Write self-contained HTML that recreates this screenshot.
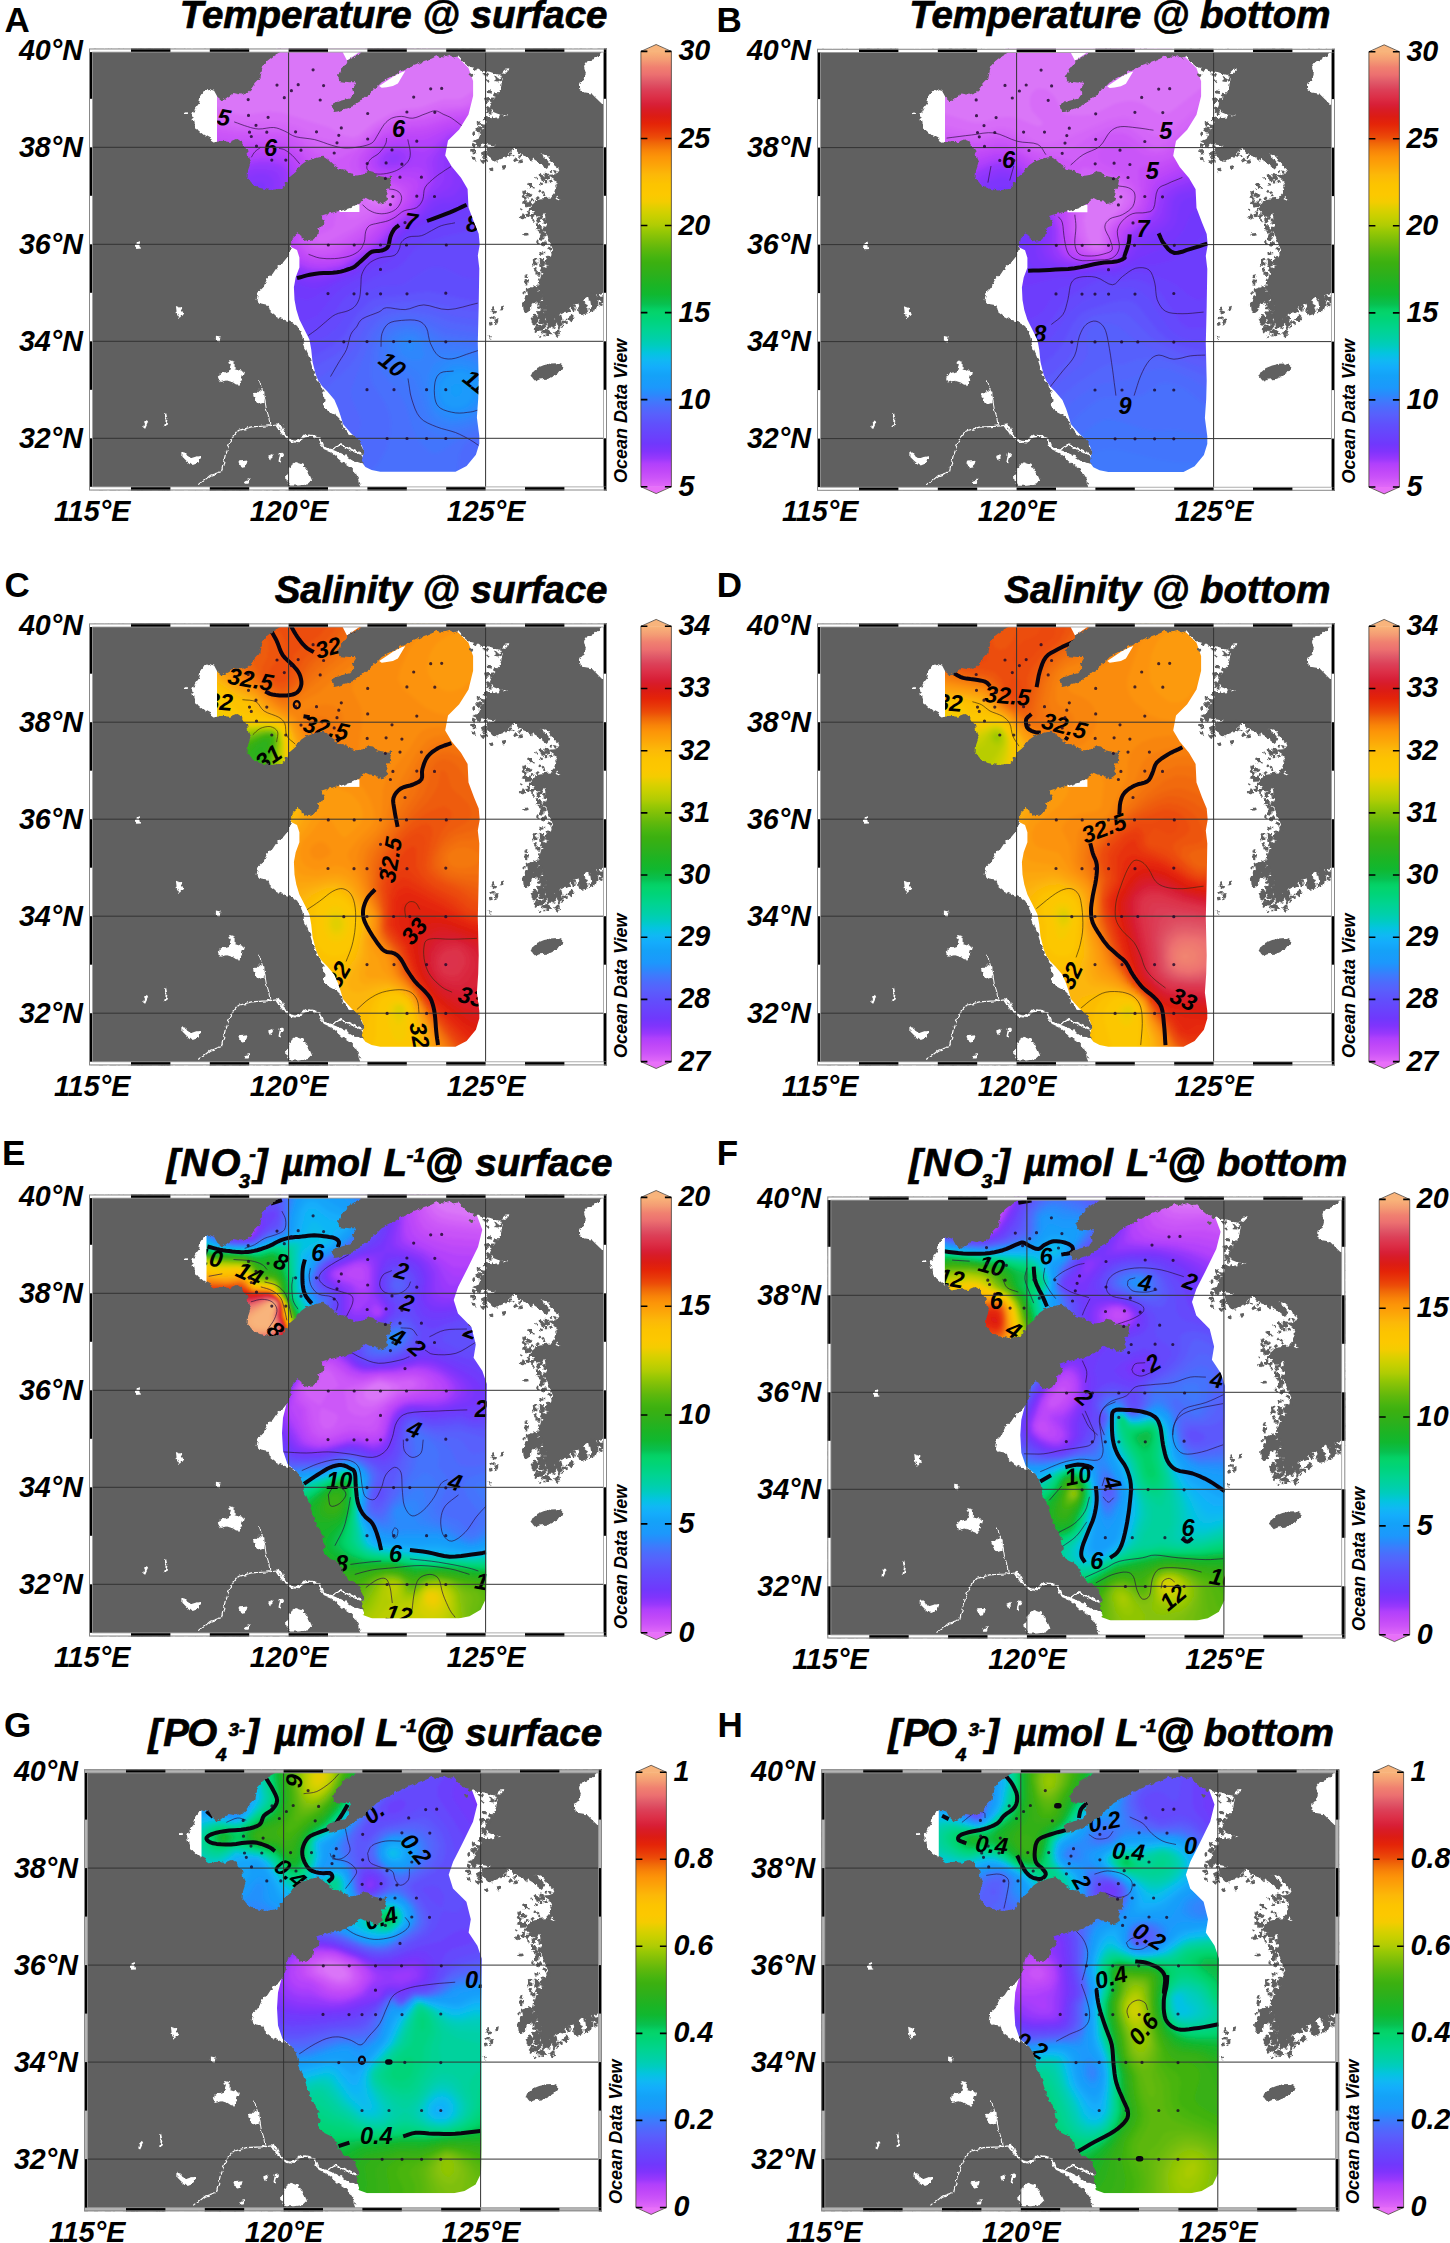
<!DOCTYPE html><html><head><meta charset="utf-8"><title>Figure</title><style>
html,body{margin:0;padding:0;background:#fff}svg{display:block}text{font-family:"Liberation Sans",sans-serif;font-weight:bold;fill:#000}.i{font-style:italic}.ax{font-size:28.7px;font-style:italic}.tt{font-size:38.5px;font-style:italic;stroke:#000;stroke-width:0.7px}.at{stroke-width:1.5px}.pl{font-size:35px}.odv{font-size:18px;font-style:italic}.cl{font-style:italic;font-size:22px}
</style></head><body>
<svg width="1450" height="2243" viewBox="0 0 1450 2243">
<defs>
<linearGradient id="cbg" x1="0" y1="1" x2="0" y2="0"><stop offset="0" stop-color="#e068f8"/><stop offset="0.0085" stop-color="#d860f8"/><stop offset="0.0198" stop-color="#cc54f8"/><stop offset="0.0365" stop-color="#c048f8"/><stop offset="0.0535" stop-color="#b040fc"/><stop offset="0.0648" stop-color="#9838fc"/><stop offset="0.0816" stop-color="#8034fc"/><stop offset="0.0986" stop-color="#7038fc"/><stop offset="0.1211" stop-color="#6844fc"/><stop offset="0.1436" stop-color="#6050fc"/><stop offset="0.1661" stop-color="#5860fc"/><stop offset="0.1829" stop-color="#4c6cfc"/><stop offset="0.1999" stop-color="#3c7cfc"/><stop offset="0.2111" stop-color="#2c88fc"/><stop offset="0.2279" stop-color="#1c98fc"/><stop offset="0.256" stop-color="#14a2f8"/><stop offset="0.273" stop-color="#14acfc"/><stop offset="0.29" stop-color="#10b8f4"/><stop offset="0.307" stop-color="#04c4e0"/><stop offset="0.3237" stop-color="#00ccc0"/><stop offset="0.3407" stop-color="#00d0a8"/><stop offset="0.363" stop-color="#00d490"/><stop offset="0.3857" stop-color="#00d478"/><stop offset="0.3997" stop-color="#04d46c"/><stop offset="0.408" stop-color="#04d064"/><stop offset="0.4195" stop-color="#08c050"/><stop offset="0.442" stop-color="#10b830"/><stop offset="0.4645" stop-color="#1cb424"/><stop offset="0.487" stop-color="#2cb01c"/><stop offset="0.515" stop-color="#3cb010"/><stop offset="0.5256" stop-color="#44b410"/><stop offset="0.548" stop-color="#60b80c"/><stop offset="0.5706" stop-color="#80c008"/><stop offset="0.5874" stop-color="#98c804"/><stop offset="0.601" stop-color="#b0cc04"/><stop offset="0.621" stop-color="#c8d000"/><stop offset="0.638" stop-color="#dcd000"/><stop offset="0.655" stop-color="#f4cc00"/><stop offset="0.672" stop-color="#fcc800"/><stop offset="0.6944" stop-color="#fcc400"/><stop offset="0.717" stop-color="#fcb808"/><stop offset="0.7395" stop-color="#fca408"/><stop offset="0.7585" stop-color="#fc9408"/><stop offset="0.772" stop-color="#f88408"/><stop offset="0.789" stop-color="#f06808"/><stop offset="0.8026" stop-color="#ec4c08"/><stop offset="0.817" stop-color="#e83808"/><stop offset="0.834" stop-color="#e42408"/><stop offset="0.851" stop-color="#dc1c14"/><stop offset="0.868" stop-color="#d81c28"/><stop offset="0.879" stop-color="#d82038"/><stop offset="0.896" stop-color="#dc3048"/><stop offset="0.913" stop-color="#dc4058"/><stop offset="0.93" stop-color="#e05868"/><stop offset="0.947" stop-color="#ec7070"/><stop offset="0.9637" stop-color="#f08070"/><stop offset="0.9807" stop-color="#f49c74"/><stop offset="0.9966" stop-color="#f8b078"/><stop offset="1" stop-color="#f8b47c"/></linearGradient>
<clipPath id="fr"><rect x="0" y="0" width="518.0" height="442.0"/></clipPath>
<filter id="jag" x="-6" y="-6" width="530" height="454" filterUnits="userSpaceOnUse"><feTurbulence type="fractalNoise" baseFrequency="0.22" numOctaves="2" seed="7" result="n"/><feDisplacementMap in="SourceGraphic" in2="n" scale="4.5" xChannelSelector="R" yChannelSelector="G"/></filter>
<filter id="bl" x="-5%" y="-5%" width="110%" height="110%"><feGaussianBlur stdDeviation="1.6"/></filter>
<g id="land" fill="#606060" filter="url(#jag)"><path d="M0,0 191.2,0 191.2,3.6 184.7,7.3 178.1,12.4 174.4,16.6 172.6,23.2 171.3,29.7 167,34 162.3,39.9 157.7,44.2 151.1,45.9 144.6,44.6 139,48.3 133.5,52.6 128.4,48.3 125.1,42.2 120.4,40.8 114.8,43.6 111.7,48.3 110.2,54.8 106.1,60 103.1,66.9 104.6,74.9 109.2,81.8 114.8,86.5 121.4,90.2 125.5,93 130.3,92.1 140,93.4 147,90.6 151.5,91.7 154.5,97.3 158.2,101.4 159.5,110.7 161.4,114.8 159,121.9 158.6,129.3 163.8,135.8 170.7,139.5 180.9,141.6 190.6,140.5 195.8,136.8 199.9,129.3 207.1,123.2 212,116.4 218.2,112.1 228.2,108.9 234.4,108.3 239.3,111.4 244.3,116.4 250.5,120.1 256.7,121.4 261.7,125.7 267.9,126.9 275.3,125.7 280.3,122.6 284,123.2 287.8,126.9 295.2,128.2 303.3,128.2 302,132.5 300.8,138.7 298.3,141.2 297.1,146.2 298.9,151.2 294.6,154.3 289,155.5 285.3,151.8 280.3,151.2 276.6,149.3 272.9,152.4 267.9,156.1 261.7,159.2 254.2,161.7 248,162.9 240.6,164.8 233.1,167.3 235.6,172.3 233.1,177.2 229.4,180.9 227.5,188.4 222,192.1 214.5,193.4 213.3,187.2 208.3,184.7 204,188.4 203.3,193.4 202.1,199.6 199.6,207 194.7,213.2 188.4,218.2 183.5,225.6 178.2,230.1 174.4,238.7 169.5,243.7 167.6,251.2 172,256.1 179.4,257.4 180.7,262.3 186.9,267.3 193.1,270.4 200.5,272.9 208,277.2 211.7,283.4 214.2,292.1 216.7,300.8 220.4,309.5 223.5,319.4 227.2,330.6 230.5,333.9 234.2,342.6 235.5,351.3 234.2,358.8 240.4,363.7 247.9,367.5 252.9,372.4 254.1,378.6 259.1,384.8 266.5,388.6 271.5,394.8 274.6,401 273.5,407.5 273.3,414.9 266.5,424.6 270.2,430.8 272.7,442 0,442Z"/><path d="M272.9,0 272.9,3.3 259.2,11.4 250.5,23.8 248.7,26.9 250.5,32.5 260.4,33.7 266.7,33.7 262.9,39.9 264.2,44.9 260.4,49.9 250.5,52.4 244.3,54.8 243.1,58.6 244.9,63.5 248.7,62.9 255.5,60.4 265.4,57.3 267.9,54.8 271.6,52.4 275.3,48.6 280.3,46.2 284,41.2 289,37.5 292.7,33.7 300.2,30 306.4,26.3 315.1,21.3 321.3,18.8 327.5,16.4 334.9,12.6 342.4,10.2 347.3,7.7 354.8,8.9 361,7.1 365,9 369,7.7 374.6,13.9 382,20.1 387,18.8 393.2,22.5 400.6,23.2 405.6,25 410.5,26.3 415.5,21.3 420.5,20.7 415.5,26.3 413,32.5 411.8,38.7 408,46.2 404.3,52.4 401.9,58.6 404.3,63.5 410.5,66 419.2,66 413,68.5 403.1,69.7 396.9,71 395.7,77.2 391.9,83.4 389.4,89.6 383.2,92.7 388.2,94.6 398.1,95.8 405.6,97 400.6,100.8 396.9,104.5 404.3,108.2 408.1,113.2 415.5,108.2 420.5,104.5 419.2,99.5 425.4,99.5 430.4,105.7 437.9,108.2 442.8,111.9 447.8,107 454,105.7 460.2,108.2 463.9,115.7 470.1,120.6 467,125.5 457.7,126.5 465.2,131.5 467.6,136.5 465.2,143.8 471.4,152.5 462.7,148.8 451.5,150 442.8,156.3 440.3,162.5 447.8,162.5 451.5,171.2 455.2,163.7 457.7,176.1 456.5,183.5 460.2,192.3 463.9,200.9 465.2,205.9 457.7,210.9 455.2,215.8 460.2,217.1 452.8,224.5 450.3,233.2 449,238.2 446,240.5 451.5,241.5 454,248.9 457.7,256.4 455.2,266.3 457.7,273.8 460.2,277.5 465.2,270.1 470.1,266.3 477.6,262.6 482.5,257.6 491.2,253.9 498.7,248.9 507.4,246.5 514.8,244 518.5,241.5 518,241.5 518,57.3 514.8,57.3 512.3,54.8 507.4,49.9 502.4,44.9 495,43.7 490,39.9 490,35 495,32.5 496.8,25 495,17.6 498.7,12.6 506.1,10.2 512.3,3.9 514,0Z"/><path d="M442.2,327.2 444.1,323.4 449,319.1 455.2,316.6 462.7,315 468.9,314.7 473.2,316.6 473.2,320.3 470.1,324 463.9,327.8 457.7,330.3 450.3,330.9 446.5,332.7 444.1,330.3Z"/><path d="M432.9,255.2 436.6,247.7 441.6,246.5 445.3,250.2 442.8,256.4 440.3,262.6 436.6,265.1 433.5,261.4ZM441.6,270.1 445.3,266.3 450.3,267.6 449,272.5 444.1,275ZM445.3,244 450.3,242.7 452.8,248.9 451.5,255.2 447.8,252.7ZM454,282.5 457.7,280 462.7,283.7 460.2,286.8 455.9,286.2ZM467.6,275 471.4,272.5 473.9,276.3 470.1,278.7ZM477.6,270.1 482.5,266.3 486.3,270.1 481.3,273.8ZM488.8,261.4 493.7,257.6 498.7,260.1 496.2,266.3 491.2,267.6ZM501.2,252.7 506.1,250.2 508.6,256.4 506.1,262.6 502.4,260.1ZM509.9,247.7 513.6,246.5 514.8,253.9 511.7,255.2ZM468.3,283.1 471.4,282.5 472,285.6 468.9,286.2ZM403.1,258.3 405.6,257.6 405.3,260.7 403.3,261.1ZM411.2,258.3 414.9,257 414.3,261.4 411.8,262ZM406.8,270.7 409.3,271.3 408.7,275 407.1,274ZM399.4,286.8 401.9,289.3 400.6,290.5ZM432.9,142.6 436.6,141.4 437.9,145.1 434.1,146.3ZM437.9,135.2 441.6,133.9 444.1,137.6 440.3,140.1ZM434.1,184.8 439.1,184.2 439.7,186.7 435.4,187.3ZM450.3,203.4 454,202.8 454.6,205.9 450.9,206.5ZM445.3,214.6 448.4,214 448.4,217.7 445.9,217.7ZM435.4,227 438.5,226.4 437.9,229.5 435.6,229.2ZM436.6,240.7 444.1,238.2 449,240.7 447.8,246.9 441.6,250.6 437.9,246.9ZM451.5,128.9 455.2,127.7 456.5,131.4 452.8,132.7ZM387.6,73.5 391.3,72.8 392.5,75.9 388.8,76.6ZM382,100.8 385.7,100.1 386.3,103.3 383.2,103.9ZM383.2,107 385.7,107.6 387,111.9 384.5,110.7ZM396.9,99.5 404.3,98.3 410.5,102 415.5,105.7 413,110.7 405.6,113.2 400.6,108.2ZM444.1,107 451.5,105.7 457.7,110.7 461.4,115.7 457.7,120.6 451.5,115.7 445.3,111.9ZM452.6,258.4 453.2,255.7 456,256.3 455.4,259.1ZM451.6,272.8 454.7,269.6 458.7,273.6 455.6,276.8ZM444.6,280.7 447.4,277.5 450.9,280.4 448.1,283.7ZM446.9,264.3 448.8,262.2 451.5,264.6 449.7,266.8ZM443.8,244.5 446.9,242.5 448.8,245.4 445.7,247.4ZM450.2,248.7 449.9,245.6 452.7,245.4 453,248.4ZM447.4,250.6 448.9,249.2 450.7,251.1 449.1,252.5ZM444.7,248.7 447.1,247.5 448.6,250.4 446.2,251.6ZM449.1,268.5 452.2,267.4 453.3,270.4 450.2,271.5ZM443.8,255.7 443.8,253.1 445.8,253 445.8,255.7ZM451.6,282.4 447.6,281 449.3,276.1 453.3,277.5ZM442.1,276.1 443,272.8 446.6,273.7 445.8,277ZM451.1,267.8 452.5,263.9 457.4,265.7 455.9,269.6ZM450,278 447.2,277.8 447.4,274.4 450.1,274.6ZM450.4,252.9 448.7,248.9 451.4,247.7 453.2,251.6ZM453.3,276.5 451.8,275.4 453.1,273.6 454.6,274.7ZM446,281.4 448.2,279.8 450.2,282.4 448,284.1ZM447.4,258.3 451.4,257.7 451.7,260.1 447.7,260.7ZM435.6,245.1 434.1,243.5 435.6,242.1 437.1,243.7ZM439,244.7 440.9,242.5 442.8,244.1 440.9,246.3ZM450.1,267.1 449.6,262.6 454.2,262.1 454.8,266.5ZM438.7,251.5 441.3,249.7 442.8,252 440.1,253.7ZM447.7,247.1 452.1,244 454.7,247.7 450.3,250.8ZM439.8,245.8 442.7,243.6 444.6,246.2 441.7,248.4ZM450.1,266 449.7,263.9 452.1,263.4 452.6,265.5ZM449,287.5 450.6,286.3 451.9,288 450.3,289.2ZM444.9,250.5 444.8,247.5 447,247.4 447.1,250.4ZM447.1,254.3 449.4,253.5 450.4,256.4 448.1,257.2ZM452.2,248.3 455.8,248 456,250.3 452.4,250.6ZM448.8,255.9 446.7,253.7 448.5,252.1 450.5,254.3ZM453.1,257.1 452,255.2 454.4,253.8 455.4,255.7ZM454.1,257.4 453.3,253.5 457.5,252.7 458.3,256.6ZM446.5,275.3 444.5,271.8 447.6,270.1 449.6,273.6ZM454.7,264.2 452.5,263 453.8,260.6 456,261.8ZM447.2,251.2 448.2,247.3 453.2,248.6 452.2,252.5ZM445.2,248 448.5,247.1 449,249.3 445.8,250.1ZM445.5,283.1 447.6,279.9 450,281.4 447.9,284.7ZM452.4,271.2 448.5,267.9 452.5,263.4 456.3,266.7ZM448.4,277.1 446.6,276.2 447.4,274.8 449.2,275.6ZM449.7,265.1 452.5,262 454.4,263.8 451.6,266.9ZM445.2,247.1 443.6,243.8 447.7,241.7 449.4,245ZM452.3,260.6 453.5,259.3 454.6,260.4 453.3,261.6ZM451.6,261.5 451.4,256.4 457.9,256.1 458.1,261.2ZM453.3,286.5 455.3,286.3 455.4,287.8 453.5,288ZM451,271.7 449.8,268.2 452.8,267.2 454,270.6ZM452.2,282 451.3,280 453.1,279.2 454,281.1ZM453.8,269.9 454.2,267.6 456.5,268 456.1,270.3ZM454.3,261.4 452.4,260.8 453.2,258.3 455.1,259ZM453.2,273.2 449.2,269.8 453.2,265.2 457.2,268.6ZM452.7,246.8 448.6,245.7 449.8,241 453.9,242ZM449.8,245 452.3,243.2 453.6,245.2 451.2,246.9ZM441.9,251.8 444.3,248.8 448.2,251.8 445.8,254.8ZM441.9,270.9 442.7,268.4 445.3,269.2 444.5,271.7ZM443.8,247.8 445.5,246.4 447.1,248.4 445.3,249.7ZM450.6,272.8 451.2,271 452.7,271.5 452.1,273.4ZM470.3,275.6 467.1,273.8 469.4,269.9 472.5,271.7ZM499.4,260 503.4,259.3 504.3,263.7 500.2,264.5ZM454.6,278.7 453.4,274.3 456.1,273.6 457.3,277.9ZM505.6,252.3 508.8,252.1 508.9,255.6 505.8,255.7ZM497.1,259.3 494.2,257 496,254.6 499,256.9ZM467.7,283.2 468.8,281 470.7,282 469.7,284.1ZM456.1,280.2 454.4,278.3 455.9,276.9 457.6,278.7ZM449.7,272.4 452,270.5 453.6,272.6 451.4,274.4ZM467.6,288.4 465,286 468,282.7 470.7,285.1ZM469.4,274.4 470.7,272 472.9,273.1 471.6,275.6ZM475.8,275.4 472.9,274.9 473.3,272.1 476.3,272.6ZM493.3,258.7 493.5,254.4 497.5,254.6 497.3,258.9ZM508.5,248.5 508.8,246.3 510.4,246.6 510.1,248.7ZM469,281 468.9,278 470.8,277.9 470.9,280.9ZM474.1,280.5 472,279.1 473.7,276.7 475.7,278ZM475.2,274.1 476.2,271.8 478.3,272.8 477.2,275ZM482.3,267.6 484.4,267.6 484.4,269.4 482.3,269.4ZM499.7,251.5 499.3,247.5 503.8,247 504.3,251ZM508.1,251.6 507.5,249.5 509.4,249 510,251.1ZM483.8,261.8 482.1,258.5 485.3,256.9 487,260.2ZM466.3,278.4 463,276.8 464.2,274.6 467.4,276.3ZM455.7,270.9 452,269.3 453.5,266 457.2,267.7ZM465,269.2 469.6,266.7 471.5,270.1 467,272.6ZM508.7,252.2 508.1,250.2 510.5,249.5 511.1,251.5ZM515.8,249.9 514.5,246.4 517.3,245.4 518.6,248.9ZM466.4,272.6 465.4,267.2 472.3,265.9 473.3,271.4ZM451.8,284.4 453,281.5 456.5,282.8 455.3,285.8ZM507.1,251.2 508.4,247.4 512.4,248.8 511.1,252.6ZM459.3,275.9 463.4,273.1 465.5,276.2 461.4,279ZM507.1,250.5 502.1,249.8 502.8,244.7 507.8,245.4ZM462.7,280.2 460.8,276 463.6,274.8 465.5,278.9ZM490.5,255.5 492.6,253.1 494.8,255.1 492.7,257.5ZM451.5,259.7 453.2,255.7 458.4,257.8 456.8,261.8ZM454.8,280.6 451.7,278.9 453.1,276.5 456.2,278.2ZM500.6,253.6 499.2,251.1 501.3,249.9 502.7,252.5ZM460.1,273.1 463.2,268.8 468.6,272.7 465.5,277ZM472.4,274.3 474.2,273.1 475.2,274.4 473.3,275.7ZM455.4,260.6 451.5,257.1 454.2,254.1 458.1,257.7ZM449.5,270.9 453.2,269.6 454.7,273.8 451.1,275.1ZM495,262.3 498.6,261.6 499.2,264.8 495.6,265.5ZM451.2,262.1 453.9,261.2 454.7,263.6 452,264.5ZM458.8,279.6 458.4,275.4 462.6,274.9 463.1,279.1ZM451.8,254.7 453.1,251.2 457,252.7 455.6,256.1ZM494.1,262 493.3,257.8 496.6,257.1 497.4,261.4ZM449.9,263.7 451.1,262 452.8,263.1 451.6,264.8ZM451.3,269.9 448.9,266.5 452.2,264.1 454.7,267.4ZM451.8,257.5 449.9,255.4 452.1,253.5 454,255.6ZM490.2,255.9 489.8,253.7 491.2,253.5 491.7,255.6ZM491.2,254.2 493.6,251.7 496.7,254.5 494.4,257.1ZM454,277.1 453.7,274 457.7,273.5 458,276.7ZM509.3,254.2 507.1,253.6 507.5,251.9 509.8,252.6ZM490.5,262.7 488,261.6 489.3,258.7 491.8,259.8ZM509,257.4 509.9,254.3 513.8,255.4 512.9,258.5ZM501.5,248 506.8,245.9 508.8,251.1 503.5,253.2ZM454.8,278.3 453,277.7 453.4,276.5 455.2,277.2ZM457.4,263.3 453.6,262.5 454.2,259.6 458.1,260.5ZM475.9,262.2 480.8,259.9 482.3,263.3 477.5,265.6ZM454.6,270.5 452.2,269 453.8,266.6 456.1,268.2ZM489.4,260.2 490.4,256.3 493.7,257.1 492.7,261ZM488.8,253.7 493.9,251.6 495.8,256.1 490.6,258.2ZM484.2,259.9 481,257.9 482.6,255.5 485.7,257.5ZM451,260.6 451.9,259.1 453.4,260.1 452.6,261.5ZM484.5,262.5 484.7,260.2 486.5,260.4 486.2,262.7ZM473.9,273.9 477.3,273 477.9,275.2 474.6,276.1ZM465.6,285 465.2,283.4 466.7,283 467.1,284.7ZM454.3,252.5 456.8,251.5 457.7,253.5 455.3,254.6ZM453.3,269.6 451.6,264.9 455.4,263.5 457.1,268.2ZM451.7,273.6 450.3,272.8 451.3,271.2 452.7,272ZM463.6,285.9 461,285.2 461.5,283.5 464.1,284.2ZM453.5,255.2 451.4,253.6 452.9,251.7 455,253.3ZM437.9,154 439.9,152.9 441.1,155.1 439.1,156.2ZM447.2,180.8 447.1,176.5 452.7,176.4 452.8,180.7ZM455.8,134.8 455.6,131.6 459.1,131.5 459.2,134.7ZM453.8,146.9 455.4,144.6 457.8,146.2 456.3,148.5ZM448.4,182.8 451.3,179.6 454,182.1 451.1,185.2ZM452.7,187.3 452.5,183.6 455.8,183.5 455.9,187.2ZM449.2,142.9 450.7,140.9 452.5,142.2 451.1,144.2ZM445.8,140.1 443.5,139.7 443.8,137.8 446.1,138.1ZM437.4,165.7 438,162.4 441.2,163 440.5,166.3ZM453.7,145.4 451.9,143.2 454.2,141.2 456.1,143.5ZM445.2,214.4 443.1,211.7 446.5,209 448.6,211.7ZM459,210.9 456.5,208.4 459.1,205.7 461.6,208.2ZM453.8,217.5 449.3,214.6 452.3,210 456.7,212.8ZM453.1,169.7 456.6,169.6 456.8,172.2 453.2,172.4ZM439.4,149.2 437.6,146.7 440.7,144.5 442.5,147.1ZM448.3,232.4 449.6,229.7 452.3,230.9 451.1,233.6ZM449.1,168.6 452.2,168.4 452.4,171.7 449.3,171.8ZM435.6,154.5 439.6,153.5 440.7,157.9 436.8,158.9ZM458.2,200.3 460.1,197.9 462.9,200.1 461,202.5ZM446.7,242 442.6,240.4 444.1,236.8 448.1,238.5ZM442,171.3 444.5,170.2 445.9,173.3 443.5,174.5ZM451.6,213.6 451,211.8 453,211.2 453.6,213ZM449.7,211.2 455,210.5 455.8,217.2 450.5,217.9ZM447.3,172.6 448.7,169.9 451.6,171.3 450.3,174ZM461.9,208.2 462.9,204.8 465.5,205.6 464.5,209ZM441.6,165.5 445.2,165.4 445.3,167.9 441.7,168ZM460,132.2 462.2,130.8 464,133.5 461.8,134.9ZM459.3,130.4 455.7,130.4 455.8,126 459.3,126ZM445,222.5 446.4,219.5 448.5,220.4 447.1,223.5ZM454.6,183.4 453.1,179.4 457,177.9 458.6,181.9ZM458.4,131.5 457.2,129.7 459.4,128.3 460.6,130.1ZM442.8,170.9 441.4,168.5 443.7,167.1 445.1,169.5ZM445.2,152.5 446.9,152.1 447.3,153.9 445.7,154.3ZM462.6,207.4 462.1,202.4 466.4,201.9 466.9,206.9ZM450.8,222.5 453.1,217.6 458.2,220 456,224.9ZM458.8,127.1 455.3,126.9 455.4,124.3 459,124.5ZM444.2,217.2 442.4,214.1 446,212 447.8,215.1ZM452.9,189 452.7,184.6 456.9,184.4 457.1,188.8ZM446.4,149.7 449,147.5 450.8,149.6 448.2,151.8ZM452.1,197.1 453.5,193.3 456.8,194.5 455.4,198.3ZM453.3,137.2 450.8,136.2 451.7,134.1 454.2,135.1ZM454.2,191.4 450.1,190.3 451.2,186.3 455.2,187.4ZM457.4,217 460.3,216.8 460.5,219.6 457.6,219.8ZM446.3,175.2 448.9,174.6 449.4,176.8 446.8,177.4ZM446.7,131.3 446.1,128.7 448,128.2 448.6,130.8ZM449.9,212.4 450.6,209.3 452.5,209.7 451.8,212.8ZM466.5,125.5 464.1,124.5 465.4,121.5 467.7,122.5ZM438.1,167.1 438.9,164.9 440.9,165.7 440.1,167.9ZM439.2,235.9 435.1,235.4 435.8,230.4 439.9,231ZM436.2,166.1 437.3,164.7 439,166 437.9,167.4ZM433.5,170.8 430.8,168 433.6,165.3 436.3,168ZM443.6,153.9 441.3,152.8 442.2,150.7 444.6,151.7ZM444.2,164.7 447.7,160.2 452.6,164.1 449,168.5ZM455.5,196 454.7,193.2 457.3,192.4 458.1,195.2ZM436.1,158.4 435.8,152.7 442.8,152.4 443.1,158.1ZM432.4,147.6 435.3,145.7 437.8,149.3 435,151.3ZM433.1,154.6 434.6,150.8 437.3,151.9 435.9,155.7ZM447.5,195.6 447.2,192.2 450.3,191.9 450.6,195.4ZM437.2,147.7 437.9,144.5 440.4,145.1 439.6,148.3ZM455.4,204.6 457,204.3 457.3,205.4 455.6,205.7ZM454.2,173.2 457.4,171.6 459,174.6 455.8,176.3ZM450.3,167 447.6,166.9 447.7,164.1 450.4,164.2ZM451.3,227.3 446.3,226.9 446.6,223.6 451.6,224.1ZM432,166.3 432.9,164.7 433.9,165.3 433,166.9ZM431.9,160.6 433.4,159.1 434.9,160.6 433.4,162.1ZM449.5,126 452.7,124.6 454.6,128.6 451.4,130.1ZM440.2,167.6 441.3,165.6 443.3,166.6 442.1,168.7ZM460.5,122.7 461.5,120.9 463.4,121.9 462.4,123.7ZM462,148.2 465.5,144 469.2,147.1 465.7,151.3ZM436.2,232.2 438.9,232 439.2,235.4 436.5,235.7ZM390.4,84.9 386.2,81.7 389.6,77.3 393.8,80.6ZM414.9,106.5 418.9,103.7 420.8,106.4 416.8,109.3ZM397.7,114.8 395,112.8 396.5,110.9 399.1,112.9ZM385.5,99.4 381.9,97.3 383.7,94.2 387.3,96.2ZM396.6,62.9 398.5,57.8 404.1,59.8 402.2,65ZM395.9,111 395,107.7 397.7,107 398.5,110.3ZM399.7,66.1 399.9,63.8 401.9,64 401.6,66.3ZM420,105.8 421.9,103.6 423.5,105 421.7,107.2ZM395.1,49.4 397.3,49 397.8,51.6 395.7,52ZM405.4,70.9 402.8,69.2 403.8,67.6 406.4,69.2ZM400.2,34.7 397.7,32.6 398.9,31.1 401.5,33.1ZM402.3,123.4 399.9,120.2 402.7,118 405.1,121.2ZM396.4,99.7 395.4,97 397.1,96.4 398.1,99ZM397,53.7 395.7,49.7 399.7,48.3 401.1,52.3ZM403.7,56.3 400,53.1 404,48.6 407.6,51.7ZM416.3,30.6 412.3,30.1 413,25 417,25.5ZM396.2,80.2 391.5,78.9 392.6,75.2 397.2,76.4ZM425.4,113.8 423.6,110.7 427.1,108.7 428.9,111.8ZM394.6,26.8 394.7,24.6 396.6,24.6 396.6,26.9ZM394.2,109.2 391.7,104.2 396.6,101.7 399.2,106.6ZM393.8,109.3 396.2,109 396.4,110.4 394,110.8ZM386.4,96.4 388.8,91.9 393.4,94.4 391,98.9ZM413.6,121.2 412.7,117.3 416,116.5 416.9,120.4ZM406.9,30.5 404.9,28.7 406.4,27.1 408.3,28.9ZM423,106.9 424,105.2 425.7,106.1 424.7,107.9ZM410.7,32 409.8,29.8 412.5,28.7 413.4,30.9ZM410.9,68.7 412.3,65.5 414.9,66.6 413.5,69.8ZM383.2,28.4 380.3,26.7 381.7,24.4 384.6,26ZM396.1,60.6 398.3,58.7 399.6,60.2 397.4,62.1ZM430.8,115.1 429.4,112.2 432,110.9 433.4,113.8ZM406.1,49.2 403.8,47.9 405,45.9 407.2,47.2ZM396.7,24.8 398.8,23.8 400,26.3 397.9,27.3ZM407.6,49 404,47.9 405.3,43.6 408.9,44.7ZM396.2,111.9 395.3,110.1 396.5,109.4 397.4,111.2ZM382.4,87.4 382.3,83.9 385.9,83.9 386,87.4ZM398.8,61.6 395.9,60.4 397.1,57.6 399.9,58.7ZM398.6,44.6 399.2,41.4 403.1,42.1 402.5,45.3ZM420.9,104.1 417,101 419.9,97.2 423.9,100.3ZM394.5,72.1 396.3,67.6 400.4,69.3 398.6,73.8ZM394.7,115.5 391.4,113.8 392.8,111.3 396,113ZM411.5,27.6 410.8,24.7 413.1,24.1 413.8,27.1ZM387.1,23.1 383,20.9 385.4,16.4 389.5,18.5ZM429.3,108 431.5,106.2 432.8,107.8 430.7,109.6ZM405.4,33.7 405.8,29.6 410.2,30 409.8,34.1ZM384.9,105.9 384,101.8 386.6,101.2 387.5,105.3ZM403.6,270.9 403.9,267.7 406.7,268 406.4,271.2ZM404.3,265.8 402.4,263 405.4,260.9 407.3,263.6ZM402.4,271.6 401.3,269.9 403,268.8 404.1,270.5ZM404.6,274.1 407.6,272.1 408.9,274 405.9,276ZM405.4,262 407.1,261.5 407.5,262.8 405.8,263.3ZM400.6,277.2 399.7,273.9 401.9,273.3 402.8,276.7Z"/><path fill="#fff" d="M140,311.4 145.6,313.2 145.6,320.7 154.9,323.5 153,330 149.3,337.4 143.7,333.7 138.1,331.9 130.7,333.7 128.8,328.1 134.4,324.4 140,322.5 141.8,317ZM164.2,346.8 169.8,341.2 175.4,343 175.4,354.2 169.8,356.1 166,352.3ZM86.9,257.4 91.6,259.2 94.4,264.8 90.6,269.5 87.8,264.8ZM126.9,287.2 131.6,288.1 130.7,292.7 126.9,291.8ZM54.9,375.6 58.4,371.9 59.2,373.8 56.2,380.3 54.3,379.3ZM75.2,364.4 77,363.9 78.5,371 77,378.4 75.2,377.5 76.7,371ZM93.4,403.5 97.1,404.5 100.9,410.1 106.5,408.2 112,407.3 110.2,413.8 102.7,416.6 97.1,411.9 93.4,408.2ZM149.3,412.9 158.6,411.9 156.7,418.4 152.1,419.4ZM179.1,408.2 183.7,406.3 180.9,411.9ZM191.2,403.5 194,405.4 191.2,414.7 189.3,413.8ZM154.9,432.4 160.5,430.6 159.5,435.2 155.8,435.2ZM197,425.8 202,417.1 206.9,413.4 214.4,415.9 219.3,423.3 223.1,432 219.3,435.7 210.7,437 200.7,437 197.6,432ZM94.9,64.5 97.5,63.4 98.1,65.2 95.7,66.4ZM47.8,193.5 50.6,192.6 52.1,200.1 46.9,200.4ZM227.4,387.9 231.1,389.2 234.2,397.3 238.6,399.7 243.5,401 247.9,402.5 253.5,405.3 260.3,409 267.8,413.6 273.3,414.9 274.6,420.8 266.5,424.6 261.5,419.6 254.1,414.6 247.9,409 241.7,404.1 235.5,401.4 231.8,396.6 228.7,389.8Z"/><path fill="none" stroke="#fff" stroke-width="2.0" d="M243.5,401.3 246.7,399 250.4,396.3 255.3,397.5 262.8,401.3 267.8,404 273,406.3"/><path fill="none" stroke="#fff" stroke-width="1.2" d="M110.2,436.1 121.4,426.8 132.5,423.1 136.3,406.3 141.8,391.4 149.3,382.1 162.3,378.4 177.2,377.5 188.4,376.5"/><path fill="none" stroke="#fff" stroke-width="2.2" d="M188.3,377.4 193.3,384.8 202,392.3 208.2,393.5 215.6,387.9 221,387 228,388.6"/><path fill="none" stroke="#fff" stroke-width="2.5" d="M188.4,376.5 193,378.4 194.9,384.9"/><path fill="none" stroke="#fff" stroke-width="1.0" d="M169.8,331.9 172.6,339.3 175.4,348.6 177.2,359.8 180,369.1 180.9,376.5"/><path d="M246.7,399.7 251.6,397.3 259.1,401 266.5,407.2 272.7,410.9 272.7,414.6 267.8,413.4 260.3,408.4 252.9,404.7 247.9,402.2Z"/></g>
<g id="grid"><line x1="199.6" y1="2" x2="199.6" y2="440.0" stroke="#333" stroke-width="1"/><line x1="396.6" y1="2" x2="396.6" y2="440.0" stroke="#333" stroke-width="1"/><line x1="2" y1="98.8" x2="516.0" y2="98.8" stroke="#333" stroke-width="1"/><line x1="2" y1="195.8" x2="516.0" y2="195.8" stroke="#333" stroke-width="1"/><line x1="2" y1="292.8" x2="516.0" y2="292.8" stroke="#333" stroke-width="1"/><line x1="2" y1="389.8" x2="516.0" y2="389.8" stroke="#333" stroke-width="1"/></g>
<g id="frameW"><rect x="0" y="0" width="518.0" height="3.6" fill="#fff"/><rect x="0" y="438.4" width="518.0" height="3.6" fill="#fff"/><rect x="0" y="0" width="3.6" height="442.0" fill="#fff"/><rect x="514.4" y="0" width="3.6" height="442.0" fill="#fff"/><rect x="42.0" y="0" width="39.4" height="3.6" fill="#000"/><rect x="42.0" y="438.4" width="39.4" height="3.6" fill="#000"/><rect x="120.8" y="0" width="39.4" height="3.6" fill="#000"/><rect x="120.8" y="438.4" width="39.4" height="3.6" fill="#000"/><rect x="199.6" y="0" width="39.4" height="3.6" fill="#000"/><rect x="199.6" y="438.4" width="39.4" height="3.6" fill="#000"/><rect x="278.4" y="0" width="39.4" height="3.6" fill="#000"/><rect x="278.4" y="438.4" width="39.4" height="3.6" fill="#000"/><rect x="357.2" y="0" width="39.4" height="3.6" fill="#000"/><rect x="357.2" y="438.4" width="39.4" height="3.6" fill="#000"/><rect x="436.0" y="0" width="39.4" height="3.6" fill="#000"/><rect x="436.0" y="438.4" width="39.4" height="3.6" fill="#000"/><rect x="514.8" y="0" width="3.2" height="3.6" fill="#000"/><rect x="514.8" y="438.4" width="3.2" height="3.6" fill="#000"/><rect x="0" y="3.6" width="3.6" height="46.7" fill="#000"/><rect x="514.4" y="3.6" width="3.6" height="46.7" fill="#000"/><rect x="0" y="98.8" width="3.6" height="48.5" fill="#000"/><rect x="514.4" y="98.8" width="3.6" height="48.5" fill="#000"/><rect x="0" y="195.8" width="3.6" height="48.5" fill="#000"/><rect x="514.4" y="195.8" width="3.6" height="48.5" fill="#000"/><rect x="0" y="292.8" width="3.6" height="48.5" fill="#000"/><rect x="514.4" y="292.8" width="3.6" height="48.5" fill="#000"/><rect x="0" y="389.8" width="3.6" height="48.5" fill="#000"/><rect x="514.4" y="389.8" width="3.6" height="48.5" fill="#000"/><rect x="0.5" y="0.5" width="517.0" height="441.0" fill="none" stroke="#888" stroke-width="1"/><rect x="3.6" y="3.6" width="510.8" height="434.8" fill="none" stroke="#999" stroke-width="0.8"/></g>
<g id="frameG"><rect x="0" y="0" width="518.0" height="3.6" fill="#b4b4b4"/><rect x="0" y="438.4" width="518.0" height="3.6" fill="#b4b4b4"/><rect x="0" y="0" width="3.6" height="442.0" fill="#b4b4b4"/><rect x="514.4" y="0" width="3.6" height="442.0" fill="#b4b4b4"/><rect x="42.0" y="0" width="39.4" height="3.6" fill="#000"/><rect x="42.0" y="438.4" width="39.4" height="3.6" fill="#000"/><rect x="120.8" y="0" width="39.4" height="3.6" fill="#000"/><rect x="120.8" y="438.4" width="39.4" height="3.6" fill="#000"/><rect x="199.6" y="0" width="39.4" height="3.6" fill="#000"/><rect x="199.6" y="438.4" width="39.4" height="3.6" fill="#000"/><rect x="278.4" y="0" width="39.4" height="3.6" fill="#000"/><rect x="278.4" y="438.4" width="39.4" height="3.6" fill="#000"/><rect x="357.2" y="0" width="39.4" height="3.6" fill="#000"/><rect x="357.2" y="438.4" width="39.4" height="3.6" fill="#000"/><rect x="436.0" y="0" width="39.4" height="3.6" fill="#000"/><rect x="436.0" y="438.4" width="39.4" height="3.6" fill="#000"/><rect x="514.8" y="0" width="3.2" height="3.6" fill="#000"/><rect x="514.8" y="438.4" width="3.2" height="3.6" fill="#000"/><rect x="0" y="3.6" width="3.6" height="46.7" fill="#000"/><rect x="514.4" y="3.6" width="3.6" height="46.7" fill="#000"/><rect x="0" y="98.8" width="3.6" height="48.5" fill="#000"/><rect x="514.4" y="98.8" width="3.6" height="48.5" fill="#000"/><rect x="0" y="195.8" width="3.6" height="48.5" fill="#000"/><rect x="514.4" y="195.8" width="3.6" height="48.5" fill="#000"/><rect x="0" y="292.8" width="3.6" height="48.5" fill="#000"/><rect x="514.4" y="292.8" width="3.6" height="48.5" fill="#000"/><rect x="0" y="389.8" width="3.6" height="48.5" fill="#000"/><rect x="514.4" y="389.8" width="3.6" height="48.5" fill="#000"/><rect x="0.5" y="0.5" width="517.0" height="441.0" fill="none" stroke="#888" stroke-width="1"/><rect x="3.6" y="3.6" width="510.8" height="434.8" fill="none" stroke="#999" stroke-width="0.8"/></g>
</defs>
<rect width="1450" height="2243" fill="#fff"/>
<g transform="translate(89,48.5)">
<g clip-path="url(#fr)">
<clipPath id="rgA"><path d="M128,36.5 128,97.5 151,103.5 154,137.5 173,144.5 197,142.5 204,127.5 211,151.5 201,187.5 202,198.5 208,201.5 210.4,208.9 210.4,218.9 206.7,228.8 204.9,238.7 205.5,251.2 207.3,261.1 210.4,271 215.4,280.9 220.4,290.9 222.2,300.8 223.5,313.2 226.6,325.6 229.1,331.8 233,337.5 238,342.5 245.4,351.3 249.1,360 251.6,367.5 254,375.5 257.2,379.3 261.5,384.2 267,389.5 273,397.5 275,403.5 273,409.5 272.7,413.4 276.4,418.4 282.6,421.5 291.3,423.3 366.5,423.3 377.6,417.5 386.9,406.3 390.3,395.2 390.3,387.5 387.9,369.1 389.2,350.5 389.7,331.9 388.8,294.5 389.7,257.4 390.3,220.1 388.8,207.1 390.7,196.3 389.7,185.2 385.1,174 379.5,159.1 378.6,140.5 372,129.3 362.7,118.1 356.2,107 359,92.1 370.2,80.9 379.5,66 384.1,47.4 384.1,32.5 379.5,19.4 370.2,10.1 363,3.5 351,-2.5 191,-2.5 173,11.5 166,31.5 141,41.5Z"/></clipPath><g clip-path="url(#rgA)"><g filter="url(#bl)"><rect x="-10" y="-10" width="538.0" height="462.0" fill="#da76f8"/><path fill="#d76cf8" fill-rule="evenodd" d="M518,442l-518,0 0,-439 62,24 78,37 14,3 26,-4 12,1 48,15 14,8 10,2 6,-2 14,-12 20,-11 10,-3 18,-2 22,-8 14,0 5,-1 41,-27 16,-7 18,-8 30,-8 40,0zM296,156l4,-3 1,-3 -1,-2 -4,-2 -6,0 -6,1 -5,3 -1,2 1,2 5,2 8,1z"/><path fill="#d466f8" fill-rule="evenodd" d="M518,442l-518,0 0,-426 50,19 67,29 21,8 16,2 32,0 10,1 12,3 22,12 20,4 10,1 10,-3 16,-14 18,-10 10,-2 18,-2 22,-7 18,0 10,-5 36,-21 26,-11 36,-10 38,-7zM266,170l16,-8 12,-2 6,-3 4,-5 0,-4 -1,-2 -5,-3 -8,-1 -18,1 -8,3 -4,4 -2,4 -1,10 1,4 2,2z"/><path fill="#d060f8" fill-rule="evenodd" d="M518,442l-518,0 0,-416 42,15 86,33 20,5 40,1 10,1 12,5 18,12 8,3 8,0 16,-2 8,-2 6,-4 14,-13 8,-5 10,-4 28,-4 20,-6 20,-2 8,-3 38,-19 28,-11 34,-9 36,-5zM235,194l6,-2 23,-12 20,-14 16,-7 4,-3 2,-4 0,-6 -5,-4 -7,-2 -26,-3 -6,1 -5,2 -4,4 -3,8 -5,26 -3,3 -11,5 -3,4 0,2 2,2z"/><path fill="#cd59f8" fill-rule="evenodd" d="M518,442l-518,0 0,-406 104,36 27,8 17,3 40,1 10,1 12,6 16,13 12,5 8,2 6,-2 16,-9 20,-17 16,-9 10,-2 20,-2 20,-6 22,-3 50,-21 26,-8 32,-8 34,-4zM234,200l8,-2 8,-4 20,-13 16,-12 16,-9 4,-4 2,-4 1,-4 -2,-4 -7,-4 -18,-4 -20,-5 -6,-1 -4,2 -6,10 -10,28 -11,12 -4,6 0,6 1,4 5,2z"/><path fill="#c954f8" fill-rule="evenodd" d="M518,442l-518,0 0,-396 89,28 31,9 26,4 46,1 8,2 8,5 25,21 4,4 3,6 -1,12 -4,18 -5,10 -12,16 -2,8 1,6 3,5 4,2 8,1 12,-2 14,-8 18,-12 13,-12 13,-8 7,-8 2,-4 0,-4 -2,-4 -2,-2 -7,-3 -16,-3 -10,-4 -9,-6 -4,-6 0,-4 3,-6 20,-19 8,-6 16,-7 26,-3 22,-6 24,-4 50,-18 28,-8 30,-6 30,-3z"/><path fill="#c54ef8" fill-rule="evenodd" d="M518,442l-518,0 0,-383 77,21 36,8 29,4 48,1 8,2 6,3 8,6 13,14 5,8 1,8 -1,10 -3,10 -15,28 -1,6 0,6 3,6 4,4 6,3 10,0 8,-1 7,-2 25,-16 18,-16 14,-10 7,-8 2,-8 -3,-6 -7,-4 -23,-6 -9,-6 -4,-6 0,-6 3,-6 12,-13 10,-7 14,-6 28,-3 22,-7 30,-5 68,-18 30,-5 32,-3z"/><path fill="#c048f8" fill-rule="evenodd" d="M518,442l-518,0 0,-370 64,14 40,7 32,3 50,1 8,1 8,3 9,7 8,10 4,8 2,8 -1,8 -2,10 -14,28 -2,8 1,6 3,6 6,6 8,4 10,0 10,-1 6,-2 30,-19 14,-14 17,-14 6,-8 2,-8 -1,-4 -2,-2 -7,-4 -24,-6 -6,-4 -4,-6 -1,-6 4,-8 8,-9 10,-7 12,-4 28,-3 24,-8 32,-5 60,-12 34,-5 32,-1z"/><path fill="#bb45f9" fill-rule="evenodd" d="M518,442l-518,0 0,-358 55,10 41,6 34,2 52,-2 10,1 8,3 7,6 6,8 4,8 2,10 -3,14 -13,30 -1,8 1,6 4,8 7,6 9,4 11,1 10,-1 7,-2 31,-20 14,-14 18,-16 6,-8 3,-12 -1,-4 -2,-2 -6,-2 -26,-6 -6,-4 -3,-4 -1,-6 3,-6 6,-8 9,-7 14,-4 26,-1 20,-8 12,-3 98,-12 26,-2 26,0z"/><path fill="#b442fb" fill-rule="evenodd" d="M518,442l-518,0 0,-346 52,8 38,3 34,1 52,-4 12,1 10,3 6,5 5,7 3,8 1,8 -3,14 -12,28 -1,8 1,8 4,8 9,8 11,5 12,1 10,-1 8,-2 33,-21 15,-16 18,-16 7,-10 5,-14 -2,-4 -2,-2 -7,-2 -25,-3 -6,-2 -5,-5 -1,-6 2,-6 6,-6 8,-6 12,-3 20,1 8,-1 20,-10 14,-3 96,-6 50,0z"/><path fill="#af40fc" fill-rule="evenodd" d="M518,442l-518,0 0,-334 50,6 38,1 34,-1 50,-6 12,0 10,2 6,4 4,6 3,6 1,8 -3,14 -9,22 -3,8 -1,10 2,8 6,9 9,7 13,5 12,2 12,-2 8,-3 32,-20 17,-18 18,-16 12,-18 2,-6 0,-4 -1,-4 -4,-4 -6,-1 -26,0 -6,-1 -5,-4 -1,-4 1,-6 5,-6 6,-4 6,-2 6,-1 20,3 6,0 6,-2 18,-12 12,-3 100,-1 46,3z"/><path fill="#a83dfc" fill-rule="evenodd" d="M518,442l-518,0 0,-327 46,4 38,1 36,-2 52,-8 12,0 10,3 4,3 4,6 2,6 1,8 -3,12 -12,28 -1,10 2,10 6,10 9,7 14,6 14,1 12,-2 8,-2 34,-22 16,-17 20,-17 12,-20 2,-6 0,-6 -2,-5 -4,-4 -6,-1 -14,3 -10,1 -8,-2 -4,-2 -2,-4 2,-6 4,-5 6,-4 6,-1 6,0 16,5 6,1 8,-4 18,-14 12,-3 40,2 62,1 44,4z"/><path fill="#a13bfc" fill-rule="evenodd" d="M518,442l-518,0 0,-321 46,3 38,0 36,-3 50,-9 12,0 10,3 4,2 3,5 3,6 0,8 -3,12 -11,28 -1,10 2,10 6,10 10,8 15,6 14,1 12,-2 8,-2 32,-20 6,-5 14,-16 20,-16 12,-20 3,-6 0,-6 -4,-14 1,-4 15,-16 9,-7 6,-1 8,-1 36,3 66,3 40,4zM312,118l-10,2 -8,-2 -3,-2 0,-2 0,-4 5,-6 6,-3 8,-1 6,1 7,5 1,4 -3,4z"/><path fill="#9a39fc" fill-rule="evenodd" d="M518,442l-518,0 0,-315 46,2 38,0 36,-4 50,-11 10,0 10,2 4,3 4,5 1,6 0,6 -2,10 -10,22 -2,8 -1,10 2,10 6,10 10,8 16,7 14,2 12,-2 10,-3 32,-20 6,-5 16,-17 18,-14 15,-22 3,-6 1,-6 -2,-14 2,-6 11,-14 8,-5 12,-2 36,4 68,4 38,5zM310,116l-8,1 -6,-1 -2,-2 0,-4 3,-4 5,-3 6,-1 4,1 4,3 1,4 -2,4z"/><path fill="#9337fc" fill-rule="evenodd" d="M518,442l-518,0 0,-309 48,2 40,-2 32,-4 48,-12 10,0 8,1 4,2 4,4 2,10 -2,12 -9,20 -3,10 -1,12 3,10 7,10 11,8 16,6 14,2 10,-1 12,-4 32,-19 7,-6 15,-17 20,-15 19,-28 2,-6 -1,-14 3,-8 7,-10 8,-6 10,0 36,5 62,5 44,6zM306,114l-4,0 -3,-2 1,-4 6,-2 4,1 1,3 -1,2z"/><path fill="#8d36fc" fill-rule="evenodd" d="M518,442l-518,0 0,-300 48,0 40,-2 34,-6 44,-13 10,0 7,1 4,2 3,4 1,8 -2,10 -9,20 -3,10 -1,12 3,10 7,10 12,9 20,8 14,1 12,-2 12,-4 32,-20 7,-6 15,-16 19,-14 11,-16 11,-10 3,-4 2,-6 -1,-12 2,-8 5,-10 5,-4 9,0 32,6 66,7 44,8z"/><path fill="#8635fc" fill-rule="evenodd" d="M518,442l-518,0 0,-291 52,-1 42,-4 34,-7 38,-13 6,-1 6,1 6,4 1,6 -1,8 -9,20 -4,12 0,12 4,12 7,10 12,9 22,7 14,2 10,-1 16,-5 34,-21 6,-5 14,-16 22,-16 10,-14 18,-10 3,-4 1,-4 0,-18 1,-6 2,-4 3,-3 8,-1 26,5 62,8 52,11z"/><path fill="#7e34fc" fill-rule="evenodd" d="M518,442l-518,0 0,-282 52,-2 44,-4 34,-7 36,-13 8,0 2,2 0,6 -9,22 -3,12 1,14 5,12 10,12 12,8 26,8 12,1 20,-6 14,-6 30,-19 18,-20 21,-14 11,-13 6,-3 12,-2 4,-2 6,-8 5,-20 3,-4 2,-1 6,-1 12,0 50,5 34,7 34,9z"/><path fill="#7836fc" fill-rule="evenodd" d="M518,442l-518,0 0,-269 52,-3 76,-9 14,1 4,2 3,4 6,20 5,12 5,8 8,8 9,7 10,4 28,7 8,0 10,-2 22,-8 32,-20 8,-6 14,-16 19,-12 13,-12 6,-3 12,-1 6,-2 7,-6 13,-15 4,-3 6,-3 18,-1 30,3 34,7 36,11z"/><path fill="#7138fc" fill-rule="evenodd" d="M518,442l-518,0 0,-255 98,-7 14,0 10,1 6,3 6,3 23,27 9,8 8,5 16,6 20,3 10,3 6,1 10,-3 28,-12 16,-11 16,-9 6,-5 13,-16 19,-11 12,-8 6,-3 14,-3 6,-2 24,-16 10,-4 18,-2 26,3 32,9 36,13z"/><path fill="#6d3dfc" fill-rule="evenodd" d="M518,442l-518,0 0,-237 78,-5 16,0 14,2 10,3 8,4 28,19 16,9 14,6 34,9 6,-2 26,-16 16,-6 16,-12 16,-8 7,-6 11,-14 6,-4 28,-15 20,-5 34,-13 18,-2 24,3 32,10 35,14 5,3z"/><path fill="#6943fc" fill-rule="evenodd" d="M518,442l-518,0 0,-212 64,-4 18,1 16,2 24,7 78,34 8,2 8,1 6,-2 6,-3 16,-20 9,-8 17,-9 14,-10 14,-6 6,-4 18,-20 30,-14 34,-9 24,-2 24,3 31,11 27,12 26,14z"/><path fill="#6549fc" fill-rule="evenodd" d="M518,442l-518,0 0,-185 52,-3 36,2 30,7 66,21 16,3 14,-1 10,-3 9,-5 8,-8 13,-18 9,-8 23,-15 22,-9 6,-5 12,-14 8,-5 22,-8 28,-6 16,1 20,6 56,23 22,12 20,12z"/><path fill="#614efc" fill-rule="evenodd" d="M518,442l-518,0 0,-157 44,-1 32,1 28,4 64,12 18,1 16,-1 20,-5 16,-8 10,-9 18,-25 6,-6 8,-5 12,-5 16,-1 6,-1 22,-14 6,-3 6,-1 6,1 18,9 10,2 6,1 18,-4 12,-1 16,1 16,4 18,7 18,9 17,11 15,13z"/><path fill="#5e54fc" fill-rule="evenodd" d="M518,442l-518,0 0,-127 66,-1 88,7 30,-1 14,-3 16,-5 16,-7 12,-7 12,-10 12,-20 8,-9 8,-7 8,-3 22,-2 18,-3 10,-1 42,9 40,-1 20,3 22,8 20,13 18,17 16,22z"/><path fill="#5b5bfc" fill-rule="evenodd" d="M518,442l-518,0 0,-101 52,0 88,1 24,-1 22,-5 26,-10 34,-20 8,-6 6,-7 11,-19 7,-9 9,-7 11,-3 28,-3 10,0 40,9 48,4 21,7 19,11 15,15 14,20 8,18 6,22 7,46 4,18z"/><path fill="#5761fc" fill-rule="evenodd" d="M464,442l-464,0 0,-73 128,-1 28,-3 24,-5 14,-6 12,-7 48,-35 11,-12 14,-26 9,-8 8,-4 10,-2 16,-2 12,1 32,9 40,6 20,5 12,6 10,6 8,8 8,9 6,10 5,12 3,12 1,14 -3,24 -11,40 -1,12 2,10z"/><path fill="#5266fc" fill-rule="evenodd" d="M418,442l-418,0 0,-47 98,-1 34,-1 34,-4 28,-8 14,-7 10,-8 7,-8 14,-20 21,-19 9,-13 12,-24 7,-9 7,-5 9,-3 12,-2 12,1 11,2 23,8 36,6 20,6 11,6 10,8 8,8 6,10 4,10 2,12 0,12 -2,12 -5,12 -6,10 -22,24 -5,8 -3,10z"/><path fill="#4d6bfc" fill-rule="evenodd" d="M388,442l-388,0 0,-23 108,1 48,-2 28,-3 30,-5 24,-5 14,-5 12,-8 5,-6 2,-6 1,-6 -1,-6 -8,-18 -1,-8 22,-56 6,-8 8,-6 12,-4 12,0 14,2 22,10 34,6 19,6 11,6 9,8 6,8 5,10 3,10 0,10 -1,10 -4,10 -6,10 -10,10 -10,7 -20,9 -4,4 -2,4 -1,6 2,28z"/><path fill="#4870fc" fill-rule="evenodd" d="M364,442l-122,0 20,-6 15,-8 12,-12 9,-16 3,-14 1,-12 -1,-8 -4,-10 -13,-21 -2,-7 0,-10 2,-16 5,-14 5,-8 10,-6 12,-2 12,1 10,3 18,10 30,4 14,4 10,5 9,7 7,8 5,10 3,10 0,10 -2,10 -4,8 -8,10 -8,7 -12,6 -18,6 -7,5 -5,10 -2,22 -3,14z"/><path fill="#4375fc" fill-rule="evenodd" d="M348,405l-4,0 -4,-2 -10,-10 -7,-13 -6,-22 -4,-8 -5,-8 -14,-16 -4,-8 -1,-14 4,-14 5,-8 10,-5 10,-2 10,1 8,3 18,11 28,4 14,4 10,5 8,7 6,8 4,8 2,10 -1,12 -4,10 -8,10 -11,9 -27,11 -21,14z"/><path fill="#3e7afc" fill-rule="evenodd" d="M364,386l-8,2 -6,-1 -6,-2 -6,-5 -7,-10 -5,-18 -6,-13 -6,-8 -12,-10 -4,-5 -3,-10 0,-10 4,-8 7,-6 10,-4 10,1 8,4 12,8 6,3 28,4 10,3 14,8 6,5 4,6 4,10 1,10 -2,10 -6,10 -7,8 -8,6z"/><path fill="#397efc" fill-rule="evenodd" d="M366,380l-8,1 -6,-1 -6,-3 -4,-4 -5,-9 -5,-16 -6,-16 -5,-6 -14,-10 -5,-6 -2,-6 1,-8 2,-6 5,-5 8,-3 10,1 6,3 12,10 6,4 28,2 12,4 10,6 7,8 4,8 1,10 -2,10 -5,10 -7,8 -8,6 -12,5z"/><path fill="#3482fc" fill-rule="evenodd" d="M370,376l-8,1 -8,-1 -7,-4 -5,-6 -3,-8 -8,-32 -4,-4 -15,-9 -6,-7 -1,-6 0,-4 2,-4 3,-4 8,-3 8,1 6,4 10,11 4,3 6,1 20,0 10,2 12,5 8,8 4,8 1,8 -1,10 -3,8 -6,8 -7,6 -10,5z"/><path fill="#2e87fc" fill-rule="evenodd" d="M330,312l-10,-1 -8,-6 -2,-7 1,-4 3,-4 4,-1 4,-1 4,2 5,4 3,6 1,6 -1,4zM374,372l-12,2 -10,-4 -7,-6 -4,-10 -3,-16 1,-12 5,-10 4,-3 7,-3 15,-2 14,3 11,7 4,6 3,6 1,6 -1,8 -5,12 -10,10z"/><path fill="#298bfc" fill-rule="evenodd" d="M322,302l-4,-1 -1,-3 1,-3 2,-2 3,1 2,4 -1,4zM368,370l-6,0 -6,-2 -8,-6 -5,-10 -2,-14 3,-10 10,-12 8,-4 10,-1 11,3 9,6 5,10 1,10 -2,10 -7,10 -9,7z"/><path fill="#2490fc" fill-rule="evenodd" d="M370,366l-10,0 -8,-6 -5,-8 -2,-10 2,-10 7,-9 8,-6 8,-1 10,2 7,4 5,8 1,8 -2,10 -4,8 -7,6z"/><path fill="#1f95fc" fill-rule="evenodd" d="M370,362l-8,0 -7,-4 -5,-8 -1,-8 1,-8 6,-8 6,-4 8,-2 8,1 6,5 4,6 1,6 -2,10 -3,6 -6,5z"/><path fill="#1a9afb" fill-rule="evenodd" d="M372,358l-8,1 -6,-3 -4,-5 -2,-7 0,-6 4,-7 6,-5 6,-2 6,0 4,2 4,4 2,6 0,8 -2,6 -4,5z"/><path fill="#189dfa" fill-rule="evenodd" d="M370,347l-4,1 -4,-4 0,-5 4,-3 4,0 3,4 -1,4z"/></g><path fill="none" stroke="#2a1040" stroke-opacity="0.75" stroke-width="0.9" stroke-linejoin="round" d="M145.2,73.4 148.6,74.6 152,75.9 155.4,77.1 158.6,78.1 161.5,79 164.1,79.7 166.8,80.2 169.8,80.5 173.4,80.3 177.3,79.7 181.2,79.1 184.7,79 187.7,79.5 190.5,80.4 193.1,81.5 195.8,82.7 198.4,84 200.9,85.6 203.7,87.1 207,88.3 211.2,89.1 216,89.7 220.9,90.3 225.6,91.1 230,92.4 234.3,93.9 238.5,95.4 242.4,96.7 245.9,97.7 249.1,98.5 252.2,99.1 255.5,99.5 259.2,99.5 263,99.3 266.8,98.9 270.4,98.3 273.8,97.7 277.1,96.9 280.2,95.9 282.8,94.6 284.8,92.8 286.3,90.6 287.6,88.3 289,85.9 290.5,83.4 292,80.7 293.6,78.2 295.2,75.9 296.9,74 298.7,72.3 300.6,70.9 302.7,69.7 305,68.9 307.4,68.3 310,68 312.6,67.9 315.3,68.2 318,69 320.9,69.6 323.8,69.7 326.9,69 330.1,67.9 333.2,66.5 336.2,65.4 338.9,64.4 341.4,63.4 343.8,62.6 346.1,62.3 348.4,62.7 350.6,63.7 352.7,64.9 354.8,66 356.8,66.8 358.6,67.6 360.5,68.4 362.7,69.7 365.3,71.5 368.1,73.6 371,75.9 373.9,78.1M318.8,90.8 319.5,94.3 320.4,98 321,101.4 321.3,104.5 321.2,107.1 320.8,109.2 320,111.2 318.8,113.2 317.1,115.2 314.9,117.2 312.5,119 310.1,120.6 307.7,121.9 305.3,122.9 302.8,123.7 300.2,124.4 297.4,125 294.5,125.4 291.7,125.6 289,125.6 286.5,125.3 284.1,124.7 282,124 280.3,123.1 279.1,122.1 278.3,120.9 277.8,119.6 277.8,118.1 278.2,116.4 279,114.5 280.1,112.5 281.5,110.7 283.4,109.1 285.7,107.7 288.1,106.2 290.2,104.5 292,102.4 293.8,100.2 295.3,97.9 296.4,95.8 297.1,94.1 297.4,92.5 297.5,91 297.7,89.5M162.3,108.8 163.2,107.4 164,105.9 164.9,104.5 166,103.2 167.2,102.1 168.6,101 170.1,100 171.5,99M190,99.8 191.4,100.1 192.8,100.4 194.2,100.7 195.8,101.4 197.6,102.5 199.4,103.8 201.4,105.3 203.3,107 205.2,108.9 207,111 208.9,113.2 210.7,115.3M273.5,156.1 274.8,157.4 276.1,158.7 277.5,159.9 279.1,161.1 281,162.2 283.2,163.3 285.5,164.2 287.8,164.8 290.2,165.1 292.8,165.3 295.3,165.1 297.7,164.8 300,164.2 302.4,163.3 304.5,162.3 306.4,161.1 308,159.7 309.3,158.2 310.4,156.5 311.3,154.9 312,153.3 312.4,151.7 312.6,150.2 312.6,148.7 312.3,147.3 311.7,146 311,144.7 310.1,143.7 309,142.9 307.8,142.2 306.4,141.6 305.1,141.2 303.9,140.9 302.6,140.8 301.4,140.7 300.2,140.6M219.5,205.8 222.2,206.8 224.9,207.8 227.6,208.8 230.7,209.5 234.1,209.9 237.9,210.2 241.7,210.2 245.5,210.1 249.3,209.8 253.2,209.2 257,208.5 260.4,207.6 263.4,206.5 266,205.2 268.4,203.7 270.4,202 272.1,200.1 273.4,198 274.4,195.7 275.3,193.4 275.8,190.9 276,188.2 276.2,185.7 276.6,183.4 277.2,181.5 278,179.8 279,178.4 280.3,177.2 282.1,176.3 284.3,175.7 286.6,175.2 289,174.7 291.4,174.1 294,173.6 296.6,173 298.9,172.3 300.9,171.5 302.7,170.6 304.5,169.7 306.4,168.5 308.4,167 310.4,165.4 312.6,163.7 315.1,162.3 318.1,161.4 321.5,160.9 324.7,160.2 327.5,159.2 329.6,157.6 331.2,155.8 332.6,153.6 333.7,151.2 334.4,148.3 334.7,145.1 335.1,141.7 336.2,138.7 338.2,136 340.8,133.4 343.5,131 346.1,128.8 348.4,127 350.6,125.4 352.8,124 354.8,122.6 356.7,121.3 358.5,120.2 360.2,119.1 362,118M219.1,287.1 221.3,285.6 223.4,284.1 225.6,282.5 227.8,280.9 229.9,279.1 232.1,277.3 234.2,275.4 236.5,273.5 238.8,271.5 241.2,269.5 243.7,267.6 246.4,266 249.5,264.8 252.8,264 256.1,263.2 258.9,262.3 261.2,261.2 263.1,260.2 264.8,258.9 266.3,257.4 267.7,255.6 268.9,253.5 269.9,251.2 270.7,248.7 271.2,245.8 271.5,242.6 271.7,239.4 271.9,236.3 272,233.5 272.1,230.8 272.3,228.2 272.9,225.6 274,223 275.4,220.4 277.1,217.9 279.1,215.7 281.4,213.8 284.1,212.1 287,210.7 290.2,209.5 293.9,208.7 298,208.2 302,207.8 305.1,207 307.1,205.7 308.4,204.2 309.3,202.5 310.1,200.8 310.8,199 311.2,197 311.7,195.1 312.6,193.4 314,191.9 315.7,190.5 317.7,189.3 320,188.4 322.8,187.9 326,187.8 329.4,187.7 332.4,187.2 335.1,186.2 337.6,184.9 340,183.5 342.4,182.2 344.8,180.9 347.1,179.6 349.6,178.3 352.3,177.2 355.5,176.3 358.9,175.6 362.5,175 366,174.3M241.5,328.1 243.7,324.3 245.9,320.5 248.1,316.7 250.2,313.2 252.2,310 254.2,307 256,304 257.6,300.8 258.8,297.1 259.8,293.1 260.7,289.2 261.8,286 263.1,283.6 264.6,281.8 266,280.2 267.5,278.5 268.7,276.5 269.7,274.4 271.1,272.4 273.3,270.4 276.9,268.5 281.5,266.7 286.1,265 289.9,263.5 292.2,262.1 293.6,260.8 295.1,259.8 297.6,259.2 301.5,259.4 306.2,260.2 311.3,260.9 316.2,261.1 320.7,260.2 325.2,258.6 329.8,257.1 334.8,256.4 340.3,257.2 346.2,258.9 352.4,260.5 359,261.1 366.1,260.3 373.5,258.6 381.2,256.5 388.8,254.6M292,298.3 292.1,295 292.1,291.6 292.3,288.4 292.9,285.3 294,282.4 295.4,279.6 297.2,277.1 299.4,275.1 302.1,273.7 305.3,272.8 308.8,272.3 312.5,271.9 316.6,271.6 321.1,271.4 325.5,271.6 329.2,272.3 332,273.5 334.2,275.1 336,277.2 337.6,279.7 338.7,282.9 339.4,286.8 340.2,290.8 341.3,294.6 343,298.2 344.9,301.9 347.2,305.1 349.7,307.6 352.6,309.2 355.8,310.1 359.2,310.5 362.7,310.4 366.4,309.7 370.3,308.5 374.1,307.1 377.6,305.8 380.7,304.8 383.4,303.9 386.1,303 388.8,302.1M319,330 319.8,335.2 320.6,340.4 321.4,345.5 322.7,350.5 324.3,355.5 326.1,360.5 328.3,365.1 331.1,369.1 334.6,372.2 338.8,374.6 343.3,376.6 347.8,378.4 352.4,380 357.3,381.3 362,382.6 366.5,384 370.6,385.8 374.6,387.8 378.2,389.7 381.4,391.5 383.9,393 386,394.4 387.8,395.7 389.7,397M364.6,322.5 361.2,322.8 357.6,323 354.3,323.4 351.6,324.4 349.5,326 348,328.1 346.8,330.7 346,333.7 345.5,337.5 345.3,342.1 345.5,346.7 346,350.5 346.8,353.5 347.9,355.9 349.4,358 351.6,359.8 354.7,361.4 358.5,362.7 362.6,363.7 366.5,364.4 370.4,364.6 374.4,364.4 378.2,363.9 381.4,363.5 383.8,363.1 385.6,362.6 387.1,362.1 388.8,361.6"/><path fill="none" stroke="#0a0410" stroke-width="4" stroke-linecap="butt" stroke-linejoin="round" d="M208,229.7 210.4,229 212.8,228.3 215.2,227.6 217.9,226.9 220.7,226.3 223.7,225.7 226.9,225.2 230.5,224.8 234.6,224.5 239.2,224.4 243.8,224.2 248,223.8 251.8,223.1 255.4,222.1 258.6,221 261.3,220.1 263.2,219.4 264.5,218.8 265.6,218.1 267,217 268.9,215.4 271,213.4 273.2,211.4 275.3,209.5 277.2,207.7 279,206 280.8,204.5 282.8,203.3 285.2,202.7 287.8,202.5 290.4,202.4 292.7,202 294.6,201.4 296.3,200.7 297.7,199.7 298.9,198.3 299.8,196.2 300.3,193.6 300.8,190.9 301.4,188.4 302.2,186.3 303.1,184.3 304.1,182.5 305.1,180.9 306.3,179.6 307.5,178.5 308.8,177.6 310.1,176.6M338,172.5 343.9,170.3 349.9,168.1 355.7,165.9 361,163.8 365.6,161.8 369.7,160 373.6,158.1 377.6,156.3"/><text class="cl" style="font-size:23.5px" text-anchor="middle" transform="translate(135.0,68.5) rotate(10)" y="8.5">5</text><text class="cl" style="font-size:23.5px" text-anchor="middle" transform="translate(181.5,99.0) rotate(0)" y="8.5">6</text><text class="cl" style="font-size:23.5px" text-anchor="middle" transform="translate(309.5,79.5) rotate(0)" y="8.5">6</text><text class="cl" style="font-size:23.5px" text-anchor="middle" transform="translate(322.0,172.5) rotate(8)" y="8.5">7</text><text class="cl" style="font-size:23.5px" text-anchor="middle" transform="translate(383.5,174.5) rotate(0)" y="8.5">8</text><text class="cl" style="font-size:23.5px" text-anchor="middle" transform="translate(303.5,315.5) rotate(38)" y="8.5">10</text><text class="cl" style="font-size:23.5px" text-anchor="middle" transform="translate(387.0,333.0) rotate(38)" y="8.5">11</text></g><path fill="#fff" d="M253.6,3.5 270.4,3.5 258,12Z"/><path fill="#fff" d="M290.2,37.5 297.7,32.5 305.1,27.5 312.6,23.8 316.3,22.6 312.6,28.8 308.9,35 303.9,37.5 297.7,38.7 292.7,39.3Z"/><path fill="#fff" d="M250.5,156.1 270.4,156.1 270.4,163.5 250.5,163.5Z"/>
<use href="#land"/>
<use href="#grid"/>
<path stroke="#1a0828" stroke-opacity="0.8" stroke-width="3.2" stroke-linecap="round" d="M224.1,21.3h0M188,36.6h0M209.2,36.2h0M234.6,37.1h0M202.4,42.2h0M195.3,49.2h0M231.2,51.5h0M159.2,51.1h0M159.5,66.9h0M179.1,68.8h0M167,76.8h0M160.5,83.7h0M177.8,83.7h0M162.3,88h0M206.6,83.3h0M227.5,83.3h0M252.3,79.4h0M249.8,86.8h0M248,94.3h0M167.5,97.6h0M212,101.7h0M245.2,104.5h0M182.8,111.6h0M196.8,111.6h0M278.7,65h0M278.7,90.5h0M341.7,40.3h0M352.7,39.9h0M324.7,48.6h0M317.9,63.5h0M345.8,63.8h0M327.8,92.7h0M303,101.4h0M297.1,114.4h0M312.9,115.7h0M278.2,115h0M311,128.7h0M332.4,128.7h0M296.4,129.9h0M303.9,148h0M301.4,156.1h0M327.8,147.7h0M345.5,148h0M316,174.1h0M239.3,196.5h0M265.2,196.5h0M291.5,196.5h0M317.5,196.5h0M357.3,196.5h0M291.5,220.9h0M239,245.1h0M265,245.3h0M278,245.3h0M291.6,245.3h0M318,245.3h0M356.8,244.7h0M254.8,293.3h0M278,293.1h0M304.6,293.1h0M320.8,293.1h0M356.8,293.3h0M278,341.2h0M305,341.2h0M337.6,341.2h0M356.8,341.2h0M298.1,390h0M318,390h0M337.6,390h0M356.8,390h0"/>
</g>
<use href="#frameW"/>
<text class="ax" text-anchor="end" x="-6" y="11.5">40°N</text>
<text class="ax" text-anchor="end" x="-6" y="108.5">38°N</text>
<text class="ax" text-anchor="end" x="-6" y="205.5">36°N</text>
<text class="ax" text-anchor="end" x="-6" y="302.5">34°N</text>
<text class="ax" text-anchor="end" x="-6" y="399.5">32°N</text>
<text class="ax" text-anchor="middle" x="3.1" y="472.3">115°E</text>
<text class="ax" text-anchor="middle" x="200.1" y="472.3">120°E</text>
<text class="ax" text-anchor="middle" x="397.1" y="472.3">125°E</text>
<text class="odv" transform="translate(537.6,434.6) rotate(-90)">Ocean Data View</text>
<path d="M551.9,3.4 L567.15,-4.0 L582.4,3.4 Z" fill="#f8b47c"/>
<path d="M551.9,437.7 L567.15,445.09999999999997 L582.4,437.7 Z" fill="#e870f8"/>
<rect x="551.9" y="2.9" width="30.5" height="435.3" fill="url(#cbg)"/>
<path d="M551.9,2.9 L567.15,-4.0 L582.4,2.9 V438.2 L567.15,445.09999999999997 L551.9,438.2 Z" fill="none" stroke="#4a4038" stroke-width="0.8"/>
<path d="M551.9,438.2h6.5M582.4,438.2h-6.5" stroke="#000" stroke-width="1.6"/>
<text class="ax" x="589.4" y="447.2">5</text>
<path d="M551.9,351.1h6.5M582.4,351.1h-6.5" stroke="#000" stroke-width="1.6"/>
<text class="ax" x="589.4" y="360.1">10</text>
<path d="M551.9,264.1h6.5M582.4,264.1h-6.5" stroke="#000" stroke-width="1.6"/>
<text class="ax" x="589.4" y="273.1">15</text>
<path d="M551.9,177.0h6.5M582.4,177.0h-6.5" stroke="#000" stroke-width="1.6"/>
<text class="ax" x="589.4" y="186.0">20</text>
<path d="M551.9,90.0h6.5M582.4,90.0h-6.5" stroke="#000" stroke-width="1.6"/>
<text class="ax" x="589.4" y="99.0">25</text>
<path d="M551.9,2.9h6.5M582.4,2.9h-6.5" stroke="#000" stroke-width="1.6"/>
<text class="ax" x="589.4" y="11.9">30</text>
</g>
<text class="pl" x="4.6" y="31.9">A</text>
<text class="tt" x="607.5" y="27.6" text-anchor="end">Temperature @ surface</text>
<g transform="translate(817,48.8)">
<g clip-path="url(#fr)">
<clipPath id="rgB"><path d="M128,36.5 128,97.5 151,103.5 154,137.5 173,144.5 197,142.5 204,127.5 211,151.5 201,187.5 202,198.5 208,201.5 210.4,208.9 210.4,218.9 206.7,228.8 204.9,238.7 205.5,251.2 207.3,261.1 210.4,271 215.4,280.9 220.4,290.9 222.2,300.8 223.5,313.2 226.6,325.6 229.1,331.8 233,337.5 238,342.5 245.4,351.3 249.1,360 251.6,367.5 254,375.5 257.2,379.3 261.5,384.2 267,389.5 273,397.5 275,403.5 273,409.5 272.7,413.4 276.4,418.4 282.6,421.5 291.3,423.3 366.5,423.3 377.6,417.5 386.9,406.3 390.3,395.2 390.3,387.5 387.9,369.1 389.2,350.5 389.7,331.9 388.8,294.5 389.7,257.4 390.3,220.1 388.8,207.1 390.7,196.3 389.7,185.2 385.1,174 379.5,159.1 378.6,140.5 372,129.3 362.7,118.1 356.2,107 359,92.1 370.2,80.9 379.5,66 384.1,47.4 384.1,32.5 379.5,19.4 370.2,10.1 363,3.5 351,-2.5 191,-2.5 173,11.5 166,31.5 141,41.5Z"/></clipPath><g clip-path="url(#rgB)"><g filter="url(#bl)"><rect x="-10" y="-10" width="538.0" height="462.0" fill="#da76f8"/><path fill="#d76cf8" fill-rule="evenodd" d="M518,442l-518,0 0,-381 48,-3 42,1 34,5 32,10 8,0 18,-5 10,-1 10,2 14,6 6,2 3,-2 1,-2 -11,-12 -2,-6 0,-6 1,-4 3,-4 3,-2 4,0 6,1 6,5 4,6 4,10 2,3 4,1 12,1 14,-1 22,-11 8,-2 8,-1 10,2 16,10 6,2 6,-2 6,-4 48,-38 34,-22 78,0zM280,198l4,-4 0,-12 2,-6 5,-6 10,-8 5,-8 1,-4 -2,-4 -3,-3 -6,-3 -10,0 -7,2 -6,6 -3,8 -3,16 3,16 4,8 4,2z"/><path fill="#d466f8" fill-rule="evenodd" d="M518,442l-518,0 0,-370 46,-3 40,1 28,4 42,10 8,-1 16,-4 8,0 12,3 18,11 10,2 8,-1 8,-2 48,-21 14,-3 6,1 6,3 18,14 4,1 4,0 6,-2 8,-6 36,-32 22,-17 22,-15 26,-14 2,-1 52,0zM284,200l3,-4 1,-14 3,-6 16,-16 4,-6 1,-4 -2,-6 -4,-4 -8,-4 -10,-2 -10,1 -4,2 -4,4 -4,9 -3,18 1,14 4,11 4,5 4,2 4,1z"/><path fill="#d060f8" fill-rule="evenodd" d="M518,442l-518,0 0,-361 44,-3 36,0 28,2 48,9 8,0 16,-5 8,0 10,3 20,12 10,2 14,1 8,-1 6,-2 20,-13 12,-6 8,-3 8,0 10,3 20,15 4,2 4,0 7,-3 9,-6 34,-29 24,-18 36,-23 36,-18 30,0zM284,202l3,-2 2,-4 1,-12 2,-6 4,-5 16,-15 3,-6 0,-4 -3,-8 -8,-6 -14,-5 -12,-1 -8,3 -5,9 -4,16 -1,22 2,10 5,8 9,6z"/><path fill="#cd59f8" fill-rule="evenodd" d="M518,442l-518,0 0,-352 42,-4 36,-1 26,2 40,5 14,1 6,0 14,-5 10,0 10,3 18,11 44,11 4,-2 9,-13 9,-8 10,-5 10,-1 6,1 6,3 18,14 6,1 4,0 6,-2 8,-5 50,-39 36,-24 22,-12 26,-12 22,-9 6,0zM283,204l5,-2 2,-4 2,-14 3,-6 16,-16 5,-6 2,-4 0,-6 -2,-5 -3,-5 -9,-6 -18,-7 -16,-4 -4,0 -2,2 -2,6 -2,13 -2,26 0,16 4,10 4,6 8,5z"/><path fill="#c954f8" fill-rule="evenodd" d="M518,442l-518,0 0,-343 36,-4 30,-2 32,0 54,4 12,-1 18,-5 12,2 8,4 12,8 26,10 10,7 3,6 2,8 1,44 2,10 4,6 7,6 7,3 8,0 4,-1 3,-4 4,-16 2,-6 19,-18 4,-6 1,-4 -2,-12 -5,-7 -6,-5 -20,-10 -5,-4 -1,-4 0,-4 6,-8 8,-4 8,0 6,2 13,10 5,3 8,1 10,-1 12,-7 50,-35 32,-20 36,-19 42,-17z"/><path fill="#c54ef8" fill-rule="evenodd" d="M518,442l-518,0 0,-330 66,-8 28,-2 58,0 11,-2 19,-5 12,2 18,11 21,10 10,8 4,6 3,10 2,14 1,26 4,12 5,6 6,4 8,2 10,1 4,-1 3,-4 4,-18 2,-4 19,-18 4,-6 2,-10 -3,-22 1,-4 3,-2 19,-5 10,-4 58,-37 40,-21 30,-14 36,-14z"/><path fill="#c048f8" fill-rule="evenodd" d="M518,442l-518,0 0,-317 70,-12 80,-7 30,-7 12,1 8,4 27,16 8,6 5,6 4,8 2,8 3,14 2,22 2,8 3,6 4,4 8,4 10,2 10,1 4,-2 3,-5 4,-16 3,-6 18,-16 4,-6 3,-8 1,-18 2,-5 4,-4 20,-9 52,-29 34,-18 38,-16 40,-15z"/><path fill="#bb45f9" fill-rule="evenodd" d="M518,442l-518,0 0,-305 68,-13 78,-13 32,-8 12,0 10,4 23,15 7,6 7,8 6,16 3,14 3,24 5,10 6,5 8,3 20,3 5,-3 4,-4 5,-18 2,-4 18,-16 5,-6 2,-6 3,-18 3,-6 5,-4 56,-29 36,-16 40,-16 46,-16z"/><path fill="#b442fb" fill-rule="evenodd" d="M518,442l-518,0 0,-291 70,-17 72,-17 36,-11 10,0 10,3 13,9 13,10 8,10 5,8 4,10 3,16 3,20 2,6 3,4 5,4 7,3 24,3 6,-2 4,-4 3,-6 3,-12 4,-6 16,-14 4,-5 3,-7 5,-18 4,-6 4,-3 36,-18 40,-16 46,-16 52,-16z"/><path fill="#af40fc" fill-rule="evenodd" d="M518,442l-518,0 0,-277 136,-41 40,-14 6,-1 6,0 10,4 10,7 14,12 8,10 5,10 4,12 4,14 2,18 4,8 6,4 9,3 26,2 6,-3 4,-4 7,-18 3,-5 16,-13 5,-6 3,-6 4,-16 4,-6 6,-5 28,-13 38,-13 46,-14 58,-15z"/><path fill="#a83dfc" fill-rule="evenodd" d="M518,442l-518,0 0,-269 128,-42 48,-19 10,-1 10,3 9,6 13,12 10,12 5,10 5,12 4,14 1,18 5,8 6,3 9,3 27,2 6,-2 5,-6 7,-16 4,-6 20,-18 4,-6 4,-18 6,-6 6,-4 24,-10 34,-11 44,-12 64,-15z"/><path fill="#a13bfc" fill-rule="evenodd" d="M518,442l-518,0 0,-262 44,-15 50,-18 48,-18 34,-15 10,-2 8,3 9,5 13,12 10,13 6,11 6,15 3,11 0,16 5,8 6,4 8,2 30,3 6,-2 4,-4 4,-5 4,-12 4,-6 22,-19 4,-7 4,-17 4,-5 8,-5 22,-9 32,-9 110,-25z"/><path fill="#9a39fc" fill-rule="evenodd" d="M518,442l-518,0 0,-255 76,-28 62,-26 38,-17 10,-2 10,3 7,5 14,14 9,12 6,12 6,16 1,6 1,16 1,4 3,5 6,4 10,2 32,2 6,-3 4,-4 4,-6 4,-11 3,-5 22,-18 4,-6 5,-18 4,-5 8,-5 20,-8 30,-8 112,-22z"/><path fill="#9337fc" fill-rule="evenodd" d="M518,442l-518,0 0,-247 62,-24 62,-28 50,-24 6,-2 6,-1 8,2 8,6 12,12 10,14 6,11 6,15 2,6 0,18 5,8 6,4 9,2 34,2 6,-3 6,-5 3,-6 4,-10 4,-6 17,-12 6,-6 3,-6 5,-17 5,-5 7,-4 18,-7 28,-7 114,-19z"/><path fill="#8d36fc" fill-rule="evenodd" d="M518,442l-518,0 0,-236 34,-13 30,-13 38,-19 70,-37 8,-3 6,-1 8,2 6,4 13,14 10,14 11,24 1,6 -1,16 3,6 3,4 6,3 11,3 35,1 6,-2 6,-5 4,-6 5,-12 3,-4 21,-14 5,-4 3,-6 4,-16 5,-6 7,-4 17,-6 24,-4 116,-15z"/><path fill="#8635fc" fill-rule="evenodd" d="M518,442l-518,0 0,-225 36,-14 34,-16 30,-16 65,-39 17,-8 8,0 8,5 12,13 10,14 8,15 4,9 0,6 -2,14 1,4 3,4 4,4 8,4 18,2 28,0 10,-4 7,-8 6,-12 3,-4 23,-14 5,-4 2,-4 4,-18 6,-6 7,-4 15,-4 22,-3 116,-11z"/><path fill="#7e34fc" fill-rule="evenodd" d="M518,442l-518,0 0,-213 38,-16 34,-16 30,-18 59,-39 13,-8 8,-3 8,0 8,6 12,13 10,16 6,11 2,7 -3,18 1,4 2,4 4,4 8,4 10,3 10,1 20,-2 14,1 10,-5 8,-8 8,-14 10,-6 14,-6 6,-5 3,-5 3,-18 4,-5 6,-3 14,-3 18,-2 78,-4 42,-3z"/><path fill="#7836fc" fill-rule="evenodd" d="M518,442l-518,0 0,-197 44,-18 34,-18 28,-18 56,-43 12,-7 8,-3 8,0 6,4 10,11 9,15 5,12 1,6 -2,16 1,6 3,4 5,4 6,2 20,4 26,-2 14,0 6,-1 5,-3 10,-8 10,-12 21,-9 8,-6 5,-7 3,-16 2,-4 2,-2 6,-3 10,-1 16,-1 74,0 46,-1z"/><path fill="#7138fc" fill-rule="evenodd" d="M518,442l-518,0 0,-179 52,-20 38,-20 28,-21 44,-41 10,-7 8,-3 6,0 7,3 7,7 6,9 4,12 -1,24 2,6 3,4 5,4 7,3 24,2 12,0 18,-4 12,1 8,-1 7,-3 15,-9 22,-9 10,-6 6,-5 6,-7 8,-17 4,-4 6,-2 20,-1 72,4 42,0z"/><path fill="#6d3dfc" fill-rule="evenodd" d="M518,442l-518,0 0,-156 68,-26 27,-12 21,-11 15,-9 11,-8 10,-10 16,-18 8,-6 4,1 2,3 2,22 2,8 3,6 4,6 5,3 10,3 30,-8 20,-1 24,-6 16,1 22,-7 19,-1 13,-3 8,-3 8,-5 21,-21 5,-3 6,-2 14,0 58,4 46,-1z"/><path fill="#6943fc" fill-rule="evenodd" d="M518,442l-518,0 0,-127 80,-26 38,-10 26,-4 46,1 18,-3 10,-4 7,-5 3,-4 8,-13 6,-6 38,-14 18,1 22,-4 13,2 19,7 9,5 13,11 4,2 6,0 12,-4 29,-19 17,-7 28,-6 48,-5z"/><path fill="#6549fc" fill-rule="evenodd" d="M518,442l-518,0 0,-99 58,-17 36,-10 32,-7 54,-9 24,-7 12,-5 10,-8 8,-8 12,-17 6,-6 21,-13 9,-4 16,1 18,-2 7,1 7,3 8,5 7,6 19,29 6,4 6,1 12,-1 16,-4 46,-18 22,-8 20,-5 26,-4z"/><path fill="#614efc" fill-rule="evenodd" d="M518,442l-518,0 0,-70 82,-25 86,-22 28,-10 18,-9 14,-10 9,-10 15,-22 12,-10 24,-12 12,-2 14,-1 8,3 10,8 17,26 7,8 8,5 10,3 18,0 24,-2 102,-21z"/><path fill="#5e54fc" fill-rule="evenodd" d="M518,442l-518,0 0,-43 144,-45 28,-10 22,-9 24,-14 18,-14 9,-11 11,-22 8,-9 8,-4 24,-8 12,-2 8,2 6,5 19,24 9,8 10,6 14,4 26,4 32,0 32,-2 54,-7z"/><path fill="#5b5bfc" fill-rule="evenodd" d="M518,442l-518,0 0,-20 126,-42 36,-14 28,-13 34,-20 14,-11 11,-10 7,-10 5,-20 4,-6 3,-4 6,-4 6,-2 22,-3 6,1 6,4 20,20 10,7 16,8 20,6 34,6 30,4 32,0 42,-3z"/><path fill="#5761fc" fill-rule="evenodd" d="M518,442l-508,0 68,-23 50,-19 38,-16 32,-17 30,-21 36,-30 5,-6 2,-6 -1,-16 2,-7 6,-5 8,-1 8,0 8,3 18,15 12,6 42,16 44,14 22,5 24,3 24,1 30,-1z"/><path fill="#5266fc" fill-rule="evenodd" d="M518,442l-450,0 66,-25 26,-12 22,-12 32,-20 46,-38 26,-17 8,-3 12,1 14,-5 12,-1 12,1 8,2 27,11 37,17 26,8 34,5 42,2z"/><path fill="#4d6bfc" fill-rule="evenodd" d="M518,442l-402,0 46,-21 36,-20 26,-19 38,-34 12,-8 12,-5 26,-4 21,-9 11,-2 8,1 21,9 37,22 26,11 16,4 20,4 46,2z"/><path fill="#4870fc" fill-rule="evenodd" d="M518,442l-363,0 33,-18 30,-19 20,-16 32,-30 10,-7 8,-3 22,1 8,-1 8,-3 15,-10 7,-2 10,2 10,4 32,26 12,7 14,5 18,5 22,4 24,2 28,1z"/><path fill="#4375fc" fill-rule="evenodd" d="M518,442l-335,0 23,-13 22,-15 50,-39 8,-4 6,-1 10,2 28,9 10,1 18,-1 8,1 50,12 28,5 36,4 38,1z"/><path fill="#3f79fc" fill-rule="evenodd" d="M518,442l-306,0 58,-35 12,-5 12,-2 12,2 36,9 20,3 44,0 68,4 44,0z"/></g><path fill="none" stroke="#2a1040" stroke-opacity="0.75" stroke-width="0.9" stroke-linejoin="round" d="M129.6,89.3 135.8,88.5 142.1,87.7 148.3,86.9 154.4,86.2 160.2,85.4 165.9,84.4 171.5,83.9 177.1,84.1 182.8,85.6 188.6,87.9 194.3,90.4 199.9,92.4 205.5,93.4 211.2,93.8 216.3,94.3 220.6,95.5 223.5,97.6 225.5,100.2 227.1,103.1 228.9,105.9M174,117.2 170.9,133.8M196.8,117.2 192.7,131.7M253.7,116.2 256.7,113.6 259.6,110.9 262.7,108.3 266.1,105.9 270.1,103.8 274.5,102 278.9,100.1 282.7,97.6 285.7,94.2 288.2,90.2 290.6,86.2 293,83.1 295.4,81 297.8,79.5 300.4,78.5 303.4,77.9 307.1,77.7 311.3,78 315.6,78.5 319.9,79 324,79.5 328.2,80.1 332.3,80.8 336.5,81.4M299.2,136.9 302.4,137.3 305.8,137.7 308.9,138.2 311.6,139 313.8,140.1 315.6,141.5 317,143.1 317.8,145.2 318.1,148 317.8,151.3 317.1,154.6 315.8,157.6 313.8,160.1 311.2,162.3 308.3,164.2 305.4,165.9 302.3,167.1 298.9,168 295.6,168.8 293,170 291,171.7 289.3,173.6 288.2,175.8 287.8,178.3 288.4,181.2 289.9,184.4 291.7,187.7 293,190.7 294,193.6 294.9,196.4 295.4,198.9 295.1,201 293.9,202.5 291.9,203.6 289.4,204.4 286.8,205.2 284,205.9 280.9,206.6 277.6,207 274.4,207.2 271.1,207.2 267.7,207 264.5,206.4 262,205.2 260.2,203.3 259.1,200.9 258.3,198 257.8,194.8 257.8,191 258.2,186.7 258.7,182.3 258.9,178.3 258.8,174.9 258.5,171.8 258.1,168.9 257.8,165.9M365.4,128.6 361.7,130.2 357.9,131.7 354.2,133.2 350.9,134.8 347.9,136.1 345.1,137.1 342.6,138.6 340.6,141 339.2,145.1 338.4,150.5 337.7,155.8 336.5,159.7 334.8,161.8 332.9,162.9 330.7,163.3 328.2,163.8 325.3,164.1 322.1,164.1 318.9,164.2 315.8,164.8 312.9,166.1 310.1,167.9 307.6,169.9 305.4,172.1 303.6,174.3 302.1,176.7 301,179.3 300.3,182.4 300.5,186.3 301.4,190.7 302.3,195.1 302.3,199 301.4,202.2 299.9,205.1 297.8,207.4 295.1,209.3 291.6,210.5 287.4,211 282.9,211.2 278.5,211.4 274.2,211.7 269.9,211.9 265.7,211.9 262,211.4 258.8,210.5 256,209.2 253.6,207.5 251.6,205.2 250.1,202.2 249,198.6 248.2,194.7 247.5,190.7 246.9,186.5 246.4,181.9 246,177.6 245.4,174.1 244.5,171.8 243.5,170.4 242.4,169.2 241.3,167.9M234.3,275.7 237.4,273.3 240.5,271 243.5,268.5 245.9,265.7 247.7,262.4 248.9,258.7 249.9,254.8 250.9,250.9 251.7,246.6 252.4,242 253.1,237.7 254.2,234.3 255.7,232 257.5,230.4 259.6,229.3 262.4,228.5 266,227.9 270.2,227.7 274.7,227.8 279,228.5 283.3,230.2 287.7,232.8 291.8,235.1 295.5,236 298.4,235 300.7,232.8 302.9,230.1 305.5,227.7 308.6,225.4 311.9,222.9 315.3,220.8 318.7,219.4 322.2,218.9 325.8,218.9 329.2,219.6 332,221.1 334.1,223.5 335.6,226.8 336.8,230.5 337.8,234.3 338.5,238.3 338.8,242.7 339.3,247 340.2,250.9 341.7,254.3 343.5,257.5 345.7,260.3 348.5,262.4 352,263.8 356,264.5 360.4,264.8 365.1,264.9 370.1,264.8 375.5,264.4 381.1,263.8 386.6,263.3M232.7,338.6 236,334.4 239.4,330.2 242.7,326 245.9,322 249.1,318.3 252.2,314.8 255.1,311.1 257.5,307.1 259.2,302.3 260.3,297 261.2,291.8 262.4,287.3 263.9,283.6 265.4,280.5 267.2,277.8 269.1,275.7 271.4,274.1 274,272.9 276.6,272.3 279,272.4 281.3,273.2 283.5,274.6 285.6,276.5 287.3,279 288.6,281.9 289.6,285.2 290.5,289.2 291.4,293.9 292.4,299.7 293.5,306.4 294.5,313.5 295.5,320.4 296.4,327 297.2,333.6 298.1,340.2 298.9,346.8M317.1,346.8 318.7,341.7 320.3,336.6 321.9,331.6 323.7,327 325.6,322.7 327.6,318.7 329.8,315.1 332,312.1 334.2,309.8 336.5,308 339,306.8 341.9,306.3 345.2,306.8 348.9,308.2 352.8,309.7 356.8,310.4 360.8,310 365.1,309.1 369.3,307.9 373.3,307.1 377.1,306.7 380.8,306.5 384.5,306.4 388.2,306.3"/><path fill="none" stroke="#0a0410" stroke-width="4" stroke-linecap="butt" stroke-linejoin="round" d="M211.1,221.9 216.4,221.7 221.7,221.6 227.1,221.4 232.7,221.1 238.7,220.8 244.9,220.5 251.2,220.1 257.5,219.4 263.9,218.3 270.4,216.9 276.7,215.5 282.3,214.4 287.2,213.8 291.6,213.5 295.5,213.2 298.9,212.8 301.7,212.1 304,211.2 305.8,210.3 307.1,209.5 307.7,209.1 307.6,208.9 307.3,208.5 307.5,207.2 308.3,204.7 309.5,201.4 310.7,197.9 311.6,194.8 312.1,192.3 312.3,190 312.5,187.8 312.7,185.5M341.6,184.5 342.8,187.1 343.9,189.7 345.1,192.3 346.8,194.8 348.9,197.5 351.3,200.4 354,202.7 357.2,204.1 360.9,204 365.1,203 369.4,201.4 373.7,200 377.8,198.8 382,197.5 386.1,196.1 390.3,194.8"/><text class="cl" style="font-size:23.5px" text-anchor="middle" transform="translate(191.6,111.0) rotate(0)" y="8.5">6</text><text class="cl" style="font-size:23.5px" text-anchor="middle" transform="translate(348.9,82.1) rotate(0)" y="8.5">5</text><text class="cl" style="font-size:23.5px" text-anchor="middle" transform="translate(335.4,121.4) rotate(0)" y="8.5">5</text><text class="cl" style="font-size:23.5px" text-anchor="middle" transform="translate(326.1,179.3) rotate(0)" y="8.5">7</text><text class="cl" style="font-size:23.5px" text-anchor="middle" transform="translate(222.7,284.8) rotate(0)" y="8.5">8</text><text class="cl" style="font-size:23.5px" text-anchor="middle" transform="translate(308.0,356.8) rotate(0)" y="8.5">9</text></g><path fill="#fff" d="M253.6,3.5 270.4,3.5 258,12Z"/><path fill="#fff" d="M290.2,37.5 297.7,32.5 305.1,27.5 312.6,23.8 316.3,22.6 312.6,28.8 308.9,35 303.9,37.5 297.7,38.7 292.7,39.3Z"/><path fill="#fff" d="M250.5,156.1 270.4,156.1 270.4,163.5 250.5,163.5Z"/>
<use href="#land"/>
<use href="#grid"/>
<path stroke="#1a0828" stroke-opacity="0.8" stroke-width="3.2" stroke-linecap="round" d="M224.1,21.3h0M188,36.6h0M209.2,36.2h0M234.6,37.1h0M202.4,42.2h0M195.3,49.2h0M231.2,51.5h0M159.2,51.1h0M159.5,66.9h0M179.1,68.8h0M167,76.8h0M160.5,83.7h0M177.8,83.7h0M162.3,88h0M206.6,83.3h0M227.5,83.3h0M252.3,79.4h0M249.8,86.8h0M248,94.3h0M167.5,97.6h0M212,101.7h0M245.2,104.5h0M182.8,111.6h0M196.8,111.6h0M278.7,65h0M278.7,90.5h0M341.7,40.3h0M352.7,39.9h0M324.7,48.6h0M317.9,63.5h0M345.8,63.8h0M327.8,92.7h0M303,101.4h0M297.1,114.4h0M312.9,115.7h0M278.2,115h0M311,128.7h0M332.4,128.7h0M296.4,129.9h0M303.9,148h0M301.4,156.1h0M327.8,147.7h0M345.5,148h0M316,174.1h0M239.3,196.5h0M265.2,196.5h0M291.5,196.5h0M317.5,196.5h0M357.3,196.5h0M291.5,220.9h0M239,245.1h0M265,245.3h0M278,245.3h0M291.6,245.3h0M318,245.3h0M356.8,244.7h0M254.8,293.3h0M278,293.1h0M304.6,293.1h0M320.8,293.1h0M356.8,293.3h0M278,341.2h0M305,341.2h0M337.6,341.2h0M356.8,341.2h0M298.1,390h0M318,390h0M337.6,390h0M356.8,390h0"/>
</g>
<use href="#frameW"/>
<text class="ax" text-anchor="end" x="-6" y="11.5">40°N</text>
<text class="ax" text-anchor="end" x="-6" y="108.5">38°N</text>
<text class="ax" text-anchor="end" x="-6" y="205.5">36°N</text>
<text class="ax" text-anchor="end" x="-6" y="302.5">34°N</text>
<text class="ax" text-anchor="end" x="-6" y="399.5">32°N</text>
<text class="ax" text-anchor="middle" x="3.1" y="472.3">115°E</text>
<text class="ax" text-anchor="middle" x="200.1" y="472.3">120°E</text>
<text class="ax" text-anchor="middle" x="397.1" y="472.3">125°E</text>
<text class="odv" transform="translate(537.6,434.6) rotate(-90)">Ocean Data View</text>
<path d="M551.9,3.4 L567.15,-4.0 L582.4,3.4 Z" fill="#f8b47c"/>
<path d="M551.9,437.7 L567.15,445.09999999999997 L582.4,437.7 Z" fill="#e870f8"/>
<rect x="551.9" y="2.9" width="30.5" height="435.3" fill="url(#cbg)"/>
<path d="M551.9,2.9 L567.15,-4.0 L582.4,2.9 V438.2 L567.15,445.09999999999997 L551.9,438.2 Z" fill="none" stroke="#4a4038" stroke-width="0.8"/>
<path d="M551.9,438.2h6.5M582.4,438.2h-6.5" stroke="#000" stroke-width="1.6"/>
<text class="ax" x="589.4" y="447.2">5</text>
<path d="M551.9,351.1h6.5M582.4,351.1h-6.5" stroke="#000" stroke-width="1.6"/>
<text class="ax" x="589.4" y="360.1">10</text>
<path d="M551.9,264.1h6.5M582.4,264.1h-6.5" stroke="#000" stroke-width="1.6"/>
<text class="ax" x="589.4" y="273.1">15</text>
<path d="M551.9,177.0h6.5M582.4,177.0h-6.5" stroke="#000" stroke-width="1.6"/>
<text class="ax" x="589.4" y="186.0">20</text>
<path d="M551.9,90.0h6.5M582.4,90.0h-6.5" stroke="#000" stroke-width="1.6"/>
<text class="ax" x="589.4" y="99.0">25</text>
<path d="M551.9,2.9h6.5M582.4,2.9h-6.5" stroke="#000" stroke-width="1.6"/>
<text class="ax" x="589.4" y="11.9">30</text>
</g>
<text class="pl" x="716.5" y="31.9">B</text>
<text class="tt" x="1330.5" y="27.6" text-anchor="end">Temperature @ bottom</text>
<g transform="translate(89,623.4)">
<g clip-path="url(#fr)">
<clipPath id="rgC"><path d="M128,36.5 128,97.5 151,103.5 154,137.5 173,144.5 197,142.5 204,127.5 211,151.5 201,187.5 202,198.5 208,201.5 210.4,208.9 210.4,218.9 206.7,228.8 204.9,238.7 205.5,251.2 207.3,261.1 210.4,271 215.4,280.9 220.4,290.9 222.2,300.8 223.5,313.2 226.6,325.6 229.1,331.8 233,337.5 238,342.5 245.4,351.3 249.1,360 251.6,367.5 254,375.5 257.2,379.3 261.5,384.2 267,389.5 273,397.5 275,403.5 273,409.5 272.7,413.4 276.4,418.4 282.6,421.5 291.3,423.3 366.5,423.3 377.6,417.5 386.9,406.3 390.3,395.2 390.3,387.5 387.9,369.1 389.2,350.5 389.7,331.9 388.8,294.5 389.7,257.4 390.3,220.1 388.8,207.1 390.7,196.3 389.7,185.2 385.1,174 379.5,159.1 378.6,140.5 372,129.3 362.7,118.1 356.2,107 359,92.1 370.2,80.9 379.5,66 384.1,47.4 384.1,32.5 379.5,19.4 370.2,10.1 363,3.5 351,-2.5 191,-2.5 173,11.5 166,31.5 141,41.5Z"/></clipPath><g clip-path="url(#rgC)"><g filter="url(#bl)"><rect x="-10" y="-10" width="538.0" height="462.0" fill="#29b11e"/><path fill="#2db01b" fill-rule="evenodd" d="M518,442l-518,0 0,-442 518,0zM168,132l4,-3 2,-5 -3,0 -4,4 -1,3z"/><path fill="#33b017" fill-rule="evenodd" d="M518,442l-518,0 0,-442 518,0zM165,140l5,-3 4,-5 5,-10 -1,-4 -4,0 -7,4 -9,10 -2,4 1,4 3,1z"/><path fill="#38b013" fill-rule="evenodd" d="M518,442l-518,0 0,-442 518,0zM159,148l9,-5 6,-6 7,-15 0,-4 -1,-2 -6,0 -8,4 -10,8 -7,8 -2,6 1,5 4,2z"/><path fill="#3eb110" fill-rule="evenodd" d="M518,442l-518,0 0,-442 518,0zM151,156l7,-2 6,-4 10,-10 8,-17 1,-5 -1,-4 -7,0 -12,6 -14,10 -10,10 -3,6 0,6 2,2 4,2z"/><path fill="#44b410" fill-rule="evenodd" d="M518,442l-518,0 0,-442 518,0zM148,162l14,-6 6,-5 6,-7 4,-8 5,-14 1,-6 -2,-3 -4,-1 -6,2 -16,8 -20,14 -10,10 -3,8 1,4 2,2 4,2 6,1z"/><path fill="#4bb50f" fill-rule="evenodd" d="M518,442l-518,0 0,-442 518,0zM140,168l10,-3 8,-4 8,-6 6,-6 6,-9 6,-17 1,-7 -2,-4 -5,-1 -8,3 -27,14 -22,14 -7,6 -4,6 -1,4 1,4 6,5 10,2z"/><path fill="#52b60e" fill-rule="evenodd" d="M518,442l-518,0 0,-442 518,0zM126,174l12,-2 12,-4 10,-6 10,-8 7,-10 5,-12 4,-14 -2,-6 -4,-1 -6,1 -19,8 -42,22 -11,8 -6,6 -1,4 0,4 2,4 3,2 12,4z"/><path fill="#59b70d" fill-rule="evenodd" d="M518,442l-518,0 0,-442 518,0zM113,180l15,-2 14,-4 14,-7 10,-7 8,-9 6,-11 6,-20 0,-4 -1,-4 -5,-2 -9,2 -69,30 -21,12 -6,6 -3,4 1,6 3,4 4,2 14,3z"/><path fill="#60b80c" fill-rule="evenodd" d="M518,442l-518,0 0,-249 10,-4 12,-2 54,1 26,-1 20,-4 18,-5 18,-9 8,-7 6,-6 8,-14 7,-24 -1,-4 -2,-3 -4,-1 -6,1 -42,16 -59,19 -51,21 -12,4 -10,1 0,-172 518,0z"/><path fill="#67ba0b" fill-rule="evenodd" d="M518,442l-518,0 0,-224 16,-7 16,-5 20,-5 60,-11 20,-6 16,-7 16,-11 11,-12 7,-15 5,-21 0,-4 -3,-4 -8,0 -38,13 -22,6 -78,16 -20,3 -18,1 0,-149 518,0z"/><path fill="#6dbb0a" fill-rule="evenodd" d="M518,442l-518,0 0,-210 18,-9 18,-8 20,-6 62,-17 18,-7 16,-8 14,-11 10,-12 6,-13 6,-23 -2,-6 -4,-3 -4,0 -8,2 -34,11 -22,5 -72,9 -42,2 0,-138 518,0z"/><path fill="#74bd09" fill-rule="evenodd" d="M518,442l-518,0 0,-198 18,-11 22,-10 24,-10 58,-19 18,-8 14,-8 14,-12 10,-13 5,-13 5,-22 0,-4 -2,-3 -4,-2 -4,-1 -8,2 -32,11 -24,4 -70,4 -44,-1 0,-128 518,0z"/><path fill="#7bbf09" fill-rule="evenodd" d="M518,442l-518,0 0,-187 20,-13 22,-12 24,-11 60,-24 16,-8 14,-8 12,-11 10,-13 5,-13 5,-24 0,-4 -2,-4 -6,-2 -8,1 -34,10 -22,3 -70,1 -46,-3 0,-120 518,0z"/><path fill="#82c108" fill-rule="evenodd" d="M518,442l-518,0 0,-176 21,-16 23,-14 24,-12 60,-27 16,-8 14,-10 12,-11 10,-14 4,-12 5,-24 -1,-4 -2,-4 -6,-2 -8,1 -32,9 -22,2 -72,-2 -46,-5 0,-113 518,0z"/><path fill="#88c307" fill-rule="evenodd" d="M518,442l-518,0 0,-166 21,-18 24,-16 26,-14 61,-30 16,-10 12,-8 12,-12 9,-14 4,-12 4,-24 0,-4 -2,-4 -3,-2 -4,-1 -8,1 -32,9 -20,1 -74,-5 -46,-6 0,-107 518,0z"/><path fill="#8fc506" fill-rule="evenodd" d="M518,442l-518,0 0,-156 22,-20 24,-18 27,-16 61,-33 16,-10 12,-9 12,-13 8,-13 4,-12 4,-24 -1,-4 -2,-4 -3,-2 -4,-1 -8,1 -30,7 -20,2 -76,-9 -46,-7 0,-101 518,0z"/><path fill="#95c704" fill-rule="evenodd" d="M518,442l-518,0 0,-146 22,-22 25,-20 28,-18 61,-35 16,-11 12,-10 12,-13 7,-13 3,-12 4,-24 -2,-8 -6,-3 -8,0 -34,7 -18,1 -78,-11 -44,-9 0,-95 518,0z"/><path fill="#9cc904" fill-rule="evenodd" d="M518,442l-518,0 0,-136 24,-26 26,-22 26,-18 64,-39 14,-10 12,-11 10,-12 8,-14 3,-12 3,-24 -2,-8 -2,-2 -4,-2 -8,0 -32,7 -18,0 -82,-14 -42,-9 0,-90 518,0z"/><path fill="#a3ca04" fill-rule="evenodd" d="M518,442l-518,0 0,-127 23,-27 26,-24 30,-22 63,-41 14,-10 12,-11 10,-13 7,-13 3,-12 3,-24 -2,-8 -3,-2 -4,-2 -8,0 -32,6 -18,0 -84,-17 -40,-10 0,-85 518,0z"/><path fill="#aacb04" fill-rule="evenodd" d="M518,442l-518,0 0,-117 23,-29 28,-28 29,-22 64,-44 14,-11 12,-12 10,-13 6,-12 2,-12 3,-24 -2,-8 -3,-3 -4,-1 -8,0 -30,5 -18,0 -86,-19 -40,-11 0,-81 518,0z"/><path fill="#b1cc04" fill-rule="evenodd" d="M518,442l-518,0 0,-106 10,-16 12,-16 14,-16 15,-14 29,-24 68,-49 14,-12 10,-10 9,-13 5,-12 3,-12 2,-24 -2,-8 -3,-3 -4,-2 -8,0 -30,6 -17,-1 -89,-22 -38,-12 0,-76 518,0z"/><path fill="#b8cd03" fill-rule="evenodd" d="M518,442l-518,0 0,-91 9,-17 21,-30 14,-16 14,-14 29,-24 61,-46 14,-13 10,-10 9,-13 6,-12 2,-12 3,-24 -1,-6 -1,-4 -6,-5 -10,0 -30,5 -16,-1 -90,-26 -38,-12 0,-71 518,0z"/><path fill="#bece02" fill-rule="evenodd" d="M518,442l-518,0 0,-70 9,-20 9,-18 21,-30 25,-28 27,-24 59,-47 14,-13 10,-11 9,-13 5,-12 2,-12 2,-24 -2,-10 -2,-3 -4,-2 -10,-1 -30,4 -14,-1 -36,-12 -58,-17 -36,-13 0,-65 518,0z"/><path fill="#c5d000" fill-rule="evenodd" d="M518,442l-518,0 1,-44 11,-34 16,-32 19,-28 23,-26 26,-24 58,-50 22,-23 8,-12 5,-13 2,-12 2,-24 -2,-10 -3,-3 -4,-2 -10,-1 -28,3 -15,-1 -33,-13 -62,-20 -36,-15 0,-58 518,0z"/><path fill="#ccd000" fill-rule="evenodd" d="M518,442l-515,0 4,-30 7,-28 10,-28 13,-26 18,-26 22,-26 23,-22 56,-51 22,-24 8,-13 4,-12 2,-12 1,-24 -2,-10 -5,-5 -10,-2 -30,3 -14,-1 -30,-14 -60,-21 -42,-18 0,-52 518,0z"/><path fill="#d3d000" fill-rule="evenodd" d="M518,442l-505,0 3,-30 7,-28 9,-26 13,-26 16,-26 22,-26 21,-22 54,-52 22,-25 8,-13 4,-12 1,-12 1,-24 -2,-10 -2,-3 -4,-3 -10,-1 -30,2 -12,-2 -28,-13 -62,-24 -44,-20 0,-46 518,0z"/><path fill="#dad000" fill-rule="evenodd" d="M518,442l-495,0 2,-28 5,-26 9,-26 12,-26 15,-26 20,-26 22,-24 54,-55 20,-24 7,-13 4,-12 1,-12 0,-24 -1,-10 -3,-4 -4,-2 -10,-2 -30,2 -11,-2 -27,-15 -62,-25 -46,-22 0,-40 518,0z"/><path fill="#e1cf00" fill-rule="evenodd" d="M518,442l-485,0 1,-28 5,-26 8,-26 11,-26 15,-26 19,-26 21,-24 53,-56 18,-23 7,-13 3,-12 1,-12 0,-24 -2,-10 -3,-4 -4,-3 -10,-1 -28,1 -12,-2 -6,-3 -18,-12 -65,-28 -47,-25 0,-33 518,0zM312,386l0,-1 -2,0 -1,1 1,2 2,-1z"/><path fill="#e8ce00" fill-rule="evenodd" d="M518,442l-477,0 1,-28 4,-26 7,-26 10,-24 15,-26 18,-26 20,-24 52,-58 18,-24 6,-12 3,-12 1,-12 -1,-26 -2,-10 -3,-3 -4,-2 -12,-2 -12,1 -14,0 -12,-3 -22,-15 -63,-28 -51,-28 0,-28 518,0zM248,306l3,-2 1,-5 -2,-4 -4,0 -3,3 0,4 3,4zM311,392l2,-2 1,-4 0,-2 -4,-2 -3,2 -1,2 2,5z"/><path fill="#efcd00" fill-rule="evenodd" d="M518,442l-469,0 0,-26 4,-26 6,-26 10,-24 13,-26 18,-26 19,-24 53,-62 16,-22 5,-12 4,-14 0,-12 -2,-26 -2,-8 -3,-4 -4,-2 -10,-1 -14,1 -14,-1 -12,-3 -14,-12 -6,-4 -53,-24 -44,-24 -19,-12 0,-22 518,0zM251,308l3,-4 0,-6 -4,-6 -4,-1 -2,1 -3,4 0,8 3,4 2,1zM311,396l3,-2 2,-8 -2,-4 -4,-1 -4,1 -2,4 2,6 2,3z"/><path fill="#f6cb00" fill-rule="evenodd" d="M518,442l-460,0 -1,-26 3,-24 5,-26 9,-24 13,-26 18,-28 20,-26 51,-62 13,-20 6,-12 3,-14 -2,-38 -2,-8 -6,-5 -6,-2 -22,0 -14,-1 -7,-2 -6,-4 -7,-8 -6,-4 -48,-23 -38,-21 -34,-21 0,-17 518,0zM249,312l3,-1 2,-3 2,-4 0,-6 -4,-8 -6,-2 -4,2 -2,3 -1,9 3,7 4,3zM312,400l4,-7 1,-7 -3,-5 -6,-1 -4,2 -1,2 -1,6 3,6 3,5 2,0z"/><path fill="#fcc700" fill-rule="evenodd" d="M518,442l-441,0 -2,-24 1,-26 4,-24 7,-24 12,-26 16,-28 21,-30 46,-62 12,-20 4,-12 2,-12 0,-12 -3,-28 -3,-8 -4,-3 -4,-2 -12,-2 -12,0 -16,-2 -6,-2 -4,-3 -4,-8 -3,-4 -41,-20 -35,-20 -52,-36 -1,-4 518,0zM250,318l4,-2 4,-6 2,-6 0,-6 -2,-6 -4,-6 -4,-3 -4,-1 -6,3 -4,5 -1,6 0,8 2,6 3,5 4,3zM311,418l3,-1 3,-5 2,-24 -2,-6 -3,-3 -4,-2 -4,0 -4,2 -3,3 -1,4 0,6 2,10 4,11 4,5z"/><path fill="#fcc201" fill-rule="evenodd" d="M518,442l-197,0 4,-12 2,-12 -4,-30 -3,-7 -4,-5 -6,-4 -6,-1 -9,3 -4,4 -2,4 -2,12 0,18 -8,30 -152,0 -8,-22 -4,-22 0,-24 3,-24 8,-28 14,-32 27,-52 28,-46 8,-16 3,-12 0,-12 -7,-40 -4,-8 -5,-5 -6,-2 -18,-3 -18,-7 -10,-13 -29,-16 -21,-14 -26,-20 -29,-24 485,0zM251,332l7,-4 4,-6 5,-16 0,-10 -4,-10 -7,-8 -6,-4 -8,-1 -6,2 -4,3 -5,8 -1,8 1,20 3,9 6,7 8,3z"/><path fill="#fcbc05" fill-rule="evenodd" d="M518,442l-188,0 1,-24 -4,-22 -4,-12 -3,-7 -4,-4 -6,-3 -8,-2 -9,2 -7,6 -3,6 -6,24 -4,8 -9,14 -13,14 -85,0 -2,-2 -7,-8 -7,-10 -8,-20 -5,-24 1,-26 2,-18 6,-20 23,-60 11,-26 22,-38 6,-16 2,-10 0,-12 -9,-40 -3,-7 -4,-5 -6,-3 -20,-7 -8,-9 -10,-4 -36,-23 -31,-24 -32,-30 467,0zM248,342l8,-4 8,-9 6,-20 1,-11 -3,-10 -10,-14 -8,-5 -8,-1 -6,2 -6,3 -6,5 -2,4 -3,10 0,20 3,14 6,10 10,6z"/><path fill="#fcb608" fill-rule="evenodd" d="M518,442l-182,0 -3,-26 -5,-22 -5,-14 -4,-6 -5,-4 -6,-3 -8,-2 -10,2 -9,5 -6,8 -9,18 -6,9 -10,9 -14,8 -16,4 -14,0 -14,-5 -13,-9 -11,-15 -8,-19 -3,-20 1,-24 4,-24 19,-72 7,-18 18,-32 6,-14 2,-16 -3,-18 -10,-34 -5,-8 -6,-4 -16,-6 -5,-4 -6,-8 -15,-6 -24,-16 -28,-24 -33,-32 455,0zM242,354l6,-1 6,-4 6,-6 6,-8 3,-9 5,-26 -2,-10 -12,-18 -8,-6 -8,-2 -6,1 -8,3 -7,4 -7,6 -3,6 -2,6 -1,16 1,20 2,8 3,6 5,6 7,5 8,3z"/><path fill="#fcaf08" fill-rule="evenodd" d="M518,442l-178,0 -3,-18 -7,-30 -7,-16 -5,-7 -10,-6 -10,-3 -8,1 -20,6 -6,-1 -4,-3 -1,-5 2,-6 9,-18 2,-6 4,-28 0,-6 -2,-8 -12,-18 -6,-5 -8,-4 -10,1 -13,4 -11,6 -9,8 -6,8 -4,8 -4,14 -3,16 1,6 2,8 4,8 5,8 8,8 8,6 22,10 2,2 0,4 -2,4 -6,4 -12,2 -12,-3 -10,-7 -8,-12 -4,-16 0,-12 1,-18 -4,-64 2,-18 4,-16 6,-14 16,-28 4,-10 2,-8 0,-10 -1,-10 -13,-40 -4,-8 -5,-5 -19,-9 -11,-12 -18,-8 -22,-16 -23,-22 -28,-30 445,0z"/><path fill="#fca808" fill-rule="evenodd" d="M518,442l-174,0 -4,-18 -9,-30 -7,-16 -4,-6 -8,-6 -12,-6 -8,-1 -16,2 -4,-2 -2,-3 0,-8 5,-16 0,-14 4,-22 -3,-8 -14,-22 -8,-6 -10,-2 -10,2 -26,7 -6,1 -6,-3 -3,-5 -2,-6 0,-8 3,-16 5,-14 17,-30 4,-10 1,-8 0,-8 -2,-10 -18,-48 -7,-7 -18,-9 -12,-13 -16,-7 -15,-10 -23,-22 -29,-34 437,0z"/><path fill="#fca108" fill-rule="evenodd" d="M518,442l-170,0 -15,-46 -11,-24 -8,-7 -16,-9 -6,-1 -12,0 -4,-3 0,-4 4,-12 -2,-18 3,-18 0,-6 -3,-6 -14,-24 -8,-7 -8,-3 -8,1 -22,4 -10,0 -6,-4 -3,-5 -2,-12 3,-14 4,-9 17,-29 4,-10 1,-8 -3,-16 -21,-50 -6,-7 -18,-10 -12,-12 -18,-9 -13,-10 -19,-20 -27,-34 429,0z"/><path fill="#fc9a08" fill-rule="evenodd" d="M518,442l-166,0 -17,-46 -11,-22 -6,-7 -17,-13 -8,-8 -3,-10 -6,-9 -3,-7 0,-6 2,-18 0,-4 -19,-34 -6,-5 -8,-3 -8,0 -14,3 -12,-1 -6,-2 -4,-6 -2,-10 2,-12 3,-6 10,-14 12,-22 2,-10 -4,-16 -15,-29 -11,-25 -6,-6 -17,-10 -14,-14 -16,-8 -11,-8 -15,-18 -27,-36 421,0z"/><path fill="#fc9308" fill-rule="evenodd" d="M518,442l-162,0 -19,-46 -11,-22 -6,-7 -17,-15 -3,-6 -3,-12 -11,-12 -2,-8 1,-22 -2,-6 -8,-12 -5,-13 -4,-7 -6,-7 -6,-4 -8,-1 -16,4 -6,0 -8,-4 -4,-6 -1,-10 3,-8 8,-8 12,-16 2,-1 4,1 10,16 4,4 4,-1 8,-7 6,-6 2,-6 0,-6 -3,-8 -5,-6 -4,-4 -16,-7 -8,-7 -20,-29 -11,-25 -5,-7 -18,-11 -18,-16 -18,-10 -8,-8 -12,-16 -22,-34 412,0zM364,68l8,-3 17,-13 6,-6 4,-8 2,-8 -2,-8 -5,-7 -8,-5 -6,-2 -8,0 -14,4 -11,8 -4,6 -3,6 -2,12 1,6 3,6 4,5 6,5 6,2z"/><path fill="#fa8c08" fill-rule="evenodd" d="M518,442l-159,0 -22,-48 -12,-22 -4,-6 -10,-8 -5,-6 -3,-6 -4,-14 -11,-12 -2,-8 1,-18 -1,-4 -9,-18 -7,-18 -11,-20 0,-4 2,-4 8,-10 12,-12 3,-4 1,-6 0,-6 -4,-12 -7,-12 -4,-4 -6,-4 -18,-5 -6,-4 -8,-7 -14,-19 -11,-23 -3,-4 -18,-11 -18,-16 -16,-9 -7,-6 -11,-16 -21,-36 227,0 -11,12 -9,14 -9,20 -2,10 2,4 4,6 21,18 10,5 12,3 8,-1 10,-3 25,-10 17,-10 13,-12 7,-14 3,-14 -2,-14 -8,-14 87,0zM232,236l-4,0 -4,-1 -2,-3 -1,-4 1,-4 2,-2 4,-3 4,-1 6,3 4,7 -2,4z"/><path fill="#f88508" fill-rule="evenodd" d="M256,140l-6,1 -6,-1 -12,-7 -12,-14 -11,-23 -3,-4 -18,-10 -20,-17 -18,-12 -11,-15 -20,-38 201,0 -24,30 -25,22 -7,8 -1,6 9,18 1,6 0,8 -4,32 -4,6zM518,442l-156,0 -36,-70 -4,-6 -14,-14 -3,-6 -4,-14 -11,-14 -3,-8 1,-16 0,-4 -10,-20 -10,-34 1,-6 3,-8 14,-14 5,-8 2,-12 1,-22 3,-10 5,-8 18,-22 8,-13 4,-5 4,-2 6,-2 41,-4 21,-4 16,-4 20,-9 8,-5 8,-8 10,-16 5,-18 0,-18 -6,-18 53,0z"/><path fill="#f67e08" fill-rule="evenodd" d="M208,86l-10,-2 -8,-3 -22,-18 -16,-11 -11,-16 -17,-36 181,0 -15,18 -12,12 -34,26 -14,13 -16,8 -2,3 -2,6zM518,442l-153,0 -38,-70 -4,-6 -13,-14 -3,-6 -4,-14 -12,-16 -2,-8 0,-18 -9,-22 -6,-28 1,-8 2,-6 13,-16 5,-8 8,-28 6,-12 18,-32 11,-13 8,-4 12,-2 56,0 22,-2 12,-4 10,-5 9,-6 8,-8 7,-8 6,-10 4,-10 3,-12 2,-12 0,-12 -2,-12 -3,-10 26,0zM246,129l-4,0 -6,-1 -6,-3 -6,-6 -4,-6 -4,-9 -3,-12 0,-4 17,-6 6,-1 8,1 6,4 3,4 1,6 -2,22 -1,6z"/><path fill="#f47808" fill-rule="evenodd" d="M204,81l-6,1 -8,-4 -37,-28 -8,-14 -16,-36 165,0 -13,16 -11,11 -32,24 -24,20zM518,442l-150,0 -41,-72 -16,-18 -8,-22 -12,-16 -1,-8 0,-16 -9,-22 -4,-26 1,-8 2,-6 18,-24 12,-29 17,-35 7,-10 8,-8 10,-4 14,-1 16,2 40,7 22,0 12,-3 10,-4 10,-6 10,-9 9,-10 7,-12 6,-12 4,-14 3,-14 1,-14 -2,-14 -3,-14 7,0zM238,120l-4,0 -4,-2 -8,-8 -3,-10 1,-4 2,-2 6,-2 6,1 4,1 4,4 2,6 0,8 -2,5z"/><path fill="#f37108" fill-rule="evenodd" d="M200,78l-6,0 -8,-5 -12,-9 -19,-16 -7,-13 -13,-35 149,0 -21,24 -30,24 -29,28zM518,442l-148,0 -37,-62 -7,-12 -14,-18 -7,-20 -11,-14 -3,-6 0,-20 -9,-26 -1,-16 0,-10 4,-10 18,-26 19,-38 12,-26 6,-8 6,-4 10,-3 14,1 14,4 46,17 14,3 12,-1 16,-6 18,-13 15,-16 13,-20zM378,244l7,-2 5,-4 1,-4 -1,-4 -6,-4 -8,-2 -8,1 -6,3 -3,4 0,4 3,6 6,2z"/><path fill="#f16a08" fill-rule="evenodd" d="M198,74l-6,0 -10,-6 -8,-6 -16,-16 -6,-12 -11,-34 133,0 -18,22 -28,23 -22,24 -4,4zM518,442l-145,0 -39,-61 -7,-13 -14,-18 -7,-20 -11,-14 -3,-6 -1,-6 1,-16 -6,-18 -2,-8 0,-20 2,-8 3,-6 14,-20 24,-38 12,-30 3,-4 5,-4 5,-2 8,-1 14,5 32,22 26,22 4,2 6,1 8,-1 8,-3 22,-14 20,-17 18,-20zM399,250l12,-6 8,-10 2,-6 0,-6 -1,-4 -4,-3 -10,-1 -36,3 -10,6 -5,7 -1,6 0,4 3,4 5,4 6,2 8,1 14,0z"/><path fill="#ef6308" fill-rule="evenodd" d="M198,70l-4,1 -4,-1 -10,-6 -7,-6 -11,-12 -4,-10 -11,-36 118,0 -16,20 -24,20 -19,24zM518,442l-143,0 -41,-62 -7,-14 -12,-14 -8,-22 -11,-15 -3,-7 0,-20 -6,-18 -1,-8 1,-18 3,-10 4,-8 41,-56 3,-8 5,-18 5,-6 4,-2 6,0 5,2 5,4 12,16 15,16 3,6 1,6 -1,8 -6,8 -8,5 -18,5 -10,8 -4,6 -2,6 0,10 4,6 8,5 32,7 8,0 8,-2 10,-5 9,-7 11,-10 26,-30 36,-35 16,-18z"/><path fill="#ee5c08" fill-rule="evenodd" d="M198,67l-6,1 -8,-4 -8,-6 -6,-8 -5,-10 -4,-22 -6,-18 103,0 -16,20 -22,19 -14,21zM518,442l-140,0 -42,-61 -9,-15 -11,-14 -8,-23 -11,-15 -3,-6 -1,-6 0,-14 -5,-24 1,-18 5,-14 14,-21 10,-12 21,-21 6,-8 4,-8 3,-15 2,0 2,1 2,2 4,14 17,16 2,4 1,6 -1,4 -2,4 -19,11 -8,10 -6,13 -1,6 1,6 5,6 7,5 36,12 10,0 10,-3 13,-6 13,-8 25,-22 53,-54z"/><path fill="#ed5508" fill-rule="evenodd" d="M194,64l-6,-1 -6,-3 -4,-4 -4,-6 -1,-6 5,-10 2,-14 -2,-4 -13,-16 85,0 -12,16 -22,18 -13,24 -5,5zM518,442l-138,0 -24,-33 -20,-29 -8,-14 -10,-14 -9,-24 -11,-14 -4,-8 0,-18 -4,-24 0,-10 2,-10 5,-12 9,-13 10,-13 10,-9 12,-8 12,-5 6,-1 5,3 2,4 0,4 -11,15 -8,19 -2,10 1,8 5,6 8,5 18,7 14,8 10,1 10,-1 13,-4 14,-6 13,-8 31,-24 39,-37z"/><path fill="#ec4e08" fill-rule="evenodd" d="M192,60l-4,-1 -5,-3 -2,-4 -1,-4 2,-4 13,-14 2,-4 0,-4 -2,-6 -3,-6 -10,-10 58,0 -10,13 -22,15 -3,4 -2,14 -2,8 -5,5zM518,442l-135,0 -27,-35 -19,-27 -8,-14 -10,-14 -9,-24 -12,-16 -3,-6 0,-4 0,-14 -3,-22 1,-16 4,-10 5,-10 10,-14 8,-8 12,-7 6,-1 4,2 1,2 1,6 -6,28 0,6 3,6 7,6 22,10 14,10 6,2 6,0 12,-1 16,-4 13,-5 16,-8 30,-20 35,-30z"/><path fill="#eb4808" fill-rule="evenodd" d="M218,4l-6,0 -8,-4 22,0zM518,442l-132,0 -24,-29 -26,-35 -6,-12 -11,-16 -9,-24 -11,-14 -3,-7 0,-17 -3,-22 2,-12 3,-9 4,-8 8,-13 8,-9 8,-5 4,-1 4,2 2,3 1,4 -3,24 2,6 2,4 8,6 23,12 13,10 10,3 14,-1 16,-3 16,-5 15,-6 16,-8 16,-10 33,-25z"/><path fill="#ea4108" fill-rule="evenodd" d="M518,442l-128,0 -24,-27 -28,-36 -18,-29 -9,-26 -11,-14 -3,-6 1,-16 -2,-20 1,-10 7,-14 14,-19 6,-3 3,2 1,20 3,6 5,6 8,6 22,11 14,12 8,3 12,0 18,-2 18,-4 16,-4 32,-14 18,-10 16,-11z"/><path fill="#e83a08" fill-rule="evenodd" d="M518,442l-123,0 -27,-28 -29,-36 -17,-28 -10,-26 -12,-18 -2,-6 1,-12 0,-20 3,-10 4,-7 6,-5 6,-1 16,15 29,16 15,13 6,2 8,1 34,-2 32,-6 29,-10 31,-15z"/><path fill="#e73308" fill-rule="evenodd" d="M518,442l-118,0 -30,-30 -26,-29 -21,-33 -8,-26 -13,-18 -2,-4 1,-30 2,-6 3,-6 6,-5 4,0 4,1 18,11 22,12 18,14 6,2 12,1 34,0 30,-4 30,-8 28,-11z"/><path fill="#e62c08" fill-rule="evenodd" d="M518,442l-110,0 -34,-30 -24,-25 -10,-12 -14,-23 -10,-30 -13,-20 1,-26 4,-9 6,-4 8,1 34,18 22,14 8,2 16,2 32,2 28,-1 28,-5 28,-8z"/><path fill="#e42508" fill-rule="evenodd" d="M518,442l-101,0 -33,-25 -14,-13 -24,-24 -6,-8 -12,-20 -3,-8 -7,-23 -11,-17 -1,-4 1,-20 3,-7 6,-3 6,0 32,15 24,14 12,3 32,5 26,3 24,-1 24,-2 22,-5z"/><path fill="#e1210c" fill-rule="evenodd" d="M518,442l-89,0 -49,-34 -34,-31 -16,-25 -4,-10 -6,-24 -10,-18 0,-8 4,-11 4,-2 6,0 28,11 28,12 58,14 20,3 20,1 20,0 20,-3z"/><path fill="#de1e11" fill-rule="evenodd" d="M518,442l-68,0 -48,-26 -26,-16 -28,-24 -6,-8 -10,-16 -4,-10 -8,-40 0,-4 1,-4 3,-2 6,0 22,3 78,28 30,8 30,5 28,0z"/><path fill="#db1c17" fill-rule="evenodd" d="M518,442l-28,0 -88,-34 -20,-10 -20,-14 -16,-14 -8,-12 -5,-10 -3,-12 -1,-16 0,-8 2,-6 5,-4 7,-2 9,0 10,2 32,12 42,21 28,11 28,9 26,4z"/><path fill="#da1c1e" fill-rule="evenodd" d="M518,414l-12,-1 -46,-1 -26,-3 -30,-8 -26,-11 -16,-10 -10,-7 -8,-9 -6,-10 -4,-10 -2,-10 0,-14 3,-8 3,-4 4,-2 6,-2 8,0 20,6 18,8 108,71 16,9z"/><path fill="#d91c25" fill-rule="evenodd" d="M432,392l-8,2 -10,0 -20,-4 -22,-8 -18,-11 -12,-13 -6,-14 -1,-8 0,-10 1,-6 3,-6 5,-4 6,-2 8,0 8,1 18,7 18,12 29,28 6,8 5,8 2,6 -1,6 -3,4z"/><path fill="#d81d2c" fill-rule="evenodd" d="M408,380l-14,2 -16,-3 -16,-6 -12,-9 -9,-12 -4,-12 1,-14 2,-6 4,-4 4,-3 6,-2 14,1 14,6 13,10 14,18 8,16 1,6 -2,6 -4,4z"/><path fill="#d81f32" fill-rule="evenodd" d="M394,372l-12,2 -12,-2 -12,-5 -10,-8 -7,-11 -2,-10 2,-12 5,-8 4,-2 6,-2 12,1 12,4 11,9 8,14 4,14 0,6 -2,4 -3,4z"/><path fill="#d82139" fill-rule="evenodd" d="M374,368l-10,-2 -8,-3 -8,-7 -4,-8 -3,-8 1,-10 4,-7 6,-5 6,-2 6,0 12,4 9,6 6,10 2,12 -2,10 -3,4 -4,3z"/><path fill="#d9263e" fill-rule="evenodd" d="M372,362l-8,0 -8,-3 -6,-5 -5,-8 -1,-8 2,-8 4,-6 6,-4 10,-1 8,2 6,5 5,8 2,8 -2,6 -6,10z"/><path fill="#db2b43" fill-rule="evenodd" d="M370,357l-6,1 -6,-2 -6,-4 -4,-6 -1,-8 1,-6 4,-5 6,-4 8,-1 6,1 4,3 4,6 1,6 -1,6 -6,9z"/><path fill="#dc3048" fill-rule="evenodd" d="M366,352l-6,0 -5,-2 -3,-4 -2,-6 1,-6 3,-4 4,-3 6,-1 5,0 3,2 3,4 1,4 0,4 -3,6 -3,4z"/><path fill="#dc334b" fill-rule="evenodd" d="M364,346l-6,0 -3,-2 -1,-4 3,-6 3,-2 4,-1 4,1 2,4 -1,6z"/></g><path fill="none" stroke="#3a2a10" stroke-opacity="0.75" stroke-width="0.9" stroke-linejoin="round" d="M153.4,76.3 156.9,76.6 160.5,76.8 163.9,77.3 166.9,78.3 169.2,80.2 170.9,82.7 172.7,85.3 175.1,87.6 178.5,89.4 182.5,90.9 186.4,92.3 189.6,93.8 191.8,95.2 193.5,96.6 194.7,98.1 195.8,100.1 196.5,102.9 196.7,106.2 197,109.6 197.9,112.5 199.5,114.8 201.7,116.9 204,118.7 206.2,120.7M163.8,111.4 165.5,109.8 167.2,108 169,106.5 171,105.2 173.4,104.2 176.1,103.5 178.9,103.1 181.3,103.2 183.5,103.9 185.7,105 187.4,106.5 188.6,108.3 188.9,110.5 188.6,113.2 188,116 187.6,118.7M217.4,286.8 220.7,284.5 224.1,282.3 227.4,280 230.7,277.7 234.1,275.1 237.5,272.3 240.8,269.8 243.9,267.8 246.6,266.5 249.2,265.6 251.5,265.2 253.8,265.3 256.1,266 258.3,267.2 260.4,268.9 262.1,271.1 263.5,273.7 264.7,276.9 265.6,280.4 266.2,284.4 266.6,288.9 266.7,294 266.5,299.2 266.2,304.2 265.7,308.9 264.9,313.6 264,318.1 262.9,322.4 261.6,326.5 260.2,330.4 258.6,334.2 257.1,338.1M267.9,386.1 271,383.3 274,380.5 277.1,377.8 280.3,375.4 283.5,373.4 286.6,371.6 289.9,370.1 293.5,368.8 297.5,367.8 301.9,367 306.2,366.5 310.1,366.3 313.5,366.4 316.5,366.9 319.3,367.7 321.7,368.8 323.8,370.3 325.6,372.3 327.1,374.5 328.3,377 329.1,379.8 329.5,383 329.7,386.3 330,389.5M316.7,294.3 316.4,291.7 316,289.1 315.8,286.6 315.9,284.4 316.5,282.5 317.5,280.8 318.7,279.5 320,278.6 321.5,278.2 323.3,278.2 325.1,278.6 326.6,279.4 327.8,280.6 328.8,282.3 329.8,284.2 330.8,286M387.9,315 381.7,315.2 375.4,315.4 369.2,315.7 363.1,315.8 356.8,315.7 350.3,315.3 344.4,315.2 339.9,315.8 337.2,317.1 335.9,319 335.3,321.4 334.9,324.1 334.6,327.4 334.7,331.2 335.1,335.2 335.8,339 336.7,342.5 338,345.8 339.5,349.1 341.5,352.2 344,355.4 347,358.5 350.2,361.4 353.1,363.8 355.7,365.5 358.2,366.7 360.6,367.7 363.1,368.8"/><path fill="none" stroke="#0a0410" stroke-width="4" stroke-linecap="butt" stroke-linejoin="round" d="M182.4,8 183.7,10.2 184.9,12.3 186.2,14.6 187.6,17.3 189,20.7 190.4,24.5 191.9,28.3 193.8,31.8 196.2,34.7 199,37.3 201.7,39.8 204.1,42.1 206,44.3 207.7,46.2 209.1,48.2 210.3,50.4 211.3,52.9 212,55.6 212.4,58.2 212.4,60.7 211.9,63 211.1,65.3 209.8,67.3 208.2,69 206.2,70.2 203.7,71.1 200.9,71.7 197.9,72.1 194.4,72.2 190.5,72 186.6,71.6 183.4,71.1 181.1,70.5 179.3,69.7 177.8,68.8 176.2,68M202,2.8 203.5,5.4 205,8 206.5,10.6 208.2,13.2 210.1,15.9 212.2,18.7 214.4,21.3 216.5,23.5 218.6,25.2 220.6,26.4 222.7,27.5 224.8,28.7M214.5,92.8 220.7,93.8M247.6,117.6 251.7,114.5M362.4,119.7 358.9,120.9 355.4,122.1 352,123.4 348.9,124.9 346,126.7 343.2,128.6 340.7,130.8 338.6,133.2 336.8,136.1 335.4,139.3 334.3,142.6 333.4,145.6 333,148.4 333.1,151.2 333.1,153.7 332.4,155.9 330.9,157.6 329,158.9 326.6,160 324.1,161.1 321.2,162.1 317.8,162.9 314.5,163.8 311.7,165.2 309.3,167.1 307.3,169.3 305.6,171.8 304.5,174.5 304.1,177.3 304.4,180.3 304.9,183.5 305.5,187 306.1,190.8 306.9,195 307.8,199.3 308.6,203.5M286.1,266.1 284.1,268.1 282.1,270.1 280.2,272.2 278.6,274.4 277.2,276.8 276.1,279.3 275.2,281.9 274.5,284.4 274.1,286.9 274,289.4 274.1,291.8 274.5,294.3 275.1,296.7 276,299 277.2,301.5 278.6,304.2 280.4,307.4 282.5,310.8 284.7,314.3 286.9,317.5 288.9,320.4 291,323.1 293,325.5 295.2,327.4 297.6,328.5 300.2,328.9 302.8,329.2 305.1,329.9 307,331 308.7,332.2 310.2,333.8 311.8,335.7 313.4,338.2 315,341.1 316.6,344.2 318.4,347.2 320.3,350.1 322.3,353.1 324.4,356 326.6,358.8 329.1,361.5 331.8,364 334.4,366.5 336.6,368.8 338.4,370.9 339.9,372.7 341.2,374.6 342.4,377 343.4,379.9 344.3,383 345.1,386.5 345.7,390.3 346.2,394.6 346.6,399.4 346.9,404.2 347.3,408.5 347.7,412.2 348.1,415.4 348.6,418.5 349,421.7"/><ellipse cx="207.8" cy="81.4" rx="3" ry="3.6" fill="none" stroke="#0a0410" stroke-width="2.2"/><text class="cl" style="font-size:23.5px" text-anchor="middle" transform="translate(161.7,55.6) rotate(10)" y="8.5">32.5</text><text class="cl" style="font-size:23.5px" text-anchor="middle" transform="translate(248.6,21.4) rotate(-15)" y="8.5">32.5</text><text class="cl" style="font-size:23.5px" text-anchor="middle" transform="translate(237.2,104.2) rotate(12)" y="8.5">32.5</text><text class="cl" style="font-size:23.5px" text-anchor="middle" transform="translate(130.8,77.9) rotate(5)" y="8.5">32</text><text class="cl" style="font-size:23.5px" text-anchor="middle" transform="translate(179.2,133.8) rotate(-35)" y="8.5">31</text><text class="cl" style="font-size:23.5px" text-anchor="middle" transform="translate(301.0,236.4) rotate(-80)" y="8.5">32.5</text><text class="cl" style="font-size:23.5px" text-anchor="middle" transform="translate(248.9,351.4) rotate(-60)" y="8.5">32</text><text class="cl" style="font-size:23.5px" text-anchor="middle" transform="translate(330.8,411.8) rotate(80)" y="8.5">32</text><text class="cl" style="font-size:23.5px" text-anchor="middle" transform="translate(325.0,307.5) rotate(-50)" y="8.5">33</text><text class="cl" style="font-size:23.5px" text-anchor="middle" transform="translate(382.5,372.9) rotate(15)" y="8.5">33</text></g><path fill="#fff" d="M253.6,3.5 270.4,3.5 258,12Z"/><path fill="#fff" d="M290.2,37.5 297.7,32.5 305.1,27.5 312.6,23.8 316.3,22.6 312.6,28.8 308.9,35 303.9,37.5 297.7,38.7 292.7,39.3Z"/><path fill="#fff" d="M250.5,156.1 270.4,156.1 270.4,163.5 250.5,163.5Z"/>
<use href="#land"/>
<use href="#grid"/>
<path stroke="#1a0828" stroke-opacity="0.8" stroke-width="3.2" stroke-linecap="round" d="M224.1,21.3h0M188,36.6h0M209.2,36.2h0M234.6,37.1h0M202.4,42.2h0M195.3,49.2h0M231.2,51.5h0M159.2,51.1h0M159.5,66.9h0M179.1,68.8h0M167,76.8h0M160.5,83.7h0M177.8,83.7h0M162.3,88h0M206.6,83.3h0M227.5,83.3h0M252.3,79.4h0M249.8,86.8h0M248,94.3h0M167.5,97.6h0M212,101.7h0M245.2,104.5h0M182.8,111.6h0M196.8,111.6h0M278.7,65h0M278.7,90.5h0M341.7,40.3h0M352.7,39.9h0M324.7,48.6h0M317.9,63.5h0M345.8,63.8h0M327.8,92.7h0M303,101.4h0M297.1,114.4h0M312.9,115.7h0M278.2,115h0M311,128.7h0M332.4,128.7h0M296.4,129.9h0M303.9,148h0M301.4,156.1h0M327.8,147.7h0M345.5,148h0M316,174.1h0M239.3,196.5h0M265.2,196.5h0M291.5,196.5h0M317.5,196.5h0M357.3,196.5h0M291.5,220.9h0M239,245.1h0M265,245.3h0M278,245.3h0M291.6,245.3h0M318,245.3h0M356.8,244.7h0M254.8,293.3h0M278,293.1h0M304.6,293.1h0M320.8,293.1h0M356.8,293.3h0M278,341.2h0M305,341.2h0M337.6,341.2h0M356.8,341.2h0M298.1,390h0M318,390h0M337.6,390h0M356.8,390h0"/>
</g>
<use href="#frameW"/>
<text class="ax" text-anchor="end" x="-6" y="11.5">40°N</text>
<text class="ax" text-anchor="end" x="-6" y="108.5">38°N</text>
<text class="ax" text-anchor="end" x="-6" y="205.5">36°N</text>
<text class="ax" text-anchor="end" x="-6" y="302.5">34°N</text>
<text class="ax" text-anchor="end" x="-6" y="399.5">32°N</text>
<text class="ax" text-anchor="middle" x="3.1" y="472.3">115°E</text>
<text class="ax" text-anchor="middle" x="200.1" y="472.3">120°E</text>
<text class="ax" text-anchor="middle" x="397.1" y="472.3">125°E</text>
<text class="odv" transform="translate(537.6,434.6) rotate(-90)">Ocean Data View</text>
<path d="M551.9,3.4 L567.15,-4.0 L582.4,3.4 Z" fill="#f8b47c"/>
<path d="M551.9,437.7 L567.15,445.09999999999997 L582.4,437.7 Z" fill="#e870f8"/>
<rect x="551.9" y="2.9" width="30.5" height="435.3" fill="url(#cbg)"/>
<path d="M551.9,2.9 L567.15,-4.0 L582.4,2.9 V438.2 L567.15,445.09999999999997 L551.9,438.2 Z" fill="none" stroke="#4a4038" stroke-width="0.8"/>
<path d="M551.9,438.2h6.5M582.4,438.2h-6.5" stroke="#000" stroke-width="1.6"/>
<text class="ax" x="589.4" y="447.2">27</text>
<path d="M551.9,376.0h6.5M582.4,376.0h-6.5" stroke="#000" stroke-width="1.6"/>
<text class="ax" x="589.4" y="385.0">28</text>
<path d="M551.9,313.8h6.5M582.4,313.8h-6.5" stroke="#000" stroke-width="1.6"/>
<text class="ax" x="589.4" y="322.8">29</text>
<path d="M551.9,251.6h6.5M582.4,251.6h-6.5" stroke="#000" stroke-width="1.6"/>
<text class="ax" x="589.4" y="260.6">30</text>
<path d="M551.9,189.5h6.5M582.4,189.5h-6.5" stroke="#000" stroke-width="1.6"/>
<text class="ax" x="589.4" y="198.5">31</text>
<path d="M551.9,127.3h6.5M582.4,127.3h-6.5" stroke="#000" stroke-width="1.6"/>
<text class="ax" x="589.4" y="136.3">32</text>
<path d="M551.9,65.1h6.5M582.4,65.1h-6.5" stroke="#000" stroke-width="1.6"/>
<text class="ax" x="589.4" y="74.1">33</text>
<path d="M551.9,2.9h6.5M582.4,2.9h-6.5" stroke="#000" stroke-width="1.6"/>
<text class="ax" x="589.4" y="11.9">34</text>
</g>
<text class="pl" x="4.4" y="597.4">C</text>
<text class="tt" x="607.5" y="602.8000000000001" text-anchor="end">Salinity @ surface</text>
<g transform="translate(817,623.4)">
<g clip-path="url(#fr)">
<clipPath id="rgD"><path d="M128,36.5 128,97.5 151,103.5 154,137.5 173,144.5 197,142.5 204,127.5 211,151.5 201,187.5 202,198.5 208,201.5 210.4,208.9 210.4,218.9 206.7,228.8 204.9,238.7 205.5,251.2 207.3,261.1 210.4,271 215.4,280.9 220.4,290.9 222.2,300.8 223.5,313.2 226.6,325.6 229.1,331.8 233,337.5 238,342.5 245.4,351.3 249.1,360 251.6,367.5 254,375.5 257.2,379.3 261.5,384.2 267,389.5 273,397.5 275,403.5 273,409.5 272.7,413.4 276.4,418.4 282.6,421.5 291.3,423.3 366.5,423.3 377.6,417.5 386.9,406.3 390.3,395.2 390.3,387.5 387.9,369.1 389.2,350.5 389.7,331.9 388.8,294.5 389.7,257.4 390.3,220.1 388.8,207.1 390.7,196.3 389.7,185.2 385.1,174 379.5,159.1 378.6,140.5 372,129.3 362.7,118.1 356.2,107 359,92.1 370.2,80.9 379.5,66 384.1,47.4 384.1,32.5 379.5,19.4 370.2,10.1 363,3.5 351,-2.5 191,-2.5 173,11.5 166,31.5 141,41.5Z"/></clipPath><g clip-path="url(#rgD)"><g filter="url(#bl)"><rect x="-10" y="-10" width="538.0" height="462.0" fill="#99c804"/><path fill="#a3ca04" fill-rule="evenodd" d="M518,442l-518,0 0,-442 518,0zM181,116l1,-2 0,-2 -2,-1 -2,3 1,2z"/><path fill="#aacb04" fill-rule="evenodd" d="M518,442l-518,0 0,-442 518,0zM181,118l3,-4 -2,-3 -2,-1 -3,2 -1,2 2,4z"/><path fill="#b1cc04" fill-rule="evenodd" d="M518,442l-518,0 0,-442 518,0zM181,120l2,-2 1,-4 -2,-4 -2,-1 -3,1 -2,4 1,4z"/><path fill="#b8cd03" fill-rule="evenodd" d="M518,442l-518,0 0,-442 518,0zM182,122l3,-4 0,-6 -3,-3 -4,0 -4,3 -1,6 5,5z"/><path fill="#bece02" fill-rule="evenodd" d="M518,442l-518,0 0,-442 518,0zM158,146l8,-3 6,-4 12,-16 2,-4 0,-5 -1,-4 -3,-2 -4,-1 -4,3 -3,4 -3,8 -23,14 -3,4 0,4 4,2z"/><path fill="#c5d000" fill-rule="evenodd" d="M518,442l-518,0 0,-442 518,0zM146,156l8,-2 10,-4 6,-4 6,-6 11,-20 0,-6 -3,-6 -4,-2 -4,1 -4,3 -6,8 -4,3 -10,4 -24,7 -6,3 -4,5 -1,4 0,4 3,4 3,2 9,3z"/><path fill="#ccd000" fill-rule="evenodd" d="M518,442l-518,0 0,-442 518,0zM140,164l12,-4 10,-4 10,-7 6,-6 6,-11 4,-12 0,-8 -4,-5 -4,-2 -5,1 -13,11 -8,3 -32,4 -10,6 -7,6 -4,8 -1,6 2,6 4,4 6,3 8,2 10,0z"/><path fill="#d3d000" fill-rule="evenodd" d="M518,442l-518,0 0,-442 518,0zM118,174l14,-2 16,-5 14,-6 12,-9 8,-11 6,-15 1,-10 -1,-4 -2,-4 -4,-3 -6,0 -14,9 -10,3 -24,-1 -8,1 -12,6 -12,9 -7,8 -3,8 -1,8 2,6 5,5 6,4 10,3z"/><path fill="#dad000" fill-rule="evenodd" d="M518,442l-518,0 0,-442 518,0zM115,182l17,-4 16,-6 16,-8 12,-10 8,-11 5,-15 1,-12 -2,-6 -2,-3 -4,-3 -6,0 -14,8 -10,2 -8,0 -16,-3 -10,1 -18,8 -9,6 -9,8 -7,10 -4,10 0,8 3,8 6,6 10,5 12,1z"/><path fill="#e1cf00" fill-rule="evenodd" d="M518,442l-518,0 0,-442 518,0zM108,190l20,-5 20,-8 18,-11 12,-10 8,-12 4,-16 1,-14 -5,-8 -4,-3 -6,0 -14,7 -10,2 -8,-1 -14,-5 -12,1 -12,4 -14,7 -12,8 -11,10 -8,10 -4,12 -1,10 5,10 7,7 12,4 14,2zM248,294l0,-3 -2,1 0,2z"/><path fill="#e8ce00" fill-rule="evenodd" d="M518,442l-518,0 0,-442 518,0zM96,198l22,-4 22,-9 22,-12 15,-13 9,-12 5,-16 1,-16 -2,-6 -4,-5 -4,-3 -6,0 -14,6 -10,1 -8,-1 -14,-6 -12,1 -15,5 -17,8 -15,10 -12,10 -9,12 -6,12 -1,12 3,10 8,8 12,6 14,2zM248,298l2,-2 1,-4 -1,-3 -4,-1 -3,2 0,4 2,4z"/><path fill="#efcd00" fill-rule="evenodd" d="M518,442l-518,0 0,-442 518,0zM87,206l25,-5 24,-10 24,-14 18,-14 6,-8 4,-7 4,-14 0,-18 -2,-6 -4,-6 -4,-2 -6,-1 -14,5 -10,1 -8,-2 -12,-7 -6,0 -8,2 -19,6 -22,10 -16,10 -14,12 -10,12 -7,14 -2,8 0,6 4,11 9,9 13,6 16,3zM250,300l2,-4 0,-6 -4,-5 -4,1 -3,4 1,8 2,3 2,1zM312,392l2,-2 1,-4 -1,-2 -5,0 -2,2 0,4 3,3z"/><path fill="#f6cb00" fill-rule="evenodd" d="M518,442l-518,0 0,-442 518,0zM82,214l26,-6 26,-11 24,-15 20,-16 10,-14 4,-8 1,-8 1,-10 -1,-10 -2,-6 -4,-6 -5,-3 -6,-1 -14,5 -10,0 -8,-3 -8,-6 -4,-1 -12,1 -28,9 -25,11 -19,12 -16,14 -11,14 -7,16 -1,14 1,6 3,6 5,5 6,5 14,5 18,3zM249,304l4,-6 1,-8 -4,-6 -6,-1 -2,1 -3,4 0,8 3,6 2,3 2,0zM314,394l2,-4 0,-6 -4,-2 -6,2 -2,4 2,6 4,2z"/><path fill="#fcc700" fill-rule="evenodd" d="M518,442l-518,0 0,-203 12,2 14,0 16,-1 16,-3 32,-9 32,-14 16,-9 16,-11 14,-11 12,-12 8,-9 4,-8 3,-10 1,-10 0,-12 -3,-10 -3,-6 -4,-5 -4,-2 -6,-1 -16,3 -8,0 -6,-3 -8,-10 -4,-1 -45,11 -34,12 -31,16 -24,18 0,-144 518,0zM248,314l6,-10 2,-8 0,-6 -1,-4 -3,-5 -4,-2 -4,0 -4,1 -4,4 -1,8 5,20 2,3 2,1zM312,402l5,-6 1,-10 -2,-4 -2,-2 -8,0 -5,4 -2,4 1,4 2,5 4,4 4,2z"/><path fill="#fcc201" fill-rule="evenodd" d="M518,442l-518,0 0,-107 29,-25 83,-58 34,-28 28,-29 20,-23 8,-14 2,-14 -1,-12 -5,-18 -4,-8 -5,-6 -5,-4 -6,-2 -26,-4 -6,-8 -6,-3 -50,4 -30,4 -30,5 -30,8 0,-100 518,0zM251,332l5,-4 2,-6 3,-28 0,-8 -3,-8 -4,-4 -6,-3 -8,-1 -9,4 -3,4 -2,4 0,8 3,12 0,16 3,7 6,6 6,2zM308,436l4,-2 4,-3 5,-9 1,-8 0,-26 -1,-6 -5,-5 -6,-2 -8,-1 -6,2 -4,4 -4,6 -1,8 9,34 6,7z"/><path fill="#fcbc05" fill-rule="evenodd" d="M518,442l-193,0 3,-12 1,-10 -6,-36 -3,-5 -4,-3 -8,-4 -8,-1 -7,1 -7,3 -5,5 -3,6 -2,10 1,22 -5,24 -250,0 -2,-22 3,-22 7,-24 12,-22 13,-18 17,-20 62,-59 24,-27 43,-56 6,-12 2,-14 -1,-10 -3,-10 -7,-16 -7,-10 -7,-6 -40,-17 -8,-1 -74,1 -32,2 -30,4 0,-83 518,0zM251,344l7,-6 5,-10 1,-44 -4,-9 -6,-6 -8,-3 -10,0 -10,4 -4,4 -3,6 0,8 2,14 0,18 4,10 11,11 8,4z"/><path fill="#fcb608" fill-rule="evenodd" d="M518,442l-185,0 0,-24 -5,-18 -4,-18 -4,-5 -6,-4 -10,-4 -10,-1 -8,1 -14,3 -6,2 -5,4 -3,8 -2,22 -2,9 -6,13 -8,12 -165,0 -7,-20 -2,-22 3,-24 9,-24 10,-18 14,-20 54,-65 29,-45 21,-30 7,-14 1,-8 -1,-8 -6,-18 -9,-18 -5,-8 -5,-5 -14,-7 -12,-9 -20,-5 -64,-4 -40,-1 -38,2 0,-71 518,0zM253,362l3,-3 4,-7 7,-20 0,-8 -2,-20 1,-16 -1,-8 -3,-8 -8,-7 -12,-4 -10,1 -6,2 -7,4 -5,6 -2,6 -1,8 3,36 5,14 13,17 6,5 6,3 6,0z"/><path fill="#fcaf08" fill-rule="evenodd" d="M518,442l-180,0 -2,-26 -7,-16 -3,-16 -4,-6 -6,-5 -12,-6 -10,-2 -16,-2 -4,-1 -4,-4 -2,-8 3,-22 -4,-24 1,-18 -2,-10 -4,-7 -6,-5 -10,-5 -10,-2 -13,3 -11,6 -7,8 -3,10 2,38 3,12 5,15 13,29 3,12 0,14 -7,14 -5,7 -8,7 -15,10 -62,0 -11,-7 -7,-7 -5,-8 -5,-10 -3,-10 -2,-10 0,-12 2,-12 3,-12 7,-16 8,-16 11,-16 33,-44 26,-54 26,-38 3,-8 1,-6 -1,-14 -6,-14 -10,-18 -7,-10 -6,-6 -13,-8 -11,-9 -20,-5 -16,0 -58,-7 -36,-3 -34,-1 0,-61 518,0z"/><path fill="#fca808" fill-rule="evenodd" d="M518,442l-176,0 -4,-26 -7,-16 -4,-16 -4,-6 -5,-5 -14,-7 -24,-8 -3,-2 -2,-4 -2,-6 0,-20 -5,-24 1,-14 0,-8 -2,-8 -4,-6 -5,-4 -10,-5 -6,-3 -8,-1 -22,5 -24,11 -2,0 -2,-2 -2,-9 1,-12 2,-12 4,-14 9,-20 20,-28 3,-6 2,-8 -1,-10 -4,-12 -5,-10 -18,-26 -5,-6 -13,-8 -9,-9 -8,-3 -16,-3 -16,-2 -72,-11 -56,-5 0,-53 518,0zM174,404l-8,1 -8,-1 -8,-3 -7,-5 -5,-7 -4,-8 -2,-9 0,-10 1,-10 3,-12 10,-22 10,-14 10,-12 8,-7 6,-3 2,2 2,5 4,15 7,56 1,14 -2,10 -4,9 -7,7z"/><path fill="#fca108" fill-rule="evenodd" d="M518,442l-172,0 -6,-26 -8,-18 -4,-14 -3,-6 -7,-6 -20,-11 -14,-6 -5,-5 -1,-6 -2,-18 -6,-24 1,-14 -1,-10 -1,-6 -3,-6 -8,-7 -16,-9 -8,-2 -20,1 -8,0 -6,-3 -4,-6 -1,-6 0,-8 5,-18 6,-12 19,-24 3,-6 1,-8 -2,-10 -5,-12 -27,-38 -5,-5 -11,-7 -11,-11 -6,-3 -16,-3 -16,-1 -80,-17 -50,-7 0,-44 518,0z"/><path fill="#fc9a08" fill-rule="evenodd" d="M518,442l-168,0 -8,-28 -10,-18 -3,-12 -3,-6 -6,-6 -34,-22 -3,-4 -4,-20 -7,-22 0,-26 -1,-8 -3,-6 -6,-6 -20,-14 -8,-3 -19,-3 -6,-4 -3,-5 -1,-11 3,-14 6,-9 18,-19 5,-10 0,-8 -2,-8 -4,-10 -7,-10 -30,-35 -12,-9 -12,-12 -6,-4 -16,-3 -18,-2 -74,-20 -56,-11 0,-34 518,0z"/><path fill="#fc9308" fill-rule="evenodd" d="M518,442l-163,0 -11,-28 -10,-18 -7,-18 -5,-5 -15,-11 -16,-14 -5,-6 -4,-18 -7,-20 -1,-28 -1,-8 -3,-6 -4,-4 -12,-10 -12,-19 -20,-5 -4,-3 -2,-3 -1,-8 3,-8 25,-20 7,-10 2,-6 -2,-8 -3,-8 -6,-8 -10,-12 -29,-28 -8,-9 -13,-9 -9,-11 -4,-3 -8,-3 -32,-5 -70,-23 -58,-14 0,-25 361,0 -11,7 -10,11 -6,13 -2,15 1,12 6,10 9,8 6,3 6,0 5,-1 6,-4 12,-16 18,-16 9,-12 3,-8 1,-8 -4,-8 -5,-6 113,0z"/><path fill="#fa8c08" fill-rule="evenodd" d="M518,442l-160,0 -13,-30 -11,-18 -6,-16 -6,-6 -18,-14 -11,-12 -4,-6 -13,-38 0,-24 -2,-12 -4,-8 -11,-10 -2,-4 -3,-8 -1,-14 -8,-16 2,-6 7,-6 8,-3 16,-3 4,-2 2,-2 1,-6 2,-18 -1,-4 -2,-4 -4,-3 -16,-5 -10,-5 -32,-22 -18,-15 -10,-11 -11,-7 -9,-12 -6,-4 -8,-3 -30,-5 -74,-27 -56,-16 0,-17 335,0 -8,12 -6,12 -10,30 -1,6 1,6 2,6 4,6 15,13 12,5 14,2 14,-2 14,-5 49,-25 21,-13 13,-13 8,-12 4,-14 0,-14 37,0z"/><path fill="#f88508" fill-rule="evenodd" d="M258,124l-8,0 -10,-2 -12,-5 -12,-7 -12,-9 -10,-11 -10,-7 -10,-13 -6,-5 -6,-2 -32,-5 -74,-31 -56,-18 0,-9 320,0 -16,27 -10,11 -14,7 -24,7 -5,4 -1,6 2,5 4,3 10,4 6,4 5,6 2,8 0,10 -6,12 -7,7zM518,442l-157,0 -7,-13 -9,-19 -10,-16 -7,-17 -4,-5 -18,-14 -15,-18 -13,-38 -1,-28 -1,-10 -4,-7 -11,-13 -2,-6 0,-6 1,-16 1,-8 5,-5 20,-8 6,-5 18,-36 1,-16 2,-8 5,-6 6,-5 13,-5 55,-6 39,-8 23,-6 19,-8 17,-9 15,-11 13,-12z"/><path fill="#f67e08" fill-rule="evenodd" d="M246,112l-8,1 -8,-1 -10,-3 -8,-5 -8,-5 -8,-9 -12,-8 -8,-12 -8,-6 -40,-9 -70,-32 -28,-11 -30,-10 0,-2 307,0 -11,17 -10,10 -12,8 -24,9 -6,6 -5,14 0,12 3,6 13,8 2,6 0,6 -2,4 -4,4zM518,442l-153,0 -9,-13 -10,-21 -10,-15 -8,-17 -20,-18 -14,-18 -14,-38 -2,-32 -1,-8 -13,-22 -1,-8 1,-10 3,-8 3,-4 5,-4 15,-8 5,-6 22,-32 8,-20 5,-6 6,-4 12,-4 16,-3 66,0 26,-3 30,-9 32,-15z"/><path fill="#f47808" fill-rule="evenodd" d="M232,106l-12,-1 -12,-5 -12,-11 -10,-7 -10,-14 -8,-6 -38,-9 -68,-32 -52,-21 288,0 -8,12 -10,10 -12,8 -20,11 -8,7 -5,12 -3,16 1,8 6,12 1,4 -3,4zM518,442l-150,0 -12,-16 -9,-18 -11,-16 -7,-16 -20,-18 -14,-18 -14,-38 -2,-38 -3,-8 -9,-16 0,-8 1,-8 2,-6 4,-6 22,-16 24,-30 12,-18 10,-9 14,-5 16,-2 16,2 40,6 24,0 14,-2 16,-4 36,-14z"/><path fill="#f37108" fill-rule="evenodd" d="M224,101l-8,0 -10,-5 -9,-8 -11,-7 -9,-15 -7,-5 -6,-2 -24,-5 -12,-4 -60,-31 -43,-19 264,0 -9,12 -8,8 -28,19 -8,9 -6,12 -4,18 0,6 2,12 0,2zM518,442l-147,0 -15,-19 -9,-17 -10,-14 -8,-16 -19,-18 -13,-18 -15,-40 -2,-38 -2,-7 -7,-15 -1,-6 1,-8 2,-6 4,-6 20,-16 39,-42 12,-9 12,-5 12,0 16,4 36,11 12,2 10,0 14,-2 16,-3 42,-14z"/><path fill="#f16a08" fill-rule="evenodd" d="M218,96l-4,1 -6,-2 -19,-13 -3,-4 -8,-13 -6,-5 -6,-3 -26,-5 -12,-4 -54,-30 -36,-18 242,0 -7,10 -7,8 -26,20 -8,8 -6,14 -5,22 0,10zM518,442l-144,0 -8,-8 -8,-10 -11,-20 -9,-12 -8,-16 -19,-18 -13,-18 -15,-40 -1,-14 0,-26 -9,-22 0,-6 1,-6 3,-6 5,-6 14,-12 34,-31 18,-14 12,-5 10,1 16,5 34,16 16,3 12,-1 16,-3 54,-16z"/><path fill="#ef6308" fill-rule="evenodd" d="M212,93l-6,-2 -17,-11 -9,-16 -8,-7 -6,-2 -20,-3 -16,-6 -52,-31 -28,-15 221,0 -6,10 -7,8 -22,18 -8,10 -5,12 -7,30 -2,4zM518,442l-139,0 -11,-9 -10,-12 -10,-17 -10,-14 -8,-14 -20,-20 -9,-14 -5,-10 -12,-34 -1,-16 0,-24 -7,-22 1,-10 7,-10 28,-25 18,-14 14,-8 12,-4 10,0 14,5 12,7 20,15 6,3 6,1 8,0 14,-4 72,-21z"/><path fill="#ee5c08" fill-rule="evenodd" d="M210,88l-6,-1 -14,-8 -9,-17 -7,-6 -8,-3 -19,-3 -15,-5 -73,-45 206,0 -6,10 -6,8 -21,18 -7,8 -5,12 -7,28zM518,442l-135,0 -17,-13 -8,-10 -9,-15 -10,-14 -9,-16 -14,-12 -6,-8 -9,-14 -5,-10 -11,-34 -1,-18 1,-20 -7,-22 2,-10 7,-10 25,-22 24,-15 14,-6 8,0 6,1 12,5 10,7 9,10 6,12 1,8 -3,4 -7,4 -16,3 -4,3 0,4 5,6 5,3 4,1 5,-2 5,-4 4,-6 6,-10 9,-6 45,-17 58,-16z"/><path fill="#ed5508" fill-rule="evenodd" d="M208,84l-6,0 -10,-6 -3,-4 -7,-14 -6,-7 -8,-2 -20,-3 -15,-6 -66,-42 191,0 -5,10 -6,8 -18,16 -8,10 -5,10 -4,24zM518,442l-130,0 -14,-9 -10,-8 -6,-7 -9,-16 -9,-11 -10,-17 -13,-12 -7,-8 -9,-16 -4,-10 -11,-34 -2,-16 3,-22 -6,-20 2,-10 7,-10 18,-16 14,-9 22,-10 8,-1 8,1 8,3 8,6 5,6 5,10 1,6 -2,6 -5,2 -12,2 -3,2 -1,4 1,6 9,8 6,4 6,1 9,-3 27,-19 20,-10 34,-12 42,-10z"/><path fill="#ec4e08" fill-rule="evenodd" d="M206,80l-6,0 -7,-4 -3,-4 -6,-16 -6,-7 -8,-2 -20,-2 -14,-5 -11,-6 -49,-34 106,0 -5,6 -2,8 1,4 2,5 2,2 4,1 6,-2 6,-8 4,-10 -2,-6 52,0 -3,10 -5,8 -17,14 -11,14 -3,8 -1,18 -2,6zM518,442l-124,0 -20,-11 -10,-8 -6,-7 -8,-14 -10,-13 -9,-15 -15,-14 -5,-6 -9,-16 -5,-12 -9,-26 -2,-10 -1,-14 4,-20 -6,-20 2,-10 8,-10 15,-13 10,-6 28,-11 6,0 6,1 6,3 4,4 4,6 1,6 -3,5 -13,9 -1,2 1,4 5,8 8,8 10,7 6,1 12,-4 30,-17 22,-10 32,-10 36,-7z"/><path fill="#eb4808" fill-rule="evenodd" d="M166,40l-8,2 -6,0 -14,-5 -12,-7 -41,-30 85,0 -2,6 -1,8 5,20 -2,4zM204,43l-2,0 -4,-2 -2,-5 1,-6 4,-8 7,-6 11,-4 3,-4 2,-8 15,0 -1,10 -2,5 -12,8 -12,14zM200,76l-4,-2 -2,-2 -2,-8 1,-8 5,-3 2,1 3,2 3,10 -2,8zM518,442l-117,0 -27,-14 -12,-9 -12,-19 -10,-12 -9,-14 -14,-14 -6,-8 -10,-20 -12,-34 -2,-10 -1,-10 5,-22 -5,-18 0,-6 4,-9 10,-11 10,-8 8,-4 6,-1 12,0 12,-6 8,1 5,6 0,4 -2,4 -5,3 -4,0 -10,-5 -4,0 -4,6 -1,4 1,4 4,2 10,2 4,2 22,20 6,4 6,2 8,-1 9,-3 31,-15 26,-10 28,-7 32,-5z"/><path fill="#ea4108" fill-rule="evenodd" d="M150,30l-7,0 -9,-4 -36,-26 60,0 -3,24 -1,4zM518,442l-104,0 -40,-17 -12,-9 -11,-16 -9,-11 -10,-15 -14,-14 -6,-8 -10,-20 -12,-37 -2,-11 0,-8 6,-20 0,-6 -4,-12 0,-6 4,-8 11,-12 5,-4 6,-3 4,-1 4,1 3,5 1,10 3,4 17,7 25,19 7,3 4,1 15,-2 39,-14 24,-7 28,-5 28,-3z"/><path fill="#e83a08" fill-rule="evenodd" d="M136,7l-8,-1 -12,-6 26,0 -3,4zM518,442l-89,0 -31,-13 -26,-9 -10,-7 -8,-13 -12,-13 -11,-15 -12,-12 -6,-8 -10,-22 -12,-38 -2,-16 9,-20 -4,-22 4,-8 10,-12 6,-4 6,-1 3,3 2,10 5,5 18,8 25,17 5,3 6,1 16,-1 40,-12 26,-6 26,-3 26,0z"/><path fill="#e73308" fill-rule="evenodd" d="M518,442l-70,0 -54,-21 -24,-5 -7,-4 -9,-14 -12,-13 -10,-13 -12,-12 -4,-6 -11,-24 -12,-38 -2,-8 0,-8 9,-18 0,-24 4,-7 6,-7 4,-3 4,-1 3,8 5,5 22,9 24,16 12,4 16,-1 40,-9 26,-3 26,-2 26,1z"/><path fill="#e62c08" fill-rule="evenodd" d="M512,442l-26,-1 -26,-5 -28,-8 -42,-16 -6,-1 -12,1 -4,-1 -4,-2 -8,-13 -12,-11 -12,-15 -14,-14 -6,-12 -7,-18 -10,-36 -2,-12 2,-6 7,-12 4,-20 4,-7 4,-2 4,0 26,8 8,4 20,13 12,4 15,0 43,-6 24,-2 26,1 26,3 0,186z"/><path fill="#e42508" fill-rule="evenodd" d="M502,430l-28,-1 -28,-4 -26,-8 -36,-16 -4,0 -8,5 -4,0 -9,-12 -17,-13 -10,-12 -11,-11 -5,-8 -8,-22 -12,-42 -1,-6 2,-6 8,-14 5,-15 4,-5 4,-2 4,-1 20,4 10,5 20,12 12,4 14,1 44,-4 24,0 26,3 26,6 0,160z"/><path fill="#e1210c" fill-rule="evenodd" d="M496,418l-14,1 -16,0 -16,-2 -16,-3 -20,-7 -28,-11 -18,-2 -18,-9 -8,-6 -20,-21 -4,-8 -8,-22 -11,-40 -1,-8 1,-6 13,-24 3,-4 5,-3 4,-1 12,1 12,3 22,13 12,5 16,1 46,-1 22,2 28,6 24,9 0,132z"/><path fill="#de1e11" fill-rule="evenodd" d="M466,408l-18,-1 -18,-2 -42,-14 -34,-7 -6,-3 -6,-4 -18,-19 -4,-8 -6,-16 -13,-50 0,-6 2,-6 10,-16 5,-6 8,-4 10,0 12,3 22,13 12,4 14,2 44,2 27,4 15,5 13,5 12,6 11,8 0,96 -12,6 -12,4 -14,3z"/><path fill="#db1c17" fill-rule="evenodd" d="M460,398l-18,0 -20,-2 -54,-13 -14,-2 -6,-2 -6,-4 -16,-17 -5,-8 -7,-22 -10,-40 0,-8 2,-6 6,-11 6,-8 8,-5 6,-1 6,0 10,3 20,12 12,4 54,6 22,5 15,5 13,6 12,8 10,8 6,8 6,9 0,43 -9,12 -14,10 -17,7z"/><path fill="#da1c1e" fill-rule="evenodd" d="M460,390l-20,2 -20,-2 -52,-10 -14,-1 -6,-2 -6,-4 -14,-15 -5,-8 -5,-16 -11,-44 -1,-8 1,-6 5,-9 6,-8 4,-4 6,-2 6,-1 8,1 8,3 18,10 8,3 54,8 24,7 18,8 17,12 10,12 7,14 2,14 -2,12 -7,12 -10,10 -13,7z"/><path fill="#d91c25" fill-rule="evenodd" d="M438,386l-24,-1 -44,-7 -18,-2 -8,-4 -14,-14 -4,-6 -4,-10 -13,-56 0,-6 2,-6 4,-8 5,-6 4,-3 6,-2 10,0 8,2 18,10 9,3 61,13 14,5 12,6 9,6 9,8 9,12 5,12 0,14 -4,12 -8,11 -12,9 -14,5z"/><path fill="#d81d2c" fill-rule="evenodd" d="M440,380l-14,2 -14,-1 -42,-5 -14,-1 -8,-2 -8,-6 -10,-11 -4,-8 -14,-58 -1,-8 1,-6 3,-6 5,-6 4,-3 6,-3 6,-1 8,2 28,12 47,11 19,6 16,8 13,10 9,10 6,12 1,12 -2,10 -5,10 -10,10 -12,6z"/><path fill="#d81f32" fill-rule="evenodd" d="M422,378l-22,0 -48,-6 -8,-4 -11,-10 -4,-6 -3,-8 -13,-56 0,-6 1,-6 3,-6 5,-5 4,-3 6,-2 6,0 8,1 24,11 44,11 20,7 16,8 13,12 7,10 4,12 0,12 -4,10 -8,10 -10,7 -14,5z"/><path fill="#d82139" fill-rule="evenodd" d="M426,374l-26,1 -46,-4 -8,-3 -9,-8 -5,-6 -4,-8 -12,-56 0,-12 2,-6 4,-4 4,-3 6,-3 6,0 8,1 22,10 38,10 20,7 16,8 12,10 8,10 4,10 1,10 -2,10 -7,10 -8,7 -10,5z"/><path fill="#d9263e" fill-rule="evenodd" d="M414,372l-22,1 -38,-4 -8,-3 -10,-9 -4,-6 -3,-7 -11,-56 0,-10 2,-4 4,-5 4,-3 6,-1 12,1 20,8 29,8 27,10 16,8 11,10 7,10 3,10 0,10 -3,10 -7,8 -9,7 -12,4z"/><path fill="#db2b43" fill-rule="evenodd" d="M404,370l-18,0 -32,-3 -8,-3 -10,-9 -4,-7 -1,-6 -11,-54 1,-10 2,-4 3,-3 8,-4 10,1 22,9 18,4 16,5 16,6 11,6 9,6 8,8 6,10 2,10 -1,10 -3,8 -8,8 -10,6 -12,4z"/><path fill="#dc3048" fill-rule="evenodd" d="M396,368l-16,0 -26,-2 -8,-4 -8,-8 -4,-6 -1,-6 -10,-54 1,-10 4,-5 8,-3 8,1 20,7 18,4 12,4 15,6 13,7 10,7 7,8 5,8 2,10 -2,10 -4,8 -8,8 -10,5 -12,3z"/><path fill="#dc344c" fill-rule="evenodd" d="M390,366l-14,0 -22,-2 -8,-4 -8,-8 -3,-10 -8,-54 0,-8 4,-4 5,-2 8,0 18,6 20,4 10,4 15,6 11,6 10,8 7,8 4,8 1,10 -2,8 -5,8 -7,6 -10,5 -12,4z"/><path fill="#dc3951" fill-rule="evenodd" d="M388,364l-16,0 -18,-2 -8,-5 -6,-6 -4,-11 -5,-48 1,-8 3,-4 5,-1 6,0 42,10 16,7 11,6 7,6 7,8 4,8 1,8 -1,8 -5,8 -7,6 -9,5 -12,4z"/><path fill="#dc3e56" fill-rule="evenodd" d="M386,362l-14,0 -16,-2 -8,-4 -6,-6 -3,-8 -3,-26 1,-24 1,-4 2,-2 4,-1 6,0 28,4 10,3 14,6 10,6 7,6 6,8 3,8 0,8 -2,8 -4,6 -8,6 -8,4 -10,3z"/><path fill="#dd445b" fill-rule="evenodd" d="M386,360l-16,0 -14,-2 -8,-4 -5,-6 -2,-8 -2,-26 3,-16 5,-6 5,-2 10,0 14,1 10,3 20,10 8,6 6,8 3,6 1,8 -2,8 -4,6 -7,6 -7,4z"/><path fill="#de4a5e" fill-rule="evenodd" d="M388,358l-14,1 -16,-2 -7,-3 -6,-6 -3,-10 -1,-22 3,-11 7,-9 5,-2 10,-1 11,1 9,2 10,5 9,5 7,6 4,6 3,6 1,8 -2,6 -3,6 -5,5 -6,4z"/><path fill="#df4f62" fill-rule="evenodd" d="M390,356l-14,2 -14,-1 -8,-3 -7,-6 -3,-10 -1,-20 3,-10 4,-5 4,-4 6,-2 6,-1 10,1 8,1 16,8 8,6 4,6 3,6 1,6 -2,10 -5,6 -5,4z"/><path fill="#e05566" fill-rule="evenodd" d="M380,356l-12,0 -10,-2 -7,-4 -4,-6 -2,-16 1,-12 4,-8 8,-7 6,-1 8,-1 16,4 14,8 5,5 4,6 1,6 0,6 -2,6 -3,4 -5,4 -6,4z"/><path fill="#e25b69" fill-rule="evenodd" d="M382,354l-12,1 -10,-2 -6,-3 -5,-6 -2,-10 0,-14 3,-8 8,-7 6,-2 6,0 16,2 13,7 4,4 4,6 2,10 -2,6 -2,4 -10,8z"/><path fill="#e5616b" fill-rule="evenodd" d="M382,352l-10,1 -10,-1 -6,-3 -5,-5 -3,-10 1,-12 3,-8 6,-5 10,-3 16,1 12,7 7,8 2,10 -3,8 -9,8z"/><path fill="#e8676d" fill-rule="evenodd" d="M382,350l-10,2 -10,-2 -6,-3 -4,-5 -2,-8 1,-10 3,-8 6,-5 8,-2 16,2 8,3 7,8 2,8 -2,8 -7,8z"/><path fill="#eb6d6f" fill-rule="evenodd" d="M382,348l-10,2 -8,-1 -6,-3 -4,-4 -2,-8 0,-8 2,-6 6,-6 8,-2 12,1 9,3 6,6 3,8 -2,8 -6,6z"/><path fill="#ed7370" fill-rule="evenodd" d="M372,348l-8,-1 -6,-3 -3,-4 -1,-6 0,-8 4,-6 4,-4 6,-1 10,0 8,3 6,6 2,6 -1,6 -5,6 -6,4z"/><path fill="#ef7a70" fill-rule="evenodd" d="M374,344l-10,-1 -4,-2 -3,-5 0,-6 1,-4 4,-4 4,-2 6,-1 6,1 6,4 3,4 0,6 -2,4 -4,4z"/><path fill="#f08070" fill-rule="evenodd" d="M372,340l-6,0 -5,-4 0,-6 5,-5 4,-1 4,1 4,3 2,2 -1,6 -3,3z"/><path fill="#f18571" fill-rule="evenodd" d="M372,334l-4,2 -3,-2 0,-2 3,-2 2,0 2,2z"/></g><path fill="none" stroke="#3a2a10" stroke-opacity="0.75" stroke-width="0.9" stroke-linejoin="round" d="M155.4,78.3 157.7,79 160.1,79.7 162.4,80.4 164.7,81.4 166.7,82.8 168.7,84.4 170.7,86 173,87.6 175.9,88.9 179.3,90.1 182.6,91.4 185.4,92.8 187.7,94.4 189.6,96 191.3,97.9 192.7,100.1 193.7,102.9 194.3,106.1 194.9,109.4 195.8,112.5 197.1,115.2 198.7,117.8 200.4,120.3 202,122.8M386.6,262.8 381.1,263.5 375.5,264.3 370.1,265 365.1,265.3 360.4,265.3 356.1,265 352.1,264.5 348.5,263.7 345.5,262.7 342.9,261.4 340.7,259.9 338.6,257.9 336.7,255.3 335.1,252.2 333.6,249 332,246.3 330.4,244 328.8,241.9 327.1,240.2 325.3,238.8 323.3,237.7 321.2,237 319.1,236.7 317.1,237.2 315.3,238.5 313.7,240.6 312,243.3 310.4,246.3 308.7,249.9 307,254.1 305.3,258.5 303.8,262.8 302.3,266.9 300.9,271.1 299.7,275.3 298.9,279.4 298.4,283.6 298.2,288 298.3,292.1 298.9,295.9 300,299.1 301.5,302 303.3,304.7 305.5,307.5 308.2,310.4 311.3,313.2 314.4,316.1 317.1,319.1 319.1,322.3 320.8,325.7 322.3,329 323.7,332.4 325,335.8 326,339.2 327.2,342.5 328.6,345.6 330.4,348.3 332.3,350.8 334.5,353.2 336.9,355.5 339.6,357.8 342.5,360.1 345.5,362.3 348.5,364.6M219.4,285.2 222.8,282.4 226.2,279.6 229.5,276.9 232.7,274.4 235.7,272.2 238.7,270.1 241.5,268.4 244.2,267 246.9,266 249.5,265.3 251.9,265.1 254.2,265.3 256.3,266 258.3,267.3 260.1,268.9 261.6,271.1 262.8,273.7 263.7,276.9 264.3,280.4 264.9,284.4 265.4,289 265.7,294.1 265.9,299.3 265.8,304.2 265.5,308.7 264.9,312.9 264.1,317 263.3,320.8 262.4,324.3 261.3,327.6 260.2,330.8 259.1,334M264.1,384.5 267,382.2 269.8,379.8 272.7,377.5 275.7,375.4 278.8,373.4 282,371.5 285.3,369.9 288.9,368.8 292.9,368.2 297.3,368.1 301.6,368.3 305.5,368.8 308.9,369.6 311.9,370.6 314.7,372 317.1,373.7 319.2,375.7 321,378 322.5,380.6 323.7,383.7 324.5,387.3 325,391.2 325.2,395.6 325.3,400.2 325.1,405.2 324.7,410.6 324.2,416.2 323.7,421.7"/><path fill="none" stroke="#0a0410" stroke-width="4" stroke-linecap="butt" stroke-linejoin="round" d="M135.8,49.4 138.3,50.7 140.7,52.1 143.2,53.4 146.1,54.5 149.6,55.2 153.5,55.7 157.3,56.1 160.6,56.6 163.2,57.1 165.4,57.5 167.3,58 168.9,58.7 170.2,59.6 171.2,60.6 172.1,61.7 173,62.8M258.9,17.3 254.4,19.4 249.8,21.5 245.3,23.5 241.3,25.6 237.7,27.5 234.4,29.3 231.4,31.3 228.9,33.8 226.8,37 225.2,40.6 223.9,44.5 222.7,48.3 221.7,52.1 221,56 220.3,59.9 219.6,63.8M214.4,90.7 213,91.9 211.4,93.1 210.1,94.4 209.2,95.9 208.9,97.9 209,100.1 209.4,102.3 210.2,104.2 211.4,105.6 213,106.7 214.7,107.6 216.5,108.3 218.2,108.8 220,109 221.9,109.2 223.7,109.4M248.5,116.6 250.6,113.5M365.4,123.9 361.7,125.7 357.9,127.4 354.3,129.2 350.9,131.1 347.7,133.1 344.6,135.1 341.9,137.2 339.6,139.4 338.1,141.9 337.1,144.6 336.3,147.2 335.4,149.7 334.4,152 333.4,154.2 332.1,156.3 330.3,158 327.6,159.2 324.4,160.1 320.9,160.9 317.8,162.1 314.9,163.7 312.1,165.4 309.6,167.4 307.5,169.4 306,171.5 304.9,173.7 304.1,176.1 303.4,178.7 302.9,181.6 302.7,184.7 302.5,187.9 302.3,191.1M273.2,219.8 273.8,222.2 274.4,224.6 275,227.1 275.7,229.7 276.7,232.4 278,235.2 279.1,238.1 279.8,241.3 280,244.8 279.9,248.4 279.5,252.3 279,256.2 278.3,260.3 277.4,264.5 276.5,268.7 275.7,272.8 275.1,276.7 274.5,280.6 274.1,284.3 274,287.7 274.1,290.8 274.3,293.7 274.9,296.4 275.7,299.2 277,302.1 278.6,305 280.4,307.9 282.3,310.8 284.2,313.8 286.2,316.8 288.4,319.7 290.6,322.4 293,324.9 295.6,327.2 298.1,329.4 300.5,331.5 302.7,333.4 304.9,335.1 306.9,336.9 308.8,339 310.5,341.6 312,344.4 313.6,347.5 315.4,350.6 317.6,353.9 320,357.3 322.6,360.7 325.3,363.8 328.2,366.5 331.2,369 334.2,371.3 336.9,373.7 339.2,376 341.2,378.3 343,380.7 344.4,383.7 345.4,387.3 346,391.2 346.5,395.6 346.9,400.2 347.4,405.2 347.8,410.6 348.1,416.2 348.5,421.7"/><text class="cl" style="font-size:23.5px" text-anchor="middle" transform="translate(190.6,72.1) rotate(5)" y="8.5">32.5</text><text class="cl" style="font-size:23.5px" text-anchor="middle" transform="translate(247.5,102.1) rotate(15)" y="8.5">32.5</text><text class="cl" style="font-size:23.5px" text-anchor="middle" transform="translate(286.8,204.5) rotate(-20)" y="8.5">32.5</text><text class="cl" style="font-size:23.5px" text-anchor="middle" transform="translate(132.4,79.0) rotate(5)" y="8.5">32</text><text class="cl" style="font-size:23.5px" text-anchor="middle" transform="translate(366.7,375.4) rotate(25)" y="8.5">33</text><text class="cl" style="font-size:23.5px" text-anchor="middle" transform="translate(253.3,352.2) rotate(-65)" y="8.5">32</text></g><path fill="#fff" d="M253.6,3.5 270.4,3.5 258,12Z"/><path fill="#fff" d="M290.2,37.5 297.7,32.5 305.1,27.5 312.6,23.8 316.3,22.6 312.6,28.8 308.9,35 303.9,37.5 297.7,38.7 292.7,39.3Z"/><path fill="#fff" d="M250.5,156.1 270.4,156.1 270.4,163.5 250.5,163.5Z"/>
<use href="#land"/>
<use href="#grid"/>
<path stroke="#1a0828" stroke-opacity="0.8" stroke-width="3.2" stroke-linecap="round" d="M224.1,21.3h0M188,36.6h0M209.2,36.2h0M234.6,37.1h0M202.4,42.2h0M195.3,49.2h0M231.2,51.5h0M159.2,51.1h0M159.5,66.9h0M179.1,68.8h0M167,76.8h0M160.5,83.7h0M177.8,83.7h0M162.3,88h0M206.6,83.3h0M227.5,83.3h0M252.3,79.4h0M249.8,86.8h0M248,94.3h0M167.5,97.6h0M212,101.7h0M245.2,104.5h0M182.8,111.6h0M196.8,111.6h0M278.7,65h0M278.7,90.5h0M341.7,40.3h0M352.7,39.9h0M324.7,48.6h0M317.9,63.5h0M345.8,63.8h0M327.8,92.7h0M303,101.4h0M297.1,114.4h0M312.9,115.7h0M278.2,115h0M311,128.7h0M332.4,128.7h0M296.4,129.9h0M303.9,148h0M301.4,156.1h0M327.8,147.7h0M345.5,148h0M316,174.1h0M239.3,196.5h0M265.2,196.5h0M291.5,196.5h0M317.5,196.5h0M357.3,196.5h0M291.5,220.9h0M239,245.1h0M265,245.3h0M278,245.3h0M291.6,245.3h0M318,245.3h0M356.8,244.7h0M254.8,293.3h0M278,293.1h0M304.6,293.1h0M320.8,293.1h0M356.8,293.3h0M278,341.2h0M305,341.2h0M337.6,341.2h0M356.8,341.2h0M298.1,390h0M318,390h0M337.6,390h0M356.8,390h0"/>
</g>
<use href="#frameW"/>
<text class="ax" text-anchor="end" x="-6" y="11.5">40°N</text>
<text class="ax" text-anchor="end" x="-6" y="108.5">38°N</text>
<text class="ax" text-anchor="end" x="-6" y="205.5">36°N</text>
<text class="ax" text-anchor="end" x="-6" y="302.5">34°N</text>
<text class="ax" text-anchor="end" x="-6" y="399.5">32°N</text>
<text class="ax" text-anchor="middle" x="3.1" y="472.3">115°E</text>
<text class="ax" text-anchor="middle" x="200.1" y="472.3">120°E</text>
<text class="ax" text-anchor="middle" x="397.1" y="472.3">125°E</text>
<text class="odv" transform="translate(537.6,434.6) rotate(-90)">Ocean Data View</text>
<path d="M551.9,3.4 L567.15,-4.0 L582.4,3.4 Z" fill="#f8b47c"/>
<path d="M551.9,437.7 L567.15,445.09999999999997 L582.4,437.7 Z" fill="#e870f8"/>
<rect x="551.9" y="2.9" width="30.5" height="435.3" fill="url(#cbg)"/>
<path d="M551.9,2.9 L567.15,-4.0 L582.4,2.9 V438.2 L567.15,445.09999999999997 L551.9,438.2 Z" fill="none" stroke="#4a4038" stroke-width="0.8"/>
<path d="M551.9,438.2h6.5M582.4,438.2h-6.5" stroke="#000" stroke-width="1.6"/>
<text class="ax" x="589.4" y="447.2">27</text>
<path d="M551.9,376.0h6.5M582.4,376.0h-6.5" stroke="#000" stroke-width="1.6"/>
<text class="ax" x="589.4" y="385.0">28</text>
<path d="M551.9,313.8h6.5M582.4,313.8h-6.5" stroke="#000" stroke-width="1.6"/>
<text class="ax" x="589.4" y="322.8">29</text>
<path d="M551.9,251.6h6.5M582.4,251.6h-6.5" stroke="#000" stroke-width="1.6"/>
<text class="ax" x="589.4" y="260.6">30</text>
<path d="M551.9,189.5h6.5M582.4,189.5h-6.5" stroke="#000" stroke-width="1.6"/>
<text class="ax" x="589.4" y="198.5">31</text>
<path d="M551.9,127.3h6.5M582.4,127.3h-6.5" stroke="#000" stroke-width="1.6"/>
<text class="ax" x="589.4" y="136.3">32</text>
<path d="M551.9,65.1h6.5M582.4,65.1h-6.5" stroke="#000" stroke-width="1.6"/>
<text class="ax" x="589.4" y="74.1">33</text>
<path d="M551.9,2.9h6.5M582.4,2.9h-6.5" stroke="#000" stroke-width="1.6"/>
<text class="ax" x="589.4" y="11.9">34</text>
</g>
<text class="pl" x="716.7" y="596.9">D</text>
<text class="tt" x="1330.5" y="602.8000000000001" text-anchor="end">Salinity @ bottom</text>
<g transform="translate(89,1194.5)">
<g clip-path="url(#fr)">
<clipPath id="rgE"><path d="M117.5,40 117.5,100 150,104 154,138 173,145 197,143 204,128 211,152 201,188 199,200 198.5,205.5 194,223.2 193,238.6 194,256.3 198.5,269.5 208.4,278.3 210,290 215,310 220,330 224,345 228,352 238,368 246,380 254,390 264,398 270,404 271,410 270.2,415.2 274.6,420.7 283.4,424 369.5,424 380.5,421.8 391.6,415.2 397,404.1 397.4,380 397.4,235.5 397.8,189.5 393.4,176.5 384.6,163.2 386.8,150 382.4,132.5 369,119.1 364.7,105.5 369.1,92.5 378,75 389,52.5 393.3,35.2 386.7,17.5 369,6.5 362,0 190,-3 173,12 166,32 141,42Z"/></clipPath><g clip-path="url(#rgE)"><g filter="url(#bl)"><rect x="-10" y="-10" width="538.0" height="462.0" fill="#da76f8"/><path fill="#d66af8" fill-rule="evenodd" d="M518,443l-518,0 -1,-1 0,-442 133,0 -1,8 3,12 7,10 7,3 4,-1 1,-2 -1,-6 -12,-18 -4,-4 -4,-2 212,0 2,8 2,4 4,3 6,3 92,17 32,9 36,12zM287,206l7,-3 6,-5 2,-4 0,-2 -6,-3 -6,-1 -6,2 -6,4 -3,4 0,2 1,3 4,3z"/><path fill="#d161f8" fill-rule="evenodd" d="M518,443l-518,0 -1,-1 0,-442 126,0 5,16 6,10 6,6 4,2 4,1 3,-1 2,-2 0,-6 -14,-26 198,0 2,10 2,6 4,4 5,3 8,2 54,8 34,6 34,9 36,13zM283,212l5,-2 10,-6 10,-8 4,-4 -10,-4 -12,-2 -11,4 -10,6 -3,6 2,6 6,4z"/><path fill="#cc59f8" fill-rule="evenodd" d="M518,443l-518,0 -1,-1 0,-442 122,0 8,18 7,10 7,6 7,2 6,-2 1,-6 -14,-28 193,0 0,12 2,6 5,6 7,4 8,2 48,6 38,6 36,10 38,13zM233,208l5,-9 11,-7 0,-2 -3,-6 -4,-6 -4,-2 -3,0 -3,2 -2,10 -4,2 -8,2 -2,4 1,4 5,5 8,5 2,0zM275,222l7,-3 26,-19 16,-7 3,-3 -1,-2 -4,-2 -14,1 -18,-3 -32,10 -2,2 0,2 3,18 6,4zM240,234l4,-2 3,-4 2,-6 -3,-3 -12,-5 -2,1 -1,3 0,10 3,5 2,1z"/><path fill="#c852f8" fill-rule="evenodd" d="M518,443l-518,0 -1,-1 1,-442 118,0 10,18 6,10 8,7 8,2 6,-1 2,-2 0,-4 -1,-6 -11,-24 186,0 0,14 2,8 5,6 7,5 10,2 44,5 44,7 34,9 40,14zM238,240l22,-10 4,0 14,2 4,-1 2,-1 6,-12 7,-8 13,-9 20,-7 1,-2 0,-4 -3,-3 -4,-1 -16,1 -18,-2 -18,4 -10,1 -6,-3 -16,-13 -4,0 -4,1 -4,3 -2,8 -2,2 -6,0 -2,2 -3,6 -1,4 2,6 7,8 4,18 3,6 4,3z"/><path fill="#c24bf8" fill-rule="evenodd" d="M518,443l-518,0 -1,-1 1,-442 115,0 12,20 7,10 8,6 8,3 5,-1 3,-2 2,-2 0,-4 -11,-30 179,0 0,17 2,9 5,8 9,5 14,4 44,4 44,7 34,9 38,14zM239,244l21,-8 6,0 14,2 6,-1 3,-3 4,-14 6,-8 13,-9 23,-7 3,-4 0,-4 -6,-5 -8,-2 -18,1 -16,-1 -16,4 -8,-1 -8,-3 -16,-12 -6,0 -5,1 -9,9 -6,4 -6,11 -1,8 1,4 7,8 2,14 4,10 7,5z"/><path fill="#bb46f9" fill-rule="evenodd" d="M518,443l-518,0 -1,-1 1,-442 112,0 14,22 8,10 9,6 9,2 4,-1 4,-3 2,-6 -11,-30 173,0 0,20 3,12 5,7 10,6 20,6 52,4 34,6 32,9 38,14zM242,246l12,-5 6,-1 6,0 16,2 6,-1 4,-5 4,-16 6,-8 12,-7 27,-7 4,-4 -1,-6 -8,-7 -10,-2 -18,1 -18,0 -14,2 -8,0 -8,-3 -16,-12 -6,-1 -8,2 -16,14 -7,14 -1,10 2,4 5,6 1,12 4,9 3,5 5,3 4,2 6,0z"/><path fill="#b442fb" fill-rule="evenodd" d="M518,443l-518,0 -1,-1 1,-442 109,0 15,22 9,10 9,7 10,2 5,-1 3,-2 2,-2 1,-4 0,-6 -6,-14 -3,-12 167,0 -1,26 3,12 3,4 4,3 20,10 16,5 50,3 30,4 32,9 40,15zM275,84l0,-6 -1,-3 -2,-2 -6,0 -9,5 0,2 3,2 8,3 4,1zM243,248l17,-5 8,0 14,3 6,-1 4,-3 2,-3 4,-17 4,-6 4,-4 6,-4 6,-2 24,-4 8,-2 3,-4 -1,-6 -8,-8 -6,-3 -6,-2 -8,-1 -18,3 -16,0 -18,1 -10,-3 -14,-11 -4,-2 -6,0 -8,3 -14,11 -4,5 -7,15 -2,16 12,26 5,6 6,3 6,1z"/><path fill="#ab3efc" fill-rule="evenodd" d="M518,443l-518,0 -1,-1 1,-442 106,0 16,22 9,10 11,8 10,2 8,-2 4,-4 1,-4 -1,-6 -5,-14 -3,-12 161,0 -1,34 1,6 2,4 5,4 20,10 20,14 8,1 18,-2 18,-1 30,3 34,9 46,17zM277,92l2,-4 1,-8 -1,-6 -3,-4 -4,-1 -6,1 -18,8 0,3 4,3 11,4 9,6 2,0zM289,118l-1,-2 -1,2zM243,250l17,-5 8,0 14,3 8,-1 6,-7 4,-16 3,-6 3,-4 6,-4 8,-3 26,-2 8,-2 5,-5 0,-4 -1,-4 -4,-5 -6,-5 -12,-5 -10,-1 -20,3 -32,2 -10,-3 -18,-14 -6,0 -8,2 -6,4 -14,13 -8,15 -5,18 0,4 14,26 4,4 5,2 8,2 6,0z"/><path fill="#a33cfc" fill-rule="evenodd" d="M518,443l-518,0 -1,-1 1,-442 105,0 16,22 12,12 9,6 10,2 9,-2 3,-4 2,-4 -1,-6 -5,-14 -3,-12 159,0 -2,36 2,9 3,3 17,8 9,6 19,19 6,1 16,-5 14,-3 16,0 16,1 18,4 18,5 50,19zM275,100l3,-4 3,-10 0,-12 -3,-5 -4,-1 -6,0 -20,8 -2,2 0,4 2,2 14,5 4,3 6,10 2,-1zM290,120l1,-2 -1,-4 -4,-1 -2,3 1,2 1,2zM239,252l13,-4 8,-2 8,0 14,3 8,-1 6,-6 5,-18 3,-6 4,-4 6,-4 8,-2 24,-1 10,-2 3,-3 3,-4 0,-4 -1,-4 -5,-6 -5,-4 -8,-4 -7,-2 -8,-1 -22,3 -32,2 -10,-4 -14,-11 -4,-2 -6,0 -8,2 -6,4 -14,13 -9,16 -5,16 -1,6 3,7 14,23 6,3 6,1z"/><path fill="#9a39fc" fill-rule="evenodd" d="M518,443l-518,0 -1,-1 1,-442 104,0 16,22 12,12 10,7 10,1 6,0 4,-2 3,-4 1,-4 0,-6 -6,-14 -2,-12 156,0 -2,38 1,8 4,4 17,8 9,6 7,8 7,14 3,4 4,1 4,-1 18,-8 12,-3 14,-2 16,1 18,3 18,5 54,21zM271,114l8,-8 3,-20 0,-14 -3,-4 -5,-2 -10,2 -16,7 -4,3 0,3 2,3 16,7 3,3 2,6 -3,12 2,3 2,0zM291,120l1,-2 0,-4 -4,-3 -4,-1 -2,6 2,4 4,1zM242,252l18,-5 8,0 16,4 6,-2 6,-5 6,-20 3,-6 4,-4 7,-4 6,-1 26,-1 9,-2 5,-4 3,-4 0,-4 -1,-4 -4,-5 -6,-5 -8,-4 -8,-3 -10,-1 -22,4 -30,1 -6,-1 -6,-3 -13,-11 -5,-2 -6,0 -8,3 -18,14 -4,5 -7,14 -6,16 -1,6 4,11 10,17 4,4 6,2 8,2z"/><path fill="#9137fc" fill-rule="evenodd" d="M518,443l-518,0 -1,-1 1,-442 103,0 16,22 12,12 11,7 10,2 6,-1 4,-1 4,-5 1,-4 0,-6 -6,-14 -2,-12 153,0 0,16 -2,24 1,8 3,3 20,9 8,7 6,9 4,16 4,5 4,1 6,0 20,-11 12,-4 14,-2 14,1 18,3 19,5 55,22zM290,122l3,-2 1,-4 -2,-4 -6,-6 -3,-4 0,-6 1,-22 -2,-6 -2,-2 -4,-1 -8,1 -24,10 -2,4 2,4 18,10 2,6 -2,12 2,5 2,1 4,0 8,-5 4,8 4,1zM237,254l23,-6 8,0 16,4 6,-1 4,-3 3,-4 6,-20 3,-5 4,-4 6,-4 6,-1 26,0 10,-3 6,-3 3,-4 1,-4 -1,-6 -5,-6 -8,-6 -8,-4 -8,-3 -10,0 -24,4 -28,1 -6,-1 -6,-3 -16,-13 -6,-1 -8,3 -8,5 -15,14 -9,16 -6,16 -1,6 3,11 10,17 3,4 11,4z"/><path fill="#8935fc" fill-rule="evenodd" d="M518,443l-518,0 -1,-1 1,-442 101,0 17,22 12,12 12,8 10,1 6,0 4,-1 4,-4 2,-6 0,-6 -6,-16 -1,-10 149,0 0,20 -4,24 1,6 5,4 18,7 10,8 5,9 1,18 2,4 2,2 6,2 9,0 23,-12 10,-3 14,-2 14,0 18,3 18,5 56,23zM292,122l3,-4 0,-4 -7,-10 -3,-6 1,-26 -2,-7 -6,-2 -8,1 -24,9 -4,3 -1,4 1,4 17,12 1,4 0,14 2,5 4,2 10,0 10,3zM242,254l18,-5 8,1 16,4 7,-2 7,-7 6,-21 6,-8 6,-3 6,-2 26,1 12,-3 8,-5 4,-4 1,-4 -2,-6 -5,-6 -8,-6 -10,-6 -8,-2 -10,-1 -26,5 -28,1 -10,-3 -14,-13 -4,-2 -6,-1 -6,3 -10,6 -16,15 -10,18 -6,16 -1,6 2,6 3,8 8,14 4,4 6,2 10,2 8,0z"/><path fill="#7f34fc" fill-rule="evenodd" d="M518,443l-518,0 -1,-1 1,-442 99,0 20,24 12,12 11,7 10,1 6,0 5,-2 4,-4 2,-6 0,-6 -6,-16 -1,-10 146,0 0,20 -5,24 0,6 3,4 20,8 6,3 5,5 3,6 2,6 0,19 4,5 8,3 10,-1 7,-2 19,-9 10,-4 12,-1 14,0 16,3 16,5 60,25zM291,124l4,-4 2,-4 -1,-4 -7,-10 -2,-6 2,-28 -1,-4 -2,-2 -6,-1 -8,1 -30,12 -2,4 0,6 4,4 9,6 4,4 0,18 3,6 6,3 20,0zM238,256l14,-4 8,-2 8,1 16,4 7,-1 7,-6 3,-6 4,-16 3,-6 4,-4 10,-4 26,1 15,-3 8,-4 5,-4 2,-4 -1,-6 -4,-6 -9,-7 -12,-7 -10,-4 -10,-1 -28,6 -26,1 -6,-1 -6,-3 -16,-15 -6,-1 -6,2 -12,8 -17,16 -11,20 -5,12 -1,8 1,8 3,7 6,11 5,6 5,3 8,2 10,0z"/><path fill="#7736fc" fill-rule="evenodd" d="M518,443l-518,0 -1,-1 1,-442 96,0 21,24 13,12 12,7 10,2 8,-1 4,-2 4,-4 3,-6 0,-6 -6,-14 -1,-12 141,0 0,14 -1,12 -9,30 -1,1 -16,2 -12,3 -22,10 -3,2 -3,4 0,4 2,4 12,10 2,4 1,18 2,6 3,3 6,1 22,-2 5,-2 4,-4 1,-4 0,-4 -8,-12 -2,-10 1,-10 3,-12 3,-8 1,-2 2,0 22,4 8,4 4,4 4,6 2,6 -1,22 3,5 6,3 8,1 12,-1 24,-10 12,-3 10,-1 12,0 14,3 16,5 64,27zM235,258l25,-6 10,1 14,4 8,-1 4,-3 4,-5 6,-22 4,-6 4,-3 10,-3 18,1 10,0 24,-7 4,-2 4,-4 1,-4 -2,-6 -4,-6 -10,-8 -13,-7 -12,-5 -12,-1 -28,7 -26,1 -6,-1 -6,-4 -14,-15 -4,-2 -6,2 -14,9 -18,16 -12,20 -6,14 -2,8 1,8 3,9 6,11 5,6 3,2 8,2z"/><path fill="#6f3afc" fill-rule="evenodd" d="M518,443l-518,0 -1,-1 1,-442 94,0 21,24 13,12 14,8 12,1 6,0 4,-2 5,-5 3,-6 1,-6 -6,-14 -1,-12 136,0 1,14 -2,14 -4,12 -5,9 -6,4 -42,17 -5,4 -2,4 -1,4 2,4 11,10 3,4 1,4 0,20 2,6 3,3 4,0 26,-5 5,-2 4,-4 3,-4 0,-4 -1,-4 -8,-14 -1,-6 1,-8 3,-10 4,-6 4,-2 6,-1 8,1 6,3 6,4 4,5 3,10 -2,14 0,6 3,6 6,5 8,1 10,-1 40,-11 10,-1 12,1 12,2 14,5 70,31zM231,260l29,-7 10,1 16,5 8,-1 4,-3 3,-5 6,-22 3,-5 4,-4 4,-2 6,-2 18,3 8,0 34,-6 6,-4 2,-4 1,-6 -1,-6 -6,-8 -9,-6 -15,-8 -16,-7 -12,-1 -30,8 -26,2 -6,-2 -6,-4 -12,-18 -4,-1 -4,1 -18,12 -19,18 -12,20 -6,12 -2,8 0,8 2,10 4,10 6,8 5,4 4,1z"/><path fill="#6a41fc" fill-rule="evenodd" d="M518,443l-518,0 -1,-1 1,-442 90,0 25,26 14,12 13,7 12,1 6,0 5,-2 6,-6 5,-8 0,-6 -4,-5 -2,-5 0,-14 128,0 1,12 -1,12 -4,12 -4,8 -4,4 -6,4 -38,18 -4,3 -3,5 -1,4 1,4 3,4 9,8 3,6 -1,28 -1,6 -6,8 -30,27 -6,7 -14,24 -4,8 -2,8 1,12 4,14 7,10 8,5 10,1 14,0 24,-6 8,-1 8,1 16,6 8,0 4,-3 4,-4 3,-7 5,-20 4,-6 4,-3 8,-1 12,3 8,0 26,-3 14,2 10,-5 8,-9 2,-6 0,-6 -3,-6 -6,-6 -13,-8 -38,-16 -6,-1 -6,0 -24,10 -22,3 -12,-1 -6,-3 -4,-4 -3,-6 -2,-6 0,-6 3,-4 8,-5 22,-8 6,-5 3,-4 0,-6 -8,-14 -2,-10 3,-12 4,-5 4,-2 6,-1 8,1 6,4 4,4 3,9 -3,18 1,6 5,10 6,4 10,1 44,-11 12,0 10,1 20,7 50,26 32,12z"/><path fill="#6549fc" fill-rule="evenodd" d="M518,442l-518,1 -1,-1 1,-442 86,0 29,28 15,12 12,6 14,1 6,0 5,-3 17,-18 3,-4 0,-2 -1,-3 -2,-1 -6,2 -4,-2 -1,-6 1,-10 120,0 1,12 -1,12 -3,10 -5,8 -10,9 -36,18 -6,7 -2,6 1,6 11,10 3,6 -2,26 -2,8 -8,12 -30,30 -12,18 -7,16 -3,14 3,16 7,12 5,4 6,3 10,2 16,-1 22,-6 10,-1 10,2 16,6 8,1 4,-3 4,-5 3,-8 5,-20 2,-4 4,-4 8,-1 12,3 8,1 26,-3 12,4 4,0 10,-3 10,-5 7,-6 6,-8 3,-8 1,-8 -2,-6 -5,-5 -11,-5 -41,-12 -22,-9 -8,0 -22,12 -14,4 -20,1 -6,-2 -4,-4 -3,-4 -2,-6 1,-6 3,-4 7,-5 20,-9 7,-6 4,-6 0,-6 -9,-12 -2,-8 2,-10 4,-5 4,-2 4,-1 6,1 5,3 3,4 2,4 1,6 -4,16 0,6 3,6 6,9 6,6 4,1 4,0 23,-8 13,-3 12,0 10,1 10,3 8,5 8,6 18,17 10,6 20,7 40,10z"/><path fill="#6050fc" fill-rule="evenodd" d="M518,442l-518,1 -1,-1 1,-442 82,0 30,28 15,12 15,7 16,1 4,-1 4,-1 20,-16 2,-3 2,-9 -2,-4 -8,-6 -1,-8 111,0 1,12 0,10 -3,10 -4,8 -11,10 -33,18 -5,4 -4,6 -1,4 1,6 2,4 9,8 3,6 -4,28 -2,6 -5,8 -29,30 -10,14 -9,16 -4,10 -1,12 1,12 4,10 4,6 5,4 11,4 25,0 21,-6 10,-1 10,2 18,9 6,1 6,-3 5,-6 3,-8 3,-22 3,-5 4,-3 6,-1 10,4 8,2 10,-1 16,-2 14,4 18,-1 10,-2 11,-5 29,-20 14,-6 10,-2 12,0 30,1zM314,106l-4,0 -6,-5 -4,-5 -1,-4 0,-6 1,-4 4,-4 4,-2 4,0 5,2 3,3 2,5 1,6 -2,6 -3,6zM292,166l-12,0 -7,-4 -4,-8 2,-8 6,-6 19,-10 14,-9 4,-2 4,0 6,6 5,7 3,6 0,6 -9,10 -8,6 -10,4zM396,156l-14,1 -14,-3 -12,-6 -2,-2 0,-4 8,-6 12,-5 10,-1 9,2 9,6 3,4 1,4 -2,6z"/><path fill="#5c58fc" fill-rule="evenodd" d="M518,442l-518,1 -1,-1 1,-442 79,0 33,30 17,12 14,6 15,1 4,-1 5,-2 13,-10 8,-3 2,-3 2,-8 -1,-6 -5,-12 -1,-4 101,0 2,12 -1,10 -2,10 -5,8 -11,10 -31,18 -4,4 -4,6 -2,6 2,6 2,4 8,6 3,6 -5,30 -3,8 -4,6 -28,30 -10,14 -9,14 -3,10 -2,12 0,12 4,10 4,6 5,5 6,3 8,2 24,0 24,-7 12,0 12,5 9,6 9,8 2,0 6,-5 5,-9 4,-10 2,-22 3,-5 4,-3 4,0 10,4 8,2 10,0 16,-2 14,4 26,2 19,-4 33,-13 14,-4 20,-4 22,0zM314,100l-4,1 -4,-2 -3,-3 -2,-4 1,-7 2,-3 4,-2 6,1 4,5 0,8 -2,4zM292,164l-10,0 -6,-2 -2,-4 -1,-4 0,-4 2,-4 7,-6 26,-15 6,-1 6,2 5,6 2,6 -1,6 -3,6 -6,6 -7,4 -8,3zM380,142l-2,1 -1,-1 1,-1zM292,306l3,-4 1,-6 0,-4 -2,-2 -6,5 -2,5 0,4 2,3z"/><path fill="#5860fc" fill-rule="evenodd" d="M518,442l-518,1 -1,-1 1,-442 75,0 35,30 17,12 15,7 16,0 7,-1 13,-9 12,-5 2,-4 1,-12 -4,-18 93,0 3,10 0,10 -2,10 -4,8 -5,6 -8,6 -30,18 -4,4 -3,6 -2,6 1,7 2,3 9,8 2,4 -3,12 -3,20 -2,6 -5,8 -21,22 -10,12 -15,24 -4,12 -2,12 1,10 4,10 4,6 5,4 7,4 7,2 28,-1 18,-6 8,-1 8,0 9,4 9,6 5,8 0,6 -5,10 -1,4 1,10 2,3 2,1 4,-2 6,-8 8,-20 6,-14 3,-10 2,-24 2,-4 3,-4 4,0 10,5 10,3 8,1 16,-1 28,8 14,1 22,-3 52,-15 32,-3zM312,96l-4,0 -4,-4 0,-4 4,-4 4,0 3,4 0,4zM294,162l-10,0 -6,-2 -2,-6 2,-7 8,-7 20,-11 6,-2 6,2 4,5 2,4 -1,6 -3,6 -4,4 -6,4z"/><path fill="#5266fc" fill-rule="evenodd" d="M518,442l-518,1 -1,-1 1,-442 72,0 37,30 16,12 17,7 16,1 8,-2 14,-9 12,-4 1,-5 2,-12 -3,-18 87,0 3,10 0,10 -2,10 -4,8 -5,6 -7,6 -28,17 -5,5 -3,6 -2,8 1,6 3,5 7,5 2,4 -3,12 -2,20 -2,6 -6,8 -27,30 -11,16 -7,12 -5,12 -1,12 1,12 3,10 5,6 6,5 6,3 8,1 28,-1 18,-6 8,-1 8,1 8,3 9,7 3,6 0,6 -4,12 -1,12 3,6 4,2 4,-1 2,-2 7,-11 15,-30 3,-12 1,-24 1,-4 3,-3 4,1 18,8 22,4 6,4 7,10 3,2 14,-3 34,-4 54,-14 32,-4zM310,91l-2,0 -1,-1 1,-1 2,0zM296,160l-10,0 -6,-2 -1,-4 2,-6 6,-6 17,-11 6,-1 6,1 3,3 2,6 -1,4 -3,6 -4,4 -5,3z"/><path fill="#4c6cfc" fill-rule="evenodd" d="M518,442l-518,1 -1,-1 1,-442 70,0 37,30 17,12 18,8 16,0 8,-1 14,-9 13,-4 2,-4 1,-14 -1,-18 81,0 3,10 1,10 -1,8 -3,8 -5,6 -7,6 -30,19 -4,5 -4,8 -2,8 2,6 3,4 7,5 2,3 -3,10 -2,22 -4,8 -3,6 -29,32 -10,14 -7,12 -5,12 -2,12 1,12 3,10 5,7 6,5 6,3 8,2 30,-2 18,-6 8,-1 8,1 8,3 7,6 4,8 0,4 -4,14 -1,14 4,5 6,2 5,-3 12,-18 14,-26 2,-12 -1,-22 2,-4 2,-1 4,1 27,14 4,4 7,14 4,3 6,1 8,0 20,-5 30,-5 54,-14 28,-4zM298,158l-8,1 -6,-2 -2,-3 2,-6 6,-6 12,-8 6,-2 6,0 4,4 1,4 -2,8 -7,6z"/><path fill="#4573fc" fill-rule="evenodd" d="M518,442l-518,1 -1,-1 1,-442 67,0 41,32 18,12 16,6 16,0 8,-1 14,-8 12,-3 2,-2 2,-4 1,-16 0,-16 77,0 3,8 1,10 -1,10 -3,8 -5,6 -9,8 -26,16 -5,6 -4,8 -2,8 2,6 3,5 8,7 -3,8 0,16 -1,8 -3,8 -4,6 -30,34 -10,14 -7,12 -5,12 -1,12 1,12 4,10 4,6 5,4 8,4 8,2 32,-2 22,-7 8,0 8,3 7,6 4,8 0,6 -3,12 0,16 2,4 4,3 6,1 4,-3 6,-11 8,-10 16,-26 2,-10 -3,-22 1,-2 2,-1 2,0 13,9 5,6 2,6 -1,12 8,10 2,4 -1,6 -6,14 -1,6 1,4 6,6 12,4 8,8 4,1 3,-1 3,-3 2,-4 1,-5 -2,-6 -11,-14 -3,-8 0,-6 4,-4 13,-5 38,-7 56,-15 32,-5zM300,156l-12,0 -2,-2 0,-4 4,-6 10,-8 8,-3 5,1 2,2 2,4 0,4 -2,4 -7,6z"/><path fill="#3f79fc" fill-rule="evenodd" d="M518,442l-518,1 -1,-1 1,-442 65,0 42,32 18,12 17,6 16,1 7,-1 15,-8 14,-4 3,-6 2,-32 72,0 4,8 2,10 -1,10 -4,8 -4,6 -10,8 -25,16 -5,6 -3,8 -2,8 1,6 2,4 8,8 -2,8 0,14 -1,10 -2,6 -5,8 -30,34 -10,14 -7,12 -4,12 -2,12 0,12 4,10 5,7 6,5 6,3 8,2 10,0 24,-2 22,-8 8,1 8,3 6,5 4,8 -3,20 -1,14 4,6 8,4 4,0 2,-1 7,-13 23,-26 8,-7 4,0 6,4 3,5 1,4 -4,18 1,6 2,4 5,5 14,7 8,6 8,3 4,-1 6,-5 5,-7 2,-6 0,-6 -2,-6 -10,-14 0,-4 3,-3 30,-6 66,-19 32,-6zM302,154l-6,1 -5,-1 -2,-2 1,-4 5,-6 7,-6 6,-2 4,1 3,5 -1,6 -4,5z"/><path fill="#387ffc" fill-rule="evenodd" d="M518,442l-518,1 -1,-1 1,-442 63,0 46,34 15,10 18,7 16,0 8,-1 14,-7 15,-5 2,-6 4,-32 68,0 4,8 2,10 -1,10 -3,8 -5,6 -9,8 -25,16 -5,6 -5,12 0,6 1,4 2,4 6,8 0,8 0,18 -3,12 -7,12 -21,22 -13,16 -8,12 -5,12 -4,12 -1,10 1,10 4,10 5,6 5,4 8,4 8,2 34,-3 22,-7 6,0 6,2 8,5 5,7 0,6 -3,14 -1,14 3,7 6,5 6,3 6,-1 2,-3 3,-9 3,-5 18,-14 4,-2 4,0 3,3 3,18 4,8 32,18 8,2 8,-3 9,-9 6,-10 6,-20 3,-4 6,-4 20,-9 28,-10 26,-7 24,-4zM304,152l-6,1 -4,-1 -1,-2 0,-2 4,-6 4,-4 5,-2 4,0 4,4 0,4 -4,5z"/><path fill="#3085fc" fill-rule="evenodd" d="M518,442l-518,1 -1,-1 1,-442 62,0 43,32 18,12 19,7 16,0 8,-1 14,-7 12,-3 4,-2 2,-4 0,-10 4,-24 64,0 5,8 2,8 1,8 -2,8 -5,8 -6,6 -13,10 -17,10 -6,10 -3,8 -1,6 2,6 6,8 1,4 1,22 -2,10 -2,6 -5,8 -31,34 -10,14 -6,12 -5,12 -1,12 0,12 4,10 5,6 6,5 8,4 8,1 34,-2 22,-8 6,1 6,1 8,6 4,6 1,6 -3,14 -1,16 3,6 8,7 6,3 6,-1 2,-3 2,-10 2,-5 10,-6 8,-2 3,1 2,2 4,14 3,4 6,3 16,6 16,9 8,2 8,-3 9,-7 8,-10 11,-20 6,-6 8,-5 18,-9 22,-7 24,-7 22,-3zM306,150l-8,1 -2,-3 1,-4 4,-4 3,-2 4,-1 3,1 2,4 -2,4z"/><path fill="#298bfc" fill-rule="evenodd" d="M518,442l-518,1 -1,-1 1,-442 60,0 47,34 16,10 7,3 12,4 16,1 8,-2 14,-7 12,-2 4,-3 2,-4 1,-10 4,-24 61,0 5,8 3,8 1,8 -2,8 -3,6 -6,6 -14,11 -16,10 -3,3 -4,6 -4,10 -1,6 2,6 6,8 1,4 1,22 -1,10 -4,8 -4,6 -32,36 -8,12 -7,12 -4,12 -2,12 0,12 4,10 4,6 7,6 7,3 8,2 10,0 26,-3 22,-7 6,0 6,2 7,5 5,8 -4,34 4,7 10,9 8,3 6,-2 3,-3 0,-2 -1,-8 0,-4 6,-4 8,-1 3,3 4,12 3,4 22,5 23,11 7,2 8,-3 10,-7 7,-8 17,-22 7,-6 9,-6 16,-7 20,-7 20,-5 22,-4zM306,149l-6,0 -2,-3 4,-6 6,-2 3,2 0,4z"/><path fill="#2391fc" fill-rule="evenodd" d="M518,442l-518,1 -1,-1 1,-442 58,0 48,34 18,11 18,6 16,1 8,-1 14,-7 14,-4 3,-2 2,-4 1,-10 5,-24 56,0 6,8 3,8 1,8 -2,8 -3,6 -8,8 -10,8 -14,8 -5,4 -3,5 -5,11 -1,6 0,5 8,15 1,22 -1,10 -3,8 -4,6 -32,36 -9,12 -7,12 -5,14 -2,12 2,12 4,10 4,6 6,5 8,3 8,2 10,0 26,-3 16,-6 6,-1 10,1 8,5 4,6 1,8 -4,28 5,9 10,10 4,2 6,1 18,-3 28,2 10,2 20,9 6,1 6,-1 10,-6 9,-8 21,-22 8,-6 10,-6 16,-7 18,-7 20,-4 18,-3zM306,146l-3,0 -1,-2 2,-3 2,-1 2,0 1,2 0,2z"/><path fill="#1c99fc" fill-rule="evenodd" d="M518,442l-518,1 0,-443 56,0 49,34 19,12 18,6 16,0 8,-1 14,-6 14,-4 4,-3 2,-4 0,-10 4,-14 3,-10 50,0 7,7 4,9 2,8 -2,8 -5,8 -11,10 -8,6 -11,6 -5,4 -7,16 -2,6 0,6 8,14 2,22 -2,10 -2,6 -5,8 -32,36 -9,12 -7,12 -5,14 -2,12 1,12 4,10 4,6 7,6 9,4 8,1 36,-3 20,-8 6,0 6,1 7,5 5,8 0,6 -3,26 0,4 5,8 10,11 6,3 6,1 16,-1 30,0 8,2 18,7 8,2 8,-2 9,-5 10,-8 23,-21 20,-12 30,-12 36,-7z"/><path fill="#179efa" fill-rule="evenodd" d="M518,442l-518,1 0,-443 52,0 67,44 9,4 18,4 19,0 15,-7 14,-3 4,-2 4,-6 1,-12 4,-14 4,-8 38,0 7,5 6,6 4,7 1,8 -1,6 -5,8 -13,12 -20,12 -3,4 -7,16 -1,4 1,6 7,12 1,4 1,20 -1,10 -3,8 -4,6 -34,38 -9,12 -6,12 -5,14 -2,12 1,12 4,10 6,7 6,5 8,3 8,2 10,0 30,-4 18,-8 6,0 6,2 7,5 4,8 -3,28 0,6 6,11 10,12 6,2 8,1 44,0 32,8 8,0 13,-6 37,-27 20,-10 28,-10 32,-6z"/><path fill="#14a5f9" fill-rule="evenodd" d="M518,442l-518,1 0,-443 45,0 74,46 9,4 16,3 22,0 14,-6 14,-3 6,-3 3,-3 2,-4 1,-12 5,-12 3,-5 6,-4 7,-1 5,1 13,9 11,6 4,4 2,4 0,6 -1,4 -17,18 -14,7 -5,5 -9,22 0,10 6,10 2,4 2,22 -1,8 -2,6 -8,12 -23,24 -13,16 -10,14 -5,12 -3,12 -1,12 2,10 4,10 5,6 7,5 8,4 8,1 10,-1 32,-5 18,-7 8,0 6,3 5,6 2,6 -3,28 2,9 12,21 4,2 10,2 28,2 20,-1 28,6 12,0 18,-7 36,-20 20,-9 26,-7 30,-6z"/><path fill="#14adfb" fill-rule="evenodd" d="M518,442l-518,1 0,-443 40,0 80,48 8,3 16,3 22,-1 14,-5 16,-4 5,-2 7,-6 4,-20 4,-6 4,-3 4,0 4,1 12,9 14,5 4,6 -1,6 -7,7 -8,10 -14,7 -5,4 -2,4 -3,10 -4,8 0,10 2,5 5,9 3,18 0,10 -3,10 -7,12 -25,26 -13,16 -8,12 -7,14 -3,12 -1,12 2,10 4,10 5,6 8,6 8,3 8,1 12,0 32,-6 18,-8 6,0 6,2 6,6 2,6 -3,28 2,10 11,22 4,3 6,1 32,3 24,0 26,4 12,0 17,-5 39,-18 22,-8 24,-6 28,-4z"/><path fill="#11b5f6" fill-rule="evenodd" d="M518,442l-518,1 0,-443 35,0 85,48 6,3 18,3 22,0 14,-5 16,-4 8,-3 8,-6 4,-17 4,-5 6,0 14,11 12,3 1,2 -1,2 -6,4 -2,2 0,6 -3,6 -17,8 -3,2 -3,4 -1,10 -4,8 -1,8 2,8 7,12 2,22 -1,10 -3,8 -4,6 -38,40 -8,12 -7,12 -5,14 -2,14 2,12 5,12 5,6 7,6 8,3 10,1 12,-1 32,-6 18,-8 6,0 6,3 4,4 3,6 -2,28 1,10 10,23 4,3 6,1 34,4 24,1 28,3 10,0 17,-5 39,-15 22,-7 26,-5 26,-3z"/><path fill="#0ebaf0" fill-rule="evenodd" d="M518,442l-518,1 0,-443 31,0 89,49 6,3 16,2 24,1 16,-6 18,-4 13,-5 4,-4 5,-8 2,-1 4,1 6,5 6,9 0,4 -2,3 -16,6 -6,5 -1,4 0,10 -3,10 1,14 7,12 3,22 -2,10 -2,6 -5,8 -38,40 -9,12 -6,12 -6,16 -2,14 2,12 5,12 6,7 8,5 8,3 10,1 12,-1 18,-5 14,-2 18,-8 6,0 5,2 4,4 3,6 -2,30 2,11 9,21 3,3 6,1 36,5 60,3 19,-4 41,-13 22,-6 24,-5 26,-2z"/><path fill="#0abeea" fill-rule="evenodd" d="M518,442l-518,1 0,-443 29,0 84,46 9,5 6,1 16,3 22,0 16,-6 16,-3 14,-3 12,-8 4,0 5,3 4,6 -1,4 -18,7 -4,5 -1,2 1,10 -3,12 0,10 2,6 6,10 3,22 -1,10 -3,8 -6,8 -40,42 -7,10 -6,12 -5,16 -2,14 2,12 6,12 6,6 8,6 8,2 10,1 12,-1 18,-5 14,-3 18,-7 6,0 4,1 4,4 3,6 -1,30 2,12 8,20 4,4 6,1 36,5 60,3 15,-3 45,-13 22,-6 24,-4 26,-2z"/><path fill="#06c2e3" fill-rule="evenodd" d="M518,442l-518,1 0,-443 26,0 78,42 22,10 18,3 20,0 20,-6 32,-5 10,-3 4,1 1,2 -1,2 -10,5 -6,5 -2,4 0,10 -2,14 0,10 2,7 6,9 4,20 -1,12 -4,8 -4,6 -40,42 -8,12 -7,12 -5,16 -2,14 3,14 6,12 6,6 8,5 8,3 8,1 12,-2 20,-6 14,-2 18,-8 6,0 4,2 5,5 2,6 -2,28 2,12 7,20 5,4 7,2 36,5 60,3 18,-4 64,-16 24,-3 26,-2z"/><path fill="#03c5db" fill-rule="evenodd" d="M518,442l-518,1 0,-443 24,0 79,42 23,11 18,2 20,1 22,-7 20,-3 4,0 4,2 0,4 -3,8 -1,34 2,8 5,8 4,20 0,10 -3,8 -5,8 -40,42 -10,14 -7,14 -5,16 0,16 4,14 3,6 6,6 6,5 8,3 8,1 8,0 10,-1 18,-6 16,-4 16,-6 6,0 4,1 4,5 2,6 -1,28 2,14 7,19 4,3 6,2 38,5 60,3 14,-2 68,-15 24,-4 26,-1z"/><path fill="#02c7d2" fill-rule="evenodd" d="M518,442l-518,1 0,-443 22,0 77,40 27,13 18,2 20,1 20,-6 20,-3 6,1 2,2 -2,10 0,36 1,6 6,8 4,20 -1,10 -2,8 -7,10 -32,32 -11,14 -8,12 -6,12 -4,16 0,16 5,14 3,6 6,6 12,6 8,2 8,0 12,-2 20,-6 12,-3 18,-7 6,0 4,2 4,4 2,6 -1,32 6,24 2,4 3,4 8,3 38,5 58,3 18,-3 66,-13 24,-3 26,-1z"/><path fill="#01cac9" fill-rule="evenodd" d="M518,442l-518,1 0,-443 20,0 78,40 28,13 18,3 20,0 24,-6 18,-2 4,2 1,2 -2,8 -1,16 1,20 2,6 5,8 4,20 0,10 -3,8 -6,10 -32,32 -12,14 -8,12 -6,12 -4,16 0,16 4,14 4,6 6,6 5,4 8,4 8,1 8,0 12,-2 20,-6 14,-4 14,-6 6,-1 5,2 4,4 3,6 -2,32 2,8 4,16 2,4 3,4 9,4 38,5 22,1 14,0 22,1 16,-2 68,-13 24,-2 26,-1z"/><path fill="#00ccc0" fill-rule="evenodd" d="M518,442l-518,1 0,-443 18,0 79,40 29,14 18,2 20,0 22,-6 18,-1 4,1 1,2 -1,24 1,22 1,4 6,10 4,18 0,10 -3,8 -7,10 -32,32 -12,14 -7,12 -6,12 -5,18 0,16 5,14 9,11 6,4 8,4 8,1 8,0 12,-2 20,-7 14,-4 14,-6 6,0 5,1 4,4 2,6 -1,34 6,24 2,4 4,3 8,3 38,5 22,2 14,0 22,1 17,-2 65,-11 26,-3 26,0z"/><path fill="#00cdb8" fill-rule="evenodd" d="M518,442l-518,1 0,-443 15,0 109,54 20,2 20,1 6,-1 12,-5 8,-1 14,0 3,2 0,24 1,22 2,6 5,8 3,12 2,8 -1,8 -2,8 -7,10 -32,32 -12,14 -8,12 -6,12 -5,18 0,16 5,14 4,7 6,6 6,4 8,3 8,1 8,0 12,-2 19,-7 15,-4 14,-6 6,-1 4,1 4,4 3,6 -1,34 5,24 5,7 4,2 6,2 20,2 18,3 24,2 12,-1 22,2 82,-12 26,-2 26,0z"/><path fill="#00cfaf" fill-rule="evenodd" d="M518,442l-518,1 0,-443 12,0 112,54 20,2 20,1 22,-6 12,0 7,1 1,4 0,20 2,24 6,12 4,12 1,8 0,8 -3,8 -5,8 -43,44 -10,14 -7,14 -5,18 0,16 2,8 3,8 9,11 6,4 8,4 8,2 10,0 12,-3 20,-8 14,-4 14,-6 6,-1 4,2 4,3 2,6 -1,34 5,24 2,4 4,4 8,3 22,3 18,3 24,2 12,-1 22,1 82,-10 26,-1 26,0z"/><path fill="#00d0a6" fill-rule="evenodd" d="M518,442l-518,1 0,-443 9,0 115,54 20,2 22,1 16,-5 10,-1 10,1 2,2 3,46 6,12 4,12 2,8 0,8 -4,10 -6,8 -32,32 -13,14 -8,12 -7,14 -4,18 0,16 5,15 5,7 5,5 6,4 8,4 8,1 10,0 14,-3 18,-8 14,-4 14,-6 6,-1 4,1 4,5 2,6 -1,34 4,22 2,4 3,4 10,4 22,2 18,4 24,1 12,0 20,1 82,-8 26,-1 28,1z"/><path fill="#00d29d" fill-rule="evenodd" d="M518,442l-518,1 0,-443 5,0 119,55 42,3 16,-5 10,-1 8,1 3,3 3,44 11,24 1,8 0,8 -3,8 -6,10 -33,32 -13,14 -8,12 -7,14 -5,18 0,16 2,8 4,8 9,12 6,5 8,3 8,2 10,0 14,-3 48,-20 6,0 4,1 3,4 2,6 -1,34 4,22 5,8 5,3 6,2 20,2 20,4 56,2 80,-6 28,-1 28,2z"/><path fill="#00d394" fill-rule="evenodd" d="M518,442l-518,1 0,-443 124,55 42,3 16,-5 10,-1 6,2 3,2 1,6 4,40 6,12 5,12 1,8 0,6 -3,8 -7,10 -33,32 -14,16 -8,12 -7,14 -4,18 0,18 6,15 10,12 8,5 8,3 8,1 10,0 14,-5 46,-19 4,-1 4,1 5,4 2,6 -1,36 2,20 3,6 3,3 10,5 22,2 18,3 26,2 12,-1 24,2 78,-4 54,2z"/><path fill="#00d48b" fill-rule="evenodd" d="M518,442l-518,1 0,-441 124,54 42,2 16,-4 8,-1 6,1 4,4 4,32 1,12 11,24 1,6 0,8 -3,8 -6,10 -36,34 -12,14 -8,12 -7,14 -5,18 0,18 3,8 3,8 10,12 8,6 8,3 8,1 10,0 14,-4 48,-21 4,-1 4,1 4,4 2,7 -1,36 1,18 3,6 4,4 5,3 6,1 22,3 18,3 24,2 14,-1 22,2 74,-2 30,1 30,3z"/><path fill="#00d482" fill-rule="evenodd" d="M518,442l-518,1 0,-439 124,52 42,3 16,-4 6,-1 6,1 4,3 2,4 4,28 0,12 11,24 2,8 0,6 -4,10 -6,8 -36,34 -12,14 -9,12 -7,14 -4,18 0,18 1,8 4,9 5,7 6,6 7,5 10,4 8,2 10,-1 14,-4 46,-22 8,-1 5,3 2,8 -1,38 0,16 5,8 9,6 8,2 20,1 22,5 34,0 22,1 66,0 34,2 34,4z"/><path fill="#00d479" fill-rule="evenodd" d="M518,442l-518,1 0,-437 124,51 10,0 34,2 12,-3 8,-1 6,1 4,4 5,32 1,10 11,24 1,8 0,6 -3,8 -6,10 -37,34 -12,14 -10,14 -7,14 -5,20 1,18 6,16 5,7 6,6 8,5 8,3 10,2 10,-1 14,-4 22,-12 24,-11 4,-1 4,0 5,4 2,6 -3,54 4,8 10,7 8,1 22,2 22,5 112,2 38,3 40,6z"/><path fill="#02d471" fill-rule="evenodd" d="M518,442l-518,1 0,-435 124,49 10,0 34,3 12,-4 6,0 6,1 4,3 6,30 1,12 11,24 2,8 0,6 -3,8 -7,10 -37,34 -13,14 -9,14 -7,14 -5,20 0,18 6,16 5,8 6,6 8,6 10,4 10,2 10,-1 14,-5 24,-14 22,-10 4,-2 4,1 4,3 2,8 -1,22 -3,30 1,4 3,4 6,5 10,4 24,2 22,4 36,1 66,3 44,4 46,8z"/><path fill="#04d268" fill-rule="evenodd" d="M518,442l-518,1 0,-433 124,48 10,0 34,3 12,-4 6,0 5,1 4,4 6,28 1,12 12,24 1,8 0,6 -3,8 -7,10 -37,34 -13,14 -10,14 -8,16 -4,20 -1,10 2,10 6,16 6,8 6,6 8,5 10,4 10,2 10,-1 14,-5 27,-17 17,-9 6,-2 4,1 4,4 1,10 -1,20 -5,24 0,6 3,6 8,6 12,4 24,2 22,4 36,1 66,4 44,6 46,9z"/><path fill="#05ce61" fill-rule="evenodd" d="M518,442l-518,0 0,-430 124,46 10,0 34,3 16,-4 6,2 3,3 7,28 1,12 12,24 2,8 0,6 -4,10 -7,9 -37,33 -13,14 -10,14 -8,16 -5,20 0,10 1,10 3,10 3,8 6,8 6,6 10,7 10,3 10,2 10,-1 14,-6 32,-21 16,-7 6,0 3,3 1,4 0,24 -8,32 3,6 7,6 14,5 26,2 22,4 34,0 61,5 43,7 54,12z"/><path fill="#06c85a" fill-rule="evenodd" d="M518,442l-518,0 0,-429 124,46 10,-1 22,2 12,2 16,-4 6,1 2,3 8,26 1,12 12,26 2,8 -1,6 -3,10 -7,9 -37,33 -14,14 -10,14 -8,16 -4,12 -1,10 0,10 1,10 3,10 4,8 6,8 6,6 10,6 10,4 12,1 10,-1 14,-7 31,-21 15,-7 6,0 2,3 2,6 0,22 -10,32 3,6 8,6 13,5 28,2 22,5 34,0 56,4 43,8 59,13z"/><path fill="#07c253" fill-rule="evenodd" d="M518,442l-518,0 0,-428 124,45 10,-1 22,2 12,2 16,-4 6,2 2,3 7,25 2,14 12,26 1,6 0,6 -4,10 -6,8 -38,34 -15,16 -10,14 -7,16 -5,20 0,10 1,10 3,10 4,8 6,8 7,7 10,7 10,3 12,1 10,-1 14,-6 28,-21 16,-8 6,-1 4,3 1,4 0,24 -3,12 -7,16 -1,4 3,6 8,6 15,6 28,1 22,5 34,0 54,5 38,7 66,15z"/><path fill="#09bf4b" fill-rule="evenodd" d="M518,442l-518,0 0,-427 124,44 10,-1 22,2 14,2 10,-3 4,0 4,1 4,4 7,24 1,12 13,28 1,6 0,6 -3,8 -7,10 -38,34 -15,16 -10,14 -8,16 -4,12 -1,10 0,10 1,10 4,10 4,8 5,7 7,7 9,6 12,5 12,1 10,-1 14,-7 29,-22 15,-7 6,-2 3,3 2,4 0,24 -3,11 -8,17 -1,4 2,6 8,6 15,6 30,2 22,5 34,-1 52,5 34,7 72,18z"/><path fill="#0bbd43" fill-rule="evenodd" d="M518,442l-518,0 0,-425 124,42 10,0 22,1 14,3 12,-4 4,1 5,4 7,24 1,12 14,28 1,6 0,6 -3,8 -7,10 -39,34 -15,16 -10,14 -8,16 -3,10 -2,12 0,10 1,10 3,10 4,8 5,8 8,8 10,6 12,5 12,1 10,-1 14,-6 19,-17 12,-8 13,-7 6,-1 2,2 2,6 0,22 -4,13 -8,13 -2,6 2,6 7,6 9,4 10,3 30,1 22,5 32,0 52,5 28,6 80,21z"/><path fill="#0dbb3a" fill-rule="evenodd" d="M518,442l-518,0 0,-424 124,42 10,-1 22,1 14,3 12,-3 4,1 3,3 8,22 2,14 13,28 1,6 0,6 -2,8 -8,10 -39,34 -15,16 -11,16 -8,16 -3,12 -2,10 0,10 2,10 3,10 4,8 6,9 8,7 10,7 12,4 12,1 12,-1 8,-3 6,-4 27,-24 15,-8 6,-1 2,2 2,5 0,22 -4,11 -10,15 -2,6 1,6 7,6 8,4 12,4 32,1 22,5 30,-1 50,5 26,6 86,24z"/><path fill="#10b831" fill-rule="evenodd" d="M518,442l-518,0 0,-423 124,41 10,-1 22,2 14,3 12,-3 4,1 2,2 9,22 2,14 13,28 1,6 0,6 -4,10 -7,9 -38,33 -16,16 -11,16 -8,16 -3,12 -2,10 0,10 1,10 3,10 5,10 6,8 7,7 12,8 12,4 12,2 12,-1 8,-3 6,-4 18,-19 10,-8 14,-7 6,-1 3,4 1,6 -1,20 -5,10 -11,14 -2,6 1,4 2,4 6,5 12,5 12,3 28,0 26,6 24,-1 42,3 16,3 23,6 85,26z"/><path fill="#15b62b" fill-rule="evenodd" d="M518,442l-518,0 0,-421 124,39 10,0 22,1 16,4 10,-3 4,2 1,2 9,20 2,14 13,28 2,6 0,6 -4,10 -7,9 -39,33 -16,16 -12,16 -7,16 -3,10 -3,12 0,12 2,10 3,10 5,11 6,8 8,8 12,7 14,5 14,1 12,-2 6,-2 6,-4 16,-20 9,-8 9,-6 10,-3 3,3 1,4 1,14 -1,8 -4,8 -14,14 -3,6 1,8 3,4 5,4 10,4 16,4 30,0 26,6 22,-2 10,1 38,4 22,5 98,32z"/><path fill="#1bb425" fill-rule="evenodd" d="M518,442l-518,0 0,-418 52,16 72,21 10,-1 22,2 16,5 10,-2 2,2 10,17 2,6 1,8 14,32 1,8 -2,8 -4,7 -6,7 -39,32 -17,18 -8,10 -7,12 -4,10 -4,12 -1,20 3,18 4,10 4,8 13,14 14,9 16,5 16,2 16,-3 6,-2 3,-3 10,-20 10,-12 11,-7 4,-2 4,1 2,2 2,8 0,10 -2,7 -6,8 -18,11 -4,6 0,4 3,6 4,6 6,4 9,4 18,4 32,-1 8,1 18,5 30,-2 38,5 12,2 70,27 42,14z"/><path fill="#23b221" fill-rule="evenodd" d="M518,442l-518,0 0,-416 53,16 71,19 10,0 24,2 14,6 10,3 6,5 5,7 2,6 1,8 15,32 1,8 -2,8 -5,8 -7,7 -38,31 -18,18 -8,10 -7,12 -5,12 -3,12 -2,20 4,20 4,10 5,9 6,7 8,7 12,8 14,6 12,2 24,3 6,1 6,4 16,13 14,5 22,3 32,-2 24,6 22,-2 8,0 36,5 12,3 68,29 46,17zM238,328l-6,0 -4,-2 -2,-6 2,-8 5,-8 6,-6 7,-4 6,-1 3,3 1,4 0,10 -1,6 -3,6 -4,3z"/><path fill="#2bb01d" fill-rule="evenodd" d="M518,442l-518,0 0,-413 56,15 68,18 10,-1 24,2 18,11 10,4 4,3 3,5 2,12 7,12 8,20 1,8 -2,8 -5,8 -6,6 -40,32 -20,20 -7,10 -7,12 -5,12 -3,12 -2,12 0,10 5,20 4,10 5,8 14,15 10,7 12,6 12,4 30,7 24,13 14,5 24,1 32,-3 10,2 16,5 28,-3 44,7 15,6 55,28 50,20zM246,323l-6,1 -6,-2 -3,-4 0,-4 2,-6 5,-7 6,-4 6,-2 2,1 2,4 1,12 -3,6z"/><path fill="#32b018" fill-rule="evenodd" d="M508,442l-508,0 0,-411 58,16 66,15 32,1 8,4 12,10 10,2 6,7 2,12 7,12 9,20 1,8 -3,8 -4,7 -6,7 -41,32 -20,20 -9,12 -7,12 -5,12 -3,12 -2,12 1,10 1,12 3,10 10,18 8,10 8,7 12,8 12,6 34,11 26,11 14,4 10,1 12,0 28,-5 10,-1 10,2 16,5 26,-3 44,7 15,7 47,27 51,23zM248,318l-6,2 -4,-1 -3,-3 0,-4 2,-6 3,-4 4,-3 4,-1 4,2 1,6 -1,8z"/><path fill="#39b012" fill-rule="evenodd" d="M488,442l-488,0 0,-408 60,15 64,13 32,2 8,4 10,10 12,3 4,3 2,4 2,10 7,12 8,20 1,8 -2,8 -5,8 -7,7 -41,31 -21,20 -9,12 -7,12 -5,12 -3,12 -2,12 0,12 2,11 3,11 5,11 6,10 8,9 8,8 12,8 16,8 52,20 16,4 10,1 12,-1 30,-7 10,-2 12,2 14,6 28,-4 40,7 13,6 29,21 16,10 39,19zM246,315l-2,0 -3,-1 -2,-2 0,-4 4,-6 5,-1 2,1 1,6 -1,4z"/><path fill="#41b210" fill-rule="evenodd" d="M470,442l-470,0 0,-405 62,14 64,12 30,2 6,3 12,12 12,2 5,6 2,10 6,10 9,22 1,8 -2,8 -3,6 -8,8 -43,32 -21,20 -9,12 -7,12 -5,12 -4,14 -2,12 0,12 2,12 3,10 4,11 6,10 8,10 8,8 16,12 18,9 41,16 21,6 12,1 12,-2 10,-2 22,-9 10,-1 12,1 14,7 18,-4 10,0 38,7 13,6 35,29z"/><path fill="#49b50f" fill-rule="evenodd" d="M456,442l-456,0 0,-403 62,13 64,12 30,1 7,5 9,10 14,3 4,5 3,10 6,10 9,22 1,8 -2,8 -4,6 -7,7 -44,33 -21,20 -10,12 -7,12 -5,12 -5,14 -1,12 -1,12 2,12 3,12 5,12 6,11 8,10 9,9 17,12 22,12 34,13 22,6 14,0 14,-1 8,-3 21,-11 11,-2 12,1 14,8 16,-4 12,-1 38,8 11,6 17,19 10,9z"/><path fill="#52b60e" fill-rule="evenodd" d="M446,442l-446,0 0,-401 88,17 40,6 28,2 6,4 10,11 4,1 8,1 4,3 3,4 1,8 8,12 8,24 0,8 -4,8 -10,11 -41,29 -22,20 -10,12 -7,12 -6,12 -4,12 -3,12 -1,14 2,14 2,12 5,12 7,12 8,11 10,10 18,13 24,13 30,12 22,5 16,1 14,-2 10,-4 17,-11 13,-3 12,1 14,9 16,-6 12,-1 10,2 14,5 14,2 10,7 13,18 8,8z"/><path fill="#5bb70d" fill-rule="evenodd" d="M436,442l-436,0 0,-400 86,16 42,7 28,1 6,4 10,12 12,2 4,2 2,4 2,8 7,12 9,24 0,8 -4,8 -12,12 -40,28 -22,20 -9,10 -8,12 -6,12 -5,14 -3,14 -1,14 2,14 3,12 4,12 7,12 8,11 10,10 20,15 24,13 28,11 24,6 16,1 16,-3 8,-4 16,-12 12,-4 8,0 6,1 5,3 7,6 2,1 10,-5 8,-2 10,-1 10,2 14,5 16,4 6,6 8,16 6,7 10,9z"/><path fill="#64b90c" fill-rule="evenodd" d="M426,442l-426,0 0,-398 82,14 46,7 28,2 6,4 10,11 12,2 4,3 2,3 2,8 7,12 9,24 -1,8 -4,8 -11,12 -41,28 -21,18 -10,12 -8,12 -6,12 -6,14 -3,14 0,14 1,14 2,12 6,14 6,12 8,11 10,10 20,16 26,14 28,11 24,6 18,0 16,-3 8,-4 13,-13 8,-4 5,-1 8,-1 6,2 6,4 6,6 2,1 8,-5 8,-3 10,-1 10,1 16,7 14,4 6,8 2,12 3,6 8,8z"/><path fill="#6cbb0a" fill-rule="evenodd" d="M414,442l-414,0 0,-397 80,14 40,4 8,2 22,1 6,1 6,5 10,11 12,2 4,3 4,11 7,11 9,24 -1,8 -4,8 -11,11 -42,29 -23,20 -10,12 -8,12 -6,12 -5,14 -2,14 -1,14 1,14 3,12 4,12 7,13 8,11 10,11 20,16 26,15 28,11 26,6 20,0 16,-4 8,-5 14,-14 10,-5 8,0 8,3 10,10 2,0 9,-6 7,-3 10,-1 10,2 28,12 2,4 1,4 -4,10 1,5 9,9 19,12z"/><path fill="#75bd09" fill-rule="evenodd" d="M402,442l-402,0 0,-395 78,12 42,5 8,2 26,1 6,3 12,14 12,1 4,3 4,11 7,11 8,24 0,8 -4,8 -11,11 -43,29 -23,20 -10,12 -8,12 -6,12 -5,14 -3,14 -1,14 1,14 3,12 5,14 6,12 8,12 10,11 22,18 26,15 28,11 26,6 20,0 16,-5 10,-6 11,-14 6,-4 5,-2 8,0 7,2 5,4 4,6 2,1 4,-1 8,-6 6,-2 10,-1 10,2 7,3 15,10 2,4 -3,12 1,6 8,11 14,9z"/><path fill="#7ebf08" fill-rule="evenodd" d="M392,442l-392,0 0,-394 76,12 44,4 10,2 24,2 6,3 12,13 10,1 5,3 5,11 7,11 8,24 -1,8 -4,8 -10,10 -44,30 -23,20 -10,12 -8,12 -7,12 -5,14 -3,14 -1,14 1,14 3,14 5,14 6,11 8,12 10,12 22,18 26,15 30,13 26,5 20,0 10,-2 8,-3 10,-8 11,-15 9,-5 8,0 6,1 5,4 3,6 4,2 4,-1 6,-5 8,-3 8,-1 10,1 10,5 8,8 2,4 -1,14 2,8 5,8 9,8z"/><path fill="#86c207" fill-rule="evenodd" d="M384,442l-384,0 0,-393 74,11 46,4 10,3 24,1 6,4 11,12 11,2 5,2 5,12 6,10 9,24 -1,8 -4,8 -12,12 -43,28 -21,18 -11,12 -8,12 -8,14 -5,14 -3,14 -1,14 0,14 3,14 5,14 7,14 8,12 11,12 22,19 28,16 30,12 26,5 12,0 10,-1 8,-2 8,-4 9,-7 10,-16 5,-4 4,-2 8,0 6,1 4,3 4,8 4,2 4,-2 8,-6 6,-3 8,-1 10,2 8,4 4,4 3,4 3,26 4,9 5,7z"/><path fill="#8fc506" fill-rule="evenodd" d="M378,442l-378,0 0,-391 72,10 48,4 10,2 24,1 6,4 10,12 12,2 4,2 2,2 4,10 6,10 8,24 0,8 -4,8 -12,11 -41,27 -24,20 -11,12 -9,12 -7,14 -6,14 -3,14 -1,14 1,16 2,14 5,14 7,14 9,13 10,11 12,11 12,9 28,17 30,11 26,5 20,0 10,-3 8,-3 10,-9 11,-18 7,-5 8,-1 6,2 3,2 5,10 4,1 4,-1 8,-7 6,-3 8,-1 8,1 8,4 4,4 2,4 3,26 2,8 5,8z"/><path fill="#97c804" fill-rule="evenodd" d="M374,442l-374,0 0,-390 68,9 52,4 10,2 24,2 6,4 10,12 12,2 4,1 12,22 8,24 0,8 -4,7 -12,12 -45,29 -23,20 -11,12 -8,12 -8,14 -5,14 -3,14 -1,14 1,16 3,14 5,14 7,14 8,12 10,12 12,11 12,9 28,17 30,12 14,4 14,2 12,0 10,-1 10,-3 8,-4 10,-9 10,-19 4,-3 4,-2 6,-1 6,2 3,3 3,8 4,2 6,-1 8,-7 6,-3 8,-1 8,1 8,5 4,6 2,10 0,18z"/><path fill="#a0c904" fill-rule="evenodd" d="M370,442l-370,0 0,-389 64,8 56,4 10,3 24,1 6,4 10,12 12,2 4,2 12,21 8,24 -1,8 -4,8 -11,11 -43,27 -25,20 -11,12 -10,14 -7,14 -5,14 -3,14 -2,14 1,16 3,14 5,14 6,14 9,13 11,13 11,11 12,9 14,10 16,9 30,12 16,3 14,2 12,0 10,-1 10,-3 8,-4 10,-10 10,-20 6,-5 6,-1 6,2 2,2 4,10 4,2 6,-2 8,-8 4,-2 8,-1 8,0 9,5 4,6 1,10 0,20z"/><path fill="#a9cb04" fill-rule="evenodd" d="M366,442l-366,0 0,-388 66,8 54,4 10,2 22,1 4,2 4,3 10,12 12,1 4,2 12,21 8,24 -1,8 -4,8 -11,10 -44,28 -25,20 -11,12 -10,14 -7,14 -6,14 -3,14 -1,16 1,16 3,14 4,14 7,14 9,14 11,12 12,12 12,9 14,10 16,9 30,12 16,3 14,2 12,0 12,-1 10,-4 8,-4 10,-10 3,-6 5,-14 4,-4 4,-2 6,-1 4,2 4,12 2,2 4,1 6,-3 7,-7 5,-3 8,-2 7,1 8,4 3,4 2,4 0,10 -1,18z"/><path fill="#b2cc04" fill-rule="evenodd" d="M362,442l-362,0 0,-387 64,8 34,2 22,1 10,3 22,1 7,4 11,12 12,2 4,2 12,20 2,10 5,10 1,6 -2,8 -3,6 -11,10 -45,28 -25,20 -11,12 -10,14 -8,14 -5,14 -3,14 -2,16 1,16 3,14 5,16 7,14 9,14 10,12 12,11 14,12 14,9 16,9 16,7 16,5 16,4 14,1 12,0 12,-2 10,-3 9,-5 7,-6 4,-6 3,-6 3,-12 2,-4 4,-3 6,0 3,1 3,13 2,2 4,1 6,-2 10,-10 4,-3 6,-1 8,1 8,4 4,7 1,10 -3,20 1,10z"/><path fill="#bace02" fill-rule="evenodd" d="M356,442l-356,0 0,-385 60,6 36,3 24,0 10,3 22,1 7,4 9,12 4,2 10,0 4,2 11,20 8,26 -1,8 -4,6 -12,11 -44,27 -25,20 -11,12 -11,14 -7,14 -6,14 -3,14 -2,16 1,16 3,16 5,15 7,15 9,14 10,12 12,12 14,11 16,11 16,9 16,7 16,5 16,4 16,2 20,-2 16,-4 9,-5 7,-6 14,-17 0,1 6,2 10,-1 6,-3 10,-11 4,-3 6,-1 8,1 5,2 3,3 2,3 1,6 -1,10 -4,18 0,8zM300,407l-2,-5 0,-6 3,-4 5,-1 2,2 0,5 -6,8z"/><path fill="#c3cf01" fill-rule="evenodd" d="M212,442l-212,0 0,-383 70,6 50,2 10,3 22,1 6,3 10,13 4,1 10,1 4,2 9,15 10,28 0,6 -3,7 -6,7 -8,7 -39,23 -18,12 -14,12 -13,14 -12,18 -9,20 -5,20 -1,22 3,22 8,22 12,21 16,20 20,18 24,16 26,12 27,9zM350,442l-82,0 15,-6 19,-12 14,-7 8,-7 10,-14 4,-3 6,-1 6,0 6,3 3,3 2,6 -1,12 -7,18 -2,8z"/><path fill="#ccd000" fill-rule="evenodd" d="M196,442l-196,0 0,-382 69,6 51,1 10,4 22,0 6,4 10,12 4,2 10,0 4,3 9,14 10,28 -1,8 -3,6 -5,6 -10,7 -35,21 -18,12 -15,12 -14,14 -13,18 -9,18 -5,20 -2,22 2,22 6,22 10,20 14,20 18,18 21,17 24,14 27,11zM340,442l-52,0 22,-9 8,-5 5,-6 11,-24 4,-4 8,-1 6,1 4,4 2,4 1,6 -4,12 -11,14 -2,8z"/><path fill="#d5d000" fill-rule="evenodd" d="M184,442l-184,0 0,-380 68,5 52,1 10,4 20,-1 8,5 10,12 16,3 12,17 8,26 0,8 -3,6 -7,7 -8,6 -37,21 -18,12 -15,12 -12,12 -13,18 -10,18 -6,20 -3,20 1,22 5,22 9,20 13,20 16,19 20,17 22,15zM346,422l-6,1 -4,-1 -4,-4 -1,-4 0,-6 3,-8 3,-4 5,-2 4,0 5,2 4,4 1,4 0,5 -2,6 -4,5z"/><path fill="#ded000" fill-rule="evenodd" d="M172,442l-172,0 0,-378 64,4 54,1 12,3 20,0 8,4 10,13 16,2 12,17 3,14 5,12 -1,8 -3,6 -6,7 -8,6 -38,21 -19,12 -15,12 -12,12 -13,18 -10,18 -6,18 -3,20 0,22 4,20 9,22 11,20 14,18 18,17 22,17 26,14zM346,417l-4,0 -4,-2 -4,-5 0,-4 1,-6 5,-4 8,0 3,2 2,4 1,4 -2,6z"/><path fill="#e7ce00" fill-rule="evenodd" d="M164,442l-164,0 0,-377 62,4 56,0 12,4 20,0 8,4 10,12 12,1 4,2 12,16 3,14 5,12 -1,8 -3,6 -6,6 -8,6 -39,22 -16,10 -16,12 -13,12 -13,16 -10,18 -7,20 -4,20 0,20 3,22 8,22 10,20 14,18 17,18 22,18 23,14zM346,413l-6,-1 -4,-4 0,-6 2,-4 2,-1 4,0 4,1 3,4 0,6z"/><path fill="#f0cd00" fill-rule="evenodd" d="M158,442l-158,0 0,-375 58,3 59,0 11,4 22,-1 8,5 10,12 12,1 4,1 12,16 3,14 5,12 -1,8 -4,6 -5,6 -10,7 -35,19 -20,12 -15,12 -13,12 -13,16 -11,18 -7,20 -4,20 -1,20 4,22 7,22 10,20 14,19 16,18 20,16zM346,409l-4,0 -4,-3 0,-4 2,-3 4,0 4,3 0,4z"/><path fill="#f9ca00" fill-rule="evenodd" d="M150,442l-150,0 0,-374 54,3 62,0 12,4 22,-1 8,4 10,12 12,1 4,1 11,16 4,14 4,12 -1,8 -3,6 -6,6 -9,7 -36,19 -20,12 -16,12 -13,12 -13,16 -11,18 -7,18 -4,20 -1,20 3,22 6,22 10,20 12,19 16,18 20,18 21,15z"/><path fill="#fcc500" fill-rule="evenodd" d="M132,442l-132,0 0,-369 46,1 66,-1 16,4 18,-2 4,0 8,5 8,10 4,2 10,0 4,2 9,10 3,6 2,12 4,8 1,6 -1,6 -4,6 -6,6 -8,5 -40,21 -17,10 -15,10 -14,12 -14,16 -11,16 -9,18 -5,20 -3,20 2,22 4,21 8,21 11,20 13,18 18,20 22,18z"/><path fill="#fcbc05" fill-rule="evenodd" d="M110,442l-110,0 0,-362 104,-4 10,1 14,3 22,-2 6,3 7,9 3,2 14,1 4,2 8,9 3,6 2,12 3,8 2,6 -2,6 -4,6 -6,6 -8,5 -41,19 -19,10 -15,10 -15,12 -16,16 -11,16 -9,18 -6,18 -4,20 0,22 3,22 6,22 9,20 13,20 15,20z"/><path fill="#fcb408" fill-rule="evenodd" d="M98,442l-98,0 0,-358 102,-6 10,0 16,4 10,0 12,-2 6,3 6,7 4,3 14,1 4,2 7,8 4,6 1,12 4,8 1,6 -1,6 -4,6 -6,5 -10,6 -40,18 -20,10 -16,10 -14,11 -15,14 -12,16 -11,18 -6,18 -5,20 -1,22 2,21 5,21 8,22 11,20 16,22 18,20z"/><path fill="#fcab08" fill-rule="evenodd" d="M92,442l-92,0 0,-355 100,-8 10,1 20,3 22,-1 4,2 8,9 4,1 12,1 4,2 4,3 6,8 2,14 4,10 0,6 -2,6 -4,5 -6,5 -12,6 -37,16 -19,9 -20,12 -16,13 -12,12 -12,14 -9,16 -7,16 -6,20 -2,22 1,22 5,24 8,22 11,22 13,20z"/><path fill="#fca208" fill-rule="evenodd" d="M84,442l-84,0 0,-352 100,-9 10,0 22,3 10,0 6,-1 4,0 4,2 8,9 18,2 9,8 3,6 2,12 4,10 0,6 -2,5 -6,7 -8,6 -65,28 -20,12 -19,14 -17,18 -13,18 -9,20 -7,22 -2,18 0,20 3,20 5,20 7,18 9,18 13,20 16,20z"/><path fill="#fc9908" fill-rule="evenodd" d="M78,442l-78,0 0,-349 98,-11 10,0 28,4 16,-2 4,2 7,8 5,1 10,0 4,1 9,8 3,6 1,12 5,12 -1,6 -2,4 -7,7 -10,6 -47,19 -23,11 -18,11 -16,12 -16,16 -13,18 -10,20 -6,22 -3,20 0,20 2,20 5,20 8,20 9,18 11,18z"/><path fill="#fb9008" fill-rule="evenodd" d="M70,442l-70,0 0,-346 96,-12 12,0 30,3 14,-2 4,2 6,7 4,2 12,0 4,1 8,7 4,6 1,12 4,12 0,6 -3,4 -6,6 -10,6 -48,19 -24,11 -17,10 -17,12 -17,16 -13,18 -10,20 -7,22 -3,18 -1,20 2,20 4,20 7,20 8,19 13,21 14,20z"/><path fill="#f98708" fill-rule="evenodd" d="M66,442l-66,0 0,-344 94,-12 14,-1 30,3 14,-2 4,2 6,7 6,1 12,1 4,1 6,6 3,6 2,12 4,12 -1,6 -2,4 -6,6 -10,6 -49,18 -23,10 -17,10 -18,12 -17,16 -14,18 -11,20 -7,22 -4,20 0,20 1,20 4,20 7,20 9,20 10,18z"/><path fill="#f67e08" fill-rule="evenodd" d="M62,442l-62,0 0,-342 94,-13 14,-1 30,3 14,-2 3,1 7,7 6,2 12,0 4,2 6,5 3,6 1,12 5,12 -1,4 -2,6 -7,6 -11,6 -48,17 -24,11 -18,10 -18,12 -17,16 -14,18 -11,20 -7,22 -4,20 0,20 1,20 4,20 6,20 9,20 11,20z"/><path fill="#f47608" fill-rule="evenodd" d="M58,442l-58,0 0,-340 94,-14 14,-1 28,2 14,-2 4,1 8,8 6,1 12,0 4,2 6,5 3,6 1,12 5,12 -1,4 -2,5 -6,6 -8,5 -70,26 -22,11 -20,13 -18,16 -13,16 -11,20 -8,22 -5,20 -1,20 1,20 4,22 6,20 8,20 10,18 16,24z"/><path fill="#f16d08" fill-rule="evenodd" d="M54,442l-54,0 0,-338 94,-16 14,0 30,2 14,-2 2,1 8,7 4,1 14,0 4,2 6,5 3,6 1,12 4,12 0,4 -2,5 -6,6 -8,5 -72,26 -22,11 -20,13 -18,16 -13,16 -12,20 -8,22 -4,18 -1,20 1,20 3,22 6,20 8,20 11,22 14,22z"/><path fill="#ef6408" fill-rule="evenodd" d="M52,442l-52,0 0,-336 78,-14 24,-3 34,2 16,-2 10,8 20,1 8,6 3,6 1,12 4,12 -1,6 -4,6 -7,5 -10,5 -46,15 -24,10 -19,9 -16,10 -18,14 -14,16 -12,18 -8,18 -6,20 -3,22 0,22 2,22 6,24 9,22 11,22z"/><path fill="#ee5b08" fill-rule="evenodd" d="M48,442l-48,0 0,-335 78,-15 22,-2 36,1 16,-1 10,7 20,1 6,5 4,5 2,14 4,10 -1,8 -4,6 -7,5 -10,5 -48,15 -23,9 -17,8 -17,10 -18,14 -15,16 -11,16 -10,20 -6,20 -3,22 -1,22 3,22 5,22 8,22 11,24 15,24z"/><path fill="#ed5208" fill-rule="evenodd" d="M46,442l-46,0 0,-333 74,-15 26,-4 36,2 16,-2 10,7 20,2 6,4 4,5 2,14 4,10 -1,8 -5,6 -8,6 -10,4 -46,14 -24,9 -18,9 -17,10 -17,13 -15,15 -12,18 -9,18 -6,20 -4,22 -1,22 3,24 5,24 8,22 10,20 16,26z"/><path fill="#eb4908" fill-rule="evenodd" d="M44,442l-44,0 0,-331 78,-17 22,-3 36,1 16,-1 10,6 16,1 4,1 6,4 4,5 1,14 4,10 0,8 -5,6 -8,5 -10,5 -47,14 -23,9 -20,9 -16,9 -17,13 -16,16 -13,18 -8,18 -7,20 -3,22 -1,22 3,24 5,24 8,22 11,23z"/><path fill="#ea4108" fill-rule="evenodd" d="M40,442l-40,0 0,-329 75,-17 25,-4 36,1 14,-1 4,1 8,5 16,0 4,1 6,4 4,5 1,14 4,10 -1,8 -4,6 -8,5 -10,4 -48,14 -24,9 -20,9 -16,9 -18,13 -15,15 -13,18 -9,18 -6,20 -4,22 -1,22 2,24 6,24 7,22 10,22z"/><path fill="#e83808" fill-rule="evenodd" d="M0,288l0,-172 76,-19 26,-4 34,1 14,-1 12,5 18,1 4,1 5,4 3,6 1,12 4,12 -1,6 -4,5 -8,6 -10,4 -52,15 -28,10 -22,10 -20,13 -19,17 -15,20 -11,22zM36,442l-36,0 0,-90 5,22 7,22 10,21z"/><path fill="#e62f08" fill-rule="evenodd" d="M0,273l0,-154 76,-20 26,-5 32,1 16,-1 12,5 18,0 6,3 4,3 2,5 1,14 4,10 -1,6 -5,6 -7,4 -12,5 -50,13 -26,9 -22,10 -20,11 -18,14 -15,18 -12,20zM32,442l-32,0 0,-73 6,19 7,18z"/><path fill="#e42608" fill-rule="evenodd" d="M0,260l0,-138 74,-21 27,-5 33,0 16,-1 12,4 18,0 6,3 4,4 2,4 1,14 4,10 -2,6 -5,6 -8,5 -10,3 -50,13 -26,8 -22,9 -19,10 -19,14 -14,14 -13,18zM26,442l-26,0 0,-59 11,29 17,30z"/><path fill="#e1210d" fill-rule="evenodd" d="M0,249l0,-123 71,-22 29,-6 50,-2 12,4 18,0 6,2 4,4 2,6 1,12 3,10 -1,6 -5,5 -8,5 -10,4 -54,13 -25,7 -21,8 -17,8 -17,11 -15,13 -13,16zM22,442l-22,0 0,-47 10,23 13,24z"/><path fill="#dd1d13" fill-rule="evenodd" d="M0,236l0,-105 73,-25 27,-6 50,-3 12,4 18,-1 6,3 4,3 1,4 1,14 4,10 -2,6 -6,6 -8,4 -12,4 -50,11 -26,7 -20,6 -16,7 -18,10 -14,11 -13,14zM16,442l-16,0 0,-34 17,34z"/><path fill="#da1c1c" fill-rule="evenodd" d="M0,225l0,-88 22,-8 47,-19 29,-8 50,-3 14,2 18,-1 6,3 4,3 1,4 1,14 4,10 -2,6 -6,6 -8,4 -10,3 -72,14 -26,8 -18,6 -16,8 -14,9 -12,12zM12,442l-12,0 0,-23z"/><path fill="#d91c25" fill-rule="evenodd" d="M0,215l0,-72 20,-8 51,-23 27,-8 48,-4 16,2 16,-2 6,2 6,5 1,5 0,10 4,12 -2,6 -7,6 -18,7 -76,14 -24,5 -18,6 -16,7 -12,8 -12,10zM6,442l-6,0 0,-14 8,14z"/><path fill="#d81d2e" fill-rule="evenodd" d="M0,204l0,-54 18,-7 42,-23 28,-12 24,-4 34,-3 16,2 16,-2 8,2 4,5 1,14 4,10 0,4 -4,6 -7,5 -20,6 -78,12 -42,10 -12,4 -13,7 -10,8zM2,442l-2,0 0,-6 3,6z"/><path fill="#d82037" fill-rule="evenodd" d="M0,192l0,-33 14,-6 41,-27 23,-12 14,-5 12,-3 42,-4 16,1 18,-2 6,2 4,5 1,14 4,10 -1,4 -4,7 -8,4 -10,4 -14,2 -98,14 -26,4 -12,4 -8,4 -8,7z"/><path fill="#d9253d" fill-rule="evenodd" d="M88,160l-26,2 -16,-1 -8,-2 -2,-1 -1,-4 1,-4 4,-6 16,-14 19,-12 20,-8 17,-4 32,-3 18,1 16,-3 8,3 4,4 0,14 4,12 -2,6 -8,6 -10,3 -14,3z"/><path fill="#db2b43" fill-rule="evenodd" d="M110,156l-28,1 -18,-1 -10,-4 -2,-2 0,-4 1,-4 4,-6 12,-10 17,-10 16,-6 40,-6 20,0 16,-2 8,2 4,4 0,14 4,12 -2,5 -6,5 -10,4 -14,3z"/><path fill="#dc324a" fill-rule="evenodd" d="M108,154l-22,0 -14,-3 -4,-2 -4,-3 0,-6 5,-8 9,-8 14,-8 14,-5 36,-6 20,0 16,-3 8,2 4,4 0,14 4,12 -2,5 -6,5 -10,4 -14,2z"/><path fill="#dc3850" fill-rule="evenodd" d="M158,150l-38,2 -28,-1 -8,-2 -7,-3 -3,-4 0,-4 2,-6 8,-8 10,-6 12,-5 38,-7 18,-1 16,-3 8,2 2,2 2,4 0,12 3,10 -1,6 -4,4 -8,4z"/><path fill="#dc3e56" fill-rule="evenodd" d="M142,150l-28,0 -20,-3 -9,-5 -2,-4 0,-4 4,-6 7,-6 8,-4 12,-5 26,-5 22,-2 14,-3 6,0 6,3 2,4 0,14 3,8 0,4 -3,4 -6,4 -10,3z"/><path fill="#dd465c" fill-rule="evenodd" d="M162,148l-30,1 -26,-3 -12,-5 -3,-3 -1,-4 3,-6 7,-6 8,-4 11,-4 23,-5 20,-2 14,-4 6,0 4,2 2,1 2,4 -1,12 4,10 -1,5 -4,4 -6,3z"/><path fill="#de4d61" fill-rule="evenodd" d="M172,146l-28,2 -28,-3 -10,-2 -6,-3 -3,-4 0,-4 3,-6 6,-4 14,-6 21,-6 21,-3 14,-3 8,0 5,4 0,14 3,10 0,4 -6,6z"/><path fill="#df5466" fill-rule="evenodd" d="M170,146l-26,1 -25,-3 -7,-2 -6,-3 -3,-3 0,-4 1,-4 4,-4 6,-4 10,-4 16,-5 24,-3 12,-4 8,0 5,4 -1,14 4,10 0,3 -2,3 -5,4z"/><path fill="#e25c69" fill-rule="evenodd" d="M162,146l-22,-1 -19,-3 -6,-2 -5,-4 -1,-2 0,-4 2,-4 5,-4 19,-8 27,-5 15,-5 5,0 4,1 2,2 1,3 -1,12 4,10 -1,4 -3,4 -6,3 -8,2z"/><path fill="#e6646c" fill-rule="evenodd" d="M174,144l-22,1 -23,-3 -7,-2 -6,-4 -1,-2 -1,-4 2,-4 5,-4 12,-6 14,-4 17,-3 12,-4 8,0 5,3 -1,14 3,12 -1,3 -4,3z"/><path fill="#ea6b6e" fill-rule="evenodd" d="M170,144l-20,0 -20,-4 -5,-2 -5,-4 0,-2 0,-4 6,-6 14,-7 24,-6 14,-4 8,1 2,1 1,3 -1,12 3,10 -1,4 -4,4 -4,2z"/><path fill="#ed7470" fill-rule="evenodd" d="M178,142l-20,2 -20,-4 -10,-4 -3,-4 0,-4 5,-6 12,-6 22,-6 12,-5 8,0 4,3 -1,14 4,12 -5,5z"/><path fill="#ef7c70" fill-rule="evenodd" d="M172,142l-16,0 -14,-3 -8,-5 -2,-2 0,-4 5,-6 9,-5 18,-6 12,-5 6,-1 3,1 3,2 0,2 -1,12 3,12 -2,3 -4,2z"/><path fill="#f18571" fill-rule="evenodd" d="M178,140l-14,1 -15,-3 -8,-4 -1,-2 -1,-4 4,-6 7,-4 28,-12 6,0 3,2 1,2 -2,12 3,12 -4,4z"/><path fill="#f28e72" fill-rule="evenodd" d="M172,140l-12,-1 -11,-3 -5,-4 -1,-2 0,-4 4,-4 7,-4 24,-11 6,-1 3,2 1,2 -2,12 2,12 -5,4z"/><path fill="#f39773" fill-rule="evenodd" d="M180,138l-12,1 -14,-3 -6,-4 -2,-2 1,-4 3,-4 7,-4 21,-11 6,-1 3,2 0,2 -2,12 2,10 -2,4z"/><path fill="#f5a075" fill-rule="evenodd" d="M176,138l-10,0 -10,-3 -6,-5 0,-4 7,-6 21,-12 6,-1 2,1 1,2 -2,12 1,12 -4,3z"/><path fill="#f6a876" fill-rule="evenodd" d="M180,136l-8,1 -8,-1 -8,-4 -2,-4 2,-4 5,-4 18,-12 5,-1 2,1 1,2 -3,12 1,10 -1,2z"/><path fill="#f8b078" fill-rule="evenodd" d="M180,134l-6,1 -8,-1 -6,-4 -1,-4 3,-4 19,-14 3,0 2,1 0,3 -3,8 0,12z"/><path fill="#f8b47c" fill-rule="evenodd" d="M178,132l-10,0 -4,-3 0,-4 2,-3 12,-9 2,-3 4,0 1,0 -1,6 -2,2 -2,12z"/></g><path fill="none" stroke="#2a1040" stroke-opacity="0.75" stroke-width="0.9" stroke-linejoin="round" d="M192.9,16.6 193.9,18.7 195.1,20.9 196,23 196.6,25.3 196.8,27.8 196.8,30.5 196.3,33.1 195.4,35.3 193.8,36.9 191.7,38.1 189.2,39.2 186.7,40.2 184,41.1 181.2,42 178.3,42.8 175.5,43.9 172.9,45.4 170.5,47 168,48.7 165.6,50.2 163.1,51.3 160.6,52.2 158.2,53 155.7,53.9M144.5,65 149,65.3 153.6,65.5 158,65.8 161.9,66.3 165.3,67 168.2,67.9 170.8,68.9 173,70 174.7,71.2 175.9,72.4 176.9,73.7 178,75M119.7,81.8 133.3,79.3M171.8,92.4 174.7,93.2 177.6,94 180.4,94.9 183,96.1 185.5,97.6 187.8,99.3 189.9,101.3 191.7,103.5 193,106 193.9,108.9 194.7,111.8 195.4,114.7 196.1,117.5 196.7,120.3 197.3,123.1 197.9,125.9M175.5,87.4 178.7,88.2 181.9,88.9 185.1,89.8 187.9,91.1 190.5,92.8 192.8,94.9 194.9,97.2 196.6,99.8 197.9,102.7 198.8,105.8 199.6,109.1 200.3,112.2 201,115.1 201.6,117.9 202.2,120.6 202.8,123.4M161.9,107.3 164.7,106.6 167.5,105.7 170.3,105.1 173,104.8 175.7,105 178.4,105.4 180.9,106.2 183,107.3 184.8,108.7 186.2,110.5 187.3,112.6 187.9,114.7 187.9,117 187.4,119.4 186.5,122 185.4,124.6 183.9,127.3 182,130.1 180,133 178,135.8M204.1,82.4 203.7,84.8 203.3,87.2 202.9,89.6 202.8,92.4 202.9,95.7 203.1,99.3 203.5,102.9 204.1,106 205.1,108.5 206.3,110.7 207.7,112.6 209,114.7M221.4,73.7 221,75.8 220.6,78 220.2,80.1 220.2,82.4 220.4,84.9 220.9,87.5 221.6,90.1 222.7,92.4 224.1,94.5 225.8,96.6 227.8,98.4 230.1,99.8 233,100.7 236.4,101.1 239.7,101.5 242.5,102.3 244.7,103.6 246.5,105.1 247.9,106.8 248.8,108.5 249,110.3 248.6,112.1 248,114 247.5,115.9M259.9,60.1 255.4,62.6 250.7,65.2 246.3,67.7 242.5,70 239.3,72 236.6,73.9 234.4,75.7 232.6,77.5 231.2,79.4 230.3,81.2 229.8,83 230.1,84.9 231.1,86.8 232.8,88.8 235,90.7 237.6,92.4 240.9,93.8 244.9,95.1 249,96.2 252.5,97.3 255.5,98.2 258.3,99 260.7,99.8 262.4,101 263.5,102.5 264,104.1 264,106.1 263.6,108.5 262.6,111.5 261,114.9 259.1,118.6 257.4,122.1M302.9,76.1 300.5,77.1 298.1,78 295.8,79 294,80.5 292.6,82.6 291.4,85.2 290.8,88 290.7,90.4 291.3,92.6 292.5,94.8 294.2,96.7 296.3,98.1 299.2,99 302.7,99.5 306.3,99.5 309.5,99.2 312.1,98.3 314.5,96.9 316.6,95.3 318.3,93.7 319.5,92.1 320.3,90.5 320.9,88.8 321.6,87.1M311.7,133.4 314.6,133.5 317.5,133.6 320.3,133.8 322.7,134.5 324.5,135.8 325.8,137.5 327,139.4 328.3,141.2M386.7,147.8 381.8,150.8 376.9,153.9 372,156.7 366.9,158.8 361.2,159.9 355.2,160.3 349.4,160.2 344.8,159.9 341.7,159.2 339.6,158 337.9,156.7 336,155.5M320.5,162.1 318.6,162.9 316.9,163.7 314.8,164.6 311.7,165.4 307,166.5 301.2,167.7 295.1,168.6 289.6,168.8 284.7,168 280,166.6 275.8,164.8 272,163.2 269,161.8 266.5,160.4 264.3,159.1 262,157.7M340.4,142.3 344.1,140.5 347.7,138.6 351.5,136.9 355.8,135.6 360.9,134.9 366.4,134.7 372.2,134.6 377.9,134.5M194,257.4 199.8,257.7 205.7,258.1 211.5,258.4 217.2,258.5 222.8,258.3 228.3,257.9 233.8,257.5 239.3,257.4 244.8,257.7 250.4,258.2 255.9,258.9 261.4,259.6 267.1,260.6 272.9,261.8 278.5,262.7 283.4,262.9 287.5,262.1 291,260.6 294,258.7 296.7,256.3 298.9,253.5 300.6,250.2 302,246.6 303.3,243 304.4,239.1 305.2,235 306.2,231 307.7,227.6 309.5,224.8 311.5,222.3 314.4,220.3 318.7,218.7 325.1,217.7 333,217.1 341.6,216.8 349.6,216.5 356.9,216.1 364.1,215.9 371.2,215.6 378.3,215.4M314.3,245.2 314.4,248.1 314.4,251 314.7,253.8 315.4,256.3 316.8,258.5 318.8,260.6 320.9,262.1 323.1,262.9 325.4,262.8 327.9,261.9 330.2,260.5 332,258.5 333,255.8 333.5,252.4 333.8,248.7 334.2,245.2M212.8,276.1 216.6,274.4 220.4,272.7 224.2,271 228.2,269.5 232.5,268.1 237,266.8 241.6,265.8 245.9,265.1 250.1,264.8 254.2,264.9 258,265.3 261.4,266.2 264.2,267.4 266.6,268.9 268.5,271 270.2,273.9 271.4,278.3 272.2,283.8 272.8,289.3 273.5,293.8 274.2,296.9 274.8,299.3 275.6,301.1 276.8,302.6 278.7,303.9 281,304.9 283.4,305.3 285.6,304.8 287.5,303 289.2,300.3 290.7,297 292.2,293.8 293.4,290.5 294.3,286.9 295.3,283.5 296.7,280.5 298.6,277.9 301,275.5 303.4,273.7 305.5,272.8 307.4,273 309.3,274.1 310.9,275.9 312.1,278.3 312.7,281.4 312.9,285.3 313,289.5 313.2,293.8 313.5,298.2 313.9,302.9 314.4,307.5 315.4,311.4 316.9,314.8 318.7,317.8 320.8,320.2 323.1,321.4 325.6,321.3 328.4,320.1 331.4,318.2 334.2,315.9 337.1,313.1 340,309.7 342.8,306.1 345.2,302.6 347.2,299.1 348.8,295.4 350.2,292.1 351.8,289.4 353.5,287.7 355.1,286.6 356.8,285.9 358.5,285M369.5,300.4 366,303.1 362.4,305.8 359,308.5 356.3,311.4 354.4,314.5 353.1,317.8 352.3,321.2 351.8,324.7 351.7,328.6 352.1,332.8 352.8,336.8 354,340.1 355.7,342.7 357.8,344.9 360.2,346.3 362.9,346.7 365.9,345.7 369.4,343.7 372.8,340.9 376.1,337.9 379.1,334.4 381.9,330.3 384.6,326.2 387.2,322.5 389.8,319.4 392.2,316.7 394.7,314.1 397.1,311.4M303.3,337.9 303.8,336.6 304.3,335.3 304.9,334.1 305.5,333.5 306.4,333.5 307.4,333.9 308.3,334.7 308.8,335.7 308.9,337.2 308.7,339.1 308.2,340.9 307.7,342.3 307,343.1 306,343.6 305.1,343.7 304.4,343.4 304,342.5 303.7,341.1 303.5,339.4 303.3,337.9M239.3,300.4 240.3,298.6 241.2,296.7 242.3,295 243.7,293.8 245.7,293.2 248.1,293 250.5,293.2 252.5,293.8 254.2,294.9 255.7,296.6 256.7,298.4 256.9,300.4 256.1,302.6 254.4,305.1 252.4,307.4 250.3,309.2 248.1,310.5 245.6,311.5 243.3,311.9 241.5,311.4 240.5,309.6 240,306.7 239.7,303.5 239.3,300.4M245.9,351.2 248.2,346.8 250.6,342.3 252.8,337.9 254.7,333.5 256.2,329 257.3,324.4 258.3,320 259.1,315.9 259.8,312.3 260.4,309 260.9,305.8 261.4,302.6M261.4,369.9 265.9,369.3 270.5,368.7 274.9,368.2 279,367.7 282.6,367.3 285.9,367.1 289,366.8 292.2,366.6M320.9,364.4 328.1,365.2 335.2,365.9 342.4,366.7 349.6,367.7 357.2,369 365.1,370.4 372.4,371.9 378.3,373.2 382.3,374.2 385,375 387,375.7 389.4,376.5M265.8,379.9 270.1,378.7 274.3,377.5 278.7,376.4 283.4,375.4 288.5,374.7 293.9,374.2 299.6,373.7 305.5,373.2 311.8,372.5 318.3,371.8 325.1,371.2 332,371 339.2,371.4 346.8,372.2 354.1,373.2 360.7,374.3 366.3,375.5 371.2,377 375.8,378.4 380.5,379.9M276.8,393.1 279.6,391 282.4,388.8 285.2,386.9 287.8,385.4 290.3,384.4 292.7,383.8 294.8,383.7 296.7,384.3 298.2,385.6 299.3,387.7 300.3,390.2 301.1,393.1 301.8,396.5 302.3,400.4 302.8,404.5 303.3,408.5M323.1,415.2 323.6,410.7 324.1,406.1 324.7,401.6 325.4,397.5 326.2,393.7 327.1,390.1 328.2,386.9 329.8,384.3 332.1,382.4 335,381 338.1,380.2 340.8,379.9 343.3,380.1 345.6,380.9 347.8,382.2 349.6,384.3 351,387.4 351.9,391.3 352.8,395.6 354,399.7 355.5,403.8 357.3,407.9 359.1,411.9 360.7,415.2 362.2,417.7 363.5,419.5 364.9,421.2 366.2,422.9"/><path fill="none" stroke="#0a0410" stroke-width="4" stroke-linecap="butt" stroke-linejoin="round" d="M118.4,52 121.5,52.8 124.6,53.6 127.7,54.4 130.8,55.1 133.9,55.7 137,56.2 140.1,56.6 143.2,57 146.3,57.3 149.4,57.5 152.6,57.7 155.7,57.6 158.8,57.4 161.9,57 165,56.4 168.1,55.7 171.3,54.8 174.5,53.7 177.6,52.6 180.5,51.4 183.2,50.2 185.6,48.8 188,47.5 190.4,46.4 192.8,45.4 195.2,44.6 197.6,43.9 200.3,43.3 203.2,42.9 206.4,42.6 209.6,42.4 212.8,42.1 215.9,41.7 219,41.3 222.1,40.9 225.2,40.8 228.4,40.9 231.6,41.3 234.8,41.7 237.6,42.1 240.2,42.5 242.5,42.8 244.6,43.3 246.3,43.9 247.7,44.7 248.8,45.6 249.5,46.6 250,47.7 250,48.8 249.7,50.1 249.2,51.3 248.8,52.6M215.9,65 215.4,66.8 214.9,68.6 214.4,70.5 214,72.5 213.7,74.8 213.5,77.3 213.4,79.9 213.4,82.4 213.4,84.9 213.5,87.5 213.7,90 214,92.4 214.4,94.7 214.9,96.8 215.6,98.9 216.5,101 217.8,103.1 219.4,105.1 221.1,107.1 222.7,109.1M181.7,9.2 192.9,5.5M215,289.4 218.3,287.1 221.6,284.9 224.9,282.6 228.2,280.5 231.6,278.4 235,276.2 238.3,274.3 241.5,272.8 244.5,271.7 247.3,271 250,270.6 252.5,270.6 255,271 257.4,271.8 259.5,272.9 261.4,273.9 262.9,274.7 264.1,275.3 265,276.4 265.8,278.3 266.3,281.4 266.5,285.4 266.6,289.7 266.9,293.8 267.3,297.8 267.7,301.8 268.3,305.7 269.1,309.2 270.2,312.3 271.4,315.2 272.9,317.8 274.6,320.3 276.6,322.6 279,324.6 281.4,326.6 283.4,329.1 285.1,332.1 286.5,335.4 287.8,338.9 288.9,342.3 289.9,345.6 290.7,348.9 291.4,352.3 292.2,355.6M320.9,355.6 325.2,356.1 329.5,356.6 333.9,357.1 338.6,357.8 343.8,358.9 349.4,360.3 355.1,361.5 360.7,362.2 366.4,362.1 372.2,361.5 377.7,360.7 382.7,360 386.8,359.4 390.4,358.9 393.7,358.4 397.1,357.8"/><text class="cl" style="font-size:23.5px" text-anchor="middle" transform="translate(120.7,62.7) rotate(10)" y="8.5">10</text><text class="cl" style="font-size:23.5px" text-anchor="middle" transform="translate(160.6,78.7) rotate(25)" y="8.5">14</text><text class="cl" style="font-size:23.5px" text-anchor="middle" transform="translate(192.3,66.9) rotate(22)" y="8.5">8</text><text class="cl" style="font-size:23.5px" text-anchor="middle" transform="translate(228.9,58.2) rotate(0)" y="8.5">6</text><text class="cl" style="font-size:23.5px" text-anchor="middle" transform="translate(186.7,135.2) rotate(40)" y="8.5">8</text><text class="cl" style="font-size:23.5px" text-anchor="middle" transform="translate(312.8,76.1) rotate(15)" y="8.5">2</text><text class="cl" style="font-size:23.5px" text-anchor="middle" transform="translate(318.3,108.1) rotate(15)" y="8.5">2</text><text class="cl" style="font-size:23.5px" text-anchor="middle" transform="translate(308.4,142.3) rotate(25)" y="8.5">4</text><text class="cl" style="font-size:23.5px" text-anchor="middle" transform="translate(328.3,153.3) rotate(40)" y="8.5">2</text><text class="cl" style="font-size:23.5px" text-anchor="middle" transform="translate(382.3,135.6) rotate(20)" y="8.5">2</text><text class="cl" style="font-size:23.5px" text-anchor="middle" transform="translate(392.3,214.0) rotate(0)" y="8.5">2</text><text class="cl" style="font-size:23.5px" text-anchor="middle" transform="translate(250.3,286.1) rotate(0)" y="8.5">10</text><text class="cl" style="font-size:23.5px" text-anchor="middle" transform="translate(306.6,358.9) rotate(0)" y="8.5">6</text><text class="cl" style="font-size:23.5px" text-anchor="middle" transform="translate(325.4,234.2) rotate(20)" y="8.5">4</text><text class="cl" style="font-size:23.5px" text-anchor="middle" transform="translate(366.2,287.2) rotate(15)" y="8.5">4</text><text class="cl" style="font-size:23.5px" text-anchor="middle" transform="translate(399.1,387.6) rotate(10)" y="8.5">10</text><text class="cl" style="font-size:23.5px" text-anchor="middle" transform="translate(309.9,419.6) rotate(10)" y="8.5">12</text><text class="cl" style="font-size:23.5px" text-anchor="middle" transform="translate(252.5,368.8) rotate(0)" y="8.5">8</text></g>
<use href="#land"/>
<use href="#grid"/>
<path stroke="#1a0828" stroke-opacity="0.8" stroke-width="3.2" stroke-linecap="round" d="M224.1,21.3h0M188,36.6h0M209.2,36.2h0M234.6,37.1h0M202.4,42.2h0M195.3,49.2h0M231.2,51.5h0M159.2,51.1h0M159.5,66.9h0M179.1,68.8h0M167,76.8h0M160.5,83.7h0M177.8,83.7h0M162.3,88h0M206.6,83.3h0M227.5,83.3h0M252.3,79.4h0M249.8,86.8h0M248,94.3h0M167.5,97.6h0M212,101.7h0M245.2,104.5h0M182.8,111.6h0M196.8,111.6h0M278.7,65h0M278.7,90.5h0M341.7,40.3h0M352.7,39.9h0M324.7,48.6h0M317.9,63.5h0M345.8,63.8h0M327.8,92.7h0M303,101.4h0M297.1,114.4h0M312.9,115.7h0M278.2,115h0M311,128.7h0M332.4,128.7h0M296.4,129.9h0M303.9,148h0M301.4,156.1h0M327.8,147.7h0M345.5,148h0M316,174.1h0M239.3,196.5h0M265.2,196.5h0M291.5,196.5h0M317.5,196.5h0M357.3,196.5h0M291.5,220.9h0M239,245.1h0M265,245.3h0M278,245.3h0M291.6,245.3h0M318,245.3h0M356.8,244.7h0M254.8,293.3h0M278,293.1h0M304.6,293.1h0M320.8,293.1h0M356.8,293.3h0M278,341.2h0M305,341.2h0M337.6,341.2h0M356.8,341.2h0M298.1,390h0M318,390h0M337.6,390h0M356.8,390h0"/>
</g>
<use href="#frameW"/>
<text class="ax" text-anchor="end" x="-6" y="11.5">40°N</text>
<text class="ax" text-anchor="end" x="-6" y="108.5">38°N</text>
<text class="ax" text-anchor="end" x="-6" y="205.5">36°N</text>
<text class="ax" text-anchor="end" x="-6" y="302.5">34°N</text>
<text class="ax" text-anchor="end" x="-6" y="399.5">32°N</text>
<text class="ax" text-anchor="middle" x="3.1" y="472.3">115°E</text>
<text class="ax" text-anchor="middle" x="200.1" y="472.3">120°E</text>
<text class="ax" text-anchor="middle" x="397.1" y="472.3">125°E</text>
<text class="odv" transform="translate(537.6,434.6) rotate(-90)">Ocean Data View</text>
<path d="M551.9,3.4 L567.15,-4.0 L582.4,3.4 Z" fill="#f8b47c"/>
<path d="M551.9,437.7 L567.15,445.09999999999997 L582.4,437.7 Z" fill="#e870f8"/>
<rect x="551.9" y="2.9" width="30.5" height="435.3" fill="url(#cbg)"/>
<path d="M551.9,2.9 L567.15,-4.0 L582.4,2.9 V438.2 L567.15,445.09999999999997 L551.9,438.2 Z" fill="none" stroke="#4a4038" stroke-width="0.8"/>
<path d="M551.9,438.2h6.5M582.4,438.2h-6.5" stroke="#000" stroke-width="1.6"/>
<text class="ax" x="589.4" y="447.2">0</text>
<path d="M551.9,329.4h6.5M582.4,329.4h-6.5" stroke="#000" stroke-width="1.6"/>
<text class="ax" x="589.4" y="338.4">5</text>
<path d="M551.9,220.5h6.5M582.4,220.5h-6.5" stroke="#000" stroke-width="1.6"/>
<text class="ax" x="589.4" y="229.5">10</text>
<path d="M551.9,111.7h6.5M582.4,111.7h-6.5" stroke="#000" stroke-width="1.6"/>
<text class="ax" x="589.4" y="120.7">15</text>
<path d="M551.9,2.9h6.5M582.4,2.9h-6.5" stroke="#000" stroke-width="1.6"/>
<text class="ax" x="589.4" y="11.9">20</text>
</g>
<text class="pl" x="2.1" y="1165.2">E</text>
<text class="tt" x="166.6" y="1175.8">[</text><text class="tt" x="180.7" y="1175.8">N</text><text class="tt" x="210.6" y="1175.8">O</text><text class="tt" x="238.8" y="1188.0" style="font-size:20px">3</text><text class="tt" x="249.2" y="1160.8" style="font-size:20px">-</text><text class="tt" x="254.8" y="1175.8">]</text><text class="tt" x="281.9" y="1175.8" textLength="88.5" lengthAdjust="spacingAndGlyphs">µmol</text><text class="tt" x="383.4" y="1175.8">L</text><text class="tt" x="406.6" y="1162.1" style="font-size:21px">-1</text><text class="tt at" x="425.1" y="1175.8">@</text><text class="tt" x="612.3" y="1175.8" text-anchor="end">surface</text>
<g transform="translate(827.3,1196.5)">
<g clip-path="url(#fr)">
<clipPath id="rgF"><path d="M117.5,40 117.5,100 150,104 154,138 173,145 197,143 204,128 211,152 201,188 199,200 198.5,205.5 194,223.2 193,238.6 194,256.3 198.5,269.5 208.4,278.3 210,290 215,310 220,330 224,345 228,352 238,368 246,380 254,390 264,398 270,404 271,410 270.2,415.2 274.6,420.7 283.4,424 369.5,424 380.5,421.8 391.6,415.2 397,404.1 397.4,380 397.4,235.5 397.8,189.5 393.4,176.5 384.6,163.2 386.8,150 382.4,132.5 369,119.1 364.7,105.5 369.1,92.5 378,75 389,52.5 393.3,35.2 386.7,17.5 369,6.5 362,0 190,-3 173,12 166,32 141,42Z"/></clipPath><g clip-path="url(#rgF)"><g filter="url(#bl)"><rect x="-10" y="-10" width="538.0" height="462.0" fill="#da76f8"/><path fill="#d66af8" fill-rule="evenodd" d="M518,443l-518,0 -1,-1 1,-442 29,0 17,3 38,10 46,17 16,3 8,-2 8,-5 5,-8 9,-18 162,0 6,6 6,4 8,1 22,1 14,4 78,33 46,17z"/><path fill="#d161f8" fill-rule="evenodd" d="M518,443l-518,0 -1,-1 1,-442 23,0 27,5 36,10 44,16 16,2 9,-1 7,-5 6,-9 9,-18 155,0 6,10 8,6 8,1 24,0 14,3 76,32 50,19z"/><path fill="#cc59f8" fill-rule="evenodd" d="M518,443l-518,0 -1,-1 1,-442 17,0 37,7 34,9 42,15 16,3 10,-2 6,-4 6,-8 10,-20 149,0 7,15 4,4 4,2 10,2 26,-2 10,2 16,6 64,28 50,18z"/><path fill="#c852f8" fill-rule="evenodd" d="M518,443l-518,0 -1,-1 1,-442 18,1 40,8 30,8 42,15 18,3 8,-2 8,-5 5,-8 10,-20 144,0 7,20 3,4 5,3 10,2 28,-3 10,2 16,6 64,28 52,19z"/><path fill="#c24bf8" fill-rule="evenodd" d="M518,443l-518,0 -1,-1 1,-441 32,4 30,6 28,8 40,14 18,3 10,-2 6,-4 6,-9 11,-21 137,0 5,24 3,5 5,3 13,3 32,-1 12,2 76,33 54,19zM228,210l6,-4 4,-6 1,-6 -1,-3 -2,-1 -6,4 -8,10 -1,4 2,2z"/><path fill="#bb46f9" fill-rule="evenodd" d="M518,443l-518,0 -1,-1 1,-440 34,5 30,6 28,8 38,13 18,3 10,-2 8,-5 6,-10 10,-20 131,0 4,28 2,4 5,4 14,3 34,2 14,3 80,33 52,18zM295,122l2,-2 0,-2 -1,-2 -6,-2 -4,2 -1,4 2,2 3,1zM231,212l8,-6 4,-8 1,-8 -2,-4 -2,-2 -4,0 -4,3 -10,12 -3,7 0,4 1,3 4,1zM221,236l1,-4 -4,-7 -2,-1 -4,2 -2,4 2,4 4,2z"/><path fill="#b442fb" fill-rule="evenodd" d="M518,443l-518,0 -1,-1 1,-438 34,5 30,6 26,6 42,14 18,3 10,-2 8,-6 6,-10 10,-20 125,0 1,12 0,20 2,4 4,4 8,2 44,5 16,4 82,34 52,18zM292,126l6,-2 2,-2 1,-4 -1,-2 -8,-4 -5,0 -4,2 -2,4 1,5 4,3zM228,240l1,-2 0,-4 -7,-10 -1,-4 3,-3 12,-4 5,-5 4,-6 2,-8 0,-6 -2,-6 -5,-3 -6,2 -14,18 -3,7 -2,10 -7,12 1,6 5,4 8,3z"/><path fill="#ab3efc" fill-rule="evenodd" d="M518,443l-518,0 -1,-1 1,-436 32,4 30,5 30,8 39,13 19,3 10,-2 8,-5 6,-10 12,-22 119,0 1,14 -2,22 1,4 3,3 10,2 34,4 24,7 86,36 30,11 26,8zM294,128l6,-3 3,-3 0,-4 -3,-4 -10,-4 -6,1 -5,3 -2,6 2,6 7,3zM231,244l4,-4 0,-4 -3,-5 -7,-9 1,-2 10,-3 6,-6 6,-9 2,-8 0,-6 -1,-6 -3,-4 -4,-3 -4,0 -4,3 -14,18 -5,8 -9,24 1,6 6,6 9,4z"/><path fill="#a33cfc" fill-rule="evenodd" d="M518,443l-518,0 -1,-1 1,-435 34,4 30,6 28,7 38,12 20,3 10,-1 9,-6 6,-10 11,-22 117,0 1,16 -3,24 1,3 2,2 8,2 34,3 24,7 68,29 48,19 32,10zM297,128l5,-3 2,-5 -1,-4 -5,-4 -6,-2 -6,0 -7,2 -3,4 -1,4 1,4 4,4 8,2zM230,246l6,-4 1,-4 -2,-6 -4,-8 0,-2 7,-5 7,-7 4,-8 2,-8 0,-8 -2,-6 -3,-4 -4,-2 -4,0 -4,2 -14,18 -6,10 -9,24 1,6 6,7 10,4z"/><path fill="#9a39fc" fill-rule="evenodd" d="M518,443l-518,0 -1,-1 1,-435 32,4 30,6 30,7 40,13 12,3 8,0 10,-2 7,-6 7,-10 11,-22 114,0 1,8 0,10 -4,24 0,2 2,3 6,1 34,3 22,5 14,6 28,14 20,9 60,23 34,11zM294,130l6,-2 4,-4 1,-6 -3,-4 -6,-4 -8,-1 -7,1 -6,4 -2,4 0,4 3,6 8,3zM234,246l4,-4 1,-4 -4,-14 13,-16 3,-8 2,-6 0,-8 -3,-8 -3,-4 -5,-2 -6,2 -3,2 -15,20 -5,10 -8,22 1,8 8,7 12,4 4,0z"/><path fill="#9137fc" fill-rule="evenodd" d="M518,443l-518,0 -1,-1 1,-434 32,4 30,6 30,7 41,13 19,2 10,-2 8,-5 7,-11 11,-22 111,0 2,10 -1,10 -6,26 0,2 2,1 38,3 22,5 17,7 27,15 16,7 68,27 34,11zM290,132l8,-2 6,-4 2,-4 -1,-6 -5,-5 -8,-3 -8,0 -8,3 -3,3 -2,4 1,6 2,4 6,4zM233,248l4,-2 3,-4 1,-4 -2,-10 0,-4 11,-17 4,-13 0,-8 -2,-8 -4,-5 -4,-2 -6,1 -4,2 -14,18 -7,12 -9,24 1,8 7,7 12,5z"/><path fill="#8935fc" fill-rule="evenodd" d="M518,443l-518,0 -1,-1 1,-432 34,4 30,5 30,7 37,12 11,2 10,1 10,-2 8,-5 8,-12 11,-22 108,0 1,10 0,10 -3,12 -6,16 0,4 1,1 38,0 22,5 19,8 25,16 16,8 74,29 34,11zM288,134l10,-3 6,-3 4,-6 -1,-6 -7,-6 -8,-3 -10,0 -8,3 -4,4 -1,4 0,6 1,4 6,5 6,1zM232,250l6,-3 4,-5 1,-4 -1,-10 0,-4 9,-16 5,-12 0,-10 -2,-8 -3,-6 -5,-3 -4,0 -6,2 -8,8 -15,21 -10,26 0,8 2,4 4,4 11,6 6,2z"/><path fill="#7f34fc" fill-rule="evenodd" d="M518,443l-518,0 0,-432 34,4 30,5 30,7 38,12 20,3 10,-2 9,-6 8,-12 12,-22 103,0 2,10 -1,12 -2,10 -8,18 0,4 1,1 4,1 16,-1 20,0 12,2 10,3 17,8 25,18 14,7 78,32 36,11zM261,76l5,-6 1,-4 -1,-2 -4,0 -4,2 -2,8 2,3zM286,136l12,-3 8,-5 3,-6 -1,-6 -6,-6 -10,-4 -12,0 -8,2 -4,4 -2,4 0,8 2,6 2,3 4,3 6,1zM236,250l5,-4 3,-4 1,-4 -1,-8 1,-6 9,-18 4,-14 0,-8 -3,-10 -3,-4 -6,-3 -4,0 -6,3 -4,3 -6,7 -15,22 -8,18 -2,8 1,6 2,4 8,8 8,4 6,1 6,0z"/><path fill="#7736fc" fill-rule="evenodd" d="M518,443l-518,0 0,-430 34,3 30,5 28,7 41,12 11,2 10,1 11,-3 7,-5 9,-13 11,-22 99,0 2,12 -1,12 -3,10 -9,18 -2,6 8,1 18,-2 18,0 10,1 10,3 18,9 26,21 12,7 35,14 49,21 36,11zM256,86l14,-16 4,-8 -1,-2 -11,1 -6,5 -7,18 1,2 2,1zM287,138l15,-5 6,-4 3,-7 -1,-6 -6,-6 -10,-4 -14,-2 -11,2 -4,4 -2,8 1,10 2,6 3,4 5,2zM236,252l6,-4 5,-6 1,-4 0,-12 8,-18 4,-14 0,-10 -2,-10 -4,-8 -4,-2 -6,0 -6,3 -10,8 -18,27 -7,16 -3,8 1,10 2,4 5,4 8,5 6,3 8,1zM314,174l2,-4 0,-2 -2,-2 -4,0 -5,4 0,4 3,2z"/><path fill="#6f3afc" fill-rule="evenodd" d="M518,443l-518,0 0,-428 34,3 30,5 30,6 38,12 12,2 10,0 10,-1 9,-6 9,-12 12,-24 93,0 3,8 0,10 -1,8 -4,10 -5,10 -6,7 -14,7 -5,4 -7,14 -7,8 1,2 2,2 8,4 6,1 2,-2 5,-11 9,-12 4,-4 6,-3 20,-4 18,1 10,1 12,4 11,7 10,8 15,16 10,7 38,15 52,25 18,6 20,5zM278,144l30,-12 4,-6 1,-4 0,-4 -5,-7 -10,-5 -14,-3 -20,-2 -2,3 -2,12 0,12 2,10 2,4 4,3 4,0zM235,254l10,-6 4,-6 2,-4 0,-12 7,-16 5,-18 0,-8 -3,-17 -2,-5 -4,-3 -6,1 -8,3 -6,4 -6,6 -19,27 -7,16 -4,10 1,10 3,5 4,4 7,5 7,3 8,1zM313,178l5,-4 2,-4 -1,-4 -1,-2 -4,-1 -6,0 -5,3 -4,4 0,4 3,5 6,1z"/><path fill="#6a41fc" fill-rule="evenodd" d="M518,443l-518,0 0,-426 34,3 30,4 30,7 39,11 11,2 12,1 12,-3 8,-6 9,-12 12,-24 86,0 2,8 1,10 -1,10 -4,10 -9,12 -17,12 -9,14 -9,10 2,4 13,10 3,6 1,28 -2,12 -4,6 -16,12 -10,12 -18,26 -6,13 -3,9 -1,10 4,8 9,8 9,4 8,2 8,0 12,-6 6,-6 3,-6 2,-14 12,-38 0,-4 -2,-8 3,-11 5,-7 11,-10 8,-5 16,-6 6,-7 1,-6 -1,-4 -2,-4 -5,-4 -11,-6 -23,-6 -4,-2 -3,-4 0,-6 6,-10 6,-7 8,-4 14,-3 16,0 10,2 8,2 10,6 10,8 6,8 10,16 8,7 40,15 40,22 16,8 19,6 23,5zM308,184l10,-6 5,-6 2,-4 -1,-4 -4,-5 -6,-1 -10,3 -10,5 -6,6 0,4 2,2 5,4 7,3z"/><path fill="#6549fc" fill-rule="evenodd" d="M518,443l-518,0 0,-423 34,3 30,4 30,6 43,11 9,1 12,1 14,-4 6,-4 8,-10 8,-18 7,-10 77,0 3,8 1,10 -1,10 -3,8 -8,11 -16,13 -19,26 1,4 11,10 4,8 1,18 -3,16 -4,8 -19,20 -16,22 -10,18 -6,14 0,10 4,10 8,7 10,5 10,2 8,0 13,-6 7,-6 5,-8 6,-18 0,-10 1,-8 4,-8 4,-4 6,-3 6,-1 16,5 4,0 17,-13 7,-10 2,-4 0,-4 -3,-4 -5,-3 -8,-1 -18,6 -6,-2 -2,-2 2,-6 5,-4 15,-5 5,-3 4,-6 1,-6 -3,-8 -6,-6 -11,-6 -23,-8 -6,-6 0,-6 5,-8 6,-6 10,-4 10,-1 14,0 8,2 8,3 9,6 9,10 4,8 5,16 6,6 9,5 22,7 14,6 13,8 29,21 14,7 20,6 30,5z"/><path fill="#6050fc" fill-rule="evenodd" d="M518,442l-518,1 0,-420 34,2 32,4 28,5 46,12 18,1 16,-4 10,-7 5,-6 8,-20 7,-10 68,0 4,8 2,8 0,10 -2,8 -6,10 -18,16 -16,21 -2,5 2,6 9,10 3,8 0,18 -3,14 -6,10 -15,18 -18,26 -9,16 -5,12 -1,10 3,10 8,8 12,6 10,1 10,0 9,-3 11,-6 7,-8 11,-20 -3,-8 -1,-6 2,-7 4,-6 8,-4 6,0 4,1 9,6 5,10 2,-1 1,-9 4,-8 21,-18 9,-12 1,-4 -2,-5 -13,-11 -1,-4 1,-14 -3,-6 -11,-8 -11,-5 -18,-7 -4,-2 -4,-4 -1,-6 5,-8 6,-5 8,-3 10,-1 14,1 8,3 6,3 6,6 6,10 2,8 1,16 3,6 6,4 30,9 17,9 14,10 23,24 10,8 10,4 14,3 42,3zM304,150l-4,1 0,-3 4,-1 1,1z"/><path fill="#5c58fc" fill-rule="evenodd" d="M518,442l-518,1 0,-417 34,1 32,4 28,5 46,11 18,1 18,-4 14,-10 3,-4 7,-20 8,-10 58,0 6,8 3,8 0,10 -2,8 -6,10 -17,16 -16,22 -1,4 1,6 7,8 3,8 1,14 -2,16 -5,12 -30,40 -14,24 -3,8 -2,8 0,8 3,7 4,5 8,6 8,3 8,2 16,-1 15,-6 7,-4 6,-6 12,-22 0,-2 -5,-6 -1,-4 1,-6 3,-5 4,-3 4,-1 6,-1 4,1 4,3 3,4 5,12 2,0 2,0 4,-6 2,-12 3,-6 5,-5 17,-11 10,-10 4,-8 0,-16 3,-3 6,-2 8,0 10,3 12,6 11,8 8,8 6,8 13,27 4,5 4,2 8,3 14,1 58,0zM334,110l-4,0 -6,-1 -38,-15 -2,-2 -3,-4 0,-4 1,-4 4,-4 4,-3 12,-3 16,0 10,4 8,8 5,12 -2,10 -2,4zM372,246l4,-2 2,-2 -1,-4 -7,-4 -4,-1 -4,1 -2,4 1,4 5,4z"/><path fill="#5860fc" fill-rule="evenodd" d="M518,442l-518,1 0,-415 34,1 32,3 30,5 46,11 18,1 18,-5 15,-8 3,-4 3,-12 3,-8 4,-6 6,-6 48,0 2,1 6,7 4,8 1,8 -2,8 -5,10 -14,14 -14,18 -5,8 -1,4 1,6 6,8 3,8 1,14 -3,16 -6,14 -30,42 -12,20 -4,10 -1,8 1,8 2,6 5,6 7,5 8,3 8,2 18,-1 24,-9 6,-6 12,-24 0,-2 -4,-6 -2,-4 1,-4 3,-5 4,-3 4,-1 8,1 6,6 6,12 4,0 4,-4 3,-4 3,-14 2,-4 4,-3 18,-10 10,-8 7,-9 5,-14 4,-3 6,1 8,4 9,6 7,6 4,6 4,8 3,14 -1,8 -3,8 -7,14 -5,6 -5,3 -6,2 -20,0 -4,3 -1,6 1,4 2,4 6,4 8,1 11,-3 10,-4 23,-13 20,-6 34,-6 46,-3zM328,104l-6,0 -6,-1 -26,-9 -4,-3 -2,-3 0,-6 6,-6 10,-4 14,0 10,3 5,3 3,4 3,10 -1,8 -2,2zM281,298l1,-2 -2,-2 0,4z"/><path fill="#5266fc" fill-rule="evenodd" d="M518,442l-518,1 0,-413 34,1 32,3 30,4 46,11 18,0 18,-3 13,-6 6,-4 2,-4 2,-14 3,-6 6,-7 6,-5 37,0 7,4 6,6 3,6 2,8 -2,8 -4,8 -13,14 -14,18 -6,10 -1,8 8,12 2,8 0,14 -3,14 -3,8 -4,8 -30,42 -11,20 -4,10 -1,8 1,8 3,6 5,6 6,4 8,4 8,1 18,-1 27,-8 3,-2 4,-5 11,-25 -1,-4 -3,-4 -1,-4 1,-4 3,-4 6,-3 7,1 5,4 6,12 2,1 4,0 4,-3 5,-6 3,-14 3,-4 23,-11 10,-7 14,-13 4,-2 4,1 5,2 9,8 5,10 0,10 -2,10 -8,18 -3,4 -8,5 -16,0 -2,0 -2,3 -1,8 1,7 4,6 6,4 8,2 16,-3 46,-15 26,-6 26,-4 30,-2zM326,101l-6,1 -6,-1 -22,-8 -6,-5 1,-6 5,-5 10,-4 12,0 8,3 6,5 3,7 0,8zM282,302l2,-2 1,-4 -1,-4 -2,-2 -2,0 -2,2 -1,6 3,4z"/><path fill="#4c6cfc" fill-rule="evenodd" d="M518,442l-518,1 0,-411 36,1 32,2 28,4 46,10 18,1 18,-3 21,-9 3,-4 1,-12 2,-8 6,-8 9,-5 3,-1 19,0 10,3 8,5 5,6 3,6 0,8 -1,6 -4,6 -26,32 -6,12 0,8 6,10 2,8 0,16 -3,14 -6,14 -31,44 -11,18 -3,10 -1,8 1,8 3,8 4,5 6,4 8,4 8,1 18,-1 30,-7 4,-3 4,-5 10,-26 -1,-4 -3,-4 -1,-4 2,-4 3,-4 6,-1 5,1 5,4 6,11 2,1 4,0 6,-4 5,-6 5,-16 4,-2 14,-4 24,-14 8,-3 6,2 6,5 2,6 0,8 -6,22 -4,6 -4,3 -4,1 -4,0 -8,-2 -2,0 -2,2 -1,12 2,10 5,8 6,4 6,2 8,-1 28,-5 60,-14 50,-6zM324,98l-8,1 -13,-3 -12,-6 -2,-2 -1,-4 4,-5 8,-3 10,-1 8,1 6,4 4,6 0,8zM284,304l2,-4 1,-6 -3,-6 -4,-2 -2,1 -2,4 0,9 2,4 2,1z"/><path fill="#4573fc" fill-rule="evenodd" d="M518,442l-518,1 0,-410 36,1 32,2 30,5 44,9 20,0 18,-3 16,-5 6,-4 2,-4 0,-12 2,-6 6,-8 8,-5 8,-2 9,1 13,4 8,4 6,6 2,5 1,7 -2,6 -3,6 -26,32 -6,12 0,8 6,10 1,6 0,18 -2,14 -8,16 -29,42 -11,18 -3,10 -2,8 1,8 3,8 4,5 6,5 8,4 8,1 18,-1 34,-7 4,-3 2,-3 10,-29 0,-4 -3,-4 0,-4 3,-6 4,-2 6,1 6,5 6,10 6,0 7,-4 5,-6 6,-14 6,-2 12,0 14,-10 12,-4 4,1 4,2 3,7 -1,8 -2,10 -4,10 -4,3 -5,-1 -15,-16 -4,0 -1,4 5,10 2,20 2,9 4,7 8,6 10,2 32,-3 68,-14 42,-5zM322,96l-8,2 -10,-3 -12,-6 -2,-3 1,-2 3,-4 8,-3 8,-1 8,2 6,4 2,4 0,6zM284,306l4,-6 0,-7 -4,-7 -4,-3 -2,0 -3,7 0,10 3,6 2,2z"/><path fill="#3f79fc" fill-rule="evenodd" d="M518,442l-518,1 0,-408 36,0 32,2 30,4 44,9 20,1 17,-3 17,-5 6,-3 2,-2 1,-4 1,-12 2,-6 4,-6 8,-5 8,-1 8,0 16,6 6,3 4,4 2,5 1,6 -1,6 -29,38 -5,12 0,8 5,10 1,6 0,20 -2,12 -8,16 -31,44 -10,18 -3,10 -1,8 1,8 4,8 4,5 6,5 6,2 8,2 16,-1 22,-5 18,-2 3,-2 2,-4 10,-30 0,-4 -3,-6 0,-3 2,-3 4,-2 6,0 6,5 6,9 4,1 4,-1 6,-4 8,-8 4,-7 4,-1 4,1 2,2 9,15 5,26 4,9 6,7 8,4 8,0 38,-3 64,-11 38,-5zM316,96l-6,0 -9,-4 -7,-4 -1,-2 0,-2 4,-4 7,-2 8,-1 6,2 5,5 1,6 -2,4zM368,207l-4,-2 -9,-9 -1,-4 4,-4 8,-1 3,1 2,2 1,4 0,6 -2,5zM282,310l4,-4 3,-4 0,-8 -5,-11 -4,-3 -2,0 -2,1 -1,5 -1,13 4,10 2,1z"/><path fill="#387ffc" fill-rule="evenodd" d="M518,442l-518,1 0,-407 36,0 34,2 30,4 42,9 20,0 18,-3 22,-6 4,-6 1,-14 2,-6 5,-5 6,-3 6,-2 8,1 18,6 6,3 5,8 1,6 -2,4 -18,26 -10,12 -5,12 0,8 5,10 1,8 -1,20 -2,12 -7,14 -31,44 -10,18 -3,10 -1,8 1,8 3,8 4,6 6,4 6,3 8,2 12,0 30,-6 18,-1 4,-5 9,-33 0,-4 -2,-6 1,-4 2,-2 4,-1 6,1 4,4 6,9 4,1 6,-2 16,-13 4,-2 6,4 8,11 6,26 4,10 6,6 8,4 6,0 44,-1 62,-11 36,-4zM318,94l-6,1 -8,-3 -7,-4 -1,-2 0,-2 4,-3 6,-2 6,0 4,1 3,2 3,4 0,4zM283,312l7,-10 0,-8 -2,-7 -4,-6 -6,-5 -2,1 -2,4 -1,19 3,9 2,3 2,2z"/><path fill="#3085fc" fill-rule="evenodd" d="M518,442l-518,1 0,-406 36,0 34,2 30,4 42,8 20,1 22,-4 14,-3 5,-3 5,-6 1,-14 1,-5 4,-4 6,-4 6,-1 6,1 24,8 4,4 2,4 0,5 -1,4 -17,25 -11,13 -4,10 0,10 4,10 1,8 0,20 -3,12 -8,16 -31,44 -9,16 -3,10 -1,10 1,8 4,8 4,5 6,5 6,2 8,2 14,-1 28,-6 20,1 3,-6 5,-22 4,-12 0,-4 -2,-4 0,-4 2,-3 4,-1 6,1 4,4 6,8 4,1 6,-2 16,-11 4,-1 4,2 6,6 4,6 5,24 4,10 7,7 10,5 52,-1 62,-10 32,-3zM318,92l-6,2 -6,-2 -6,-4 -1,-2 0,-2 7,-4 8,0 4,2 2,4 0,4zM284,314l6,-10 1,-4 0,-6 -3,-8 -4,-7 -4,-4 -4,-2 -2,2 -1,5 0,22 3,9 2,4 2,1z"/><path fill="#298bfc" fill-rule="evenodd" d="M518,442l-518,1 0,-405 36,0 34,2 30,3 42,8 20,1 25,-4 11,-3 6,-2 5,-7 1,-14 1,-4 4,-4 5,-3 6,-1 4,1 22,6 4,2 5,7 0,4 -1,4 -16,24 -11,12 -4,12 -1,10 4,10 1,8 0,20 -3,12 -7,16 -31,44 -9,16 -4,10 -1,10 1,8 3,8 5,6 5,4 12,4 14,0 34,-6 10,0 10,4 2,-5 4,-27 4,-12 0,-4 -2,-6 2,-4 4,-1 4,0 4,2 8,11 2,0 4,0 4,-1 16,-11 4,0 4,2 5,4 4,6 6,26 4,10 7,7 10,4 52,1 62,-9 32,-4zM314,92l-4,0 -5,-2 -3,-4 0,-2 6,-3 4,0 4,1 2,3 1,3 -1,2zM284,316l7,-12 1,-10 -3,-8 -5,-9 -6,-6 -4,-3 -2,12 0,16 1,10 3,8 2,3 4,1z"/><path fill="#2391fc" fill-rule="evenodd" d="M518,442l-518,1 0,-404 38,0 34,2 28,3 42,8 20,0 29,-4 13,-4 4,-4 3,-4 1,-16 4,-4 4,-2 8,0 10,4 14,2 4,2 3,6 -1,6 -15,24 -11,12 -3,10 -1,10 3,14 1,20 -1,12 -3,10 -10,18 -30,42 -9,18 -2,10 0,8 2,8 3,6 4,5 6,4 12,4 14,0 32,-7 10,1 7,3 2,2 1,4 2,28 2,12 2,5 4,4 4,-2 2,-2 6,-13 1,-6 -3,-12 -4,-8 -8,-12 -2,-6 3,-24 4,-16 -2,-8 1,-2 4,-2 6,1 4,3 6,8 4,1 6,-2 14,-8 6,-1 4,2 5,4 3,6 6,24 4,10 8,9 10,4 18,1 20,2 14,0 64,-9 30,-3zM314,90l-4,0 -4,-2 -1,-2 1,-2 4,-1 5,1 1,4z"/><path fill="#1c99fc" fill-rule="evenodd" d="M518,442l-518,1 0,-402 38,-1 34,1 30,4 40,7 20,1 23,-3 19,-5 4,-3 3,-4 3,-6 0,-10 2,-2 4,-2 6,0 10,5 12,0 6,2 3,5 -1,4 -14,24 -13,14 -2,18 3,16 1,20 -2,16 -3,8 -6,10 -30,42 -10,18 -3,10 -1,10 1,8 3,8 4,5 6,5 12,4 14,0 32,-7 8,0 8,3 4,4 1,4 3,30 2,12 2,5 4,2 4,-1 2,-2 7,-14 1,-6 0,-6 -2,-6 -4,-9 -8,-15 -2,-8 1,-20 4,-16 0,-8 3,-3 4,0 4,2 8,9 4,1 5,-1 17,-8 4,0 4,2 5,4 3,6 6,25 4,9 8,9 10,4 36,4 16,0 94,-11zM312,88l-2,-2 3,0z"/><path fill="#179efa" fill-rule="evenodd" d="M518,442l-518,1 0,-400 38,-1 36,1 28,3 40,7 20,1 32,-4 10,-2 8,-6 8,-13 2,-1 4,0 10,4 10,-1 4,1 0,2 -3,12 -5,10 -6,7 -9,7 -1,2 1,4 -1,16 3,36 -1,10 -2,8 -11,20 -30,42 -9,18 -2,10 0,8 2,8 3,8 5,5 6,4 12,3 12,0 32,-8 10,1 6,2 4,5 2,6 5,42 3,8 4,6 6,-7 3,-5 6,-16 1,-6 -2,-10 -12,-28 -2,-10 0,-16 4,-22 1,-2 3,-1 6,1 8,9 4,1 6,-1 14,-7 6,0 4,2 4,4 3,6 6,24 4,10 9,10 10,5 34,6 16,1 96,-10z"/><path fill="#14a5f9" fill-rule="evenodd" d="M518,442l-518,0 0,-395 40,-2 36,0 28,3 40,6 18,1 42,-4 6,-3 10,-8 4,-2 8,0 8,2 2,6 -1,8 -5,6 -10,6 -3,4 2,12 -1,26 2,20 -2,16 -8,18 -31,42 -10,18 -4,12 -1,10 2,10 4,9 4,5 5,4 7,3 6,1 14,-1 22,-7 12,-2 8,0 7,4 5,8 2,14 1,38 -4,20 2,4 3,1 4,-1 7,-4 7,-7 6,-19 4,-18 1,-6 -1,-8 -6,-16 -8,-18 -2,-10 0,-14 3,-16 2,-4 3,-1 4,1 8,8 4,1 6,-1 14,-5 6,0 4,3 4,4 2,6 6,28 8,12 6,7 6,4 24,9 12,2 16,0 64,-6 34,-3z"/><path fill="#14adfb" fill-rule="evenodd" d="M518,442l-518,0 0,-392 40,-3 38,0 28,2 40,6 18,1 42,-3 6,-2 12,-9 6,0 7,2 2,4 -1,6 -6,6 -8,5 -2,3 2,18 -3,22 3,24 0,8 -3,8 -11,20 -31,42 -6,10 -4,10 -2,10 0,10 3,10 4,7 5,5 5,4 6,2 8,1 12,-1 22,-8 12,-3 10,1 6,3 5,9 2,10 1,8 -2,32 -4,16 -1,6 2,4 5,3 4,-1 5,-2 9,-6 4,-4 5,-10 6,-26 0,-10 -1,-8 -6,-18 -8,-18 -2,-10 0,-10 1,-10 2,-8 3,-3 4,0 8,7 4,2 6,-1 14,-5 6,1 4,3 3,4 2,6 6,28 7,13 6,8 6,5 24,14 8,2 10,0 66,-7 44,-3z"/><path fill="#11b5f6" fill-rule="evenodd" d="M518,442l-518,0 0,-390 38,-3 36,0 32,1 48,6 50,0 8,-1 10,-8 4,-2 4,0 4,2 2,3 -1,4 -5,6 -9,4 -1,4 3,18 -1,8 -3,12 4,24 0,8 -3,10 -5,10 -6,10 -32,42 -7,12 -3,10 -2,10 0,10 3,10 4,8 4,4 6,4 6,3 8,1 14,-2 22,-9 10,-3 10,0 7,4 3,4 3,8 2,16 -3,30 -6,22 2,6 6,3 6,-1 5,-2 11,-7 5,-5 5,-10 4,-20 1,-12 -1,-10 -7,-22 -8,-18 -2,-10 0,-18 3,-8 2,-2 2,-1 4,2 6,6 4,1 6,0 14,-4 4,0 4,2 3,4 3,6 5,28 5,11 12,17 18,17 6,4 10,1 62,-8 60,-3z"/><path fill="#0ebaf0" fill-rule="evenodd" d="M518,442l-518,0 0,-388 42,-3 40,-1 28,2 44,5 46,0 14,2 2,-1 5,-6 3,-3 4,0 4,1 0,4 -3,4 -3,2 -8,1 -1,1 1,6 4,12 1,6 -2,8 -4,12 5,24 -1,10 -2,8 -5,10 -6,10 -33,42 -6,12 -4,10 -2,12 0,10 3,10 4,8 6,6 6,4 6,1 8,1 14,-2 21,-10 9,-3 10,0 8,4 4,5 3,8 1,14 -3,30 -7,18 -1,6 3,5 6,3 6,0 6,-2 12,-7 6,-5 6,-10 4,-18 1,-12 -1,-12 -7,-24 -9,-20 -2,-12 0,-10 1,-8 2,-4 3,-2 4,1 6,6 4,2 6,-1 14,-3 4,0 4,3 3,4 2,6 4,24 3,9 10,18 18,25 4,5 4,2 10,0 32,-6 28,-4 32,-2 34,0z"/><path fill="#0abeea" fill-rule="evenodd" d="M518,442l-518,0 0,-386 46,-5 42,0 26,1 40,5 48,1 10,3 4,5 6,18 -1,8 -5,14 5,20 -1,14 -2,10 -7,12 -34,44 -7,12 -5,10 -3,14 0,12 2,10 5,10 5,5 6,4 6,2 8,1 8,-1 8,-2 20,-10 10,-4 10,0 8,4 3,5 4,10 1,14 -5,30 -6,16 -1,6 2,6 4,2 4,1 6,0 6,-2 12,-7 7,-6 5,-8 6,-20 1,-12 -2,-12 -8,-26 -8,-18 -2,-12 0,-16 2,-6 3,-1 4,1 6,6 4,1 20,-4 4,1 5,4 4,10 3,22 2,8 28,49 6,6 4,1 6,0 32,-8 28,-4 32,-2 38,0zM226,58l-2,0 -2,-2 0,-2 3,-2 3,0 1,2z"/><path fill="#06c2e3" fill-rule="evenodd" d="M518,442l-518,0 0,-385 46,-5 44,-1 26,2 38,5 46,1 7,1 4,2 5,7 6,15 -1,8 -6,14 5,22 -1,14 -3,10 -5,10 -35,44 -7,12 -5,10 -3,14 -1,12 3,12 6,10 5,5 6,3 6,2 8,1 8,-1 8,-2 20,-11 10,-3 10,0 8,4 4,6 2,8 1,14 -4,30 -7,16 -2,6 2,6 4,3 4,1 6,0 6,-2 12,-6 9,-6 4,-4 3,-6 5,-18 1,-12 -2,-12 -8,-28 -9,-20 -2,-10 0,-16 2,-4 3,-3 4,1 6,6 4,1 20,-3 4,1 4,3 5,10 2,22 2,8 20,38 7,16 3,4 3,2 8,0 34,-9 26,-3 34,-3 40,0z"/><path fill="#03c5db" fill-rule="evenodd" d="M518,442l-518,0 0,-384 50,-5 44,-1 24,2 36,4 46,2 6,1 4,2 6,8 5,13 -1,8 -5,10 0,4 5,22 -1,14 -3,10 -7,12 -33,42 -8,12 -5,10 -3,14 -1,14 3,12 6,10 6,5 6,3 6,2 8,1 8,-1 8,-3 19,-11 9,-3 10,-1 8,3 4,5 3,6 2,8 0,8 -5,32 -8,18 -1,6 3,6 4,3 6,1 8,-2 19,-10 9,-8 5,-10 4,-20 0,-10 -3,-12 -7,-24 -7,-16 -3,-10 -2,-12 1,-10 2,-3 4,-1 4,2 4,4 4,2 6,-1 12,-3 6,2 5,4 3,6 4,31 18,39 7,20 2,4 3,2 4,0 6,0 32,-9 26,-5 36,-2 42,0z"/><path fill="#02c7d2" fill-rule="evenodd" d="M518,442l-518,0 0,-383 50,-5 46,-1 22,1 36,4 44,2 8,2 4,2 6,8 5,12 -1,8 -5,10 -1,4 5,22 -1,14 -3,10 -7,12 -33,42 -8,12 -4,10 -4,14 -1,14 3,12 5,10 6,6 6,3 8,2 8,1 8,-1 8,-3 20,-12 8,-3 10,-1 8,4 4,4 3,8 2,8 0,8 -6,30 -9,18 0,8 2,4 6,4 6,0 8,-1 20,-11 7,-6 5,-8 6,-22 0,-10 -2,-12 -8,-26 -8,-17 -3,-9 -2,-12 1,-10 2,-3 4,-1 4,2 4,5 4,1 6,0 12,-3 6,1 4,4 2,4 2,8 3,24 17,40 7,24 3,4 4,1 6,0 34,-10 28,-5 34,-2 44,1z"/><path fill="#01cac9" fill-rule="evenodd" d="M518,442l-518,0 0,-382 50,-6 46,-1 24,1 34,4 44,3 6,1 5,2 6,8 5,12 0,6 -6,14 5,24 -1,14 -3,10 -6,10 -36,46 -7,12 -5,10 -4,14 0,14 3,12 6,10 6,6 6,3 8,2 8,0 16,-4 20,-12 8,-4 10,0 8,3 4,5 3,9 1,14 -5,30 -10,18 -1,8 2,4 6,4 8,1 8,-2 20,-10 9,-7 4,-8 7,-22 0,-10 -3,-10 -8,-28 -9,-18 -2,-8 -2,-12 1,-10 1,-2 4,-2 4,2 4,5 4,1 6,0 10,-3 6,1 6,4 3,6 3,30 17,42 4,24 3,4 2,1 6,1 6,0 32,-11 28,-4 36,-2 44,0z"/><path fill="#00ccc0" fill-rule="evenodd" d="M518,442l-518,0 0,-381 52,-6 46,-1 22,1 34,4 42,2 8,1 4,2 6,7 6,13 0,6 -7,14 5,24 0,14 -4,10 -5,10 -37,46 -7,12 -5,10 -4,14 0,14 3,12 5,10 6,6 6,4 8,2 8,0 8,-1 10,-3 18,-12 10,-4 10,-1 8,4 4,5 3,8 1,8 0,8 -6,28 -4,8 -7,12 -1,6 3,6 5,3 8,1 8,-1 21,-11 11,-8 5,-8 6,-22 -1,-12 -10,-36 -9,-18 -3,-9 -2,-13 1,-8 3,-3 2,-1 4,3 4,4 4,2 6,-1 10,-2 6,0 5,4 3,6 3,28 15,40 3,14 1,16 2,4 2,1 6,1 8,0 34,-11 28,-5 34,-1 46,1z"/><path fill="#00cdb8" fill-rule="evenodd" d="M518,442l-518,0 0,-380 52,-6 48,-2 96,8 8,1 4,2 4,4 4,6 4,11 -2,6 -6,12 5,24 0,14 -3,10 -7,12 -36,44 -6,10 -6,12 -4,16 0,14 3,12 6,11 6,5 6,4 8,2 8,0 8,-2 10,-3 19,-13 9,-4 10,-1 7,3 5,6 3,8 1,8 -1,8 -6,28 -3,7 -9,13 -1,6 3,6 7,4 8,1 8,-2 23,-11 10,-8 4,-6 8,-24 -1,-12 -11,-36 -9,-18 -4,-10 -2,-12 1,-8 3,-3 4,0 6,7 4,1 6,0 10,-3 6,1 4,3 4,8 2,26 13,40 3,16 1,18 3,3 8,2 10,-1 34,-11 28,-4 34,-2 46,2z"/><path fill="#00cfaf" fill-rule="evenodd" d="M518,442l-518,0 0,-379 54,-6 50,-2 92,8 7,1 5,3 8,9 3,10 -1,5 -5,9 -1,4 5,24 -1,14 -3,10 -5,10 -9,12 -28,34 -8,12 -6,12 -3,14 -1,14 3,13 6,11 6,6 8,4 8,2 8,0 10,-3 8,-3 20,-14 6,-3 10,-1 8,2 5,6 3,8 2,8 -1,8 -7,29 -4,8 -9,11 -1,8 4,6 6,3 8,1 10,-2 24,-12 11,-8 4,-6 8,-22 0,-10 -10,-26 -4,-16 -9,-18 -3,-8 -2,-12 1,-8 2,-2 4,0 6,6 4,1 6,0 10,-2 6,1 5,4 2,6 3,26 7,24 5,22 2,16 -2,14 3,4 7,1 16,-1 34,-11 28,-4 34,-1 46,2z"/><path fill="#00d0a6" fill-rule="evenodd" d="M518,442l-518,0 0,-377 56,-8 50,-2 76,7 18,2 8,4 7,8 4,10 -1,4 -6,10 -1,4 5,24 0,14 -3,10 -7,12 -36,44 -8,12 -6,12 -4,16 0,14 3,14 6,10 6,6 7,4 8,2 8,0 10,-2 10,-4 8,-5 10,-9 8,-4 10,-2 8,3 5,5 3,10 1,8 -1,8 -7,28 -4,6 -10,12 -2,8 3,6 8,4 10,1 10,-2 26,-13 12,-8 3,-4 9,-24 -1,-10 -10,-24 -5,-18 -8,-16 -4,-10 -2,-12 0,-8 2,-2 4,0 6,7 4,1 6,0 10,-3 6,1 4,4 3,6 2,26 8,28 3,34 -2,14 1,4 2,2 7,2 20,-2 34,-10 28,-4 34,-1 46,3z"/><path fill="#00d29d" fill-rule="evenodd" d="M518,442l-518,0 0,-376 56,-8 52,-2 16,1 55,5 21,3 7,3 7,8 4,10 -1,4 -6,10 -1,4 5,24 0,14 -3,10 -6,11 -9,11 -29,34 -9,14 -5,12 -4,16 0,14 3,14 7,12 6,5 8,4 8,2 8,-1 10,-2 12,-6 17,-14 7,-4 10,-1 8,3 4,4 4,10 1,8 -2,10 -7,26 -4,6 -12,12 -2,6 0,4 4,6 8,4 10,1 12,-3 29,-14 12,-8 4,-4 2,-6 6,-10 1,-6 0,-10 -12,-22 -7,-24 -11,-22 -4,-14 1,-8 3,-2 2,0 6,7 4,1 6,0 10,-2 6,1 3,3 3,6 1,24 6,20 1,10 2,38 -5,8 -1,4 1,2 6,4 7,2 24,-2 32,-9 28,-4 34,0 48,3z"/><path fill="#00d394" fill-rule="evenodd" d="M518,442l-518,0 0,-374 58,-9 52,-2 14,0 54,6 21,3 7,3 7,7 4,10 -1,4 -5,8 -2,6 6,26 -1,12 -3,10 -7,12 -37,44 -8,12 -7,14 -4,16 0,16 3,14 7,12 6,6 8,4 8,2 8,-1 12,-3 12,-6 8,-6 10,-10 6,-3 10,-2 8,3 4,6 4,10 0,8 -2,10 -7,24 -5,7 -11,9 -2,4 -2,6 1,6 3,4 5,3 6,2 8,0 10,-2 48,-23 18,-4 6,1 14,3 22,-2 36,-9 28,-3 34,0 46,4zM334,310l-4,-1 -6,-5 -6,-7 -4,-7 -4,-10 -3,-14 -10,-18 -5,-14 -1,-10 1,-2 2,-1 4,1 2,4 4,3 8,0 12,-2 4,1 4,5 2,9 0,18 5,18 1,10 -2,14 -2,6z"/><path fill="#00d48b" fill-rule="evenodd" d="M518,442l-518,0 0,-372 58,-9 28,-3 26,-1 14,1 50,5 24,4 6,3 6,7 4,9 -1,4 -6,8 -1,4 1,8 5,20 -1,14 -4,10 -5,9 -40,47 -9,14 -5,12 -4,16 -1,16 3,14 8,13 6,6 8,4 8,2 10,-1 12,-4 14,-7 6,-5 9,-10 7,-5 10,-1 8,3 4,5 3,10 1,8 -2,10 -8,24 -5,6 -12,10 -4,6 -2,6 1,6 4,4 4,3 6,2 10,0 10,-2 48,-22 12,-1 10,-3 18,3 22,-2 34,-9 28,-2 34,1 48,5zM332,301l-4,0 -6,-3 -4,-5 -4,-7 -6,-21 -10,-17 -4,-11 -2,-11 0,-3 2,-2 3,1 5,7 8,1 14,-2 4,1 3,5 2,8 0,18 4,18 1,8 -2,10z"/><path fill="#00d482" fill-rule="evenodd" d="M518,442l-518,0 0,-370 60,-10 30,-3 26,-1 60,6 24,5 6,3 5,6 4,8 -1,2 -5,8 -2,6 1,8 5,20 -1,14 -3,10 -6,10 -40,46 -8,12 -7,14 -5,18 0,16 4,16 7,13 6,5 8,5 8,2 10,-1 12,-4 16,-9 8,-7 8,-10 6,-4 6,-2 4,0 8,4 6,10 1,10 -1,10 -7,22 -5,8 -12,8 -6,6 -3,4 -2,6 0,6 5,6 6,4 6,1 10,0 10,-2 8,-3 18,-10 22,-9 24,-4 18,2 22,-1 34,-8 26,-2 34,2 50,6zM330,295l-4,1 -4,-2 -6,-8 -3,-8 -4,-14 -12,-22 -4,-14 0,-4 1,-2 2,0 4,7 2,2 8,0 14,-2 3,1 3,4 2,8 -1,18 5,22 -2,9z"/><path fill="#00d479" fill-rule="evenodd" d="M518,442l-518,0 0,-368 60,-11 30,-3 26,-2 58,6 26,6 5,2 5,6 3,8 -6,10 -1,6 6,28 0,14 -4,10 -6,10 -41,46 -9,14 -6,14 -5,18 0,18 4,16 7,12 6,6 8,5 8,2 10,0 12,-5 18,-11 8,-7 7,-10 7,-5 4,-2 6,0 4,1 4,3 5,9 2,10 -2,10 -7,22 -6,8 -13,8 -7,6 -3,4 -3,6 0,6 3,6 7,5 8,2 10,0 12,-2 10,-4 18,-10 26,-9 22,-3 16,1 22,-1 40,-8 18,0 22,1 64,8zM296,231l-2,-5 0,-2 2,-1 2,7zM328,291l-6,-1 -6,-8 -5,-18 -12,-22 -2,-10 1,-2 4,2 22,-2 2,0 3,4 1,8 0,18 3,20 -1,7z"/><path fill="#02d471" fill-rule="evenodd" d="M518,442l-518,0 0,-366 32,-7 30,-5 30,-3 26,-2 56,6 26,6 4,2 4,5 3,6 -1,4 -4,6 -1,6 1,8 6,24 0,8 -2,8 -5,10 -7,10 -31,34 -11,14 -11,18 -6,18 -2,16 2,14 4,14 7,11 8,8 8,4 8,2 8,0 12,-6 22,-16 8,-7 7,-10 5,-5 4,-1 6,-1 4,2 4,3 5,8 1,10 -2,10 -7,22 -3,5 -4,3 -23,14 -5,6 -2,6 1,8 5,6 6,4 8,2 10,0 10,-2 14,-5 18,-10 8,-3 18,-6 22,-3 20,1 18,-1 34,-6 24,-1 32,3 56,8zM326,287l-4,-1 -5,-6 -4,-18 -9,-13 -3,-7 -1,-6 2,-2 20,-4 4,2 2,3 1,7 -2,18 4,18 -1,6z"/><path fill="#04d268" fill-rule="evenodd" d="M518,442l-518,0 0,-364 32,-7 30,-6 30,-3 28,-2 55,6 25,7 5,3 3,8 -4,10 0,6 7,34 -2,14 -5,10 -6,9 -35,37 -14,20 -7,12 -5,14 -2,12 -1,12 1,10 3,10 8,16 6,7 8,7 8,3 6,2 10,-2 8,-4 32,-29 8,-12 4,-4 6,-2 4,0 5,2 4,4 4,8 1,10 -3,10 -9,22 -6,6 -28,14 -5,4 -2,4 -1,6 1,6 4,6 4,4 7,4 6,2 14,0 10,-3 10,-4 28,-14 24,-7 22,-4 18,1 20,-1 36,-5 18,0 20,2 70,12zM326,281l-4,0 -2,-2 -2,-5 -2,-12 -12,-18 -1,-6 3,-3 16,-3 2,0 3,4 0,8 -3,18 4,14 0,3z"/><path fill="#05ce61" fill-rule="evenodd" d="M518,442l-518,0 0,-362 32,-8 30,-5 32,-5 26,-2 54,6 26,9 4,3 1,6 -3,6 -1,4 9,36 0,8 -2,10 -4,8 -6,10 -36,38 -16,22 -6,12 -5,12 -3,14 0,12 1,12 2,10 5,11 6,9 8,8 8,6 10,5 8,1 6,-1 4,-3 16,-20 20,-20 5,-10 4,-4 5,-3 4,0 6,1 4,4 4,8 1,10 -3,10 -9,22 -3,3 -6,4 -35,11 -3,2 -3,4 -1,8 3,8 5,8 6,5 6,4 8,2 8,1 10,-2 18,-6 30,-16 24,-7 20,-3 38,0 28,-4 14,-1 20,1 26,4 58,12zM320,256l-2,1 -4,-3 -7,-8 -2,-6 1,-2 3,-2 11,-3 3,1 2,2 1,4 -1,6 -3,8zM324,276l-2,-2 2,-1z"/><path fill="#06c85a" fill-rule="evenodd" d="M518,442l-518,0 0,-361 32,-8 30,-6 32,-4 26,-2 54,6 18,7 8,2 3,2 0,4 -4,8 11,40 0,10 -2,8 -5,10 -7,10 -35,36 -16,22 -6,12 -5,12 -3,14 -1,12 1,12 2,10 4,10 6,10 7,9 8,7 27,16 10,24 4,6 7,6 7,4 9,3 8,0 10,-1 18,-6 32,-18 26,-7 18,-3 38,0 38,-4 18,1 22,3 68,15zM320,253l-4,0 -6,-5 -3,-6 1,-4 4,-2 8,-2 4,2 1,4 0,4 -3,7zM214,344l-10,0 -6,-2 -2,-2 0,-4 5,-12 8,-12 17,-18 6,-10 3,-4 7,-3 8,2 7,7 2,6 0,6 -2,10 -9,22 -4,5 -6,3 -14,4z"/><path fill="#07c253" fill-rule="evenodd" d="M518,442l-518,0 0,-360 32,-8 30,-6 30,-5 28,-2 54,6 27,11 0,4 -3,4 -1,4 4,10 8,28 1,10 -3,10 -4,10 -7,9 -36,37 -16,22 -6,12 -6,14 -3,14 0,12 1,12 2,10 4,10 6,11 12,14 24,19 15,24 11,10 8,4 8,2 8,1 10,-1 18,-7 34,-19 26,-6 18,-3 38,0 36,-4 16,1 18,3 76,16zM320,250l-4,1 -6,-5 -1,-4 1,-4 8,-3 5,1 1,2 0,5 -2,5zM218,342l-10,-1 -5,-3 -2,-6 2,-8 7,-12 17,-18 7,-12 6,-4 8,0 4,2 4,6 3,10 -2,10 -9,23 -4,5 -4,3 -12,3z"/><path fill="#09bf4b" fill-rule="evenodd" d="M518,442l-518,0 0,-359 34,-9 30,-6 32,-5 26,-2 38,4 16,3 9,4 13,8 -3,8 6,12 8,30 0,10 -2,8 -5,10 -6,9 -36,37 -17,22 -6,12 -6,14 -3,14 -1,14 1,12 3,12 4,10 6,10 11,13 20,19 18,24 10,9 8,4 9,3 9,1 10,-1 18,-7 34,-19 31,-8 15,-3 38,1 34,-4 30,3 82,18zM318,249l-6,-3 -2,-4 1,-2 2,-2 7,-2 2,2 1,4 -2,4zM224,340l-10,0 -4,-1 -4,-3 -2,-6 2,-8 6,-10 16,-18 6,-12 6,-4 4,-1 4,1 6,5 4,9 0,8 -2,9 -10,23 -8,5z"/><path fill="#0bbd43" fill-rule="evenodd" d="M518,442l-518,0 0,-357 32,-9 30,-7 34,-5 26,-2 52,6 10,4 5,4 4,4 0,10 7,10 8,28 1,10 -2,8 -4,10 -7,10 -39,40 -16,22 -7,12 -5,14 -3,14 -1,14 1,12 3,12 5,12 5,10 9,12 19,20 16,20 11,10 8,5 9,3 9,2 10,-1 10,-2 10,-4 38,-23 36,-8 14,-2 36,1 28,-3 26,2 26,5 64,16zM318,244l-2,0 -2,-2 1,-2 3,-1 2,1 0,2zM228,338l-10,0 -6,-2 -4,-6 0,-8 6,-10 15,-18 6,-12 5,-4 6,0 6,3 5,7 1,8 -1,8 -11,26 -6,5z"/><path fill="#0dbb3a" fill-rule="evenodd" d="M518,442l-518,0 0,-356 32,-9 30,-7 32,-5 27,-3 23,2 28,4 10,4 7,6 2,4 1,8 5,6 3,6 7,24 1,10 -1,10 -5,10 -7,10 -39,40 -17,22 -7,14 -5,14 -3,14 -1,14 1,12 2,12 5,12 6,12 11,15 26,31 16,15 9,5 9,3 10,2 10,-1 10,-2 12,-5 38,-24 36,-9 14,-2 34,1 26,-2 22,2 26,5 72,19zM232,336l-10,1 -7,-3 -4,-6 0,-6 4,-10 15,-18 3,-8 2,-4 5,-3 6,0 6,3 4,6 2,6 -1,8 -11,28 -6,4z"/><path fill="#10b831" fill-rule="evenodd" d="M518,442l-518,0 0,-355 32,-9 28,-6 32,-6 28,-4 24,2 28,5 9,3 6,6 4,12 8,12 7,22 2,12 -2,10 -4,10 -7,10 -40,40 -17,22 -8,14 -5,14 -3,14 -1,14 0,14 3,12 5,14 6,12 11,16 18,23 11,11 11,9 10,6 10,3 10,2 10,-1 10,-2 10,-4 36,-24 12,-5 42,-9 38,1 24,-2 16,2 28,5 76,21zM236,335l-10,0 -8,-2 -4,-5 -1,-6 4,-10 13,-18 4,-10 5,-4 5,-1 6,2 5,5 2,6 0,8 -2,8 -9,20 -4,4z"/><path fill="#15b62b" fill-rule="evenodd" d="M518,442l-518,0 0,-353 32,-9 30,-7 32,-7 26,-3 24,2 26,4 9,3 6,6 4,12 8,10 4,8 6,24 0,8 -1,6 -5,10 -7,10 -41,40 -17,22 -8,14 -5,14 -4,14 -1,16 0,14 3,14 5,14 6,13 10,16 15,19 11,12 12,10 10,6 12,4 10,2 12,-1 10,-2 12,-6 33,-23 13,-6 44,-10 36,2 22,-2 14,1 26,5 84,25zM240,332l-10,2 -8,-2 -4,-4 -2,-6 3,-10 11,-16 5,-12 5,-4 4,-1 6,3 4,4 3,6 0,6 -2,8 -9,20 -2,3z"/><path fill="#1bb425" fill-rule="evenodd" d="M518,442l-518,0 0,-350 33,-10 31,-8 41,-8 21,-2 34,4 16,4 7,6 5,12 9,12 9,30 0,10 -3,8 -4,8 -7,9 -39,37 -11,12 -9,12 -8,14 -6,14 -4,14 -2,14 0,16 2,16 5,16 6,15 10,17 12,16 12,14 12,9 12,7 12,4 14,2 12,-1 12,-3 10,-5 34,-27 14,-7 18,-3 16,-5 12,-2 36,2 26,0 24,5 60,21 34,10zM240,330l-8,1 -6,-1 -5,-4 -1,-6 2,-8 10,-17 3,-9 4,-4 5,-2 5,2 4,4 3,6 1,6 -3,9 -10,19z"/><path fill="#23b221" fill-rule="evenodd" d="M518,442l-518,0 0,-347 34,-11 30,-8 36,-8 26,-3 32,3 18,6 5,4 7,14 9,12 8,28 0,10 -4,10 -11,16 -39,36 -20,24 -9,14 -6,14 -5,14 -3,16 0,16 1,18 5,16 6,16 10,18 11,16 13,14 12,9 12,7 14,5 14,2 14,-1 12,-4 12,-6 10,-8 21,-20 9,-6 6,-3 20,-3 16,-5 12,-2 36,2 22,0 22,5 60,24 40,13zM238,328l-6,1 -6,-3 -2,-4 -1,-6 2,-6 11,-24 4,-4 4,-1 4,1 4,4 3,6 1,6 -2,8 -10,17 -2,3z"/><path fill="#2bb01d" fill-rule="evenodd" d="M518,442l-518,0 0,-344 35,-12 29,-8 40,-10 22,-3 32,4 16,5 4,4 9,14 9,12 8,28 0,10 -4,10 -5,8 -7,8 -40,36 -20,24 -9,14 -8,16 -5,16 -3,16 -1,18 2,17 4,17 7,18 9,17 11,15 11,12 14,11 14,8 16,5 16,2 16,-3 12,-4 12,-8 10,-9 17,-18 13,-10 8,-2 18,-2 20,-7 16,-1 26,3 20,1 11,2 16,6 53,23 44,15zM240,324l-4,2 -6,-2 -3,-4 0,-6 9,-26 4,-5 4,-1 4,2 4,3 3,5 0,6 -3,10z"/><path fill="#32b018" fill-rule="evenodd" d="M518,442l-518,0 0,-340 31,-12 33,-11 38,-9 24,-4 32,4 14,5 4,3 20,28 6,20 2,8 -1,8 -4,10 -11,15 -44,39 -21,24 -10,16 -8,16 -5,16 -3,16 -1,18 2,18 4,18 7,18 9,17 11,15 13,14 13,10 17,9 16,4 18,2 16,-3 14,-6 12,-8 10,-11 15,-19 7,-6 6,-4 8,-3 18,-1 20,-8 14,-1 46,5 8,2 14,6 54,27 24,9 26,9zM236,322l-4,-1 -2,-3 -1,-4 1,-6 8,-21 4,-3 4,0 4,2 3,4 2,4 -1,6 -2,6 -4,6 -8,9z"/><path fill="#39b012" fill-rule="evenodd" d="M178,442l-178,0 0,-337 33,-13 30,-10 37,-10 26,-5 30,4 14,4 5,5 19,24 3,8 6,20 0,8 -4,10 -5,8 -6,7 -49,43 -13,14 -11,14 -11,18 -7,18 -5,18 -2,18 0,22 5,22 7,20 11,20 13,17 16,15 18,11zM240,317l-4,0 -2,-1 -1,-4 0,-6 6,-18 3,-3 4,0 4,2 2,3 2,4 0,5 -4,8zM518,442l-296,0 14,-6 14,-10 10,-12 14,-22 10,-9 10,-4 18,0 16,-8 14,-3 15,2 33,6 8,2 12,6 30,19 20,10 28,12 30,9z"/><path fill="#41b210" fill-rule="evenodd" d="M152,442l-152,0 0,-333 30,-13 33,-12 35,-10 26,-5 18,0 16,3 6,2 7,4 22,26 3,8 6,22 0,6 -3,8 -9,14 -12,11 -42,35 -14,14 -11,14 -10,16 -7,14 -6,16 -4,16 -2,20 2,22 4,20 8,20 10,18 12,16 17,16 19,12zM242,312l-4,1 -2,-2 -1,-3 0,-6 5,-13 2,-2 4,-1 4,3 2,2 1,7 -3,8zM510,442l-270,0 10,-8 8,-9 7,-11 9,-18 8,-10 6,-3 6,-2 20,2 14,-10 6,-2 8,-1 16,2 34,8 10,6 26,20 18,11 28,12z"/><path fill="#49b50f" fill-rule="evenodd" d="M138,442l-138,0 0,-330 32,-14 31,-12 40,-12 23,-4 16,0 14,2 6,2 7,4 23,26 3,8 6,22 0,6 -3,8 -9,14 -11,10 -45,36 -14,14 -11,14 -11,16 -8,14 -6,16 -4,16 -3,20 1,20 3,20 7,20 9,18 12,18 13,14 18,14zM240,310l-2,-1 -1,-3 1,-10 4,-8 4,0 4,2 2,3 0,7 -2,4 -4,4zM482,442l-232,0 8,-8 5,-8 5,-10 8,-20 4,-6 4,-4 6,-3 6,0 7,1 11,4 2,-1 7,-9 5,-4 6,-2 8,-1 16,2 30,10 7,5 19,19 14,10 22,12 33,13z"/><path fill="#52b60e" fill-rule="evenodd" d="M130,442l-130,0 0,-327 36,-17 31,-12 39,-12 20,-4 16,1 14,2 11,5 19,19 6,8 7,21 2,10 -3,12 -10,14 -12,11 -45,35 -14,14 -12,14 -10,14 -9,16 -6,14 -4,16 -4,20 0,20 3,20 6,20 8,18 11,18 14,16zM242,308l-2,0 -2,-2 0,-8 3,-8 5,-2 5,4 1,6 -4,7zM464,442l-208,0 11,-16 4,-10 5,-18 4,-6 3,-4 7,-3 8,-1 18,8 5,-10 5,-5 8,-4 8,-1 8,0 10,3 26,11 4,4 12,17 12,10 20,12 31,13z"/><path fill="#5bb70d" fill-rule="evenodd" d="M120,442l-120,0 0,-325 40,-19 42,-16 38,-10 22,0 14,2 7,2 5,4 20,20 4,6 2,6 6,18 0,8 -4,12 -10,13 -10,9 -44,34 -15,14 -15,16 -10,14 -9,16 -6,14 -5,16 -4,18 -1,20 2,20 6,20 7,18 10,18 14,17 15,15zM244,307l-4,-1 -1,-6 2,-8 3,-3 2,0 4,3 2,6 -2,4zM444,442l-182,0 6,-9 4,-10 6,-25 6,-9 6,-3 8,-1 7,3 7,5 4,1 3,-2 3,-8 4,-6 7,-4 9,-2 8,1 10,3 19,10 5,6 6,17 7,9 16,10 32,14z"/><path fill="#64b90c" fill-rule="evenodd" d="M112,442l-112,0 0,-322 39,-20 41,-16 40,-11 22,-1 14,2 6,3 25,23 4,6 3,6 5,18 0,8 -3,12 -10,12 -12,11 -44,33 -16,14 -13,14 -11,14 -9,16 -8,16 -5,14 -4,18 -1,20 1,20 4,20 7,18 10,18 13,18 15,16zM246,305l-4,0 -2,-2 -1,-3 3,-8 4,-2 4,3 1,3 -1,5zM420,442l-152,0 7,-18 4,-26 5,-8 6,-3 8,0 6,2 8,7 4,1 4,-3 3,-10 5,-6 6,-3 8,-2 8,1 8,3 8,3 8,6 4,6 2,20 3,8 3,5 10,8z"/><path fill="#6cbb0a" fill-rule="evenodd" d="M106,442l-106,0 0,-320 43,-22 40,-16 37,-11 24,0 12,2 6,2 25,23 4,6 2,6 6,18 0,8 -4,12 -11,14 -56,42 -16,14 -13,14 -11,14 -11,16 -7,14 -6,16 -4,18 -2,20 2,20 4,20 7,20 9,17 12,17zM244,304l-3,-2 -1,-4 2,-5 4,-2 4,3 1,4 -3,5zM390,442l-117,0 5,-16 2,-14 0,-10 1,-6 5,-6 4,-2 4,-1 8,3 10,8 4,1 4,-3 5,-14 7,-6 6,-2 6,0 15,4 10,6 5,6 1,6 -1,24 1,8 5,8z"/><path fill="#75bd09" fill-rule="evenodd" d="M98,442l-98,0 0,-318 42,-22 44,-18 34,-10 27,0 9,2 6,2 9,10 9,6 8,8 6,12 4,16 1,8 -5,12 -10,13 -12,10 -46,33 -16,14 -14,14 -11,14 -10,14 -8,16 -6,14 -4,18 -3,20 1,20 3,20 6,18 9,18 11,18 16,18zM246,303l-4,-1 -1,-4 1,-4 4,-2 2,0 2,4 -1,4zM368,442l-89,0 3,-16 -1,-24 3,-8 4,-4 8,-1 6,2 10,9 4,1 4,-2 2,-3 5,-14 7,-6 6,-1 6,0 15,5 7,6 3,4 1,4 -1,14 -7,22 1,6z"/><path fill="#7ebf08" fill-rule="evenodd" d="M92,442l-92,0 0,-315 45,-25 22,-10 22,-8 33,-9 18,-1 12,1 6,2 4,2 8,9 12,8 7,8 4,8 5,18 0,8 -2,8 -6,10 -8,8 -61,44 -18,16 -15,16 -13,18 -12,20 -7,18 -5,20 -1,16 0,16 2,16 4,16 6,16 8,14 10,16 13,16zM248,301l-4,1 -2,-2 0,-4 2,-3 4,0 2,3zM350,442l-65,0 1,-14 -3,-26 1,-6 2,-3 4,-3 6,0 6,3 10,9 6,1 4,-3 6,-18 6,-5 6,-1 7,0 7,2 7,4 8,8 1,6 -1,6 -4,10 -13,18 -1,6 1,6z"/><path fill="#86c207" fill-rule="evenodd" d="M86,442l-86,0 0,-313 25,-15 23,-12 22,-10 21,-8 31,-9 18,0 12,1 6,2 4,2 8,9 12,8 7,9 4,8 5,18 0,6 -3,8 -5,9 -10,10 -61,43 -18,16 -16,16 -14,18 -11,18 -7,18 -6,20 -2,16 0,16 2,18 4,16 6,16 7,14 10,16 13,16zM246,301l-2,-1 -1,-2 1,-3 2,-1 2,0 1,2 -1,3zM334,442l-41,0 -2,-10 -6,-28 0,-6 3,-5 4,-2 6,1 5,4 9,10 6,2 3,-2 2,-4 5,-18 3,-4 3,-2 8,-2 8,1 8,4 6,5 2,4 1,6 -1,6 -2,6 -8,9 -18,11 -4,6z"/><path fill="#8fc506" fill-rule="evenodd" d="M80,442l-80,0 0,-310 43,-26 21,-10 24,-10 18,-6 16,-4 18,-1 12,2 8,3 10,10 12,7 7,9 3,8 5,18 0,6 -2,8 -7,10 -8,8 -63,44 -19,16 -16,16 -14,18 -11,18 -9,18 -5,20 -2,16 0,16 2,18 4,16 5,16 7,14 10,16 12,16zM248,298l-2,1 -2,-1 1,-2 1,-1 2,1zM346,416l-10,2 -6,-1 -4,-3 -1,-2 3,-26 4,-6 6,-3 8,0 8,3 8,6 3,6 0,8 -4,8 -7,6zM308,434l-4,-1 -6,-5 -8,-12 -4,-14 1,-6 3,-3 6,0 5,3 16,22 0,4 -2,6 -3,4z"/><path fill="#97c804" fill-rule="evenodd" d="M74,442l-74,0 0,-308 25,-16 21,-12 21,-10 24,-10 19,-6 14,-3 18,-1 12,2 6,3 9,9 11,6 9,10 3,8 5,18 -1,8 -2,7 -6,9 -10,9 -63,43 -20,16 -16,16 -14,16 -11,18 -9,18 -6,20 -3,16 0,16 1,16 4,18 5,16 8,16 9,16 12,16zM348,412l-14,0 -4,-3 -2,-3 -1,-8 1,-10 3,-6 5,-3 8,-1 8,2 6,4 4,6 1,6 -3,8 -4,5zM302,419l-6,-2 -6,-8 -2,-9 2,-4 2,-1 6,1 4,4 2,4 2,6 0,4 -2,4z"/><path fill="#a0c904" fill-rule="evenodd" d="M68,442l-68,0 0,-305 22,-15 24,-14 19,-10 23,-10 20,-7 14,-3 18,-1 12,1 6,2 10,10 12,7 8,9 4,8 4,18 0,6 -2,8 -6,9 -10,10 -65,43 -20,16 -17,16 -14,16 -12,18 -9,18 -7,20 -2,16 -1,16 2,16 3,16 5,16 7,16 10,18 11,16zM352,408l-6,2 -8,-1 -4,-1 -4,-4 -1,-6 0,-8 2,-6 3,-4 6,-2 8,1 6,3 5,6 2,6 -1,6 -4,6zM300,411l-4,0 -4,-4 -2,-5 2,-5 4,0 4,3 2,6z"/><path fill="#a9cb04" fill-rule="evenodd" d="M64,442l-64,0 0,-302 22,-16 23,-14 18,-10 23,-10 20,-7 14,-4 20,-1 12,1 6,2 10,10 12,6 8,9 3,8 5,18 0,8 -4,8 -6,9 -10,8 -65,43 -21,16 -17,16 -16,18 -11,16 -9,18 -6,18 -3,16 -1,16 1,18 3,16 6,18 7,16 9,16zM350,407l-6,1 -6,-1 -4,-2 -3,-3 -1,-6 0,-8 2,-5 4,-3 6,-1 6,1 6,4 4,4 1,4 0,6 -3,5zM298,404l-2,2 -2,-2 0,-3 2,-1 2,2z"/><path fill="#b2cc04" fill-rule="evenodd" d="M58,442l-58,0 0,-300 22,-16 22,-14 22,-12 20,-9 18,-7 16,-4 20,-2 12,2 6,2 10,9 12,7 7,8 4,8 4,18 0,8 -3,8 -6,8 -10,9 -68,43 -21,16 -18,16 -15,16 -11,16 -10,18 -6,18 -3,16 -1,16 0,16 3,18 5,16 6,16 10,18 12,18zM350,405l-10,0 -7,-3 -2,-6 -1,-6 1,-4 3,-4 6,-2 6,0 7,4 3,4 2,4 -1,6 -3,4z"/><path fill="#bace02" fill-rule="evenodd" d="M52,442l-52,0 0,-296 23,-18 21,-14 21,-12 21,-10 20,-7 14,-4 20,-2 12,2 6,2 10,9 12,6 7,8 3,8 5,20 0,6 -4,8 -7,9 -10,9 -69,42 -22,16 -18,16 -16,16 -12,16 -9,16 -7,18 -3,16 -2,18 1,16 3,18 6,18 6,16 8,15zM348,403l-6,0 -4,0 -5,-5 -1,-4 0,-6 2,-4 2,-2 4,-1 6,1 5,2 3,4 1,4 0,4 -2,4z"/><path fill="#c3cf01" fill-rule="evenodd" d="M44,442l-44,0 0,-292 22,-18 20,-14 23,-14 20,-10 20,-8 15,-4 22,-2 10,2 6,3 9,7 11,5 8,9 4,8 5,20 -1,6 -3,8 -7,8 -10,9 -72,43 -24,16 -19,16 -17,16 -11,14 -9,16 -8,18 -3,16 -2,16 1,18 3,18 4,16 7,18 10,18 11,18zM348,400l-6,1 -6,-3 -3,-4 0,-4 1,-4 2,-3 4,-1 4,0 4,2 4,4 1,6 -2,4z"/><path fill="#ccd000" fill-rule="evenodd" d="M36,442l-36,0 0,-287 19,-17 21,-16 18,-12 22,-12 20,-9 18,-5 24,-2 10,1 4,2 10,7 12,6 8,8 3,8 5,20 -1,6 -3,8 -8,9 -10,8 -75,43 -24,16 -21,16 -15,14 -14,16 -9,14 -6,16 -4,16 -2,16 0,18 3,18 4,16 6,18 10,20 13,20zM346,398l-6,0 -4,-3 -1,-3 -1,-4 3,-4 3,-1 4,1 5,4 1,6z"/><path fill="#d5d000" fill-rule="evenodd" d="M0,293l0,-132 1,-1 25,-24 26,-20 27,-16 29,-12 16,-4 18,-1 8,1 6,2 10,7 10,4 6,5 6,10 6,22 -3,10 -7,11 -16,12 -79,43 -26,16 -20,14 -16,14 -11,12 -10,14zM30,442l-30,0 0,-62 5,16 7,16zM346,394l-4,2 -4,-2 -2,-4 1,-4 3,-1 5,1 2,4z"/><path fill="#ded000" fill-rule="evenodd" d="M0,269l0,-100 15,-17 14,-14 21,-18 22,-14 23,-12 21,-7 24,-3 10,1 6,2 11,7 9,4 6,4 6,10 5,24 -3,10 -8,10 -18,12 -77,40 -46,26 -25,18 -9,8zM342,392l-3,-2 0,-2 1,-1 3,1 0,2zM22,442l-22,0 0,-40 10,20z"/><path fill="#e7ce00" fill-rule="evenodd" d="M0,250l0,-73 11,-15 12,-14 26,-24 16,-12 21,-12 18,-8 16,-4 22,-3 8,1 26,12 7,6 5,10 4,22 -1,6 -3,6 -10,10 -20,12 -129,64zM14,442l-14,0 0,-25 15,25z"/><path fill="#f0cd00" fill-rule="evenodd" d="M12,230l-12,0 0,-41 11,-19 14,-20 16,-16 19,-16 14,-10 19,-10 15,-6 14,-4 20,-2 8,1 26,12 6,5 5,10 5,22 -2,6 -3,6 -11,11 -26,14 -76,35 -38,15zM8,442l-8,0 0,-13z"/><path fill="#f9ca00" fill-rule="evenodd" d="M34,216l-14,0 -6,-1 -3,-3 -3,-4 -1,-6 2,-14 8,-18 11,-18 16,-18 19,-16 15,-10 18,-10 14,-6 12,-2 20,-2 8,0 26,11 6,5 5,10 4,22 -3,10 -10,11 -10,6 -14,7 -58,26 -36,14zM0,442l0,-1 1,1z"/><path fill="#fcc500" fill-rule="evenodd" d="M64,196l-14,0 -11,-4 -3,-4 -2,-4 -1,-10 4,-14 9,-16 12,-14 16,-14 18,-11 16,-8 12,-3 22,-3 10,1 22,8 4,2 4,4 4,8 4,22 -4,10 -8,8 -20,12 -36,14 -34,11z"/><path fill="#fcbc05" fill-rule="evenodd" d="M106,176l-16,2 -14,-2 -9,-4 -5,-6 -1,-10 3,-10 7,-12 8,-10 9,-8 12,-8 12,-6 12,-3 18,-3 8,0 22,5 6,3 3,4 3,6 3,20 -2,8 -5,7 -10,7 -16,7 -24,7z"/><path fill="#fcb408" fill-rule="evenodd" d="M114,170l-14,1 -12,-1 -9,-4 -5,-5 -2,-7 1,-10 5,-10 8,-10 10,-8 12,-8 12,-5 16,-4 10,-1 8,0 18,4 6,3 4,9 3,18 -1,8 -4,6 -10,8 -14,6 -22,6z"/><path fill="#fcab08" fill-rule="evenodd" d="M118,166l-14,1 -10,-2 -8,-4 -5,-5 -1,-8 1,-8 6,-10 7,-8 10,-8 10,-6 11,-4 15,-4 8,-1 10,1 14,3 6,3 4,8 2,18 -1,8 -4,6 -9,6 -14,6 -20,5z"/><path fill="#fca208" fill-rule="evenodd" d="M126,162l-12,1 -10,-1 -8,-3 -6,-5 -3,-6 1,-8 3,-8 6,-8 9,-8 10,-6 24,-8 8,-1 10,0 14,2 5,3 4,8 2,16 -1,8 -3,6 -7,6 -10,4 -18,5z"/><path fill="#fc9908" fill-rule="evenodd" d="M134,158l-12,1 -10,-1 -8,-2 -6,-4 -3,-6 0,-6 1,-6 5,-8 6,-6 9,-6 12,-6 12,-4 8,-1 10,0 12,1 6,2 4,8 2,14 0,8 -4,7 -6,5 -10,4z"/><path fill="#fb9008" fill-rule="evenodd" d="M144,154l-22,1 -8,-2 -6,-3 -4,-4 -2,-6 1,-6 3,-6 5,-6 8,-6 11,-6 10,-4 16,-2 12,0 6,2 4,4 2,9 1,13 -2,8 -5,5 -6,3z"/><path fill="#f98708" fill-rule="evenodd" d="M144,152l-18,0 -8,-2 -5,-2 -4,-4 -1,-4 0,-6 3,-6 5,-6 6,-5 18,-9 16,-3 12,0 6,2 4,5 2,10 0,12 -2,6 -4,4 -6,3z"/><path fill="#f67e08" fill-rule="evenodd" d="M144,150l-16,0 -6,-2 -6,-4 -3,-4 -1,-4 1,-4 3,-6 12,-10 17,-8 15,-2 9,0 5,2 4,6 1,10 0,10 -3,6 -4,4 -6,2z"/><path fill="#f47608" fill-rule="evenodd" d="M150,148l-16,0 -12,-3 -3,-3 -2,-4 -1,-4 2,-6 5,-6 5,-4 16,-9 16,-3 8,0 6,2 3,4 2,10 -1,10 -2,7 -3,3 -5,2z"/><path fill="#f16d08" fill-rule="evenodd" d="M154,146l-16,1 -12,-4 -4,-3 -2,-4 2,-8 4,-6 5,-4 15,-8 14,-3 12,1 4,4 2,8 0,10 -2,8 -6,5z"/><path fill="#ef6408" fill-rule="evenodd" d="M158,144l-16,1 -12,-3 -3,-2 -2,-4 -1,-4 1,-4 5,-6 4,-4 12,-7 14,-3 12,1 3,3 2,8 1,8 -2,8 -2,3 -4,2z"/><path fill="#ee5b08" fill-rule="evenodd" d="M164,142l-16,2 -12,-2 -4,-2 -4,-4 -1,-4 1,-4 6,-8 13,-8 13,-4 8,0 4,1 3,3 2,6 0,8 -1,6 -1,4 -3,3z"/><path fill="#ed5208" fill-rule="evenodd" d="M150,142l-12,-2 -6,-4 -1,-6 2,-6 6,-6 11,-6 12,-3 10,1 3,4 2,8 -1,8 -2,6 -6,4z"/><path fill="#eb4908" fill-rule="evenodd" d="M158,140l-12,0 -8,-3 -4,-5 1,-6 6,-8 9,-5 10,-3 11,0 3,3 2,5 0,8 -1,6 -2,4 -3,2z"/><path fill="#ea4108" fill-rule="evenodd" d="M154,138l-8,-1 -6,-3 -2,-6 3,-6 6,-6 8,-4 11,-2 6,2 2,4 2,8 -1,6 -2,4 -5,3z"/><path fill="#e83808" fill-rule="evenodd" d="M170,135l-14,0 -8,-1 -4,-4 0,-6 4,-6 6,-4 10,-3 6,1 3,4 2,8 -1,6z"/><path fill="#e62f08" fill-rule="evenodd" d="M170,133l-14,-1 -4,-1 -3,-3 0,-6 3,-4 7,-4 7,-1 4,1 3,4 1,6 -1,6z"/><path fill="#e42608" fill-rule="evenodd" d="M170,131l-2,0 -12,-3 -3,-4 1,-4 4,-3 4,-2 4,-1 4,2 2,3 1,5 0,4z"/><path fill="#e1210d" fill-rule="evenodd" d="M170,129l-4,0 -6,-3 -2,-2 1,-4 5,-3 5,1 3,6z"/><path fill="#de1e12" fill-rule="evenodd" d="M168,127l-4,-3 -1,-2 3,-2 2,1 2,3 0,2z"/></g><path fill="none" stroke="#2a1040" stroke-opacity="0.75" stroke-width="0.9" stroke-linejoin="round" d="M300.2,89 300.3,87.5 300.4,86 300.6,84.6 301.3,83.5 302.6,82.7 304.3,82.2 306.2,81.8 308,81.3M330,93.4 327.3,94 324.6,94.7 321.9,95.3 319,95.6 315.7,95.7 312,95.5 308.5,95.2 305.7,94.5 303.8,93.4 302.5,92 301.4,90.5 300.2,89M356.5,80.2 351,78.4 345.4,76.6 339.9,74.9 334.4,73.5 328.8,72.5 323.3,71.8 317.7,71.4 312.4,71.3 307.1,71.6 301.8,72.3 296.8,73.3 292.5,74.6 288.9,76.2 285.9,78 283.4,80.1 281.5,82.4 280.1,85 279.3,88 279,90.9 279.3,93.4 280.1,95.4 281.5,97.2 283.4,98.7 285.9,100 289.2,101 293.2,101.7 297.4,102.4 301.3,103.3 305.1,104.5 308.8,105.9 312.2,107.4 314.6,108.9 316,110.5 316.6,112.1 316.5,113.8 315.7,115.5 314.1,117.2 311.7,118.9 308.8,120.5 305.7,122.1 302.2,123.6 298.3,124.9 294.3,126.3 290.3,127.6M262.7,102.2 261.2,105.1 259.7,108.1 258.3,110.9 257.2,113.3 256.4,115.1 255.9,116.4 255.5,117.6 255,118.8M226.3,82.4 228.4,80.7 230.4,79 232.6,77.4 235.1,75.7 238.2,73.9 241.8,72.1 245.3,70.4 248.4,69.1 250.9,68.2 253.1,67.7 255.1,67.3 257.2,66.9M229.6,86.8 233.1,89.1 236.5,91.4 240.1,93.6 243.9,95.6 248.1,97.2 252.5,98.6 257.1,99.8 261.6,101.1M304.6,172.9 305.3,171.4 305.9,169.8 306.7,168.4 308,167.3 310,166.7 312.5,166.5 315.3,166.4 317.9,166.2M325.6,175.1 322.8,176.4 319.9,177.7 317.1,178.9 314.6,179.5 312.3,179.5 310.2,179 308.3,178.2 306.8,177.3 305.9,176.4 305.4,175.2 305,174.1 304.6,172.9M378.6,180.6 374.8,180.5 371,180.3 367.1,180.2 363.1,180.6 359,181.7 354.7,183.2 350.3,184.8 345.5,186.1 340.1,186.9 334.3,187.4 328.6,187.8 323.4,188.3 318.9,188.7 314.9,189 311.2,189.5 308,190.5 305.5,192.3 303.6,194.7 301.6,197.2 299.1,199.3 295.6,200.9 291.4,202.1 287.2,203.4 283.7,204.9 280.9,206.8 278.4,208.9 276.4,211.2 274.8,213.7 273.6,216.5 272.9,219.5 272.5,222.6 272.6,225.8 273.3,229 274.4,232.2 275.8,235.4 277.1,238.6M396.2,198.2 391.9,200.2 387.7,202.2 383.3,204.1 378.6,206 373.1,207.6 367,209 361.2,210.5 356.5,212.6 353.2,215.4 350.9,218.8 349.1,222.4 347.7,225.8 346.7,229 346.2,232.2 345.9,235.4 345.5,238.6M255,164 256.2,166.8 257.5,169.6 258.7,172.3 259.4,175.1 259.5,177.9 259.2,180.6 258.7,183.4 258.3,186.1M255,217 256.6,220.4 258.2,223.9 259.8,227.2 261.6,230.2 263.6,232.6 265.9,234.7 268.1,236.6 270.4,238.6M217.5,71.3 217.1,74.1 216.5,76.9 216.2,79.6 216.4,82.4 217.3,85.2 218.7,88 220.3,90.8 221.9,93.4 223.5,95.8 225.1,97.9 226.8,100.1 228.5,102.2M142.4,64.7 124.8,63.6M175.5,82.4 176.4,84.7 177.3,87.1 178.3,89.3 179.9,91.2 182.2,92.6 185,93.7 188.1,94.6 191,95.6M199.8,71.3 199.1,74 198.3,76.7 197.7,79.5 197.6,82.4 198.2,85.6 199.4,89 200.7,92.4 202,95.6 203.1,98.5 204.2,101.2 205.3,103.9 206.4,106.6M196.8,257.3 201.8,257.4 206.8,257.5 211.7,257.6 216.5,257.3 221.1,256.6 225.6,255.7 230,254.6 234.4,253.7 239.1,253 243.8,252.3 248.4,251.7 252.4,251 255.7,250.5 258.6,250 261,249.4 263.1,248.3 264.9,246.6 266.3,244.5 267.3,242 267.6,239.4 267.1,236.5 266,233.3 264.5,230 263.1,226.8 261.8,223.7 260.5,220.5 259.1,217.4 257.7,214.3M212.9,275.2 218.4,272.9 223.9,270.4 229.3,268.2 234.4,266.3 239.1,264.9 243.6,263.9 248,263.2 252.4,262.7 257.2,262.8 262.1,263.4 266.7,263.9 270.3,263.6 272.7,262.4 274.2,260.6 275.1,258.3 275.7,255.5 275.8,252.1 275.2,248.1 274.5,243.7 273.9,239.4 273.3,234.9 272.6,230.1 272,225.4 272.1,221.4 272.8,218.1 274,215.3 275.6,212.8 277.5,210.7 279.8,209 282.5,207.7 285.4,206.5 288.2,205.3M395.8,207.1 388.8,208.4 381.7,209.7 374.9,211 368.9,212.5 363.9,214 359.6,215.6 355.9,217.4 352.8,219.6 350.2,222.3 348.1,225.3 346.6,228.7 345.6,232.2 345.2,236.1 345.5,240.5 346.2,244.7 347.4,248.3 348.9,251.3 350.9,253.9 353.4,256 356.4,257.3 360.2,257.7 364.6,257.4 369.4,256.6 374.3,255.5 379.4,254.1 384.8,252.2 390.3,250.2 395.8,248.3M274.8,289.6 277.5,280.6M275.7,300.3 277,301.9 278.3,303.6 279.7,305 281,305.7 282.3,305.3 283.7,304.1 285,302.6 286.4,301.2M257.7,381 262.8,378.7 267.9,376.4 272.9,374.1 277.5,372 281.3,370 284.4,368.1 287.7,366.4 291.8,364.9 297.2,363.7 303.6,362.8 309.8,362.1 315.1,361.3 318.8,360.4 321.4,359.6 324,358.9 327.7,358.6 332.7,358.9 338.5,359.7 344.7,360.6 351,361.3 357.7,361.9 364.8,362.4 371.7,362.9 377.9,363.1 383,363.1 387.4,362.8 391.5,362.5 395.8,362.2M268.5,386.4 272.6,384.2 276.7,382 280.7,379.9 284.6,378.3 288.5,377.1 292.4,376.2 296,375.6 299,375.6 301.4,376 303.2,376.8 304.7,378.2 306.1,380.1 307.2,383 308,386.6 308.8,390.3 309.7,393.6 310.9,396.4 312.2,399.1 313.6,401.3 315.1,402.5 316.9,402.8 318.9,402.3 320.8,401 322.3,398.9 323.2,395.6 323.7,391.2 324.2,386.7 325,382.8 326.1,379.7 327.4,377 329,374.7 331.2,372.9 334.1,371.8 337.7,371.3 341.6,371.2 345.6,371.2 350,371.4 354.8,371.8 359.4,372.3 363.5,372.9 366.7,373.5 369.3,374.2 371.8,374.9 374.3,375.6M333.9,391.8 334.2,389.9 334.5,387.9 334.9,386.1 335.7,384.6 337,383.5 338.6,382.6 340.4,382 342,381.9 343.4,382.4 344.8,383.3 346.1,384.5 347.4,385.5M221.9,303.9 234.4,289.6M230.8,336.2 235,334 239.2,331.9 243.3,329.7 247,327.2 250.2,324.4 253.1,321.3 255.6,318 257.7,314.7 259.3,311.2 260.3,307.6 261.2,303.9 262.2,300.3M234.4,350.5 238.1,347.9 241.8,345.4 245.5,342.7 248.8,339.8 251.7,336.5 254.4,332.8 256.9,329.1 259.5,325.4"/><path fill="none" stroke="#0a0410" stroke-width="4" stroke-linecap="butt" stroke-linejoin="round" d="M117,54.8 121.6,55.4 126.2,56 130.9,56.6 135.8,57 141.2,57.2 146.9,57.3 152.6,57.3 157.9,57 162.7,56.5 167.2,55.7 171.5,54.8 175.5,53.7 179.3,52.4 182.8,50.9 186,49.4 188.8,48.2 190.9,47.3 192.5,46.6 193.9,46.1 195.4,46 197,46.4 198.6,47.3 200.2,48.3 202,49.3 204.1,50.3 206.4,51.4 208.7,52.3 210.8,52.6 212.6,52 214.2,50.8 215.7,49.4 217.5,48.2 219.5,47.2 221.6,46.2 223.9,45.3 226.3,44.8 229,44.7 231.9,44.9 234.7,45.4 237.3,46 239.7,46.8 242,47.9 243.9,49.1 245.1,50.4 245.6,51.8 245.6,53.3 245,54.7 243.9,55.9 242,56.7 239.5,57.2 236.7,57.6 234,58.1M206.4,70.2 206.6,73.3 206.8,76.5 207.1,79.6 207.5,82.4 208.1,84.8 208.9,87 209.8,89.1 210.8,91.2 211.8,93.4 213,95.5 214.2,97.7 215.3,100 216.4,102.4 217.5,104.9 218.6,107.5 219.7,110M191,6.2 204.2,4M282.8,361.3 284.6,360.1 286.5,358.9 288.3,357.6 290,355.9 291.5,353.8 292.9,351.4 294.2,348.6 295.4,345.2 296.6,340.9 297.8,335.9 298.9,330.6 299.9,325.4 300.7,320.4 301.5,315.4 302.1,310.5 302.6,305.7 303.1,301.1 303.5,296.5 303.7,292.1 303.5,287.8 302.9,283.6 301.9,279.5 300.6,275.5 299,271.6 297,267.9 294.5,264.3 292,260.8 290,257.3 288.5,253.8 287.2,250.3 286.3,246.7 285.5,242.9 285,238.5 284.7,233.7 284.6,229.1 284.6,225 284.6,221.6 284.7,218.6 285.1,216.1 286.4,214.3 288.7,213.3 291.8,213.1 295.4,213.2 299,213.4 302.9,213.6 307,213.9 311.2,214.4 315.1,215.2 318.7,216.2 322.1,217.3 325.1,218.8 327.7,220.5 329.6,222.5 331,224.7 332,227.3 333,230.4 333.8,234.4 334.4,239 335,243.8 335.7,248.3 336.6,252.6 337.6,257 338.7,261 340.2,264.5 342,267.4 344,269.7 346.3,271.7 349.2,273.4 352.7,274.6 356.8,275.3 361.1,276 365.3,277 369.3,278.5 373.4,280.2 377.5,282.1 381.5,284.2 385.5,286.6 389.6,289.3 393.6,292.1 397.6,294.9M212.9,285.1 223.7,278.8M238,270.7 241.2,269.9 244.4,269.1 247.6,268.4 250.6,268.1 253.6,268.2 256.5,268.6 259.1,269.2 261.3,269.8 262.9,270.4 263.9,271.1 264.8,271.8 265.8,272.5M268.5,289.6 268.8,293.1 269.2,296.6 269.4,300.2 269.4,303.9 269.1,307.8 268.5,311.9 267.7,316 266.7,320.1 265.4,324.2 263.7,328.3 262,332.3 260.4,336.2 258.9,340 257.4,343.8 256,347.3 255,350.5 254.4,353.2 254,355.5 253.9,357.6 254.1,359.5 254.7,361.3 255.6,362.8 256.7,364.3 257.7,365.8M354.6,341.6 355.9,342.7 357.2,343.8 358.6,344.8 359.9,345.2 361.2,344.8 362.6,343.8 363.9,342.7 365.3,341.6"/><text class="cl" style="font-size:23.5px" text-anchor="middle" transform="translate(218.6,59.2) rotate(-5)" y="8.5">6</text><text class="cl" style="font-size:23.5px" text-anchor="middle" transform="translate(164.5,69.1) rotate(15)" y="8.5">10</text><text class="cl" style="font-size:23.5px" text-anchor="middle" transform="translate(123.9,81.3) rotate(10)" y="8.5">12</text><text class="cl" style="font-size:23.5px" text-anchor="middle" transform="translate(168.9,104.4) rotate(0)" y="8.5">6</text><text class="cl" style="font-size:23.5px" text-anchor="middle" transform="translate(186.6,133.1) rotate(30)" y="8.5">4</text><text class="cl" style="font-size:23.5px" text-anchor="middle" transform="translate(317.9,85.7) rotate(10)" y="8.5">4</text><text class="cl" style="font-size:23.5px" text-anchor="middle" transform="translate(363.1,84.6) rotate(20)" y="8.5">2</text><text class="cl" style="font-size:23.5px" text-anchor="middle" transform="translate(325.6,166.2) rotate(-30)" y="8.5">2</text><text class="cl" style="font-size:23.5px" text-anchor="middle" transform="translate(389.6,182.8) rotate(10)" y="8.5">4</text><text class="cl" style="font-size:23.5px" text-anchor="middle" transform="translate(257.2,200.4) rotate(40)" y="8.5">2</text><text class="cl" style="font-size:23.5px" text-anchor="middle" transform="translate(250.6,278.8) rotate(-10)" y="8.5">10</text><text class="cl" style="font-size:23.5px" text-anchor="middle" transform="translate(269.4,364.0) rotate(0)" y="8.5">6</text><text class="cl" style="font-size:23.5px" text-anchor="middle" transform="translate(360.8,330.8) rotate(0)" y="8.5">6</text><text class="cl" style="font-size:23.5px" text-anchor="middle" transform="translate(285.5,286.0) rotate(70)" y="8.5">4</text><text class="cl" style="font-size:23.5px" text-anchor="middle" transform="translate(345.6,400.7) rotate(-40)" y="8.5">12</text><text class="cl" style="font-size:23.5px" text-anchor="middle" transform="translate(395.3,381.0) rotate(10)" y="8.5">10</text></g>
<use href="#land"/>
<use href="#grid"/>
<path stroke="#1a0828" stroke-opacity="0.8" stroke-width="3.2" stroke-linecap="round" d="M224.1,21.3h0M188,36.6h0M209.2,36.2h0M234.6,37.1h0M202.4,42.2h0M195.3,49.2h0M231.2,51.5h0M159.2,51.1h0M159.5,66.9h0M179.1,68.8h0M167,76.8h0M160.5,83.7h0M177.8,83.7h0M162.3,88h0M206.6,83.3h0M227.5,83.3h0M252.3,79.4h0M249.8,86.8h0M248,94.3h0M167.5,97.6h0M212,101.7h0M245.2,104.5h0M182.8,111.6h0M196.8,111.6h0M278.7,65h0M278.7,90.5h0M341.7,40.3h0M352.7,39.9h0M324.7,48.6h0M317.9,63.5h0M345.8,63.8h0M327.8,92.7h0M303,101.4h0M297.1,114.4h0M312.9,115.7h0M278.2,115h0M311,128.7h0M332.4,128.7h0M296.4,129.9h0M303.9,148h0M301.4,156.1h0M327.8,147.7h0M345.5,148h0M316,174.1h0M239.3,196.5h0M265.2,196.5h0M291.5,196.5h0M317.5,196.5h0M357.3,196.5h0M291.5,220.9h0M239,245.1h0M265,245.3h0M278,245.3h0M291.6,245.3h0M318,245.3h0M356.8,244.7h0M254.8,293.3h0M278,293.1h0M304.6,293.1h0M320.8,293.1h0M356.8,293.3h0M278,341.2h0M305,341.2h0M337.6,341.2h0M356.8,341.2h0M298.1,390h0M318,390h0M337.6,390h0M356.8,390h0"/>
</g>
<use href="#frameW"/>
<text class="ax" text-anchor="end" x="-6" y="11.5">40°N</text>
<text class="ax" text-anchor="end" x="-6" y="108.5">38°N</text>
<text class="ax" text-anchor="end" x="-6" y="205.5">36°N</text>
<text class="ax" text-anchor="end" x="-6" y="302.5">34°N</text>
<text class="ax" text-anchor="end" x="-6" y="399.5">32°N</text>
<text class="ax" text-anchor="middle" x="3.1" y="472.3">115°E</text>
<text class="ax" text-anchor="middle" x="200.1" y="472.3">120°E</text>
<text class="ax" text-anchor="middle" x="397.1" y="472.3">125°E</text>
<text class="odv" transform="translate(537.6,434.6) rotate(-90)">Ocean Data View</text>
<path d="M551.9,3.4 L567.15,-4.0 L582.4,3.4 Z" fill="#f8b47c"/>
<path d="M551.9,437.7 L567.15,445.09999999999997 L582.4,437.7 Z" fill="#e870f8"/>
<rect x="551.9" y="2.9" width="30.5" height="435.3" fill="url(#cbg)"/>
<path d="M551.9,2.9 L567.15,-4.0 L582.4,2.9 V438.2 L567.15,445.09999999999997 L551.9,438.2 Z" fill="none" stroke="#4a4038" stroke-width="0.8"/>
<path d="M551.9,438.2h6.5M582.4,438.2h-6.5" stroke="#000" stroke-width="1.6"/>
<text class="ax" x="589.4" y="447.2">0</text>
<path d="M551.9,329.4h6.5M582.4,329.4h-6.5" stroke="#000" stroke-width="1.6"/>
<text class="ax" x="589.4" y="338.4">5</text>
<path d="M551.9,220.5h6.5M582.4,220.5h-6.5" stroke="#000" stroke-width="1.6"/>
<text class="ax" x="589.4" y="229.5">10</text>
<path d="M551.9,111.7h6.5M582.4,111.7h-6.5" stroke="#000" stroke-width="1.6"/>
<text class="ax" x="589.4" y="120.7">15</text>
<path d="M551.9,2.9h6.5M582.4,2.9h-6.5" stroke="#000" stroke-width="1.6"/>
<text class="ax" x="589.4" y="11.9">20</text>
</g>
<text class="pl" x="716.7" y="1165.2">F</text>
<text class="tt" x="909.1" y="1175.8">[</text><text class="tt" x="923.2" y="1175.8">N</text><text class="tt" x="953.1" y="1175.8">O</text><text class="tt" x="981.3000000000001" y="1188.0" style="font-size:20px">3</text><text class="tt" x="991.7" y="1160.8" style="font-size:20px">-</text><text class="tt" x="997.3000000000001" y="1175.8">]</text><text class="tt" x="1024.4" y="1175.8" textLength="88.5" lengthAdjust="spacingAndGlyphs">µmol</text><text class="tt" x="1125.9" y="1175.8">L</text><text class="tt" x="1149.1" y="1162.1" style="font-size:21px">-1</text><text class="tt at" x="1167.6" y="1175.8">@</text><text class="tt" x="1347.2" y="1175.8" text-anchor="end">bottom</text>
<g transform="translate(84,1769.3)">
<g clip-path="url(#fr)">
<clipPath id="rgG"><path d="M117.5,40 117.5,100 150,104 154,138 173,145 197,143 204,128 211,152 201,188 199,200 198.5,205.5 194,223.2 193,238.6 194,256.3 198.5,269.5 208.4,278.3 210,290 215,310 220,330 224,345 228,352 238,368 246,380 254,390 264,398 270,404 271,410 270.2,415.2 274.6,420.7 283.4,424 369.5,424 380.5,421.8 391.6,415.2 397,404.1 397.4,380 397.4,235.5 397.8,189.5 393.4,176.5 384.6,163.2 386.8,150 382.4,132.5 369,119.1 364.7,105.5 369.1,92.5 378,75 389,52.5 393.3,35.2 386.7,17.5 369,6.5 362,0 190,-3 173,12 166,32 141,42Z"/></clipPath><g clip-path="url(#rgG)"><g filter="url(#bl)"><rect x="-10" y="-10" width="538.0" height="462.0" fill="#da75f8"/><path fill="#d66af8" fill-rule="evenodd" d="M518,443l-518,0 0,-443 236,-1 282,1zM261,208l2,-2 -1,-4 -6,-5 -10,-2 -4,1 -3,2 1,4 8,6 8,2z"/><path fill="#d161f8" fill-rule="evenodd" d="M518,443l-518,0 0,-443 236,-1 282,1zM263,212l4,-4 0,-4 -2,-4 -6,-4 -9,-3 -6,-1 -6,2 -5,4 0,4 2,2 11,6 8,3z"/><path fill="#cc59f8" fill-rule="evenodd" d="M518,443l-518,0 0,-443 236,-1 282,1zM265,214l4,-4 1,-6 -4,-6 -7,-4 -9,-3 -8,-1 -8,3 -5,5 0,4 1,2 16,9 10,3z"/><path fill="#c852f8" fill-rule="evenodd" d="M518,443l-518,0 0,-443 236,-1 282,1zM261,218l7,-2 5,-6 0,-4 -1,-4 -5,-6 -13,-6 -10,-2 -10,2 -4,2 -4,4 -1,6 3,4 20,11 6,1z"/><path fill="#c24bf8" fill-rule="evenodd" d="M518,443l-518,-1 0,-442 236,-1 282,1zM265,220l8,-4 4,-8 -1,-4 -2,-4 -6,-6 -16,-7 -10,-1 -12,3 -5,3 -3,4 -1,6 2,4 19,11 6,3 6,1z"/><path fill="#bb46f9" fill-rule="evenodd" d="M518,443l-518,-1 0,-442 236,-1 282,1zM258,224l8,-2 6,-2 4,-4 3,-4 1,-4 -1,-4 -2,-4 -5,-5 -19,-9 -11,-2 -8,1 -6,2 -5,3 -4,4 -2,4 0,4 1,4 2,2 10,4 14,10 6,1z"/><path fill="#b442fb" fill-rule="evenodd" d="M518,443l-518,-1 0,-442 236,-1 282,1zM263,226l7,-2 6,-4 7,-10 0,-4 -1,-4 -5,-6 -5,-4 -20,-8 -12,-1 -8,0 -8,3 -6,4 -4,4 -2,6 -1,4 2,4 3,3 12,3 10,8 8,4 8,1z"/><path fill="#ab3efc" fill-rule="evenodd" d="M518,443l-518,-1 0,-442 236,-1 282,1zM266,228l8,-4 4,-2 6,-8 3,-6 -1,-4 -2,-4 -12,-9 -22,-9 -14,-1 -8,1 -9,4 -6,4 -5,6 -2,6 0,6 2,4 4,4 4,2 10,1 11,7 9,3 10,1z"/><path fill="#a33cfc" fill-rule="evenodd" d="M518,443l-518,-1 0,-442 236,-1 282,1zM263,230l9,-3 6,-4 10,-11 1,-4 -1,-4 -3,-4 -13,-10 -22,-9 -14,-1 -10,2 -8,3 -7,5 -5,6 -3,8 0,6 3,6 5,4 5,2 10,1 11,5 9,3 8,0z"/><path fill="#9a39fc" fill-rule="evenodd" d="M518,443l-518,-1 0,-442 518,0zM260,232l10,-3 8,-4 14,-15 0,-4 -3,-4 -15,-12 -24,-9 -16,-1 -10,1 -8,4 -8,5 -5,6 -3,8 0,8 4,7 6,5 6,2 12,1 16,5 8,1z"/><path fill="#9137fc" fill-rule="evenodd" d="M518,443l-518,-1 0,-442 518,0zM257,234l9,-2 12,-5 10,-10 11,-7 1,-2 -26,-19 -20,-8 -10,-2 -12,0 -13,3 -11,6 -8,8 -3,8 0,8 3,8 6,6 10,4 12,1 18,3zM324,210l4,-4 0,-2 -4,-2 -11,2 -4,2 -1,2 2,2 6,2z"/><path fill="#8935fc" fill-rule="evenodd" d="M518,443l-518,-1 0,-442 460,0 -5,10 -1,8 4,8 7,4 11,3 12,0 14,-3 16,-5zM258,236l20,-7 5,-3 5,-6 14,-5 6,-1 10,1 9,-3 6,-4 1,-2 -1,-4 -3,-3 -4,-1 -20,4 -8,-1 -6,-2 -22,-12 -18,-7 -14,-3 -14,2 -12,4 -10,7 -7,8 -3,10 0,8 5,8 7,6 12,4 32,3z"/><path fill="#7f34fc" fill-rule="evenodd" d="M518,443l-518,-1 0,-442 436,0 -9,14 -1,6 1,6 2,6 5,6 12,9 14,5 18,1 18,-2 22,-7zM288,116l0,-2 -2,-1 -2,3 0,1 2,1zM259,238l9,-3 20,-8 6,1 5,-8 5,-3 14,1 14,-6 3,-2 2,-4 0,-6 -4,-4 -5,-1 -24,4 -8,-1 -22,-11 -18,-7 -10,-3 -10,-1 -14,2 -12,4 -12,8 -7,8 -3,8 -1,10 5,9 8,7 8,4 8,2 32,1z"/><path fill="#7736fc" fill-rule="evenodd" d="M518,443l-518,-1 0,-442 416,0 -6,8 -5,8 -1,8 1,6 5,8 6,8 10,10 9,6 17,7 18,2 22,-2 26,-7zM289,118l1,-2 0,-4 -2,-2 -4,1 -2,3 0,4 2,2zM262,240l32,-10 2,-2 4,-6 4,-3 4,0 10,1 18,-7 3,-3 2,-4 0,-4 -1,-5 -4,-4 -6,-2 -6,1 -18,4 -10,0 -43,-18 -9,-2 -10,-1 -16,2 -14,5 -12,8 -8,10 -3,10 1,10 7,10 9,7 8,3 10,2 34,-1z"/><path fill="#6f3afc" fill-rule="evenodd" d="M518,443l-518,-1 0,-442 398,0 -6,8 -4,8 -2,8 1,6 7,12 12,15 12,12 12,10 16,7 10,2 10,1 22,-3 30,-8zM289,120l4,-4 0,-4 -4,-4 -5,0 -3,4 0,6 3,3zM224,246l30,-2 12,-2 28,-11 10,-10 4,0 10,2 8,-4 10,-4 5,-3 3,-4 1,-6 -1,-6 -4,-6 -8,-3 -8,1 -18,5 -12,0 -40,-16 -14,-3 -18,0 -20,6 -14,8 -9,10 -4,12 -1,6 2,6 6,10 12,9 14,4z"/><path fill="#6a41fc" fill-rule="evenodd" d="M518,443l-518,-1 0,-442 381,0 -7,8 -4,8 -2,8 2,7 34,50 10,11 10,9 8,4 8,3 18,2 26,-4 34,-9zM289,122l5,-4 2,-6 -2,-3 -3,-3 -7,-1 -2,1 -3,4 0,8 3,4 4,1zM234,250l26,-3 10,-2 22,-11 12,-10 6,-1 8,3 10,-6 13,-4 6,-6 3,-8 0,-8 -2,-6 -6,-5 -8,-1 -8,2 -20,6 -12,1 -8,-3 -36,-14 -10,-2 -12,-1 -16,2 -14,4 -11,5 -11,8 -8,12 -3,12 2,12 7,10 11,8 15,6 16,2z"/><path fill="#6549fc" fill-rule="evenodd" d="M518,443l-518,-1 0,-428 22,-14 344,0 -12,16 -1,6 1,6 21,32 18,38 17,28 5,6 4,2 5,1 16,-1 35,-8 43,-12zM312,44l5,-2 4,-4 1,-4 -2,-3 -4,-1 -4,1 -4,1 -4,4 -1,4 1,4 4,1zM288,124l4,-2 5,-4 1,-6 -2,-4 -4,-4 -4,-2 -4,-1 -4,2 -2,4 -1,5 0,6 2,4 3,2zM227,256l37,-5 8,-2 8,-4 8,-5 16,-14 6,-1 6,4 2,0 10,-7 15,-4 8,-8 8,-20 3,-6 6,-4 14,-4 5,-2 5,-6 0,-6 -4,-3 -10,1 -8,3 -14,9 -24,6 -20,8 -10,2 -14,-1 -40,-15 -20,-3 -16,0 -16,4 -14,5 -10,6 -12,12 -5,12 -1,8 1,6 5,12 5,6 7,5 16,8 20,4z"/><path fill="#6050fc" fill-rule="evenodd" d="M518,443l-518,-1 0,-410 28,-18 30,-14 296,0 -10,9 -8,6 -22,9 -10,6 -6,8 -4,12 2,2 2,0 16,-2 10,-4 12,-7 4,-1 6,2 8,7 10,13 5,14 2,10 1,24 8,22 -2,8 -2,3 -4,2 -4,0 -8,-2 -2,2 -6,15 -7,8 -31,16 -10,3 -8,1 -8,-1 -40,-15 -10,-3 -12,-1 -18,0 -18,3 -14,5 -11,6 -12,10 -8,12 -2,6 -1,8 2,12 8,12 10,9 15,7 17,5 14,1 12,0 26,-5 22,-2 8,-3 10,-7 18,-18 6,0 6,4 2,0 10,-8 12,-1 4,-2 8,-6 10,-15 6,-6 6,-4 16,-5 8,-4 24,-16 12,-7 26,-11 58,-17zM292,124l7,-6 2,-4 -1,-4 -2,-4 -6,-5 -6,-3 -4,-1 -4,4 -2,5 -1,8 1,6 3,4 3,1 4,1zM359,136l1,-10 -5,-8 -7,-2 -9,2 -1,2 1,2 9,10 8,6 2,0z"/><path fill="#5c58fc" fill-rule="evenodd" d="M518,443l-518,-1 0,-393 24,-19 24,-13 22,-8 34,-6 6,-3 234,0 -12,9 -20,11 -10,8 -22,30 -3,6 0,4 1,3 2,1 4,-2 10,-10 6,-3 36,-8 6,0 4,2 9,9 4,8 2,8 0,8 -2,8 -8,10 -21,12 -3,4 1,2 10,12 7,12 1,6 0,4 -4,8 -8,6 -20,11 -8,4 -8,1 -14,-2 -36,-14 -16,-3 -16,-2 -16,1 -14,2 -12,3 -12,5 -10,6 -9,8 -6,8 -4,8 -3,10 1,8 2,8 8,12 12,10 15,7 18,6 16,2 14,0 32,-7 24,-2 6,-2 6,-4 18,-22 3,-2 5,0 6,5 2,0 10,-9 4,-1 10,0 6,-3 5,-4 13,-15 8,-5 26,-8 36,-19 18,-8 24,-8 40,-11zM290,126l10,-6 3,-4 1,-4 -2,-4 -6,-6 -10,-7 -6,-3 -3,4 -2,6 -1,10 1,8 2,4 3,2 4,1z"/><path fill="#5860fc" fill-rule="evenodd" d="M518,442l-518,0 0,-378 17,-16 15,-12 18,-10 18,-7 18,-4 16,-1 16,3 20,6 1,-1 -1,-6 -10,-16 208,0 -28,20 -10,9 -22,31 -4,8 -1,8 2,14 0,22 1,8 2,4 4,3 8,1 12,-6 5,-4 2,-4 -3,-6 -17,-16 -4,-6 -1,-4 1,-4 7,-10 6,-6 6,-3 26,-5 6,0 6,2 9,6 3,6 3,8 -1,8 -2,6 -7,10 -19,12 -3,4 1,4 10,12 7,14 1,8 -5,8 -25,16 -8,3 -8,1 -14,-2 -34,-13 -18,-5 -18,-1 -18,0 -14,1 -12,3 -12,5 -12,7 -10,9 -7,8 -5,8 -3,10 0,10 2,8 8,12 14,12 15,8 21,6 17,2 18,1 10,-2 26,-6 24,-2 6,-2 4,-3 18,-24 4,-3 4,0 4,4 4,1 12,-9 12,-1 8,-3 16,-16 8,-5 28,-7 40,-18 20,-7 56,-16z"/><path fill="#5266fc" fill-rule="evenodd" d="M518,442l-518,0 0,-362 15,-18 17,-16 18,-12 20,-9 18,-4 18,0 18,4 20,9 4,-1 1,-5 -2,-6 -12,-22 195,0 -24,18 -10,10 -23,32 -4,10 -2,8 4,18 1,20 2,6 4,5 4,2 4,0 6,-2 10,-5 6,-4 3,-4 -3,-4 -17,-16 -4,-6 -1,-4 1,-6 6,-10 5,-5 6,-2 22,-3 12,2 8,6 3,6 1,6 -1,8 -3,6 -6,8 -19,12 -3,4 2,4 13,14 5,10 1,6 0,4 -5,8 -22,15 -8,3 -8,1 -14,-2 -34,-14 -20,-5 -40,-2 -12,1 -12,2 -12,5 -15,8 -10,8 -10,10 -6,8 -4,10 0,10 2,10 6,10 9,10 12,8 14,7 17,5 19,3 20,1 16,-1 28,-7 24,-2 6,-2 6,-4 15,-24 5,-4 4,0 4,4 4,1 12,-10 10,0 6,-1 8,-4 12,-12 8,-4 26,-6 58,-21 60,-16z"/><path fill="#4c6cfc" fill-rule="evenodd" d="M518,442l-518,0 0,-343 14,-23 15,-18 15,-13 16,-10 18,-7 16,-3 16,0 16,4 20,9 4,-1 2,-5 -1,-8 -3,-9 -8,-15 186,0 -22,18 -10,11 -24,33 -5,10 -1,8 5,18 3,22 3,6 5,3 6,1 6,-2 18,-9 4,0 4,2 12,11 5,10 2,10 -1,4 -4,5 -22,15 -8,3 -8,1 -14,-3 -32,-13 -20,-5 -44,-4 -12,0 -12,3 -16,6 -15,8 -14,10 -11,10 -5,8 -4,10 -1,10 3,10 7,12 11,10 11,8 16,7 18,6 19,3 23,1 18,-1 32,-8 24,-2 6,-1 6,-5 13,-24 5,-5 4,0 4,4 4,0 12,-9 12,0 11,-4 15,-12 8,-4 24,-5 62,-20 56,-13zM318,110l-4,0 -4,-2 -17,-14 -4,-8 0,-8 3,-6 3,-4 9,-6 16,-2 12,1 6,3 6,6 2,8 -1,8 -4,8 -5,6 -8,5z"/><path fill="#4573fc" fill-rule="evenodd" d="M518,442l-518,0 0,-319 12,-29 15,-24 12,-14 15,-12 16,-9 16,-5 14,-2 14,0 12,3 20,9 5,0 3,-6 0,-8 -4,-12 -7,-14 179,0 -18,16 -10,11 -27,37 -5,10 -1,6 2,6 6,14 2,18 3,8 4,3 6,2 8,-2 18,-8 4,0 4,2 10,9 4,6 2,6 1,6 0,4 -5,7 -20,14 -8,3 -8,1 -16,-3 -30,-13 -20,-5 -48,-7 -10,0 -12,3 -16,6 -20,10 -16,10 -13,10 -7,10 -4,10 -1,10 4,10 7,12 11,10 15,10 18,8 18,5 20,3 22,2 22,-1 8,-2 26,-8 10,-1 14,1 8,-3 6,-5 10,-21 6,-8 2,-1 6,4 4,1 12,-9 14,-1 10,-3 14,-11 8,-4 25,-4 61,-18 56,-12zM322,106l-6,2 -6,-2 -12,-8 -6,-8 -2,-8 1,-6 5,-7 6,-4 10,-3 16,1 8,3 5,6 2,4 0,6 -3,10 -7,8z"/><path fill="#3f79fc" fill-rule="evenodd" d="M518,442l-518,0 0,-269 4,-13 6,-36 5,-18 9,-20 12,-18 12,-14 13,-10 15,-8 14,-4 14,-2 12,1 14,3 17,8 5,-1 4,-7 0,-8 -4,-12 -7,-14 175,0 -18,16 -10,12 -27,38 -5,8 -1,6 2,6 7,14 3,20 3,7 4,3 6,1 6,-1 18,-7 6,0 4,2 10,9 5,10 1,6 -1,4 -5,7 -20,14 -8,3 -8,0 -16,-4 -26,-11 -18,-6 -54,-9 -8,0 -10,2 -19,6 -27,12 -22,12 -14,10 -8,8 -4,8 0,10 3,10 9,14 13,12 15,10 20,9 20,6 22,4 24,1 24,-1 10,-2 28,-8 8,-1 14,1 8,-2 4,-3 3,-4 11,-24 5,-6 2,0 5,4 4,0 12,-9 14,0 10,-3 14,-10 8,-4 26,-4 60,-15 56,-12zM318,106l-8,-1 -8,-5 -8,-8 -3,-6 0,-6 3,-7 6,-6 6,-3 14,-1 10,2 7,5 3,6 1,8 -5,10 -8,8z"/><path fill="#387ffc" fill-rule="evenodd" d="M48,186l-8,1 -6,-2 -4,-4 -4,-8 -3,-11 -3,-14 0,-12 0,-14 5,-22 10,-22 14,-18 15,-13 10,-6 10,-5 12,-3 10,-1 16,2 10,3 16,6 4,0 4,-5 1,-10 -3,-13 -7,-15 170,0 -15,15 -10,11 -30,42 -3,6 -2,6 1,6 9,16 4,22 5,6 4,2 6,0 20,-8 6,0 8,3 9,9 3,10 0,8 -4,6 -16,12 -12,5 -14,-1 -14,-4 -20,-9 -14,-5 -60,-13 -10,-1 -8,2 -14,4 -74,29zM320,104l-6,1 -8,-4 -8,-6 -5,-7 -1,-6 1,-6 5,-6 6,-4 10,-2 12,2 8,4 4,6 1,8 -3,8 -8,8zM518,442l-518,0 0,-230 20,-5 6,0 4,1 6,5 24,25 14,12 23,14 23,10 20,5 20,4 22,1 24,0 20,-3 28,-9 8,0 14,1 8,-2 5,-3 3,-4 10,-24 3,-6 3,-2 6,5 4,0 12,-9 4,-1 10,0 10,-2 6,-3 10,-8 6,-2 26,-4 60,-14 56,-11z"/><path fill="#3085fc" fill-rule="evenodd" d="M300,176l-8,1 -10,-2 -10,-3 -20,-10 -10,-4 -72,-17 -14,3 -50,17 -22,6 -18,3 -14,-1 -8,-4 -6,-5 -4,-7 -4,-9 -2,-10 0,-12 1,-12 3,-12 7,-18 11,-16 14,-14 16,-10 16,-5 16,-1 16,2 20,8 4,0 2,-2 4,-8 0,-8 -3,-12 -6,-14 167,0 -16,15 -8,10 -33,45 -3,6 -1,4 2,6 9,14 4,22 2,4 3,4 5,2 6,0 20,-7 6,0 4,1 6,4 4,4 4,6 2,10 -4,8 -16,13zM322,102l-6,2 -8,-2 -8,-6 -5,-6 -2,-6 1,-6 3,-6 5,-4 8,-3 12,1 8,3 5,5 2,8 -2,8 -5,7zM518,442l-518,0 0,-213 16,0 14,4 12,6 43,25 18,8 21,7 20,4 20,2 22,1 24,-1 16,-2 28,-9 8,-1 14,2 8,-2 8,-7 10,-25 4,-7 2,-1 6,4 4,0 12,-9 4,-1 10,1 10,-2 6,-3 10,-8 6,-2 26,-3 62,-13 54,-10z"/><path fill="#298bfc" fill-rule="evenodd" d="M296,176l-8,0 -8,-2 -36,-16 -46,-12 -28,-8 -10,1 -42,14 -24,6 -20,2 -14,-2 -8,-3 -6,-5 -5,-7 -4,-8 -2,-10 -1,-12 2,-10 3,-12 7,-16 10,-14 12,-12 16,-9 14,-5 16,-1 14,2 20,8 4,0 2,-1 4,-8 1,-8 -2,-12 -7,-16 164,0 -22,24 -34,46 -3,6 -1,4 2,8 6,7 4,7 4,20 4,8 4,2 6,1 20,-7 8,-1 4,2 6,4 7,9 2,10 -4,8 -17,14 -6,3zM318,102l-6,0 -8,-3 -6,-5 -3,-6 -1,-6 1,-6 5,-6 6,-3 10,-1 10,2 6,4 3,6 0,8 -2,6 -7,7zM518,442l-518,0 0,-200 16,1 16,4 59,25 17,6 20,5 20,3 20,2 22,0 24,-2 13,-2 19,-7 10,-2 8,-1 12,3 8,-3 6,-4 4,-4 8,-23 4,-7 2,-2 6,4 4,0 12,-10 4,-1 12,1 10,-2 6,-3 8,-6 6,-2 26,-3 116,-21z"/><path fill="#2391fc" fill-rule="evenodd" d="M302,174l-12,1 -12,-3 -34,-15 -53,-15 -8,-4 -11,-7 -36,12 -30,8 -22,2 -16,-3 -8,-3 -6,-5 -5,-6 -4,-8 -2,-10 -1,-10 1,-10 3,-10 6,-14 11,-14 13,-11 14,-8 14,-4 12,0 14,2 18,7 4,0 2,-1 5,-7 2,-10 -3,-13 -6,-15 160,0 -20,22 -37,50 -4,8 2,8 9,9 3,5 5,22 4,7 4,2 6,1 20,-7 8,-1 8,4 7,8 3,10 -2,8 -16,14zM320,101l-6,0 -6,-1 -6,-4 -6,-6 -1,-6 0,-6 3,-5 4,-3 8,-3 10,1 8,3 4,5 2,6 -2,8 -5,6zM518,442l-518,0 0,-186 16,1 16,3 64,20 36,8 38,2 46,-2 12,-2 16,-6 12,-4 8,0 12,3 6,-2 8,-5 4,-4 12,-30 2,-2 6,3 4,-1 4,-2 6,-6 4,-2 12,0 12,-1 7,-3 7,-5 6,-3 28,-3 114,-18z"/><path fill="#1c99fc" fill-rule="evenodd" d="M298,174l-10,0 -10,-2 -32,-15 -40,-12 -14,-5 -7,-4 -4,-4 -2,-4 0,-10 -3,-4 -4,1 -7,11 -6,4 -9,4 -16,5 -18,5 -16,2 -14,0 -12,-3 -8,-4 -6,-5 -5,-6 -3,-8 -2,-8 -1,-10 4,-18 7,-14 10,-12 12,-10 12,-6 12,-3 12,-1 14,3 16,6 6,-1 6,-8 2,-10 -2,-12 -6,-16 156,0 -16,18 -21,30 -21,26 -2,4 -1,4 0,6 1,2 10,6 4,6 2,6 3,16 2,4 3,4 4,2 6,0 20,-6 8,-1 8,4 6,7 3,10 -1,4 -2,4 -16,14 -6,3zM316,100l-6,0 -6,-3 -5,-5 -3,-4 0,-6 1,-6 4,-4 5,-3 8,-1 8,2 6,3 3,5 1,8 -3,6 -7,6zM518,442l-518,0 0,-174 16,1 16,2 74,17 22,3 20,2 32,0 36,-4 12,-2 18,-6 13,-3 5,0 12,4 10,-5 10,-9 7,-22 5,-8 6,1 4,0 14,-11 14,1 10,-1 7,-2 7,-5 6,-2 142,-19z"/><path fill="#179efa" fill-rule="evenodd" d="M302,172l-12,1 -12,-3 -30,-15 -37,-11 -14,-6 -11,-8 -1,-4 -3,-12 -2,-4 -4,-3 -4,2 -14,14 -8,5 -10,3 -18,4 -14,2 -12,-1 -12,-2 -8,-4 -5,-4 -5,-6 -3,-6 -3,-8 0,-8 1,-10 2,-8 6,-12 8,-10 11,-8 12,-6 10,-3 10,0 12,2 18,5 6,-2 6,-8 2,-10 -2,-12 -5,-16 150,0 -15,18 -27,38 -18,20 -2,4 -2,10 -5,10 2,2 6,-6 4,-1 4,0 6,4 4,7 5,22 3,4 4,2 4,1 6,0 16,-6 6,-1 8,2 6,5 5,9 0,6 -1,4 -4,5 -10,8zM316,98l-4,0 -6,-2 -5,-4 -3,-4 -1,-6 1,-4 3,-4 5,-3 6,-1 8,1 6,4 3,5 0,6 -3,6 -5,4zM518,442l-518,0 0,-156 34,1 72,9 38,2 32,-1 36,-4 14,-3 20,-6 12,-2 6,0 8,6 4,0 21,-18 3,-6 5,-16 3,-6 12,-3 12,-10 20,1 20,-2 4,-4 14,-3 128,-14z"/><path fill="#14a5f9" fill-rule="evenodd" d="M300,170l-12,1 -10,-3 -9,-4 -17,-10 -36,-13 -14,-6 -8,-7 -10,-22 -6,-8 -6,-4 -3,0 -3,2 0,10 -2,3 -4,4 -8,3 -20,6 -14,2 -12,-1 -12,-3 -6,-3 -5,-5 -6,-10 -2,-6 -1,-8 4,-14 4,-8 7,-8 9,-7 10,-4 8,-2 10,-1 24,6 4,-1 4,-3 6,-8 3,-10 -2,-12 -4,-16 142,0 -39,54 -12,12 -12,10 -1,12 -4,12 1,3 2,2 3,-1 7,-4 4,-1 4,0 4,3 4,8 4,20 2,4 4,3 4,1 6,-1 16,-5 8,-2 6,2 6,4 3,4 2,6 -2,8 -3,4 -10,8zM316,94l-8,0 -4,-2 -3,-4 -2,-4 1,-4 4,-5 4,-2 6,0 4,1 4,4 2,4 -1,6 -3,4zM518,442l-518,0 0,-130 36,-3 74,1 38,-2 48,-7 54,-12 8,1 10,6 4,1 6,-3 21,-22 11,-26 10,-5 12,-11 4,0 34,4 6,-1 12,-6 10,-2 70,-2 50,-3z"/><path fill="#14adfb" fill-rule="evenodd" d="M302,168l-12,1 -12,-3 -9,-4 -15,-11 -26,-9 -22,-10 -10,-8 -8,-16 -6,-10 -6,-6 -4,-2 -17,2 -3,3 -3,9 -5,4 -10,4 -16,3 -8,-1 -8,-2 -10,-7 -6,-9 -2,-12 3,-12 4,-8 6,-6 7,-5 8,-4 8,-2 8,0 22,4 6,-2 4,-3 6,-8 3,-8 -1,-14 -4,-16 136,0 -38,53 -12,13 -13,8 -1,4 1,10 -4,12 1,4 4,2 12,-5 4,0 4,2 4,7 4,22 2,3 4,3 4,2 6,-1 18,-6 6,-1 6,1 6,3 3,4 2,6 -2,8 -9,9zM312,92l-6,-1 -4,-5 0,-6 2,-2 4,-2 4,-1 4,2 4,5 -1,6 -3,3zM518,442l-518,0 0,-112 36,-5 76,-6 34,-3 38,-7 60,-15 10,1 12,9 4,2 8,-7 22,-25 4,-6 5,-14 4,-6 9,-7 8,-9 4,-2 36,7 6,0 14,-6 10,-1 66,1 52,-2z"/><path fill="#11b5f6" fill-rule="evenodd" d="M304,167l-12,1 -14,-4 -8,-4 -14,-11 -22,-7 -26,-12 -9,-8 -15,-24 -5,-6 -5,-3 -18,-1 -4,1 -12,13 -6,4 -6,2 -12,0 -10,-2 -9,-6 -5,-8 -2,-12 3,-10 4,-6 5,-6 6,-4 8,-4 14,-2 22,4 5,-2 5,-4 6,-8 3,-8 -1,-14 -4,-16 131,0 -23,36 -12,16 -12,12 -15,10 1,14 -4,14 1,4 3,2 4,-1 10,-5 4,0 4,3 4,7 3,22 3,5 4,2 10,0 22,-8 6,0 6,3 3,4 2,4 0,8 -7,8zM310,90l-5,-2 -2,-4 1,-4 6,-2 6,2 1,4 -1,4zM518,442l-518,0 0,-98 36,-7 76,-10 34,-5 32,-8 64,-17 6,0 6,3 12,14 4,2 2,0 2,-2 3,-8 3,-6 24,-28 10,-22 10,-9 6,-8 4,-2 36,9 8,-1 12,-5 10,-1 64,4 54,0zM359,342l1,-2 -2,-3 -4,0 -2,1 0,4 2,1 2,1z"/><path fill="#0ebaf0" fill-rule="evenodd" d="M300,166l-14,-1 -10,-3 -6,-4 -10,-10 -25,-8 -27,-13 -10,-9 -14,-23 -6,-5 -4,-2 -22,-2 -14,13 -10,4 -10,1 -10,-3 -8,-7 -4,-8 0,-8 2,-10 8,-10 12,-7 14,-2 20,3 6,-2 5,-4 6,-8 4,-8 -2,-14 -3,-16 128,0 -24,36 -12,16 -12,12 -14,9 -1,3 1,12 -4,14 2,5 4,2 4,0 10,-6 4,1 4,2 3,8 2,22 2,4 3,3 6,1 6,-1 18,-7 6,-2 6,0 6,4 3,4 1,4 -1,8 -9,8zM312,87l-2,1 -4,-1 -1,-3 1,-3 4,-1 3,2 1,2zM518,442l-518,0 0,-87 36,-8 108,-20 98,-27 6,1 4,2 14,18 4,3 4,1 3,-3 2,-14 3,-8 22,-26 12,-24 14,-16 4,-2 5,0 31,10 8,0 12,-5 10,-1 62,7 56,0zM361,346l2,-2 2,-4 -3,-6 -2,-2 -4,0 -6,3 -3,5 1,3 2,3 6,2z"/><path fill="#0abeea" fill-rule="evenodd" d="M260,144l-10,-1 -12,-3 -30,-15 -8,-7 -16,-24 -10,-7 -22,-2 -14,11 -8,4 -10,1 -10,-3 -6,-4 -5,-8 -1,-8 3,-10 8,-10 10,-6 13,-2 20,3 6,-2 6,-5 6,-8 4,-8 -2,-14 -3,-16 126,0 -22,34 -13,17 -11,11 -13,8 -4,4 2,14 -4,12 0,6 2,3 4,1 4,-1 10,-5 4,0 4,3 3,9 1,26zM308,86l-2,-2 2,-2 2,0 1,2 -1,2zM306,164l-6,2 -6,0 -8,-1 -7,-3 -7,-4 -4,-6 -2,-4 3,-2 13,-2 18,-9 6,-1 6,2 4,3 2,3 1,8 -4,8zM518,442l-518,0 0,-80 142,-31 34,-9 52,-17 14,-3 4,0 4,2 4,4 12,16 12,10 2,2 2,-1 -2,-21 0,-6 2,-6 6,-8 17,-20 12,-24 14,-16 3,-2 4,0 26,11 6,1 6,0 14,-5 8,-1 62,8 58,1zM362,348l2,-2 3,-4 -1,-7 -2,-3 -4,-2 -4,-1 -4,2 -4,3 -2,4 0,6 6,5 4,0z"/><path fill="#06c2e3" fill-rule="evenodd" d="M258,140l-6,2 -10,-2 -34,-17 -8,-6 -15,-23 -5,-4 -6,-3 -22,-3 -14,10 -6,3 -10,2 -10,-3 -6,-4 -4,-8 -1,-8 2,-8 8,-10 9,-5 12,-2 20,2 6,-2 7,-5 6,-8 4,-8 -2,-14 -3,-16 123,0 -21,34 -12,16 -10,11 -15,9 -3,4 1,14 -4,12 1,8 2,2 4,1 12,-6 4,-1 4,2 2,2 2,4 0,6 0,18zM304,164l-10,1 -13,-3 -9,-6 -2,-6 3,-2 9,-3 16,-8 6,-2 7,1 3,2 4,4 1,4 0,4 -2,4 -3,4 -6,5zM518,442l-518,0 0,-74 140,-33 34,-10 50,-17 16,-4 6,0 4,2 16,22 13,12 5,1 3,-1 1,-4 -5,-12 -1,-8 0,-8 1,-6 6,-8 18,-20 10,-22 13,-17 4,-3 8,2 20,9 8,3 6,-1 14,-4 8,0 60,8 60,2zM361,350l4,-2 3,-4 1,-4 0,-4 -3,-5 -4,-3 -4,-1 -4,1 -4,2 -4,4 -2,6 0,4 4,4 4,2z"/><path fill="#03c5db" fill-rule="evenodd" d="M256,138l-6,2 -9,-2 -33,-16 -8,-7 -14,-21 -5,-4 -7,-4 -22,-3 -14,10 -6,2 -10,2 -8,-3 -6,-4 -4,-6 -1,-8 2,-8 4,-6 4,-4 9,-5 12,-2 18,3 6,-2 7,-6 7,-8 4,-8 0,-6 -5,-24 122,0 -20,32 -13,18 -10,10 -16,10 -3,4 1,14 -3,12 0,8 1,2 4,2 6,-1 10,-6 4,1 3,2 2,4 1,8 -2,14zM302,164l-8,0 -10,-2 -8,-4 -2,-3 -1,-3 3,-3 20,-11 8,-2 6,0 4,2 3,4 1,4 0,4 -1,4 -5,5 -4,3zM518,442l-518,0 0,-67 138,-36 36,-11 48,-18 16,-4 6,0 5,2 14,20 14,14 5,2 6,-1 3,-3 0,-4 -7,-18 -1,-8 1,-6 4,-8 20,-22 10,-22 12,-16 4,-3 7,1 21,11 8,2 8,0 12,-4 8,0 58,9 28,2 34,1zM364,350l5,-4 2,-4 0,-4 -1,-4 -4,-6 -4,-2 -4,-1 -6,1 -5,4 -4,6 -1,6 2,4 4,4 6,2 6,0z"/><path fill="#02c7d2" fill-rule="evenodd" d="M252,138l-6,0 -8,-2 -14,-9 -18,-8 -8,-8 -12,-18 -4,-3 -7,-4 -23,-3 -3,1 -11,8 -6,2 -8,1 -8,-2 -6,-4 -4,-7 -1,-8 3,-8 6,-8 8,-4 10,-2 16,2 6,0 6,-3 6,-5 7,-8 4,-8 0,-6 -5,-24 120,0 -20,32 -12,17 -11,11 -15,9 -3,5 1,14 -4,16 0,4 2,4 2,1 4,0 12,-7 4,0 4,1 3,5 0,8 -2,12 -1,4zM306,163l-8,1 -12,-2 -9,-6 -1,-4 4,-4 17,-10 7,-2 6,1 4,2 2,3 2,4 0,4 -4,7zM518,442l-518,0 0,-62 138,-38 38,-13 46,-18 16,-4 6,0 4,3 14,19 14,14 8,3 6,-1 3,-3 1,-4 -1,-4 -8,-16 -1,-8 0,-6 5,-8 20,-22 11,-24 12,-16 4,-1 13,5 15,9 6,1 8,1 12,-4 6,0 60,10 28,2 34,1zM362,352l4,-2 5,-4 1,-4 0,-6 -2,-6 -6,-5 -4,-2 -6,1 -6,4 -4,4 -3,6 0,6 3,4 6,4 6,1z"/><path fill="#01cac9" fill-rule="evenodd" d="M252,137l-6,0 -6,-2 -16,-10 -12,-4 -6,-3 -8,-8 -12,-17 -10,-7 -24,-4 -4,2 -10,7 -6,2 -8,1 -8,-3 -6,-5 -3,-6 0,-6 2,-8 7,-8 7,-4 11,-2 14,2 6,0 6,-2 9,-8 6,-8 3,-8 -5,-28 118,0 -18,30 -13,18 -11,12 -15,9 -4,5 1,14 -4,14 1,9 2,3 4,1 4,-2 12,-7 4,1 2,1 3,6 -1,10 -2,9zM306,162l-8,1 -12,-3 -7,-4 0,-4 6,-6 11,-7 8,-3 6,1 6,5 1,4 0,4 -3,6zM518,442l-518,0 0,-57 138,-40 38,-14 46,-18 14,-4 6,0 6,3 14,20 14,13 8,3 8,-1 4,-4 1,-5 -11,-21 -1,-7 0,-6 5,-8 20,-22 9,-20 11,-17 3,-3 3,-1 11,5 17,10 8,2 6,0 12,-3 6,0 40,8 18,3 28,2 36,1zM365,352l6,-4 2,-4 1,-4 -1,-6 -3,-6 -6,-5 -4,-1 -6,0 -6,4 -5,6 -3,6 0,6 4,6 6,3 8,1z"/><path fill="#00ccc0" fill-rule="evenodd" d="M252,135l-6,1 -6,-2 -7,-4 -7,-7 -14,-3 -6,-3 -8,-8 -12,-17 -10,-6 -24,-4 -14,8 -6,2 -8,0 -6,-2 -6,-4 -3,-6 -1,-6 3,-8 5,-7 8,-5 10,-1 14,2 6,0 6,-3 9,-8 7,-8 3,-8 -6,-28 117,0 -18,30 -12,18 -12,12 -16,10 -2,4 1,14 -4,14 0,10 1,3 4,1 6,-2 10,-7 4,0 3,1 3,6 0,7 -2,9zM304,162l-6,1 -10,-3 -4,-2 -3,-4 2,-4 8,-8 8,-4 7,-1 4,1 4,2 2,4 1,4 -1,4 -2,4 -5,4zM518,442l-518,0 0,-52 138,-42 36,-14 48,-20 12,-3 6,-1 6,3 14,19 16,14 10,3 8,-1 5,-4 0,-6 -12,-22 -1,-6 0,-6 4,-7 20,-23 11,-22 10,-16 3,-2 2,-1 10,5 18,11 8,3 6,0 18,-3 36,8 20,3 28,3 38,1zM362,354l8,-4 4,-4 1,-4 1,-6 -3,-6 -5,-6 -6,-4 -6,0 -6,2 -6,6 -6,10 0,6 2,4 6,4 8,2z"/><path fill="#00cdb8" fill-rule="evenodd" d="M222,119l-8,0 -8,-3 -8,-8 -11,-16 -5,-4 -8,-4 -22,-3 -18,9 -8,1 -6,-2 -5,-3 -4,-6 -1,-6 2,-8 7,-8 9,-4 8,-1 14,2 6,0 8,-5 8,-8 6,-8 2,-6 -6,-28 115,0 -17,30 -13,18 -11,11 -14,9 -4,4 -1,4 1,12 -4,14 -1,14zM248,134l-6,-1 -6,-3 -4,-4 -1,-4 0,-2 15,-11 6,-2 2,1 3,4 0,8 -3,11 -2,2zM302,162l-6,0 -9,-4 -2,-2 -1,-4 4,-6 7,-6 7,-2 6,0 4,1 3,3 1,4 0,4 -1,4 -4,4 -5,3zM518,442l-518,0 0,-46 134,-44 40,-15 48,-21 12,-3 6,0 6,3 13,18 17,14 10,3 10,-1 5,-4 1,-6 -2,-6 -12,-18 -1,-6 0,-6 4,-6 21,-24 10,-22 10,-16 4,-2 12,6 16,11 8,3 6,0 18,-2 36,9 18,3 28,2 40,1zM365,354l7,-4 3,-4 3,-6 -1,-6 -3,-6 -6,-7 -6,-3 -6,-1 -8,5 -6,6 -6,10 0,6 4,6 7,4 11,2z"/><path fill="#00cfaf" fill-rule="evenodd" d="M220,116l-6,1 -8,-3 -7,-6 -11,-16 -6,-5 -8,-3 -20,-4 -6,2 -14,7 -6,0 -6,-1 -6,-4 -3,-6 -1,-6 2,-6 6,-7 8,-4 8,-1 16,2 6,-2 6,-4 11,-10 4,-6 2,-6 -5,-28 112,0 -17,30 -13,18 -10,11 -15,9 -4,4 -1,4 1,14 -6,22zM248,132l-4,0 -4,-2 -4,-4 -1,-4 2,-4 9,-8 6,-2 2,1 2,3 1,8 -3,8 -2,2zM306,161l-4,0 -6,0 -5,-3 -4,-4 0,-4 4,-6 6,-4 5,-2 8,1 4,3 2,4 0,4 -2,4 -4,4zM518,442l-518,0 0,-39 134,-46 40,-16 48,-22 10,-4 6,0 6,3 14,18 18,14 10,3 12,-1 3,-2 4,-4 1,-6 -3,-6 -13,-18 -2,-6 0,-6 4,-6 21,-24 11,-24 8,-13 4,-3 11,6 17,14 8,3 26,0 32,8 24,3 64,4zM363,356l7,-3 6,-5 3,-6 1,-6 -3,-8 -7,-9 -6,-4 -6,-1 -6,2 -7,6 -10,14 -2,6 2,6 8,6 11,2z"/><path fill="#00d0a6" fill-rule="evenodd" d="M218,115l-6,0 -8,-3 -6,-7 -10,-14 -6,-4 -6,-3 -22,-4 -4,0 -16,8 -6,0 -6,-2 -4,-3 -3,-5 -1,-6 2,-6 6,-7 8,-4 8,0 14,2 6,-2 7,-5 11,-10 5,-6 1,-6 -5,-28 110,0 -16,28 -13,19 -12,13 -12,7 -4,3 -2,6 1,10 -1,6 -6,19zM246,130l-4,-1 -3,-3 -1,-2 0,-4 9,-10 5,-1 3,3 1,8 -4,8 -2,1zM304,161l-6,-1 -5,-2 -4,-4 0,-4 2,-4 4,-4 5,-3 6,-1 4,2 3,2 2,6 -1,4 -2,4zM518,442l-518,0 0,-31 134,-50 42,-18 44,-21 12,-4 6,0 4,2 14,17 20,15 6,2 8,1 8,-1 4,-1 7,-7 1,-6 -3,-6 -15,-18 -3,-6 0,-6 3,-4 23,-26 11,-26 6,-10 4,-3 12,7 16,15 10,5 22,1 28,6 22,3 72,4zM366,356l8,-4 6,-6 2,-6 0,-6 -3,-6 -9,-14 -6,-3 -6,-1 -8,4 -6,6 -13,18 -1,6 4,6 10,6 12,2z"/><path fill="#00d29d" fill-rule="evenodd" d="M218,112l-6,1 -6,-2 -6,-5 -12,-16 -6,-4 -6,-3 -22,-4 -4,0 -16,7 -6,0 -4,-1 -4,-3 -3,-6 -1,-4 2,-6 4,-6 8,-4 8,-1 14,2 6,-1 8,-6 13,-12 3,-4 2,-6 -6,-28 108,0 -15,28 -13,18 -11,12 -13,8 -5,4 -2,6 1,10 -1,6 -5,15zM250,126l-2,1 -4,-1 -3,-4 1,-4 2,-4 6,-5 2,1 2,1 1,5 -2,6zM308,158l-4,2 -4,0 -6,-4 -4,-6 3,-6 5,-3 6,-2 4,1 4,2 2,4 0,4 -2,4zM518,442l-518,0 0,-23 130,-50 40,-18 50,-25 12,-5 4,0 4,2 15,17 18,12 9,4 10,1 8,-1 8,-4 12,-9 2,0 14,11 10,4 16,0 11,-4 6,-4 3,-4 2,-4 1,-6 -1,-6 -8,-18 -6,-6 -8,-2 -6,1 -4,2 -8,8 -10,14 -12,11 -4,-1 -18,-17 -6,-7 -3,-5 0,-4 1,-4 25,-28 13,-30 3,-6 3,-2 5,2 7,6 14,17 6,5 6,3 20,5 56,5 68,2z"/><path fill="#00d394" fill-rule="evenodd" d="M216,111l-6,0 -6,-3 -4,-4 -10,-14 -6,-4 -8,-3 -22,-5 -4,1 -14,5 -6,1 -4,-2 -5,-3 -2,-4 -1,-4 2,-6 4,-6 8,-3 6,-1 14,2 6,-1 9,-7 14,-12 3,-5 1,-5 -6,-28 106,0 -15,28 -13,18 -11,12 -14,8 -3,4 -3,6 1,12 -2,6 -4,12zM250,123l-4,0 -2,-3 2,-6 4,-3 3,1 0,4 -1,4zM306,158l-4,1 -4,-1 -4,-4 -2,-4 3,-6 7,-4 6,1 3,1 2,4 0,4 -1,3zM326,330l-4,1 -4,-1 -10,-5 -12,-11 -2,-4 -1,-4 3,-6 23,-26 11,-28 4,-7 2,-1 4,1 6,5 5,6 5,10 2,8 -3,10 2,12 -3,6 -12,15 -8,13 -4,4zM518,442l-518,0 0,-13 122,-50 42,-20 56,-28 10,-4 4,-1 4,2 13,14 21,12 8,3 18,2 18,-7 6,-1 24,8 12,1 8,-1 12,-6 7,-7 3,-6 1,-6 -4,-16 1,-6 4,-6 16,-13 8,-4 12,-3 42,0 50,1z"/><path fill="#00d48b" fill-rule="evenodd" d="M216,109l-6,1 -6,-3 -14,-18 -12,-6 -24,-6 -18,6 -8,-1 -4,-2 -3,-4 -1,-4 2,-6 4,-6 6,-3 6,0 14,2 6,-2 8,-5 16,-14 3,-4 1,-6 -5,-28 103,0 -14,26 -12,18 -12,13 -14,9 -4,4 -2,6 0,12 -2,6 -4,11zM250,118l-2,0 0,-2 2,-3 1,1zM304,158l-6,-1 -5,-7 3,-6 4,-2 4,-1 6,2 3,5 -2,6 -3,2zM326,324l-8,1 -10,-5 -8,-6 -3,-4 -1,-4 5,-8 22,-24 9,-29 3,-5 3,0 6,4 4,6 3,8 1,6 -5,14 -1,12 -2,8 -12,22zM518,442l-518,0 0,-3 116,-50 40,-20 56,-29 14,-6 8,0 16,12 12,5 10,6 10,3 16,1 18,-6 6,-1 26,7 12,0 8,-2 11,-5 7,-6 6,-10 2,-16 2,-5 6,-7 10,-7 10,-6 12,-3 16,-2 22,0 46,1z"/><path fill="#00d482" fill-rule="evenodd" d="M212,108l-4,0 -4,-3 -4,-4 -8,-11 -5,-4 -7,-3 -24,-7 -6,1 -14,5 -8,-2 -3,-2 -2,-4 0,-8 5,-6 6,-2 6,0 12,2 6,-2 26,-20 2,-4 2,-6 -6,-28 100,0 -13,26 -12,18 -11,12 -14,9 -5,5 -2,6 -1,14 -2,8 -4,7zM306,157l-6,0 -5,-5 0,-4 1,-2 4,-4 6,0 4,2 1,2 0,6zM324,319l-8,0 -8,-3 -6,-6 -1,-6 9,-13 17,-15 2,-6 3,-20 3,-6 3,-2 4,3 3,5 2,6 0,6 -7,16 -1,14 -3,8 -6,13zM518,442l-502,0 94,-43 94,-49 16,-7 6,-1 6,0 14,8 12,3 14,6 12,3 14,0 18,-4 6,-1 24,5 18,-1 14,-4 10,-7 6,-8 10,-20 8,-8 9,-6 11,-5 12,-3 16,-1 20,-1 38,1z"/><path fill="#00d479" fill-rule="evenodd" d="M214,106l-4,1 -6,-3 -12,-16 -12,-6 -24,-7 -6,1 -12,4 -8,0 -3,-2 -2,-4 0,-8 3,-4 6,-3 6,0 12,2 6,-2 21,-15 7,-6 2,-4 1,-6 -6,-28 98,0 -12,24 -13,19 -11,13 -15,9 -4,5 -2,6 0,12 -2,7 -4,8zM304,156l-4,0 -2,-2 -2,-4 2,-5 6,-3 5,2 2,4 -2,6zM338,262l-2,-1 -1,-5 1,-7 2,-2 3,3 1,6 -1,4zM320,312l-6,0 -5,-2 -2,-4 0,-4 4,-6 5,-5 8,-4 4,1 2,2 0,4 -1,8 -3,6zM518,442l-480,0 72,-35 87,-47 19,-8 8,-2 6,0 42,12 14,2 14,0 20,-4 26,3 18,-1 14,-4 11,-6 8,-8 15,-20 8,-6 8,-5 12,-4 12,-2 34,-2 32,0z"/><path fill="#02d471" fill-rule="evenodd" d="M214,105l-4,0 -4,-1 -4,-4 -10,-13 -12,-6 -26,-7 -14,5 -8,0 -5,-5 -1,-4 1,-4 3,-4 6,-2 6,0 10,2 6,-2 28,-20 3,-6 1,-6 -5,-28 95,0 -12,24 -12,18 -12,13 -14,10 -4,4 -3,7 0,12 -2,6 -3,7zM306,155l-4,0 -4,-3 -1,-4 3,-3 4,-2 5,3 1,4zM518,442l-459,0 65,-33 72,-41 20,-9 14,-1 42,6 18,2 10,-1 20,-3 24,2 20,0 13,-4 13,-6 7,-6 19,-18 8,-6 10,-5 12,-4 12,-2 32,-2 28,1z"/><path fill="#04d268" fill-rule="evenodd" d="M214,103l-4,1 -4,-2 -4,-3 -8,-11 -6,-5 -20,-6 -10,-4 -6,-1 -14,6 -6,-1 -4,-5 1,-6 3,-4 6,-2 14,3 4,0 32,-23 3,-6 0,-6 -4,-28 92,0 -12,24 -12,18 -13,14 -12,8 -4,4 -3,6 -3,20 -2,5zM304,154l-4,-1 -2,-3 2,-4 4,-1 3,1 2,4 -1,2zM518,442l-436,0 46,-25 66,-39 22,-10 16,-2 60,2 28,-4 22,2 24,-2 14,-3 11,-5 29,-21 18,-9 24,-6 30,-1 26,0z"/><path fill="#05ce61" fill-rule="evenodd" d="M212,102l-4,0 -3,-2 -11,-13 -7,-5 -19,-5 -14,-7 -12,6 -8,0 -4,-4 0,-6 4,-4 4,-1 6,1 8,3 4,0 33,-25 3,-6 0,-6 -4,-28 89,0 -11,24 -12,18 -11,12 -13,9 -5,5 -3,6 -3,20 -3,6zM306,152l-2,1 -3,-1 -1,-4 2,-2 3,0 2,2 0,2zM518,442l-418,0 36,-21 58,-35 14,-7 12,-5 16,-3 60,-2 22,-3 24,1 26,-2 13,-3 10,-4 33,-19 18,-8 22,-4 30,-2 24,1z"/><path fill="#06c85a" fill-rule="evenodd" d="M214,101l-4,1 -4,-2 -12,-14 -4,-3 -6,-3 -16,-4 -13,-8 10,-10 21,-14 5,-6 2,-6 0,-6 -4,-26 88,0 -11,22 -11,18 -12,14 -13,8 -6,6 -3,8 -2,16 -2,6zM138,76l-4,-1 -3,-3 -1,-4 4,-5 4,-1 4,0 6,2 5,4 -8,6zM304,153l-2,-1 -2,-2 1,-2 3,-2 3,2 0,2zM518,442l-409,0 87,-53 14,-7 12,-5 20,-4 34,-3 22,0 18,-3 26,1 28,-3 13,-3 11,-4 30,-16 18,-8 24,-4 28,-2 24,1z"/><path fill="#07c253" fill-rule="evenodd" d="M212,101l-4,0 -4,-3 -8,-11 -6,-4 -22,-7 -7,-4 -3,-4 1,-4 4,-4 24,-16 5,-6 1,-6 0,-6 -4,-26 87,0 -10,22 -12,18 -12,14 -12,8 -6,6 -3,6 -3,20 -2,4zM144,74l-6,2 -4,-1 -3,-5 1,-4 2,-2 4,-2 8,2 4,4 -1,2zM304,152l-2,0 -1,-2 1,-2 2,-1 2,1 0,2zM518,442l-401,0 81,-50 14,-8 12,-4 16,-4 36,-5 22,-1 20,-3 22,2 32,-4 19,-5 35,-17 18,-6 22,-5 26,-1 26,1z"/><path fill="#09bf4b" fill-rule="evenodd" d="M212,100l-6,-1 -11,-13 -5,-4 -22,-7 -6,-3 -3,-4 1,-4 4,-4 24,-16 4,-6 2,-6 0,-6 -4,-26 86,0 -11,22 -11,18 -13,14 -12,8 -5,6 -3,6 -3,19 -3,5zM142,74l-6,1 -4,-3 0,-4 3,-4 3,-1 4,0 6,3 1,2 -1,2zM304,151l-2,-1 2,-2 1,2zM518,442l-393,0 77,-48 14,-7 14,-6 48,-9 20,-1 20,-3 22,1 32,-3 22,-6 32,-14 18,-7 22,-4 26,-1 26,1z"/><path fill="#0bbd43" fill-rule="evenodd" d="M212,99l-2,0 -4,-1 -10,-12 -5,-4 -7,-3 -16,-4 -5,-3 -3,-4 1,-4 4,-4 7,-6 16,-9 5,-7 2,-12 -4,-26 84,0 -10,22 -11,17 -13,15 -13,8 -5,6 -3,6 -3,18 -1,4zM140,74l-4,0 -3,-4 1,-4 4,-2 6,1 3,3 -2,4zM518,442l-381,0 71,-45 18,-9 18,-6 36,-9 18,-1 20,-3 22,1 36,-4 18,-4 34,-14 16,-4 22,-4 24,-1 28,1z"/><path fill="#0dbb3a" fill-rule="evenodd" d="M212,98l-2,0 -4,-1 -9,-11 -5,-4 -6,-3 -18,-5 -4,-2 -2,-4 0,-4 4,-4 6,-5 16,-9 6,-8 2,-10 -4,-28 82,0 -9,20 -11,18 -14,16 -12,8 -6,6 -2,6 -3,18zM142,73l-4,0 -3,-1 -1,-2 1,-4 5,-2 5,2 1,2 -1,2zM518,442l-370,0 52,-34 21,-12 22,-10 30,-10 43,-5 22,0 38,-4 20,-5 34,-11 16,-4 20,-3 22,-1 30,1z"/><path fill="#10b831" fill-rule="evenodd" d="M212,97l-2,0 -4,-2 -10,-11 -4,-3 -6,-3 -16,-3 -5,-3 -2,-4 0,-4 4,-4 7,-5 14,-8 6,-7 2,-6 0,-6 -3,-28 80,0 -9,20 -11,18 -12,14 -13,9 -6,7 -3,6 -3,16zM140,72l-4,-1 -1,-3 2,-2 3,-1 3,1 1,2 0,2zM518,442l-358,0 65,-42 23,-12 28,-11 40,-5 22,0 40,-5 18,-3 50,-13 20,-3 20,0 32,1z"/><path fill="#15b62b" fill-rule="evenodd" d="M212,95l-2,1 -4,-2 -9,-10 -5,-4 -6,-2 -16,-4 -3,-2 -3,-4 1,-4 3,-4 22,-14 5,-6 2,-6 0,-6 -3,-28 78,0 -8,20 -12,18 -12,14 -12,8 -7,8 -3,6 -2,14zM140,71l-2,-1 0,-2 2,-1 2,1zM518,442l-343,0 76,-50 18,-10 9,-4 38,-5 24,0 52,-6 54,-11 36,-3 36,2z"/><path fill="#1bb425" fill-rule="evenodd" d="M210,93l-4,-2 -9,-9 -5,-3 -6,-3 -14,-2 -4,-3 -2,-3 0,-4 4,-4 20,-12 4,-3 3,-5 2,-12 -3,-28 75,0 -9,20 -10,17 -12,13 -14,10 -5,6 -4,8 -3,14 -2,3zM518,442l-319,0 37,-27 31,-27 7,-5 6,-3 36,-5 20,1 24,-4 38,-3 42,-6 34,-1 44,2z"/><path fill="#23b221" fill-rule="evenodd" d="M210,89l-4,0 -9,-9 -5,-3 -6,-2 -14,-2 -5,-5 1,-4 3,-4 19,-10 5,-4 3,-4 2,-12 -2,-30 71,0 -8,20 -10,16 -13,14 -12,9 -7,7 -3,8 -3,12zM518,442l-294,0 24,-20 8,-9 14,-21 6,-6 6,-3 34,-6 22,0 26,-5 94,-2 28,0 32,3z"/><path fill="#2bb01d" fill-rule="evenodd" d="M208,87l-4,-2 -6,-6 -6,-4 -6,-1 -12,-2 -4,-2 -1,-2 0,-4 3,-3 20,-10 4,-3 4,-6 2,-12 -3,-30 68,0 -6,16 -9,16 -12,15 -14,10 -7,7 -4,8 -4,12zM518,442l-270,0 11,-10 7,-10 4,-8 4,-18 4,-6 4,-4 32,-6 22,-1 22,-5 14,-1 94,4 52,5z"/><path fill="#32b018" fill-rule="evenodd" d="M208,83l-2,0 -14,-10 -6,-1 -12,-1 -4,-3 1,-4 2,-2 19,-8 4,-4 5,-6 2,-6 0,-6 -2,-32 65,0 -6,16 -8,14 -12,15 -16,12 -7,7 -3,6zM518,442l-248,0 8,-10 4,-10 1,-8 -2,-16 2,-4 3,-3 29,-9 21,-1 20,-5 12,-1 20,1 38,6 92,10z"/><path fill="#39b012" fill-rule="evenodd" d="M206,77l-2,0 -14,-7 -14,0 -3,-2 0,-2 3,-3 12,-4 6,-3 6,-6 3,-6 2,-12 -2,-32 61,0 -6,18 -9,14 -11,12 -18,14zM518,442l-229,0 3,-8 2,-10 -2,-24 4,-6 18,-9 20,-1 22,-6 10,-2 22,3 54,13 76,11z"/><path fill="#41b210" fill-rule="evenodd" d="M206,70l-2,1 -4,-1 -6,-4 -1,-2 0,-2 10,-12 4,-10 0,-8 -2,-32 57,0 -6,18 -9,14 -11,12 -17,12zM518,442l-213,0 2,-14 -4,-26 1,-4 4,-4 8,-5 18,-1 26,-10 14,1 13,3 33,13 20,5 30,7 48,8z"/><path fill="#49b50f" fill-rule="evenodd" d="M206,63l-2,0 -2,-1 0,-2 5,-12 2,-8 -2,-40 54,0 -7,20 -10,14 -10,9 -14,9zM518,442l-200,0 2,-10 0,-8 -1,-6 -5,-11 0,-5 1,-4 5,-4 14,-3 24,-11 6,-1 7,1 14,4 33,17 20,7 30,8 50,9z"/><path fill="#52b60e" fill-rule="evenodd" d="M214,52l-3,0 -1,-2 1,-12 -3,-22 0,-16 52,0 -6,18 -10,15 -12,10zM518,442l-190,0 3,-24 -1,-4 -4,-8 0,-4 1,-2 4,-4 21,-12 10,-4 8,1 15,5 29,19 20,9 34,9 50,9z"/><path fill="#5bb70d" fill-rule="evenodd" d="M222,46l-6,1 -2,-3 -4,-26 0,-18 49,0 -5,16 -8,13 -12,11zM518,442l-182,0 2,-24 -3,-14 0,-4 7,-8 12,-8 8,-3 8,1 14,6 26,21 18,10 34,10 56,10z"/><path fill="#64b90c" fill-rule="evenodd" d="M220,44l-4,-2 -2,-8 -3,-18 0,-16 47,0 -5,16 -9,14 -12,10 -6,3zM488,442l-143,0 -1,-14 -4,-24 0,-4 5,-8 9,-7 8,-3 8,1 6,3 9,6 17,20 6,5 10,6 28,10 43,9z"/><path fill="#6cbb0a" fill-rule="evenodd" d="M228,40l-8,1 -4,-4 -4,-18 0,-19 45,0 -3,12 -6,12 -10,11zM452,442l-100,0 -2,-12 -7,-24 1,-8 4,-6 8,-6 6,-3 8,2 7,3 7,6 4,6 6,14 10,10 18,9 31,9z"/><path fill="#75bd09" fill-rule="evenodd" d="M230,38l-8,1 -2,-1 -3,-4 -4,-16 0,-18 43,0 -3,12 -5,10 -8,10zM418,442l-56,0 -15,-34 -1,-8 3,-6 6,-6 7,-4 6,1 6,3 4,4 5,6 2,6 3,15 5,9 9,7 18,7z"/><path fill="#7ebf08" fill-rule="evenodd" d="M230,37l-4,0 -4,0 -4,-5 -4,-14 0,-18 41,0 -3,12 -5,10 -7,8zM374,427l-6,0 -6,-4 -8,-9 -4,-8 -1,-6 3,-6 3,-4 6,-4 5,0 7,4 4,4 3,6 1,6 -1,10 -3,8z"/><path fill="#86c207" fill-rule="evenodd" d="M232,34l-8,1 -4,-3 -2,-3 -3,-13 1,-16 38,0 -2,10 -4,10 -8,9zM370,414l-4,1 -6,-2 -4,-4 -3,-5 0,-6 1,-4 3,-4 5,-3 4,1 4,2 3,4 2,4 1,4 -2,6z"/><path fill="#8fc506" fill-rule="evenodd" d="M232,33l-4,1 -4,-1 -5,-5 -3,-12 1,-16 36,0 -2,10 -4,10 -7,8zM366,407l-2,0 -4,-2 -3,-5 1,-6 4,-4 2,0 4,2 2,4 0,6z"/><path fill="#97c804" fill-rule="evenodd" d="M228,32l-6,-3 -4,-7 -1,-8 1,-14 34,0 -2,12 -6,10 -8,7z"/><path fill="#a0c904" fill-rule="evenodd" d="M230,30l-6,-1 -4,-7 -2,-8 1,-14 32,0 -1,10 -5,10 -7,7z"/><path fill="#a9cb04" fill-rule="evenodd" d="M232,29l-6,-1 -3,-2 -2,-4 -2,-8 1,-14 30,0 -1,10 -4,8 -5,6z"/><path fill="#b2cc04" fill-rule="evenodd" d="M234,27l-4,0 -4,-1 -4,-4 -2,-8 1,-14 28,0 0,8 -4,8 -5,7z"/><path fill="#bace02" fill-rule="evenodd" d="M236,24l-6,2 -4,-2 -2,-2 -2,-8 1,-14 25,0 0,8 -3,6 -3,5z"/><path fill="#c3cf01" fill-rule="evenodd" d="M236,22l-4,1 -4,0 -4,-5 -1,-8 2,-10 22,0 -1,8 -2,6 -4,5z"/><path fill="#ccd000" fill-rule="evenodd" d="M236,20l-6,1 -4,-4 -1,-7 2,-10 18,0 0,6 -1,6 -4,5z"/><path fill="#d5d000" fill-rule="evenodd" d="M234,19l-4,-1 -3,-4 0,-6 2,-8 14,0 1,6 -2,6 -4,5z"/><path fill="#ded000" fill-rule="evenodd" d="M238,14l-4,2 -2,0 -3,-4 0,-6 4,-6 6,0 2,2 1,6z"/><path fill="#e5ce00" fill-rule="evenodd" d="M236,12l-3,0 -1,-4 1,-4 3,-1 2,1 2,4z"/></g><path fill="none" stroke="#2a1040" stroke-opacity="0.75" stroke-width="0.9" stroke-linejoin="round" d="M219.6,24.4 222.9,24 226.2,23.7 229.5,23.2 232.8,22.2 236.2,20.5 239.7,18.2 243.1,15.8 246.1,13.4 248.6,11.2 250.8,9 252.8,6.7 254.9,4.5M283.6,84 284.5,82 285.2,80 286.3,78 288,76.3 290.6,74.8 294,73.6 297.6,72.5 301.3,71.8 305,71.5 308.9,71.5 312.8,71.7 316.7,71.8M325.5,99.4 325.4,102.3 325.4,105.3 325.1,108.1 324.4,110.5 322.9,112.5 320.8,114.3 318.6,115.5 316.7,116 315.1,115.5 313.7,114.2 312.4,112.4 311.2,110.5 310.5,108.4 310,106 309.4,103.6 307.9,101.6 305.2,100.2 301.6,99.1 297.8,98.2 294.6,97.2 291.9,96.2 289.5,95.3 287.4,94.2 285.8,92.8 284.8,90.9 284.3,88.7 284,86.3 283.6,84M261.5,59.7 262,62.4 262.6,65.2 263.2,67.9 263.7,70.7 264.5,73.5 265.5,76.5 266.1,79.3 265.9,81.8 264.5,84.2 262.2,86.4 259.6,88.3 257.1,89.5 254.7,89.9 252.3,89.7 250,89.1 248.3,88.4 247.3,87.5 246.8,86.4 246.5,85.2 246.1,84M248.3,89.5 252.3,90.2 256.4,90.8 260.3,91.6 263.7,92.8 266.7,94.6 269.4,96.8 271.5,99.3 272.6,101.6 272.5,103.8 271.3,106 269.7,108.3 268.1,110.5 266.6,112.7 264.9,114.9 263.2,117.1 261.5,119.3M261.5,159 264.1,160.7 266.6,162.4 269.4,164.1 272.6,165.6 276.5,167 281,168.4 285.6,169.5 290.2,170.1 294.7,170.1 299.3,169.6 303.8,168.8 307.9,167.8 311.7,166.5 315.3,164.8 318.5,163 321.1,161.2 323,159.5 324.4,157.9 325.2,156.2 325.5,154.6 325,153 323.8,151.3 322.4,149.6 321.1,148M142.3,53.1 145.1,51.8 148,50.5 150.8,49.3 153.4,48.7 155.8,48.8 157.9,49.4 160.1,50.2 162.2,50.9M215.2,284.6 218.3,282.6 221.3,280.5 224.4,278.5 227.7,276.5 231.2,274.5 234.9,272.6 238.6,270.8 242.1,269.4 245.4,268.5 248.5,267.8 251.5,267.6 254.6,267.6 257.8,268.1 261.1,269 264.2,270 267.2,271.1 269.9,272.5 272.4,274.1 274.7,275.4 277,275.6 279.1,274.4 281,272.2 282.9,269.5 285.1,266.7 287.7,263.9 290.6,260.8 293.4,257.6 295.9,254.1 297.9,250.2 299.7,246 301.3,241.9 303,238 304.6,234.5 306,231.1 307.8,228.1 310.2,225.4 313.4,223.2 317.2,221.3 321.6,219.7 326.3,218.3 331.7,217.1 337.7,216.2 343.8,215.4 349.7,214.7 355.2,214.1 360.6,213.7 365.9,213.3 371.2,212.9"/><path fill="none" stroke="#0a0410" stroke-width="4" stroke-linecap="butt" stroke-linejoin="round" d="M122.5,42 129.1,47.6M182.1,8.9 183.8,11.7 185.5,14.5 187.2,17.2 188.7,20 190.2,22.8 191.6,25.6 192.7,28.4 193.1,31 192.7,33.4 191.7,35.7 190.3,37.8 188.7,39.8 186.7,41.6 184.3,43.1 181.9,44.7 179.9,46.5 178.7,48.7 178,51 177.1,53.4 175.5,55.3 173,56.8 170,57.9 166.4,58.9 162.2,59.7 157.1,60.4 151.1,60.9 145.2,61.3 140.1,61.9 136,62.6 132.4,63.4 129.4,64.3 126.9,65.2 124.9,66.2 123.5,67.3 122.6,68.5 122.5,69.6 123.1,70.8 124.4,72 126.4,73.1 129.1,74 132.6,74.6 137,75 141.8,75.2 146.8,75.2 152.2,74.7 157.9,73.8 163.7,73.1 168.8,72.9 173.3,73.5 177.5,74.7 181.2,76.1 184.3,77.4 186.6,78.5 188.2,79.6 189.5,80.7 190.9,81.8M263.7,35.4 262.1,38.2 260.5,41 258.9,43.7 257.1,46.5 255.2,49.4 253.1,52.4 250.9,55.1 248.3,57.5 245.2,59.3 241.8,60.6 238.3,61.8 235,63 232,64.2 229,65.4 226.3,66.7 224,68.5 222.1,70.9 220.5,73.7 219.3,76.7 218.5,79.6 218.2,82.4 218.3,85.2 218.8,87.9 219.6,90.6 220.8,93.3 222.3,96 224.1,98.5 226.2,100.5 228.7,101.9 231.6,102.8 234.5,103.4 237.2,103.8 239.7,103.9 242.2,103.7 244.4,103.6 246.1,103.8 247.3,104.6 248,105.8 248.4,107.1 248.3,108.3 247.7,109.4 246.5,110.5 245.2,111.6 243.9,112.7M254.6,376.9 265.4,373.4M319.2,367.1 322.2,366.1 325.1,365 328.2,364.1 331.7,363.5 335.7,363.4 340.1,363.7 344.8,364.1 349.7,364.4 354.7,364.5 360,364.6 365.5,364.6 371.2,364.4 377.2,363.9 383.5,363.2 389.9,362.4 396.3,361.7"/><ellipse cx="277.9" cy="290.9" rx="3" ry="3.6" fill="none" stroke="#0a0410" stroke-width="2.2"/><text class="cl" style="font-size:23.5px" text-anchor="middle" transform="translate(212.5,1.3) rotate(100)" y="8.5">0.6</text><text class="cl" style="font-size:23.5px" text-anchor="middle" transform="translate(206.4,103.8) rotate(40)" y="8.5">0.4</text><text class="cl" style="font-size:23.5px" text-anchor="middle" transform="translate(332.2,79.6) rotate(50)" y="8.5">0.2</text><text class="cl" style="font-size:23.5px" text-anchor="middle" transform="translate(297.1,148.4) rotate(-15)" y="8.5">0.4</text><text class="cl" style="font-size:23.5px" text-anchor="middle" transform="translate(397.3,209.8) rotate(0)" y="8.5">0.2</text><text class="cl" style="font-size:23.5px" text-anchor="middle" transform="translate(292.3,366.2) rotate(0)" y="8.5">0.4</text><text class="cl" style="font-size:23.5px" text-anchor="middle" transform="translate(289.5,43.2) rotate(-40)" y="8.5">0.</text></g>
<use href="#land"/>
<use href="#grid"/>
<path stroke="#1a0828" stroke-opacity="0.8" stroke-width="3.2" stroke-linecap="round" d="M224.1,21.3h0M188,36.6h0M209.2,36.2h0M234.6,37.1h0M202.4,42.2h0M195.3,49.2h0M231.2,51.5h0M159.2,51.1h0M159.5,66.9h0M179.1,68.8h0M167,76.8h0M160.5,83.7h0M177.8,83.7h0M162.3,88h0M206.6,83.3h0M227.5,83.3h0M252.3,79.4h0M249.8,86.8h0M248,94.3h0M167.5,97.6h0M212,101.7h0M245.2,104.5h0M182.8,111.6h0M196.8,111.6h0M278.7,65h0M278.7,90.5h0M341.7,40.3h0M352.7,39.9h0M324.7,48.6h0M317.9,63.5h0M345.8,63.8h0M327.8,92.7h0M303,101.4h0M297.1,114.4h0M312.9,115.7h0M278.2,115h0M311,128.7h0M332.4,128.7h0M296.4,129.9h0M303.9,148h0M301.4,156.1h0M327.8,147.7h0M345.5,148h0M316,174.1h0M239.3,196.5h0M265.2,196.5h0M291.5,196.5h0M317.5,196.5h0M357.3,196.5h0M291.5,220.9h0M239,245.1h0M265,245.3h0M278,245.3h0M291.6,245.3h0M318,245.3h0M356.8,244.7h0M254.8,293.3h0M278,293.1h0M304.6,293.1h0M320.8,293.1h0M356.8,293.3h0M278,341.2h0M305,341.2h0M337.6,341.2h0M356.8,341.2h0M298.1,390h0M318,390h0M337.6,390h0M356.8,390h0"/><path stroke="#0a0410" stroke-width="5.5" stroke-linecap="round" d="M303.8,292.7h2"/>
</g>
<use href="#frameG"/>
<text class="ax" text-anchor="end" x="-6" y="11.5">40°N</text>
<text class="ax" text-anchor="end" x="-6" y="108.5">38°N</text>
<text class="ax" text-anchor="end" x="-6" y="205.5">36°N</text>
<text class="ax" text-anchor="end" x="-6" y="302.5">34°N</text>
<text class="ax" text-anchor="end" x="-6" y="399.5">32°N</text>
<text class="ax" text-anchor="middle" x="3.1" y="472.3">115°E</text>
<text class="ax" text-anchor="middle" x="200.1" y="472.3">120°E</text>
<text class="ax" text-anchor="middle" x="397.1" y="472.3">125°E</text>
<text class="odv" transform="translate(537.6,434.6) rotate(-90)">Ocean Data View</text>
<path d="M551.9,3.4 L567.15,-4.0 L582.4,3.4 Z" fill="#f8b47c"/>
<path d="M551.9,437.7 L567.15,445.09999999999997 L582.4,437.7 Z" fill="#e870f8"/>
<rect x="551.9" y="2.9" width="30.5" height="435.3" fill="url(#cbg)"/>
<path d="M551.9,2.9 L567.15,-4.0 L582.4,2.9 V438.2 L567.15,445.09999999999997 L551.9,438.2 Z" fill="none" stroke="#4a4038" stroke-width="0.8"/>
<path d="M551.9,438.2h6.5M582.4,438.2h-6.5" stroke="#000" stroke-width="1.6"/>
<text class="ax" x="589.4" y="447.2">0</text>
<path d="M551.9,351.1h6.5M582.4,351.1h-6.5" stroke="#000" stroke-width="1.6"/>
<text class="ax" x="589.4" y="360.1">0.2</text>
<path d="M551.9,264.1h6.5M582.4,264.1h-6.5" stroke="#000" stroke-width="1.6"/>
<text class="ax" x="589.4" y="273.1">0.4</text>
<path d="M551.9,177.0h6.5M582.4,177.0h-6.5" stroke="#000" stroke-width="1.6"/>
<text class="ax" x="589.4" y="186.0">0.6</text>
<path d="M551.9,90.0h6.5M582.4,90.0h-6.5" stroke="#000" stroke-width="1.6"/>
<text class="ax" x="589.4" y="99.0">0.8</text>
<path d="M551.9,2.9h6.5M582.4,2.9h-6.5" stroke="#000" stroke-width="1.6"/>
<text class="ax" x="589.4" y="11.9">1</text>
</g>
<text class="pl" x="4" y="1736.9">G</text>
<text class="tt" x="148.3" y="1745.7">[</text><text class="tt" x="163.20000000000002" y="1745.7">P</text><text class="tt" x="187.20000000000002" y="1745.7">O</text><text class="tt" x="215.9" y="1760.9" style="font-size:19px">4</text><text class="tt" x="228.5" y="1736.2" style="font-size:19px">3-</text><text class="tt" x="246.3" y="1745.7">]</text><text class="tt" x="275.1" y="1745.7" textLength="88.5" lengthAdjust="spacingAndGlyphs">µmol</text><text class="tt" x="375.3" y="1745.7">L</text><text class="tt" x="399.9" y="1732.2" style="font-size:19px">-1</text><text class="tt at" x="416.3" y="1745.7">@</text><text class="tt" x="602.2" y="1745.7" text-anchor="end">surface</text>
<g transform="translate(821.2,1769.3)">
<g clip-path="url(#fr)">
<clipPath id="rgH"><path d="M117.5,40 117.5,100 150,104 154,138 173,145 197,143 204,128 211,152 201,188 199,200 198.5,205.5 194,223.2 193,238.6 194,256.3 198.5,269.5 208.4,278.3 210,290 215,310 220,330 224,345 228,352 238,368 246,380 254,390 264,398 270,404 271,410 270.2,415.2 274.6,420.7 283.4,424 369.5,424 380.5,421.8 391.6,415.2 397,404.1 397.4,380 397.4,235.5 397.8,189.5 393.4,176.5 384.6,163.2 386.8,150 382.4,132.5 369,119.1 364.7,105.5 369.1,92.5 378,75 389,52.5 393.3,35.2 386.7,17.5 369,6.5 362,0 190,-3 173,12 166,32 141,42Z"/></clipPath><g clip-path="url(#rgH)"><g filter="url(#bl)"><rect x="-10" y="-10" width="538.0" height="462.0" fill="#c953f8"/><path fill="#c24bf8" fill-rule="evenodd" d="M518,443l-518,0 0,-443 478,0 6,6 8,5 12,4 14,3zM219,210l3,-2 1,-2 -1,-5 -6,-3 -6,2 -2,4 2,4 4,2z"/><path fill="#bb46f9" fill-rule="evenodd" d="M518,443l-518,0 0,-443 460,0 3,6 5,6 10,7 16,5 24,4zM220,214l4,-2 3,-4 0,-6 -3,-4 -4,-3 -4,-2 -6,1 -5,2 -4,6 0,4 2,4 3,3 4,2z"/><path fill="#b442fb" fill-rule="evenodd" d="M518,443l-518,0 0,-443 446,0 1,8 4,8 5,6 8,5 20,7 34,3zM210,220l6,-1 8,-2 4,-3 2,-6 0,-6 -3,-6 -5,-5 -6,-2 -8,0 -6,3 -6,6 -2,6 0,6 4,6 6,3z"/><path fill="#ab3efc" fill-rule="evenodd" d="M518,443l-518,0 0,-443 435,0 0,12 3,10 4,6 8,6 10,4 14,4 44,3zM214,226l14,-6 4,-6 2,-8 -2,-8 -4,-6 -8,-6 -8,-1 -8,1 -9,6 -6,8 -1,8 2,8 6,7 8,3z"/><path fill="#a33cfc" fill-rule="evenodd" d="M518,443l-518,0 0,-443 430,0 0,14 2,10 6,8 7,6 11,4 14,4 48,3zM226,238l-1,-10 7,-9 3,-9 0,-8 -2,-6 -7,-8 -8,-5 -8,0 -10,3 -8,6 -6,8 -1,10 2,8 5,6 8,6 10,4 10,6 4,0z"/><path fill="#9a39fc" fill-rule="evenodd" d="M518,443l-518,0 0,-443 425,0 -1,14 3,12 5,8 8,7 12,5 14,3 52,4zM229,244l3,-4 0,-12 5,-18 -1,-8 -2,-7 -8,-9 -8,-5 -10,0 -10,4 -9,7 -5,8 -2,10 3,10 9,10 17,12 9,3z"/><path fill="#9137fc" fill-rule="evenodd" d="M518,443l-518,0 0,-443 420,0 -1,16 2,12 6,10 9,7 12,5 16,3 54,3zM233,246l2,-4 0,-14 3,-20 -1,-8 -3,-8 -9,-10 -7,-3 -13,1 -13,6 -8,8 -5,10 0,10 5,10 10,11 16,11 12,2 6,0z"/><path fill="#8935fc" fill-rule="evenodd" d="M518,443l-518,0 0,-443 414,0 -2,18 2,12 6,11 10,8 14,6 16,3 20,2 38,1zM231,250l5,-2 2,-6 2,-36 -1,-8 -3,-8 -8,-11 -6,-2 -8,-1 -8,1 -14,6 -11,9 -5,10 -1,6 0,6 4,10 10,12 17,12 10,2z"/><path fill="#7f34fc" fill-rule="evenodd" d="M518,443l-518,0 0,-443 408,0 -2,18 2,14 2,6 4,6 10,9 14,6 18,4 20,2 42,1zM232,252l5,-2 3,-4 2,-26 0,-12 -1,-10 -8,-22 -5,-2 -16,0 -12,2 -12,6 -12,10 -5,10 0,12 5,12 10,12 18,12 10,3z"/><path fill="#7736fc" fill-rule="evenodd" d="M518,443l-518,0 0,-443 402,0 -3,20 1,14 6,12 6,6 6,5 15,7 19,4 22,3 44,1zM233,254l6,-2 3,-4 3,-26 -1,-20 -4,-18 0,-10 -2,-4 -8,-1 -25,3 -13,4 -11,6 -10,10 -3,6 -2,6 0,12 6,12 6,8 7,6 17,10 10,3z"/><path fill="#6f3afc" fill-rule="evenodd" d="M518,443l-518,0 0,-443 394,0 -3,22 1,8 1,8 4,8 5,6 12,10 17,8 19,5 22,2 46,1zM234,256l6,-2 3,-4 2,-16 3,-12 -5,-48 -1,-6 -4,-2 -6,-1 -28,4 -17,5 -13,8 -10,11 -3,7 -1,6 0,8 2,6 7,12 13,12 9,6 11,5 10,2z"/><path fill="#6a41fc" fill-rule="evenodd" d="M518,443l-518,0 0,-443 385,0 -4,22 1,8 1,8 4,8 6,8 7,7 8,6 18,9 20,6 22,2 50,3zM292,126l2,-4 -2,-3 -6,-3 -3,2 -1,4 2,4 4,1zM213,260l25,-2 6,-4 3,-6 1,-14 4,-10 0,-4 -3,-20 -3,-30 -2,-5 -6,-3 -10,0 -24,3 -14,3 -11,4 -11,6 -7,6 -6,8 -3,8 0,10 2,10 5,10 7,8 10,8 14,8 14,5z"/><path fill="#6549fc" fill-rule="evenodd" d="M518,443l-518,0 0,-443 374,0 -3,22 0,10 1,6 3,6 17,18 14,11 20,12 18,5 20,2 54,3zM291,130l5,-4 1,-6 -5,-4 -4,-2 -6,1 -2,1 -2,4 1,6 5,4zM222,262l12,-1 8,-2 4,-3 3,-6 2,-16 4,-8 1,-4 -4,-22 -2,-28 -3,-8 -5,-4 -8,-2 -32,2 -24,6 -10,4 -8,4 -7,6 -5,6 -3,6 -2,8 -1,8 2,8 6,14 7,8 7,6 9,6 11,6 20,6z"/><path fill="#6050fc" fill-rule="evenodd" d="M518,443l-518,-1 0,-442 363,0 -3,12 -2,14 -2,5 -4,1 -10,-8 -6,-2 -7,2 -5,4 -2,4 2,6 7,8 5,3 6,1 14,-4 4,0 6,2 10,6 16,16 16,12 12,8 12,5 22,4 64,4zM155,42l-1,-9 -2,-5 -4,-5 -2,1 0,6 4,9 4,5zM293,132l3,-2 2,-4 1,-4 -2,-4 -5,-4 -6,-2 -4,0 -4,2 -2,4 0,4 2,8 6,4 4,0zM225,264l11,-1 8,-2 6,-5 2,-6 1,-16 5,-8 0,-4 -4,-20 -1,-32 -3,-8 -6,-4 -8,-2 -42,1 -14,2 -14,4 -10,4 -7,5 -6,6 -5,8 -4,8 -1,8 0,8 2,8 4,8 5,8 8,8 8,6 20,10 22,6z"/><path fill="#5c58fc" fill-rule="evenodd" d="M518,442l-518,0 0,-442 352,0 -8,8 -20,11 -6,7 -1,6 1,6 4,7 6,5 12,5 18,-3 6,1 6,2 8,6 11,11 25,21 8,5 8,3 20,4 68,5zM157,46l1,-4 0,-10 -4,-15 -4,-6 -6,-6 -6,-3 -4,0 -2,2 -1,4 3,8 3,8 13,20 4,3 2,0zM288,136l6,-2 4,-4 2,-4 0,-6 -3,-4 -7,-4 -6,-2 -6,2 -3,2 -1,4 -1,6 2,6 5,5zM222,266l14,-1 10,-3 5,-4 3,-6 1,-18 4,-6 1,-6 -4,-22 0,-30 -2,-6 -2,-4 -5,-4 -9,-2 -48,-1 -30,4 -8,3 -8,5 -8,7 -5,8 -4,8 -2,10 0,10 1,8 5,10 5,8 7,8 9,7 10,6 12,5 24,6 10,1z"/><path fill="#5860fc" fill-rule="evenodd" d="M518,442l-518,0 0,-442 117,0 8,14 21,28 6,5 4,2 2,-1 2,-4 0,-20 -4,-12 -8,-12 194,0 -20,16 -4,4 -3,6 -2,6 2,8 3,7 6,5 8,3 8,3 18,-2 6,1 6,2 8,6 36,34 6,4 8,4 18,3 72,6zM289,138l7,-3 4,-5 2,-5 -1,-5 -3,-5 -8,-4 -8,-2 -5,1 -3,2 -2,6 0,8 1,6 5,5 6,2zM175,124l-1,-4 -2,-1 -3,3 1,3 2,1zM216,268l20,-1 10,-3 6,-3 4,-7 1,-6 0,-12 4,-8 1,-6 -4,-20 0,-32 -3,-10 -5,-5 -8,-3 -54,-4 -28,0 -6,2 -8,4 -10,7 -8,8 -6,9 -4,10 -2,10 1,10 2,10 5,10 6,8 8,8 11,8 11,6 14,5 14,4 14,1zM323,172l4,-4 -1,-2 -2,-2 -4,0 -5,2 -1,3 1,3 3,1z"/><path fill="#5266fc" fill-rule="evenodd" d="M518,442l-518,0 0,-442 106,0 40,44 5,4 5,2 3,-2 2,-4 1,-18 -2,-12 -7,-14 181,0 -16,15 -5,7 -2,6 -1,6 2,8 3,6 5,5 6,3 10,3 6,0 16,-1 6,2 6,2 6,5 18,17 18,20 6,5 6,2 16,3 78,8zM288,140l8,-3 4,-4 3,-7 0,-6 -5,-6 -8,-4 -8,-2 -6,0 -4,4 -1,4 -1,10 1,8 3,4 4,2zM236,268l10,-2 5,-2 4,-4 3,-6 0,-18 4,-8 1,-6 -4,-22 1,-32 -2,-9 -4,-5 -8,-3 -48,-6 -26,-6 -1,-1 1,-2 4,-3 2,-3 2,-10 0,-4 -2,-4 -2,0 -4,0 -4,2 -5,6 -7,16 -27,22 -8,8 -6,10 -4,10 -2,12 1,12 3,10 7,12 10,12 14,10 16,8 16,5 18,3 14,0zM323,174l7,-4 1,-4 -1,-2 -6,-3 -4,0 -4,2 -4,5 1,4 3,3z"/><path fill="#4c6cfc" fill-rule="evenodd" d="M518,442l-518,0 0,-442 96,0 26,21 25,25 5,3 4,1 4,-2 1,-2 3,-20 -2,-14 -5,-12 172,0 -15,16 -5,12 -1,6 1,8 3,7 5,5 7,4 10,2 8,1 16,-1 6,2 6,3 7,5 15,16 18,23 4,3 6,3 14,3 50,4 34,4zM223,270l19,-1 8,-2 6,-5 3,-6 1,-6 0,-14 3,-8 1,-6 -3,-22 1,-32 -1,-10 -3,-5 -6,-3 -42,-5 -14,-3 -8,-3 -3,-3 -2,-4 0,-18 -1,-3 -4,-3 -6,1 -6,3 -5,4 -13,16 -26,24 -11,14 -5,10 -3,12 -1,12 2,10 6,14 10,12 12,11 16,9 16,6 20,4 18,1zM287,142l9,-3 5,-5 3,-8 0,-6 -4,-5 -8,-5 -10,-3 -8,0 -3,3 -2,6 0,12 1,9 2,3 4,2zM320,176l7,-2 6,-4 1,-4 -3,-4 -5,-3 -6,0 -4,1 -4,4 -1,4 1,5 4,3z"/><path fill="#4573fc" fill-rule="evenodd" d="M518,442l-518,0 0,-442 86,0 18,11 14,10 30,27 8,3 3,-1 3,-4 3,-18 -1,-14 -5,-14 166,0 -13,16 -4,8 -2,6 0,6 1,8 3,7 4,4 13,5 13,2 18,0 6,2 6,3 8,6 14,15 16,26 8,5 12,2 52,4 38,5zM286,68l2,-2 -2,-2 -4,0 -4,2 0,2 2,1zM211,272l39,-4 6,-3 3,-5 2,-8 0,-16 4,-14 -3,-24 1,-34 -1,-10 -2,-4 -4,-1 -40,-5 -14,-3 -10,-4 -4,-3 -2,-4 -1,-20 -5,-4 -6,0 -6,2 -8,6 -18,18 -23,20 -11,12 -6,10 -4,12 -2,12 1,12 6,14 7,12 13,12 15,10 16,7 18,5 20,2zM284,144l10,-3 6,-4 4,-7 1,-8 -3,-6 -8,-6 -10,-4 -10,-1 -4,3 -1,4 -2,18 1,10 1,2 3,2zM325,176l5,-2 5,-4 1,-4 -2,-4 -4,-3 -6,-2 -6,1 -4,2 -4,6 0,4 2,4 4,3z"/><path fill="#3f79fc" fill-rule="evenodd" d="M518,442l-518,0 0,-442 74,0 20,9 16,9 18,13 19,17 5,3 4,0 4,-1 3,-4 3,-18 0,-14 -5,-14 162,0 -13,16 -5,14 -1,6 1,8 3,8 3,4 7,3 12,3 30,2 10,4 8,7 11,13 8,12 7,16 3,4 4,2 11,2 60,4 36,6zM289,70l2,-2 1,-4 -2,-3 -4,-2 -6,2 -5,5 -1,2 1,2 3,2 4,0zM220,272l30,-2 6,-3 4,-5 2,-10 0,-16 4,-14 -4,-26 4,-46 4,-2 16,-3 10,-3 6,-6 4,-8 0,-6 -3,-6 -5,-4 -8,-4 -12,-4 -4,0 -4,1 -2,5 -4,34 -4,2 -8,0 -32,-2 -14,-4 -10,-4 -6,-4 -2,-4 -1,-6 0,-10 -2,-4 -5,-3 -10,0 -11,7 -45,38 -11,12 -8,14 -3,8 -1,10 0,10 2,10 4,10 7,10 7,8 9,8 20,12 12,5 14,4 26,3zM328,176l4,-2 5,-4 1,-6 -3,-4 -5,-3 -6,-1 -8,1 -4,3 -2,4 -1,4 2,6 3,3 4,1z"/><path fill="#387ffc" fill-rule="evenodd" d="M518,442l-518,0 0,-442 58,0 12,4 20,7 20,10 18,12 18,15 6,3 4,1 4,-2 3,-4 4,-16 0,-14 -4,-16 157,0 -11,16 -6,14 -1,12 4,14 4,3 10,3 16,2 22,1 6,1 6,4 11,10 10,14 5,10 4,17 2,3 8,3 60,3 48,7zM289,72l5,-4 2,-6 -2,-3 -6,-2 -4,0 -4,1 -6,6 -3,4 2,4 3,2zM209,274l43,-3 4,-2 4,-4 3,-11 0,-16 4,-14 0,-6 -4,-16 0,-8 3,-26 2,-12 2,-4 3,-2 19,-5 6,-3 5,-6 4,-8 -1,-6 -1,-4 -3,-4 -8,-5 -14,-5 -6,-2 -4,1 -3,3 -2,24 -3,10 -2,2 -4,2 -14,1 -24,-3 -10,-3 -10,-4 -6,-5 -2,-4 -2,-6 1,-8 -3,-5 -6,-4 -10,1 -12,6 -46,36 -12,12 -9,14 -4,10 -2,10 0,10 2,10 4,10 6,10 6,8 9,8 10,8 10,5 23,9 27,5zM323,178l11,-4 4,-4 2,-4 -1,-4 -5,-5 -8,-2 -8,0 -6,3 -3,4 -1,6 2,6 6,4z"/><path fill="#3085fc" fill-rule="evenodd" d="M518,442l-518,0 0,-442 36,0 24,5 20,6 18,6 16,8 16,10 18,14 8,3 5,-2 3,-4 4,-16 0,-16 -4,-14 154,0 -10,15 -6,13 -2,10 2,14 -1,4 -1,1 -2,0 -12,-3 -6,2 -10,10 -1,4 0,2 2,2 7,1 12,-2 5,-5 7,-9 24,4 30,2 12,4 8,7 10,12 6,10 3,10 1,10 -3,10 -3,4 -10,4 -2,3 2,2 5,-1 7,-7 2,-1 30,-2 46,2 48,7zM253,88l3,-4 -2,-4 -4,0 -4,3 -1,3 2,2zM215,274l37,-2 6,-3 4,-5 2,-12 0,-16 3,-14 -3,-18 0,-10 2,-22 3,-14 2,-4 3,-3 20,-6 5,-3 5,-6 3,-8 0,-6 -3,-6 -4,-4 -10,-5 -16,-6 -6,1 -2,4 -1,20 -4,12 -3,3 -4,2 -12,1 -22,-3 -18,-6 -6,-4 -4,-5 -2,-6 1,-8 -5,-6 -2,-2 -6,-2 -10,2 -12,6 -49,36 -13,14 -9,14 -3,10 -1,10 0,10 4,12 4,10 7,10 7,8 9,8 10,6 12,7 12,4 14,4 26,3zM326,178l6,-2 6,-4 3,-6 -1,-5 -4,-4 -6,-3 -8,0 -8,2 -4,3 -2,4 -1,5 1,4 3,4 3,2 6,1z"/><path fill="#298bfc" fill-rule="evenodd" d="M518,442l-518,0 0,-441 52,6 18,4 18,5 28,12 12,7 20,15 8,2 4,-1 3,-3 6,-18 0,-16 -3,-14 150,0 -9,14 -5,12 -3,12 -1,14 -14,0 -8,4 -6,7 -3,5 -1,4 0,2 2,2 8,1 12,-3 5,-2 9,-8 4,-2 48,4 8,2 6,3 8,6 9,11 5,10 3,10 0,8 -3,7 -4,4 -12,7 -3,4 1,4 6,4 6,-1 14,-8 6,-2 22,-3 22,0 22,2 48,8zM255,90l3,-2 1,-2 0,-6 -1,-1 -6,-1 -6,2 -2,4 0,4 4,2zM204,276l20,-2 30,-1 4,-2 3,-3 4,-12 0,-18 3,-14 -4,-28 2,-20 4,-16 2,-4 4,-4 18,-6 6,-3 4,-5 3,-8 1,-6 -2,-6 -3,-4 -7,-5 -20,-8 -8,-1 -2,1 -1,3 -1,20 -2,8 -2,5 -3,3 -5,2 -16,1 -18,-3 -16,-7 -6,-5 -4,-5 -1,-3 2,-6 -1,-2 -4,-6 -7,-4 -11,0 -13,6 -50,34 -13,12 -11,14 -4,10 -2,10 -1,10 2,10 4,12 5,10 8,10 8,8 11,8 10,6 24,10 28,4zM328,178l6,-2 5,-4 3,-6 0,-6 -5,-4 -7,-3 -10,0 -8,3 -2,2 -3,6 0,6 1,4 4,3 4,2zM272,308l2,-2 0,-4 -2,-3 -2,-1 -2,2 0,4 2,4z"/><path fill="#2391fc" fill-rule="evenodd" d="M518,442l-518,0 0,-432 52,3 18,2 18,4 28,11 14,8 17,12 9,3 4,-1 4,-4 6,-16 1,-16 -4,-16 147,0 -12,22 -8,24 -18,7 -4,3 -12,17 -14,5 -3,6 0,4 1,1 6,3 10,0 2,-2 1,-6 1,-3 26,-7 12,-8 4,-1 50,2 10,4 10,8 10,13 4,12 0,8 -3,8 -5,5 -13,7 -3,4 0,6 4,5 6,2 6,0 26,-11 12,-2 14,-1 40,2 44,8zM193,278l33,-4 30,1 4,-2 2,-3 4,-14 0,-18 3,-16 -4,-24 4,-30 3,-8 4,-6 6,-3 16,-5 4,-3 3,-5 3,-8 0,-8 -3,-6 -7,-6 -26,-12 -6,-2 -2,4 0,22 -4,12 -3,4 -5,2 -16,1 -16,-2 -13,-5 -6,-4 -5,-6 -2,-4 1,-6 0,-2 -8,-8 -3,-2 -6,-1 -10,0 -10,5 -53,32 -14,12 -12,14 -5,10 -3,10 -1,10 1,10 3,10 4,10 7,10 8,10 9,8 10,7 12,6 12,5 14,4 14,3zM331,178l7,-4 4,-4 2,-8 -2,-5 -6,-4 -8,-1 -12,0 -6,3 -3,5 -1,6 0,6 3,4 3,2 6,2zM274,310l2,-4 0,-5 -4,-6 -4,-1 -3,4 0,8 3,4 2,1 2,1z"/><path fill="#1c99fc" fill-rule="evenodd" d="M518,442l-518,0 0,-424 54,0 20,2 16,3 14,4 14,6 12,6 16,11 6,3 4,0 4,-1 4,-4 7,-16 1,-16 -3,-16 143,0 -10,18 -10,24 -4,3 -16,8 -12,17 -14,7 -4,5 -1,4 2,4 15,6 2,2 2,4 1,12 0,8 -3,9 -4,6 -8,3 -10,0 -12,-1 -12,-3 -7,-4 -6,-6 -3,-4 -1,-10 -9,-8 -8,-4 -10,0 -11,4 -58,32 -18,14 -11,14 -7,16 -1,16 4,18 8,16 13,16 15,12 19,10 21,7 18,4 20,1 48,-5 12,0 16,2 4,-3 4,-14 1,-22 3,-16 -4,-18 0,-8 2,-14 3,-16 3,-7 6,-5 22,-8 5,-10 3,-10 -1,-6 -5,-6 -8,-6 -23,-12 -5,-4 -1,-6 4,-4 21,-8 12,-7 10,-1 42,2 12,5 11,11 8,14 1,6 0,6 -2,6 -3,4 -16,10 -4,4 -2,6 0,4 3,3 4,2 8,2 6,0 28,-11 12,-2 14,-1 38,3 44,8zM325,180l11,-3 6,-5 4,-8 0,-6 -4,-4 -10,-3 -12,0 -10,2 -3,3 -2,8 0,6 2,4 3,4 4,2zM273,314l3,-3 1,-3 0,-8 -5,-9 -4,-2 -2,1 -2,2 -1,4 0,10 5,7 2,1z"/><path fill="#179efa" fill-rule="evenodd" d="M518,442l-518,0 0,-409 56,-6 18,0 16,1 14,3 14,4 12,6 18,11 8,2 5,-2 5,-4 6,-14 2,-18 -3,-16 138,0 -20,38 -4,4 -15,8 -10,16 -4,3 -12,7 -3,4 -1,6 1,4 3,3 12,6 3,3 2,6 1,8 -1,8 -3,7 -4,4 -6,3 -10,1 -12,-2 -10,-3 -6,-4 -5,-4 -2,-4 -5,-12 -11,-8 -9,-4 -10,0 -8,3 -55,25 -15,8 -12,7 -10,9 -8,10 -5,10 -2,12 -1,10 2,12 4,12 5,10 7,10 9,10 9,8 11,8 13,7 14,6 16,4 16,2 28,1 42,-5 12,0 8,1 6,3 4,3 1,4 0,12 2,8 3,6 6,5 4,0 2,-2 3,-7 1,-6 -4,-12 -8,-10 -1,-4 1,-40 3,-18 -3,-16 0,-10 5,-26 3,-7 6,-5 10,-4 6,-1 4,1 2,4 -1,12 2,6 7,6 8,1 11,-1 9,-4 6,-6 6,-12 4,-4 6,-1 20,1 26,-9 12,-2 20,-1 24,1 26,5 28,6zM350,148l-6,2 -14,-2 -16,0 -4,0 -2,-2 0,-4 3,-14 0,-6 -2,-4 -7,-7 -25,-15 -4,-6 1,-4 1,-2 27,-13 8,-2 42,0 10,3 8,5 7,9 5,8 2,8 0,8 -5,8 -15,9 -3,3z"/><path fill="#14a5f9" fill-rule="evenodd" d="M518,442l-518,0 0,-379 54,-21 16,-4 16,-2 16,1 14,2 14,5 20,10 6,1 4,-1 4,-2 3,-4 8,-14 2,-18 -2,-16 130,0 -14,26 -5,8 -5,4 -14,10 -10,16 -15,10 -3,4 -1,6 1,6 3,4 12,8 5,8 1,6 -1,6 -3,6 -4,4 -6,3 -8,0 -10,-1 -8,-2 -10,-8 -7,-12 -4,-4 -15,-10 -12,-3 -8,1 -24,10 -74,21 -12,6 -10,7 -8,10 -5,10 -2,12 0,14 3,14 6,16 7,12 7,10 18,17 22,15 24,10 22,5 24,2 26,-1 36,-7 14,0 8,2 4,3 3,4 3,18 4,10 8,9 4,2 2,0 4,-4 2,-5 2,-14 -2,-11 -8,-15 -1,-8 -1,-30 3,-20 -3,-16 0,-8 2,-12 4,-14 3,-6 5,-4 8,-3 6,1 2,4 1,8 3,6 6,5 10,2 10,-1 10,-3 6,-5 10,-11 6,-3 24,-3 22,-6 14,-2 20,-1 22,3 26,5 28,8zM322,144l-6,0 -2,-2 -1,-2 1,-14 -1,-6 -3,-4 -7,-6 -17,-10 -5,-4 -3,-6 1,-4 9,-6 12,-6 8,-1 36,-2 10,1 8,3 10,9 5,10 2,10 -2,8 -4,4 -15,10 -14,14 -6,2z"/><path fill="#14adfb" fill-rule="evenodd" d="M244,132l-12,0 -12,-4 -8,-6 -11,-14 -15,-10 -10,-4 -10,0 -24,8 -32,5 -22,3 -20,0 -19,-2 -13,-4 -6,-6 -1,-8 2,-6 5,-8 13,-14 14,-10 19,-8 16,-2 16,0 14,3 22,10 6,1 6,-2 9,-8 4,-6 2,-6 2,-20 -2,-14 124,0 -11,22 -6,9 -18,15 -12,18 -12,8 -4,4 -2,8 2,7 4,5 12,9 4,9 -1,6 -3,6 -4,4zM334,138l-12,2 -4,-2 -2,-14 -4,-8 -7,-6 -17,-10 -6,-6 -1,-6 3,-4 12,-6 8,-3 36,-2 8,0 8,2 6,3 6,6 4,6 3,8 0,6 -2,6 -29,23zM518,442l-518,0 0,-286 3,16 4,16 6,16 8,14 10,14 10,12 13,12 14,10 16,9 18,8 19,5 19,3 16,1 16,-1 18,-2 32,-8 12,0 7,1 5,3 4,5 3,18 5,11 10,12 6,4 4,-3 2,-4 3,-12 1,-10 -2,-14 -7,-16 -2,-8 -1,-28 3,-20 -3,-14 -1,-8 2,-10 4,-14 4,-6 5,-5 6,-2 3,1 4,10 4,6 7,4 10,2 12,-1 9,-3 17,-14 6,-3 60,-10 20,0 22,4 24,5 28,9z"/><path fill="#11b5f6" fill-rule="evenodd" d="M244,130l-10,1 -12,-4 -7,-5 -10,-12 -5,-4 -16,-10 -10,-3 -8,-1 -24,7 -26,3 -22,0 -16,-3 -8,-3 -7,-6 -4,-8 1,-8 6,-10 8,-8 11,-6 13,-4 12,-1 12,0 8,2 16,7 8,2 6,0 4,-2 5,-4 6,-8 4,-8 2,-20 -2,-14 120,0 -11,20 -6,10 -18,17 -10,15 -14,10 -3,4 -2,8 2,8 3,4 13,10 3,8 0,5 -3,5 -3,3zM332,134l-9,0 -1,-2 -5,-12 -5,-6 -27,-18 -2,-6 2,-4 7,-5 10,-4 16,0 22,-3 14,2 6,3 6,5 4,6 2,6 0,6 -2,6 -3,4 -23,17 -6,4zM518,442l-518,0 0,-232 10,14 11,14 23,21 26,17 14,7 15,5 29,6 28,1 28,-3 38,-9 12,0 7,1 3,2 3,4 5,20 3,8 13,20 6,4 4,-2 2,-4 4,-16 1,-14 -3,-18 -5,-12 -3,-10 -1,-26 4,-22 -4,-12 0,-8 1,-9 4,-11 4,-7 4,-4 6,-1 8,10 8,6 8,3 8,0 10,-1 8,-3 16,-12 10,-5 46,-7 20,0 18,1 20,4 22,7 24,8z"/><path fill="#0ebaf0" fill-rule="evenodd" d="M244,128l-10,1 -10,-3 -8,-5 -14,-15 -18,-11 -10,-4 -8,0 -20,6 -12,1 -26,0 -18,-4 -8,-4 -6,-6 -2,-6 1,-8 5,-8 6,-6 10,-5 10,-3 10,-1 10,1 28,9 6,-1 5,-2 11,-12 4,-8 3,-20 -2,-14 115,0 -9,18 -6,10 -17,17 -12,17 -12,8 -4,5 -2,9 2,8 4,5 11,9 4,8 0,4 -3,5 -4,4zM332,130l-6,-1 -12,-15 -19,-12 -8,-6 -3,-6 3,-4 7,-5 8,-3 16,0 22,-3 12,2 6,3 5,4 4,6 2,6 0,6 -2,6 -23,17 -6,4zM518,442l-518,0 0,-212 24,24 25,18 27,14 28,9 26,4 26,0 28,-4 38,-11 10,0 8,2 3,2 2,4 4,18 5,10 13,22 3,3 4,2 4,-2 4,-5 4,-32 -2,-18 -7,-16 -2,-10 -1,-24 4,-22 -4,-12 0,-8 4,-16 4,-7 4,-4 4,-1 2,1 10,9 8,4 8,2 8,0 10,-2 7,-2 17,-12 8,-4 42,-6 22,0 18,2 20,4 20,6 24,9 4,2z"/><path fill="#0abeea" fill-rule="evenodd" d="M238,128l-8,-1 -8,-3 -19,-18 -19,-11 -10,-4 -8,-1 -18,5 -12,2 -24,-1 -16,-4 -8,-4 -5,-6 -2,-6 1,-8 3,-6 7,-6 8,-4 10,-3 10,-1 8,1 26,8 6,0 6,-3 11,-12 4,-8 3,-20 -2,-14 113,0 -9,18 -6,10 -16,16 -12,17 -13,9 -3,4 -2,10 1,8 3,4 12,10 4,8 0,4 -4,6 -6,3zM338,127l-6,1 -6,-2 -13,-14 -23,-14 -4,-6 0,-4 8,-6 10,-3 14,0 24,-3 10,2 7,4 5,5 3,5 1,6 -1,6 -7,8 -14,10zM518,442l-518,0 0,-202 26,22 25,16 27,12 28,8 26,3 26,-1 28,-4 34,-10 10,-1 8,1 3,2 3,4 5,22 11,18 4,10 4,5 6,2 6,-3 4,-6 3,-26 0,-12 -3,-12 -7,-18 -1,-10 -1,-22 4,-22 -5,-16 1,-8 2,-8 5,-9 4,-4 2,-1 4,1 9,7 9,5 8,1 10,0 10,-2 6,-2 16,-11 8,-3 40,-6 18,-1 16,1 18,4 38,12 20,8z"/><path fill="#06c2e3" fill-rule="evenodd" d="M244,126l-10,1 -10,-3 -6,-4 -14,-14 -20,-12 -10,-4 -8,-1 -18,5 -10,1 -22,-1 -14,-3 -8,-5 -5,-4 -2,-6 0,-8 4,-6 6,-6 8,-4 8,-2 15,0 26,7 6,0 6,-3 12,-12 3,-8 4,-20 -2,-14 111,0 -9,18 -7,10 -15,16 -11,16 -14,10 -3,4 -2,10 2,8 3,5 12,11 3,6 0,4 -3,4zM338,124l-6,2 -6,-3 -12,-11 -23,-14 -5,-6 1,-4 8,-6 9,-3 14,1 24,-3 8,1 8,4 4,4 4,6 0,6 -1,6 -3,4 -6,5zM518,442l-518,0 0,-194 26,20 24,14 28,12 28,7 24,2 26,0 28,-5 38,-12 10,0 6,1 4,5 7,24 9,16 5,12 5,6 6,1 6,-3 4,-6 3,-28 0,-10 -2,-14 -8,-24 -2,-22 1,-8 3,-18 -4,-14 0,-8 5,-14 6,-7 2,-1 4,1 11,7 9,4 16,0 16,-3 16,-11 8,-3 36,-5 18,-1 14,1 16,2 36,11 30,13zM361,240l-1,-2 -1,0 0,2z"/><path fill="#03c5db" fill-rule="evenodd" d="M244,125l-10,1 -10,-4 -19,-16 -21,-13 -10,-3 -8,-1 -16,4 -10,1 -22,-2 -12,-3 -8,-4 -4,-5 -3,-6 2,-8 4,-6 5,-4 6,-3 8,-2 14,0 24,7 8,-1 5,-3 11,-11 4,-9 4,-20 -2,-14 109,0 -8,16 -6,10 -17,18 -11,16 -13,10 -3,4 -2,10 1,8 4,5 11,11 3,6 -1,6zM338,122l-6,1 -4,-1 -13,-10 -19,-11 -8,-7 -1,-4 1,-2 6,-5 8,-3 18,1 22,-3 8,1 6,3 5,4 3,6 1,6 -1,4 -4,6 -4,4 -10,7zM518,442l-518,0 0,-187 27,19 26,14 27,10 28,6 24,2 26,-2 28,-5 34,-11 8,-1 8,1 3,2 3,4 5,22 9,16 6,14 6,6 6,1 6,-2 5,-9 3,-28 -1,-18 -2,-10 -7,-18 -2,-22 0,-10 4,-18 -4,-12 0,-8 2,-10 6,-9 2,-2 4,-1 22,10 8,1 12,0 14,-4 14,-10 8,-3 28,-4 20,-2 14,1 16,2 32,9 40,17zM365,244l2,-2 0,-2 -4,-6 -3,-6 -4,-1 -2,3 2,12 4,3z"/><path fill="#02c7d2" fill-rule="evenodd" d="M242,124l-8,1 -9,-3 -21,-17 -20,-12 -10,-4 -8,-1 -16,4 -10,1 -20,-2 -10,-3 -8,-4 -6,-6 -1,-6 1,-6 3,-4 5,-5 6,-3 8,-2 12,0 24,6 8,-1 6,-3 10,-10 5,-10 3,-20 -1,-14 107,0 -8,16 -6,10 -16,17 -10,15 -14,11 -4,5 -1,10 1,8 4,6 10,10 3,6 -2,6zM340,120l-6,2 -6,-1 -15,-11 -15,-8 -9,-8 -1,-4 1,-2 5,-4 8,-3 18,1 22,-4 6,1 6,3 5,4 3,4 2,6 -1,6 -7,8zM518,442l-518,0 0,-181 26,17 28,14 26,9 28,5 26,2 24,-2 26,-5 38,-13 8,0 6,1 4,5 6,22 9,16 6,16 7,6 6,1 6,-3 6,-10 2,-26 -1,-20 -2,-10 -7,-18 -2,-22 1,-10 4,-18 -5,-14 0,-6 3,-10 5,-8 6,-3 22,10 8,1 12,-1 13,-3 17,-11 8,-3 44,-5 14,1 14,2 30,8 21,8 25,12zM367,246l4,-4 -1,-4 -5,-4 -4,-8 -3,-1 -4,1 -1,2 0,4 3,12 4,3z"/><path fill="#01cac9" fill-rule="evenodd" d="M238,124l-8,-1 -6,-3 -20,-15 -20,-12 -10,-4 -8,-2 -16,5 -10,1 -18,-3 -10,-3 -8,-5 -4,-4 -2,-6 1,-6 3,-4 4,-4 6,-3 8,-2 10,-1 18,5 8,1 6,-1 6,-3 10,-10 5,-10 4,-20 -2,-14 106,0 -8,16 -6,10 -15,16 -11,16 -15,12 -2,4 -2,10 1,8 3,5 11,11 3,6 0,3 -2,3 -4,3zM334,120l-6,-1 -14,-9 -19,-10 -5,-6 -1,-4 1,-2 4,-4 8,-3 18,2 20,-4 8,1 8,4 4,4 2,6 0,6 -2,4 -4,5 -8,6 -8,4zM518,442l-518,0 0,-176 26,16 28,13 28,9 28,5 26,1 24,-3 26,-6 34,-11 6,-1 8,1 3,2 3,4 5,20 9,17 6,15 6,7 8,1 6,-2 4,-5 3,-7 1,-8 1,-22 -1,-12 -3,-14 -6,-20 -3,-20 1,-10 4,-18 -4,-14 0,-6 3,-10 4,-7 6,-3 22,9 10,1 12,-1 12,-3 16,-10 8,-3 40,-4 14,0 14,1 29,8 25,10 26,12zM367,248l7,-4 1,-2 0,-4 -7,-6 -4,-6 -4,-3 -4,1 -4,4 0,6 2,9 4,4 4,1z"/><path fill="#00ccc0" fill-rule="evenodd" d="M242,122l-8,1 -8,-2 -22,-17 -22,-13 -8,-3 -8,-1 -16,4 -8,1 -8,-1 -19,-5 -7,-4 -4,-4 -3,-6 1,-6 3,-4 4,-4 11,-4 10,-1 26,6 6,-1 7,-4 10,-10 5,-10 4,-20 -2,-14 104,0 -8,16 -6,10 -14,16 -11,16 -15,12 -3,4 -1,10 1,8 3,5 10,11 3,6 -1,4zM336,118l-8,-1 -12,-7 -18,-9 -8,-7 -1,-4 1,-2 5,-4 7,-2 18,2 22,-5 6,2 6,3 4,4 3,4 0,6 -1,4 -4,5 -6,5 -8,4zM518,442l-518,0 0,-171 26,15 28,12 28,9 28,4 26,0 24,-2 26,-6 34,-12 6,-1 6,1 4,2 2,3 6,20 9,18 6,16 3,4 4,2 8,1 6,-2 4,-4 3,-7 1,-8 1,-34 -3,-16 -7,-20 -2,-20 0,-10 5,-18 -5,-14 0,-6 2,-8 5,-7 4,-3 4,0 22,8 10,0 12,-1 12,-3 12,-8 8,-4 12,-2 26,-2 26,1 29,7 26,10 31,15zM372,248l4,-2 3,-4 -1,-4 -2,-4 -12,-11 -6,-1 -4,2 -3,4 0,4 1,8 3,6 3,2 4,2z"/><path fill="#00cdb8" fill-rule="evenodd" d="M236,122l-6,-1 -6,-3 -19,-14 -23,-13 -8,-4 -8,-1 -16,4 -8,1 -8,-1 -18,-6 -7,-4 -3,-4 -1,-4 0,-6 3,-4 5,-4 9,-4 10,0 24,5 8,-2 5,-3 11,-10 5,-10 3,-20 -1,-14 102,0 -8,16 -6,10 -14,16 -11,16 -14,11 -3,5 -2,10 1,8 4,6 9,10 3,6 -1,4 -3,2zM338,116l-6,1 -4,-1 -28,-14 -6,-4 -3,-4 -1,-4 1,-2 5,-4 6,-2 18,3 22,-5 10,4 5,4 2,4 0,8 -2,4 -5,5 -8,5zM518,442l-518,0 0,-165 28,15 26,10 28,8 28,4 26,0 24,-3 24,-6 36,-13 10,0 4,2 3,4 6,18 8,18 7,18 7,6 9,1 6,-3 4,-4 4,-8 1,-8 0,-34 -3,-16 -6,-20 -3,-20 1,-12 4,-16 -4,-14 0,-6 2,-7 4,-7 4,-3 4,0 22,7 10,1 14,-1 10,-3 13,-9 7,-3 12,-2 20,-2 28,1 26,6 30,12 34,17zM372,250l8,-4 2,-4 0,-4 -4,-7 -5,-5 -9,-5 -6,0 -4,2 -3,3 -1,4 1,10 3,6 4,4 4,1z"/><path fill="#00cfaf" fill-rule="evenodd" d="M240,120l-6,0 -8,-2 -20,-14 -12,-6 -12,-8 -8,-3 -8,-2 -16,5 -8,0 -21,-6 -7,-4 -4,-4 -2,-4 1,-6 5,-6 10,-5 8,0 18,4 8,0 6,-1 6,-4 10,-10 5,-10 4,-20 -1,-14 100,0 -7,14 -6,10 -15,18 -10,15 -14,11 -4,6 -1,10 1,9 3,5 8,10 3,6 -2,4zM336,114l-8,-1 -28,-11 -5,-4 -3,-4 -1,-4 1,-2 4,-3 6,-2 18,3 6,-1 14,-4 6,1 4,2 5,4 2,4 1,4 -1,4 -3,4 -6,5 -6,4zM518,442l-518,0 0,-159 28,14 28,10 26,7 28,3 26,-1 24,-3 24,-6 34,-13 6,-1 6,1 3,2 2,4 6,18 16,36 7,6 4,1 6,-1 6,-2 4,-4 4,-8 2,-10 0,-34 -3,-16 -7,-20 -2,-20 1,-12 4,-16 -4,-12 -1,-6 2,-8 4,-6 4,-3 4,-1 24,7 24,-1 10,-3 12,-8 6,-3 10,-2 16,-1 28,0 26,5 30,12 40,21zM372,252l7,-2 6,-4 1,-4 -1,-4 -6,-10 -5,-5 -10,-4 -8,1 -4,3 -2,5 0,8 2,9 4,5 4,2 6,1z"/><path fill="#00d0a6" fill-rule="evenodd" d="M240,118l-6,1 -8,-3 -19,-12 -13,-7 -12,-8 -8,-3 -8,-1 -14,3 -8,1 -7,-1 -13,-5 -6,-3 -4,-4 -2,-4 0,-6 5,-6 9,-4 8,0 24,4 8,-3 7,-5 8,-8 5,-10 4,-20 -2,-14 98,0 -6,14 -6,10 -14,17 -10,15 -14,12 -4,6 -2,10 1,8 2,4 8,10 3,6 -1,4zM336,112l-8,-1 -28,-10 -4,-3 -3,-4 -1,-4 1,-2 5,-4 4,-1 20,4 18,-5 8,2 5,4 2,4 1,4 -1,4 -3,4 -5,4zM518,442l-518,0 0,-152 28,12 28,10 28,6 26,2 26,-1 24,-3 24,-7 34,-13 9,0 4,2 3,4 18,48 4,6 4,4 4,2 10,0 8,-4 4,-4 4,-10 1,-8 0,-34 -3,-16 -7,-20 -2,-20 0,-12 5,-16 -4,-12 -1,-6 1,-6 4,-7 4,-3 4,-1 24,6 26,-1 8,-2 12,-8 6,-3 22,-3 28,0 26,6 31,12 43,23zM370,254l8,-2 6,-2 5,-4 1,-4 -8,-14 -4,-5 -10,-5 -6,-1 -4,1 -6,4 -3,4 0,6 1,10 2,4 4,5 6,2z"/><path fill="#00d29d" fill-rule="evenodd" d="M238,116l-6,1 -6,-2 -17,-11 -15,-7 -12,-8 -10,-4 -8,-1 -10,3 -8,1 -11,-2 -11,-5 -6,-5 -2,-4 0,-6 5,-6 9,-3 24,3 8,-1 6,-2 9,-7 7,-8 4,-10 3,-18 -1,-14 95,0 -10,20 -15,19 -9,15 -6,6 -10,8 -3,4 -2,8 0,10 2,7 6,7 3,6 0,4zM340,108l-10,1 -26,-7 -9,-6 -2,-4 0,-2 4,-4 5,-2 22,5 15,-5 5,0 4,2 3,4 2,6 -2,4 -3,4zM518,442l-518,0 0,-145 28,12 28,8 28,5 26,2 24,-1 24,-4 24,-6 33,-13 9,-1 4,2 4,5 18,46 4,6 4,4 5,2 5,1 6,-1 8,-4 4,-4 4,-9 2,-9 -1,-36 -3,-16 -7,-22 -2,-18 1,-12 4,-16 -3,-12 -1,-6 1,-6 4,-6 5,-3 4,-1 22,6 26,-1 8,-2 12,-8 6,-2 20,-4 24,1 24,4 18,6 17,8 47,27zM381,254l8,-4 4,-6 -1,-4 -10,-16 -7,-6 -9,-3 -6,0 -6,3 -5,6 -1,6 1,10 3,8 6,5 6,2 8,1z"/><path fill="#00d394" fill-rule="evenodd" d="M234,114l-8,-2 -32,-16 -14,-9 -8,-3 -8,-1 -16,4 -6,0 -6,-2 -9,-5 -5,-4 -2,-4 0,-6 4,-5 8,-3 24,3 8,-1 6,-4 8,-6 7,-8 4,-10 3,-18 -1,-14 92,0 -9,20 -15,20 -9,14 -6,6 -10,8 -3,4 -2,10 0,10 2,6 5,6 2,6 0,2zM342,104l-10,2 -26,-4 -6,-3 -4,-3 -2,-4 1,-2 4,-4 5,-1 20,7 4,0 10,-6 5,0 5,4 2,4 -3,6zM518,442l-518,0 0,-137 28,10 28,8 28,4 26,1 24,-1 22,-4 24,-7 32,-12 10,-1 4,2 4,5 10,22 7,20 5,8 4,4 5,2 5,1 6,-1 8,-3 6,-5 5,-10 2,-10 -1,-36 -3,-16 -7,-22 -2,-18 1,-12 4,-16 -3,-12 -1,-6 2,-6 2,-4 5,-4 4,0 22,4 29,0 7,-2 10,-7 6,-3 18,-3 22,0 22,4 18,6 19,9 51,31zM382,256l10,-5 3,-3 1,-4 -1,-4 -11,-17 -6,-6 -8,-3 -8,-1 -6,2 -6,6 -3,7 0,10 4,10 5,6 6,2 8,1z"/><path fill="#00d48b" fill-rule="evenodd" d="M234,110l-6,0 -28,-12 -6,-3 -12,-8 -10,-4 -8,-1 -16,4 -10,-2 -12,-8 -3,-4 0,-6 4,-4 7,-2 22,1 8,-1 6,-3 11,-9 6,-8 3,-10 3,-16 -1,-14 90,0 -10,20 -14,19 -9,15 -15,13 -4,5 -1,8 -1,12 2,7 5,7zM316,102l-8,0 -6,-2 -5,-4 -1,-4 0,-2 4,-4 4,0 13,6 7,6 -1,2zM340,100l-6,1 -3,-1 -2,-2 7,-7 6,-1 2,1 1,3 -2,4zM518,442l-518,0 0,-129 29,9 27,6 26,4 26,1 24,-2 22,-4 22,-6 34,-12 10,-1 6,4 4,6 14,36 5,8 5,4 6,2 6,1 6,-1 8,-4 6,-5 5,-9 3,-10 -1,-38 -3,-16 -7,-22 -2,-18 0,-12 5,-16 -3,-12 -1,-6 2,-6 2,-3 4,-3 4,-1 22,4 32,0 6,-2 12,-9 18,-3 20,0 19,3 18,6 21,10 23,14 33,22zM382,258l8,-2 6,-5 2,-5 -1,-6 -7,-10 -4,-8 -6,-6 -12,-5 -6,-1 -4,1 -8,8 -3,7 -1,10 3,12 5,6 8,4 10,1z"/><path fill="#00d482" fill-rule="evenodd" d="M228,106l-10,-2 -18,-6 -6,-3 -12,-9 -10,-4 -8,-1 -14,4 -10,-2 -9,-5 -4,-4 -1,-4 0,-4 5,-4 5,-1 22,1 6,-1 6,-3 12,-10 6,-8 4,-10 2,-16 -1,-14 87,0 -8,18 -14,20 -9,14 -5,6 -10,8 -3,4 -2,6 -2,10 0,8 2,10zM314,100l-6,1 -6,-2 -5,-5 0,-4 3,-3 4,-1 7,4 6,6 0,2zM518,442l-518,0 0,-122 28,9 26,5 26,3 26,1 24,-2 22,-4 20,-5 34,-12 10,-2 6,3 5,6 5,10 8,22 7,10 5,4 6,3 6,0 8,-1 8,-4 7,-6 5,-10 3,-10 -1,-36 -4,-18 -6,-24 -3,-16 1,-12 5,-16 -4,-16 1,-6 2,-3 4,-4 6,-1 20,4 32,1 6,-2 12,-9 12,-3 18,-1 20,3 18,6 19,9 23,14 42,29zM383,260l9,-2 6,-4 3,-6 0,-4 -1,-4 -8,-10 -5,-10 -5,-5 -6,-4 -8,-3 -6,0 -4,1 -8,8 -4,9 -1,12 3,10 6,7 6,4 10,2z"/><path fill="#00d479" fill-rule="evenodd" d="M224,103l-8,-1 -16,-5 -6,-3 -12,-9 -10,-4 -8,-1 -14,4 -8,-1 -5,-3 -5,-4 -3,-4 0,-4 3,-4 6,-2 22,0 6,-1 18,-13 5,-8 4,-10 2,-16 -1,-14 85,0 -8,18 -14,20 -9,14 -5,6 -10,8 -3,4 -2,8 -2,22zM312,99l-4,1 -6,-2 -4,-4 0,-4 3,-2 3,-1 6,3 2,2 3,4 -1,2zM518,442l-518,0 0,-114 28,7 26,5 26,3 24,0 22,-2 22,-4 22,-5 34,-12 10,-1 6,3 4,5 14,31 8,10 6,4 6,1 6,0 8,-2 10,-5 6,-6 6,-10 2,-10 -1,-36 -11,-42 -2,-16 1,-12 4,-16 -3,-16 2,-8 4,-3 6,-2 20,3 36,2 4,-1 10,-8 10,-4 16,-1 18,2 19,6 20,10 21,14 48,35zM382,262l12,-3 8,-5 3,-6 -2,-8 -10,-12 -5,-10 -6,-5 -14,-8 -6,-1 -4,1 -8,9 -5,12 -1,10 3,12 5,7 8,5 10,2z"/><path fill="#02d471" fill-rule="evenodd" d="M220,101l-8,-1 -12,-4 -6,-3 -12,-9 -10,-5 -6,0 -16,3 -8,-1 -5,-3 -4,-4 -1,-6 3,-4 5,-2 20,1 6,-1 19,-14 6,-8 3,-10 2,-16 -1,-14 82,0 -8,18 -13,19 -9,15 -5,6 -10,8 -3,4 -5,27 -2,3zM310,98l-4,1 -5,-3 -2,-4 1,-2 4,-2 5,2 3,4 0,2zM518,442l-518,0 0,-106 26,6 26,4 26,3 24,0 22,-2 20,-4 20,-5 34,-10 12,-1 6,2 4,4 14,27 8,10 7,4 7,2 6,0 8,-2 10,-5 8,-7 6,-10 3,-10 -2,-38 -10,-42 -2,-16 1,-12 4,-16 -3,-16 3,-8 4,-3 6,-1 16,3 24,1 14,4 3,2 0,2 -9,18 -3,10 1,10 3,10 5,7 8,5 10,2 14,0 12,-3 8,-4 4,-7 0,-8 -4,-6 -8,-8 -9,-14 -9,-7 -14,-7 -2,-2 -1,-2 5,-8 8,-4 14,-2 16,1 21,7 18,10 75,56z"/><path fill="#04d268" fill-rule="evenodd" d="M220,98l-8,1 -12,-4 -6,-3 -12,-9 -10,-5 -6,0 -14,3 -8,-1 -4,-2 -4,-4 -1,-4 0,-2 3,-3 4,-1 24,-1 14,-9 7,-6 5,-8 3,-10 2,-14 -1,-16 79,0 -7,18 -13,18 -9,16 -17,16 -2,6 -3,18 -2,4zM308,97l-4,0 -2,-2 -1,-3 1,-2 4,-1 3,3 1,3zM518,442l-518,0 0,-98 26,6 24,4 24,1 24,0 20,-1 20,-3 54,-14 12,-1 6,1 6,5 14,22 10,10 6,3 8,2 8,0 8,-2 10,-6 8,-7 6,-10 4,-12 -2,-38 -10,-42 -2,-16 0,-12 5,-16 -3,-14 2,-8 4,-4 6,-1 16,3 22,1 8,2 4,3 2,2 0,4 -6,16 -2,10 2,12 3,8 7,8 8,4 10,2 16,0 12,-3 8,-4 5,-7 1,-8 -5,-8 -11,-10 -8,-12 -18,-14 -3,-4 0,-2 1,-4 8,-4 10,-2 10,1 17,5 19,10 84,66z"/><path fill="#05ce61" fill-rule="evenodd" d="M218,97l-8,0 -10,-3 -18,-12 -10,-5 -6,-1 -14,4 -8,-1 -6,-5 -1,-4 1,-2 2,-2 4,-2 22,0 15,-10 7,-6 5,-8 3,-10 2,-14 -1,-16 77,0 -8,18 -12,18 -8,15 -4,5 -11,8 -3,4 -2,4 -4,20 -2,4zM308,95l-2,1 -2,-1 -2,-3 2,-2 2,0 2,2zM518,442l-518,0 0,-90 24,5 24,3 24,1 22,0 36,-4 56,-12 14,-1 6,2 4,2 18,22 12,9 6,2 8,1 8,-1 6,-2 12,-6 10,-9 6,-10 3,-12 -2,-38 -10,-44 -2,-14 0,-12 5,-16 -3,-14 0,-4 2,-4 5,-3 6,-1 14,2 20,2 10,3 3,3 1,4 -6,20 0,10 2,10 4,9 8,8 8,3 12,2 16,-1 12,-2 9,-5 5,-6 2,-8 -2,-6 -2,-4 -15,-12 -9,-12 -15,-12 -3,-4 0,-4 5,-4 7,-2 8,1 17,5 14,8 10,8 27,25 56,43z"/><path fill="#06c85a" fill-rule="evenodd" d="M218,96l-8,1 -10,-3 -18,-13 -10,-5 -6,0 -14,3 -6,0 -6,-4 -2,-5 2,-3 4,-2 22,0 16,-11 7,-6 5,-8 3,-10 1,-14 0,-16 75,0 -6,16 -21,34 -5,6 -10,8 -3,4 -6,22 -1,4zM306,95l-3,-1 0,-2 1,-1 2,0 1,1 0,2zM518,442l-518,0 0,-86 24,4 24,3 22,1 22,0 36,-4 54,-11 14,-1 6,1 6,3 18,20 12,9 6,2 8,1 8,-1 8,-2 14,-9 8,-8 7,-12 2,-10 -1,-38 -11,-44 -2,-14 0,-12 5,-16 -3,-14 2,-6 5,-5 6,0 14,2 20,1 10,4 3,4 0,4 -5,17 -1,11 3,12 4,8 8,8 8,3 12,1 18,0 12,-2 8,-4 7,-8 3,-8 -1,-6 -5,-6 -16,-12 -10,-12 -14,-12 -2,-4 3,-4 7,-2 8,0 17,6 13,8 32,32 62,47z"/><path fill="#07c253" fill-rule="evenodd" d="M216,96l-8,0 -8,-2 -18,-14 -12,-5 -6,0 -10,4 -8,-1 -6,-4 -1,-4 3,-3 4,-2 8,0 10,1 4,-2 21,-16 5,-8 3,-10 2,-14 -1,-16 74,0 -6,16 -13,20 -7,14 -5,6 -11,8 -3,4 -5,22 -2,4zM306,94l-2,-2 3,0zM518,442l-518,0 0,-83 44,7 44,1 36,-3 56,-11 14,-1 6,1 6,3 21,20 11,7 6,2 8,1 14,-3 12,-7 10,-9 8,-11 4,-12 -2,-38 -10,-46 -3,-14 1,-12 4,-16 -2,-14 1,-6 5,-4 6,-1 32,3 6,1 5,3 3,4 0,4 -5,18 0,10 2,12 5,9 8,7 8,4 14,1 18,0 14,-3 10,-6 7,-8 2,-10 -1,-4 -3,-4 -21,-13 -10,-11 -14,-12 -1,-4 3,-4 4,-1 6,0 15,5 13,8 8,8 12,18 6,6 40,28 32,24z"/><path fill="#09bf4b" fill-rule="evenodd" d="M218,94l-6,2 -10,-2 -6,-3 -16,-12 -10,-5 -6,1 -10,3 -6,0 -6,-4 -1,-4 3,-4 4,-1 6,0 10,1 4,-1 16,-11 6,-6 5,-8 3,-10 1,-14 0,-16 72,0 -6,16 -12,20 -8,14 -5,6 -10,8 -3,4 -5,20zM424,223l-8,0 -10,-4 -11,-11 -11,-8 -3,-4 1,-3 4,-2 8,0 8,3 10,6 7,6 6,8 1,6zM518,442l-518,0 0,-79 44,6 42,1 34,-3 56,-10 16,-1 6,1 6,3 21,18 13,7 8,2 8,0 14,-4 14,-9 8,-8 7,-12 3,-12 -1,-36 -11,-46 -2,-14 0,-12 4,-16 -2,-12 1,-6 3,-5 6,-2 34,3 8,3 5,5 0,6 -4,20 1,14 2,7 4,7 4,4 6,4 8,3 16,1 14,0 12,-1 8,-3 7,-4 15,-16 4,-1 4,0 12,4 16,10 44,32z"/><path fill="#0bbd43" fill-rule="evenodd" d="M216,94l-8,1 -8,-2 -18,-14 -12,-6 -4,0 -10,4 -6,0 -6,-2 -2,-5 2,-2 6,-2 6,0 8,2 4,-1 23,-19 5,-8 2,-8 2,-14 0,-18 70,0 -6,16 -12,20 -8,14 -4,5 -11,9 -3,4 -5,20 -2,4zM518,442l-518,0 0,-74 42,5 42,2 32,-3 56,-9 16,-1 8,2 6,2 22,16 12,6 8,2 8,0 14,-4 14,-9 10,-10 7,-11 4,-12 -2,-38 -10,-46 -3,-14 1,-12 4,-16 -2,-12 0,-6 4,-4 5,-2 32,3 8,2 6,5 0,6 -4,20 1,14 3,8 3,6 5,5 6,4 14,4 20,1 12,0 16,-4 22,-10 10,-1 12,4 14,8 40,30zM408,209l-4,-1 -13,-8 -5,-4 1,-2 3,0 9,4 9,8 1,2z"/><path fill="#0dbb3a" fill-rule="evenodd" d="M214,94l-6,0 -8,-2 -16,-13 -15,-9 0,-2 6,-6 16,-12 5,-8 3,-8 1,-8 0,-26 69,0 -6,16 -11,18 -8,16 -4,5 -14,11 -1,4 -5,18 -2,4zM154,76l-4,0 -4,-1 -2,-3 0,-2 4,-3 6,-1 7,2 3,2 -1,2 -3,2zM518,442l-518,0 0,-69 40,5 40,1 32,-2 56,-8 16,-1 14,3 26,16 12,5 8,1 8,0 14,-5 16,-12 8,-8 8,-12 4,-12 -2,-38 -13,-60 0,-12 4,-16 -2,-12 1,-5 4,-5 4,-1 32,2 8,3 5,4 1,6 -4,20 1,14 5,13 4,5 6,5 12,4 34,3 16,-2 24,-6 14,1 10,4 14,8 38,28z"/><path fill="#10b831" fill-rule="evenodd" d="M216,92l-8,2 -8,-3 -26,-19 -2,-2 0,-2 4,-6 16,-12 5,-8 4,-14 0,-28 67,0 -5,16 -12,18 -8,16 -3,4 -11,8 -3,4 -3,6 -2,12 -3,6zM156,75l-4,0 -4,-1 -2,-2 0,-2 2,-2 4,-1 6,1 3,2 -1,2zM518,442l-518,0 0,-63 40,4 38,1 30,-2 54,-7 18,-1 16,3 26,14 14,4 14,1 14,-5 12,-8 14,-13 9,-14 4,-12 -2,-38 -14,-60 0,-12 5,-16 -2,-16 2,-4 6,-3 32,3 8,2 4,6 0,6 -3,18 1,14 3,8 3,7 4,5 6,4 10,4 34,4 14,0 28,-3 14,2 12,5 12,7 38,28z"/><path fill="#15b62b" fill-rule="evenodd" d="M212,92l-8,0 -6,-3 -21,-17 -3,-4 2,-4 2,-2 10,-7 6,-5 5,-8 3,-14 0,-28 65,0 -6,16 -11,18 -7,14 -4,6 -13,10 -3,6 -1,10 -3,6 -3,5zM156,73l-4,1 -2,-1 -1,-1 0,-2 3,-2 3,0 3,2 -1,2zM518,442l-518,0 0,-57 38,4 36,1 30,-1 52,-6 18,-1 18,3 28,11 14,4 16,0 14,-5 10,-8 16,-16 10,-15 4,-12 -3,-38 -11,-48 -2,-14 0,-10 4,-16 -1,-12 0,-4 3,-4 5,-2 29,2 8,2 5,6 0,6 -3,18 1,14 6,14 4,6 5,5 6,3 8,2 40,5 34,2 14,4 12,5 13,8 37,28z"/><path fill="#1bb425" fill-rule="evenodd" d="M212,91l-6,0 -7,-3 -18,-16 -3,-4 2,-4 16,-14 5,-8 2,-12 0,-30 62,0 -6,16 -10,18 -7,14 -4,5 -14,11 -3,6 -2,14 -3,4zM518,442l-518,0 0,-46 36,3 34,1 30,-2 52,-4 18,-1 16,2 34,11 16,2 14,-1 12,-5 10,-8 18,-20 12,-18 3,-10 1,-8 -3,-32 -6,-20 -8,-42 0,-10 4,-16 -1,-12 0,-4 4,-4 4,-1 26,2 8,2 5,5 1,6 -3,20 2,14 5,14 4,5 6,6 8,4 20,3 50,13 20,7 13,6 13,9 40,30z"/><path fill="#23b221" fill-rule="evenodd" d="M212,89l-6,1 -6,-3 -13,-13 -4,-6 1,-4 14,-12 5,-10 2,-10 0,-32 58,0 -5,16 -10,16 -7,16 -5,6 -10,6 -4,4 -2,6 -2,12 -3,4zM518,442l-518,0 0,-36 32,3 32,1 100,-5 18,2 36,8 16,1 16,-2 14,-6 10,-9 9,-13 9,-11 11,-19 4,-10 0,-8 -3,-32 -6,-20 -7,-36 -1,-10 0,-8 4,-14 -1,-14 3,-4 8,-2 26,3 4,1 3,4 2,6 -3,22 2,12 5,14 3,6 6,6 8,5 20,3 12,4 52,24 30,19 44,34z"/><path fill="#2bb01d" fill-rule="evenodd" d="M212,86l-6,2 -6,-3 -8,-9 -5,-8 2,-4 12,-12 4,-8 1,-10 0,-34 54,0 -4,16 -10,16 -7,16 -3,4 -11,6 -4,4 -3,6 -2,12zM518,442l-518,0 0,-25 30,2 30,1 100,-4 20,2 36,6 16,1 10,0 10,-2 8,-4 8,-4 6,-6 4,-5 7,-16 20,-32 4,-10 0,-8 -3,-16 -1,-16 -6,-20 -8,-46 0,-8 4,-14 -1,-14 4,-4 6,-1 24,2 4,2 4,3 1,6 -2,20 2,16 6,16 9,11 8,4 22,4 17,9 65,45 54,43z"/><path fill="#32b018" fill-rule="evenodd" d="M210,84l-4,1 -4,-1 -6,-6 -4,-8 2,-6 11,-10 3,-8 0,-8 -1,-26 1,-12 50,0 -4,16 -10,16 -7,16 -3,4 -13,6 -4,4 -2,4 -1,13zM518,442l-518,0 0,-14 56,2 98,-1 20,1 40,5 16,1 12,-1 12,-3 10,-4 8,-5 8,-7 4,-6 2,-6 4,-16 10,-20 8,-12 3,-10 0,-8 -3,-16 -1,-16 -7,-20 -8,-46 0,-8 4,-12 -1,-16 3,-3 6,0 24,2 4,1 2,2 2,6 -2,22 2,16 6,15 8,12 8,5 18,2 11,6 9,8 24,25 42,31 56,45z"/><path fill="#39b012" fill-rule="evenodd" d="M220,54l-5,0 -3,-4 -3,-36 1,-14 46,0 -4,14 -9,16 -7,16 -4,4zM208,81l-2,0 -3,-1 -4,-6 0,-6 5,-3 4,1 2,4 1,6zM518,442l-257,0 9,-4 10,-6 6,-6 6,-8 3,-10 0,-16 1,-6 6,-17 9,-13 2,-8 0,-10 -3,-16 -1,-16 -8,-20 -2,-16 -6,-28 0,-8 4,-16 -1,-12 2,-3 6,-1 18,1 6,1 4,2 2,6 -1,22 2,16 5,15 8,14 8,6 18,3 7,4 8,10 8,22 4,6 41,29 48,40 28,22zM32,442l-32,0 0,-2z"/><path fill="#41b210" fill-rule="evenodd" d="M230,48l-8,1 -2,-1 -3,-4 -4,-14 -2,-12 -1,-10 1,-8 42,0 -1,8 -3,8 -8,14 -7,15zM516,442l-230,0 12,-12 6,-12 1,-8 -4,-18 1,-10 2,-10 10,-16 3,-10 -1,-8 -3,-16 -2,-16 -8,-20 -2,-16 -7,-26 0,-10 4,-16 0,-12 3,-2 5,0 20,1 5,3 1,6 0,18 1,12 4,18 7,17 6,10 6,3 16,3 5,5 1,4 0,6 -4,14 -1,4 1,4 3,4 7,5 26,13 16,10 48,44 43,34z"/><path fill="#49b50f" fill-rule="evenodd" d="M230,44l-4,1 -3,-1 -7,-11 -4,-19 -1,-6 2,-8 37,0 0,8 -3,8 -13,23zM490,442l-189,0 8,-12 4,-12 0,-8 -6,-20 -1,-10 2,-8 10,-16 2,-10 -1,-8 -4,-16 -2,-16 -9,-20 -3,-18 -6,-24 0,-10 4,-14 1,-12 1,-2 5,-1 16,1 6,2 2,2 1,6 0,22 2,16 8,26 3,14 3,4 8,6 3,4 1,6 -2,16 2,6 10,8 31,15 17,11 10,10 29,32 16,15 20,15z"/><path fill="#52b60e" fill-rule="evenodd" d="M230,40l-2,1 -4,-1 -4,-4 -4,-8 -4,-16 2,-12 35,0 -1,8 -2,8zM472,442l-163,0 7,-14 3,-14 -1,-9 -7,-19 -1,-8 2,-7 9,-15 2,-10 -1,-6 -4,-16 -3,-18 -10,-20 -3,-18 -6,-24 0,-10 4,-12 2,-14 6,-2 14,1 4,1 3,4 2,38 9,32 -1,14 10,18 1,18 3,8 4,4 5,4 28,12 20,12 11,12 25,32 12,12 16,14z"/><path fill="#5bb70d" fill-rule="evenodd" d="M230,36l-4,1 -4,-3 -6,-10 -3,-14 3,-10 31,0 0,8 -3,8 -10,16zM456,442l-140,0 6,-15 2,-15 -2,-10 -6,-19 0,-7 10,-18 2,-6 0,-6 -1,-6 -6,-16 -4,-18 -11,-21 -3,-19 -6,-22 0,-10 4,-14 1,-8 2,-4 6,0 12,0 4,2 2,4 3,38 6,28 -2,20 7,16 1,20 4,10 4,4 5,3 30,10 18,12 10,11 21,34 9,10 13,12z"/><path fill="#64b90c" fill-rule="evenodd" d="M230,33l-2,0 -4,-1 -4,-3 -3,-5 -2,-14 2,-10 28,0 0,8 -3,8 -6,10zM332,328l-2,0 -2,-2 -2,-4 -5,-16 -13,-20 -4,-20 -6,-20 -1,-8 1,-6 6,-20 1,-2 3,-1 15,1 3,2 2,4 2,36 5,26 0,8 -4,16 0,6 3,12 0,4zM440,442l-117,0 4,-12 1,-12 -1,-28 1,-8 9,-8 5,-9 6,-3 10,-1 10,1 10,2 8,4 12,8 8,8 4,8 13,28 7,10z"/><path fill="#6cbb0a" fill-rule="evenodd" d="M228,30l-6,-2 -5,-8 -1,-10 2,-8 1,-2 24,0 0,8 -2,8 -7,10zM326,299l-2,1 -4,-1 -10,-11 -2,-6 -3,-16 -7,-22 0,-10 6,-18 2,-4 4,-2 6,0 6,1 3,3 2,4 2,34 5,26 -2,9zM426,442l-97,0 3,-18 0,-28 3,-8 13,-16 8,-5 6,-1 8,0 8,2 8,4 10,7 7,9 3,8 7,24 5,10 9,12z"/><path fill="#75bd09" fill-rule="evenodd" d="M230,27l-4,1 -2,-1 -4,-4 -3,-9 1,-9 3,-5 20,0 1,6 -2,8 -4,7zM324,294l-2,1 -4,-1 -4,-4 -4,-6 -4,-18 -7,-24 1,-10 6,-16 2,-3 4,-2 6,1 4,1 3,3 1,4 2,34 4,22 -2,10zM414,442l-79,0 1,-38 1,-8 4,-8 9,-11 8,-5 6,-2 6,0 12,4 11,8 5,6 2,6 4,26 4,11z"/><path fill="#7ebf08" fill-rule="evenodd" d="M230,25l-4,0 -2,-1 -4,-4 -2,-8 1,-6 4,-6 15,0 2,6 -2,8 -4,7zM322,291l-6,-2 -4,-5 -5,-20 -5,-14 -2,-8 0,-10 6,-14 3,-4 5,-1 7,1 2,2 2,4 3,36 2,14 0,8 -2,6 -2,4zM402,442l-61,0 -1,-30 1,-12 2,-6 3,-6 10,-10 8,-4 10,1 10,4 8,7 4,10 0,22z"/><path fill="#86c207" fill-rule="evenodd" d="M230,22l-4,1 -4,-3 -1,-4 -1,-6 2,-5 4,-5 8,0 3,4 0,6 -3,8zM322,287l-4,0 -5,-5 -5,-18 -5,-14 -2,-8 0,-8 5,-13 4,-5 4,-2 6,2 2,2 2,5 2,15 3,36 -3,8zM390,442l-42,0 -4,-24 0,-16 3,-8 4,-6 5,-5 6,-4 8,-1 8,1 7,5 5,6 2,10 -2,18 2,24z"/><path fill="#8fc506" fill-rule="evenodd" d="M228,20l-4,-1 -2,-7 2,-6 2,-2 4,-2 4,3 1,5 -3,8zM322,282l-4,1 -4,-5 -4,-14 -6,-13 -3,-9 1,-8 2,-7 4,-7 6,-4 4,1 4,3 3,16 2,36 -2,6zM378,442l-20,0 -6,-10 -4,-14 -1,-12 4,-12 7,-8 4,-3 6,-2 6,1 6,2 6,6 2,6 0,8 -6,26 -3,12z"/><path fill="#97c804" fill-rule="evenodd" d="M228,17l-2,-1 -1,-4 1,-3 2,-1 2,0 1,4 -1,3zM322,276l-2,2 -2,-1 -2,-2 -5,-13 -7,-12 -2,-8 0,-6 3,-8 5,-8 4,-2 4,1 2,2 2,4 2,11 1,32 -1,4zM370,430l-6,1 -6,-4 -5,-9 -2,-10 2,-8 5,-8 6,-5 8,-2 6,2 3,3 3,4 0,6 -1,8 -5,12 -4,7z"/><path fill="#a0c904" fill-rule="evenodd" d="M320,270l-2,0 -2,-3 -8,-12 -5,-13 1,-8 2,-6 4,-5 4,-2 4,1 2,2 4,14 0,12 -2,14zM366,420l-4,-1 -5,-5 -1,-6 1,-6 3,-6 4,-5 4,-2 6,0 4,3 1,2 1,8 -6,13 -4,4z"/><path fill="#a9cb04" fill-rule="evenodd" d="M318,262l-4,-2 -6,-7 -4,-11 0,-6 2,-6 4,-5 4,-2 4,1 2,4 3,12 -1,14 -2,6zM370,408l-4,1 -2,-1 -1,-6 3,-6 6,-3 2,1 1,2 0,4 -1,4z"/><path fill="#b2cc04" fill-rule="evenodd" d="M318,257l-4,0 -4,-4 -3,-5 -2,-6 0,-6 1,-4 4,-5 4,-2 2,0 2,3 4,12 0,10z"/><path fill="#bace02" fill-rule="evenodd" d="M316,254l-2,0 -4,-3 -3,-5 -1,-6 2,-8 2,-2 4,-2 4,3 3,9 -1,10 -2,3z"/><path fill="#c3cf01" fill-rule="evenodd" d="M316,251l-2,0 -4,-3 -2,-6 0,-6 4,-4 4,0 2,3 2,5 -1,6z"/><path fill="#ccd000" fill-rule="evenodd" d="M316,247l-2,0 -2,-1 -2,-4 0,-4 2,-3 2,0 2,1 2,3 0,5z"/></g><path fill="none" stroke="#2a1040" stroke-opacity="0.75" stroke-width="0.9" stroke-linejoin="round" d="M267.6,65.2 269.5,66.4 271.3,67.7 273.2,68.9 275.4,69.6 278.1,69.8 281,69.7 284,69.3 286.4,68.5 288.2,67.2 289.5,65.5 290.7,63.7 291.9,61.9M308.5,47.6 311.9,49.2 315.4,50.7 318.7,52.3 321.7,54.2 324.2,56.5 326.2,59.1 328.2,61.7 330.5,64.1 333.1,66.3 335.8,68.4 338.6,70.2 341.6,71.8 344.8,73 348.1,73.8 351.5,74.5 354.8,75.2M273.2,104.9 276.4,103.9 279.7,102.8 282.9,102 286.4,101.6 290.2,101.9 294.4,102.6 298.4,103.6 301.8,104.9 304.7,106.5 307.4,108.3 309.4,110.4 310.7,112.7 311.1,115.4 310.8,118.4 309.9,121.3 308.5,123.7 306.4,125.5 303.6,126.9 300.5,127.8 297.4,128.1 294.2,127.6 290.9,126.4 287.5,125 284.2,123.7M305.2,173.4 306.5,172.2 307.7,171 309.1,169.9 310.7,169 312.7,168.5 314.9,168.2 317.2,168 319.5,167.8M328.3,175.6 326.2,176.8 324,178.1 321.9,179.3 319.5,180 316.7,180.2 313.7,180.1 310.8,179.6 308.5,178.9 307.1,177.8 306.4,176.4 305.8,174.9 305.2,173.4M253.3,160.1 255.6,162.5 258,164.9 260.2,167.4 262.1,170.1 263.7,173.1 265,176.4 266,179.8 266.5,183.3 266.4,187.1 265.9,191.1 265.1,195 264.3,198.7 263.6,202 262.7,205 261.9,207.9 261,210.9M165,106.1 168.4,105.6 171.9,105.1 175.3,104.7 178.3,104.9 181,105.6 183.6,106.8 185.7,108.4 187.1,110.5 187.6,113.2 187.3,116.5 186.7,120.1 186,123.7 185.3,127.4 184.5,131.3 183.6,135.3 182.7,139.2M140.7,53.1 144.1,50.4 147.6,47.5 151,45 154,43.2 156.7,42.4 159.2,42.2 161.2,42.6 162.8,43.2 163.6,44.2 163.8,45.6 163.8,47.2 163.9,48.7M235,272 238.4,270.2 241.8,268.3 245.2,266.6 248.5,264.9 251.8,263.5 255.2,262.2 258.3,260.9 261,259.5 263.1,257.9 264.9,256.2 266.2,254.4 267.3,252.3 268,250 268.4,247.4 268.4,244.6 268.2,241.6 267.6,238.2 266.7,234.5 265.7,230.8 264.6,227.2 263.5,223.9 262.4,220.8 261.2,217.8 260.1,214.7M307.6,248.7 307,246.9 306.4,245.2 305.9,243.4 305.8,241.6 306.2,239.7 307,237.8 308.1,235.9 309.4,234.4 310.9,233.1 312.8,232 314.7,231.2 316.6,230.8 318.5,230.9 320.5,231.5 322.3,232.4 323.8,233.5 324.8,235 325.4,236.8 325.9,238.8 326.5,240.7"/><path fill="none" stroke="#0a0410" stroke-width="4" stroke-linecap="butt" stroke-linejoin="round" d="M120.9,46.5 127.5,49.8M184.9,6.7 186.6,8.9 188.3,11 190,13.2 191.5,15.6 192.9,18.2 194.2,21 195.3,23.8 195.9,26.6 196,29.4 195.8,32.2 195,35 193.7,37.6 191.5,40 188.5,42.3 185.4,44.4 182.7,46.5 180.9,48.6 179.5,50.6 178,52.5 176,54.2 173.2,55.8 169.9,57.2 166.4,58.5 162.8,59.7 159,60.7 154.8,61.5 150.8,62.2 147.4,63 144.5,63.8 142.1,64.6 140,65.4 138.5,66.3 137.5,67.3 136.9,68.5 136.9,69.7 137.4,70.7 138.7,71.6 140.7,72.4 143,73.2 145.1,74M244.5,60.8 240.5,61.9 236.5,62.9 232.6,64 229,65.2 225.5,66.4 222.2,67.5 219.2,68.9 216.9,70.7 215.4,73.1 214.4,75.9 213.9,78.9 213.6,81.8 213.4,84.7 213.5,87.6 213.9,90.4 214.7,92.8 216,94.8 217.9,96.4 219.8,97.9 221.3,99.4 222.5,100.9 223.6,102.3 224.4,103.6 224.6,104.9 224.1,106.2 223.2,107.6 221.8,108.7 220.2,109.4 218.3,109.6 215.9,109.5 213.6,109 211.4,108.3 209.5,107.3 207.8,105.9 206.2,104.4 204.7,102.7 203.4,100.9 202.4,99 201.3,97.1 200.3,95 199.2,92.9 198.1,90.7 197,88.4 195.9,86.2M266.5,33.2 264.7,34.8 262.9,36.4 261.2,38 259.9,39.8 259,41.9 258.5,44.1 258.1,46.4 257.7,48.7M314,192.1 316.4,192.3 318.7,192.4 321.2,192.6 323.9,193.2 327.1,194.2 330.8,195.5 334.3,197 337.2,198.7 339.5,200.5 341.4,202.5 342.8,204.8 343.8,207.6 344,211.5 343.5,216.3 342.9,220.5 342.7,223 343.1,222.9 343.8,221.1 344.6,218.6 345.3,216.5M276.5,220.8 276.1,220.7 275.7,220.4 275.4,220.5 275.4,221.8 275.7,224.7 276.2,228.7 277,233.3 278,238 279.3,242.7 280.9,247.7 282.6,252.8 284.3,257.7 286,262.3 287.7,266.6 289.3,271 290.6,275.6 291.3,280.5 291.7,285.5 292,290.5 292.4,295.4 292.9,300 293.4,304.5 294.1,308.9 295.1,313.3 296.6,317.9 298.5,322.7 300.5,327.2 302.2,331.2 303.7,334.4 305,337.2 306.1,339.6 306.7,342 306.9,344.3 306.8,346.5 306.2,348.6 304.9,350.9 302.9,353.5 300.2,356.2 297,359 293.3,361.7 288.9,364.4 283.8,367.2 278.5,369.9 273.6,372.5 269.1,375 264.9,377.5 260.7,379.9 256.5,382.3M346.2,205.7 346,208.3 345.9,210.9 345.7,213.6 345.3,216.5 344.7,219.8 343.8,223.3 343.1,227 342.6,230.8 342.5,234.9 342.5,239.2 342.9,243.3 343.5,246.9 344.4,249.8 345.6,252.1 347.1,254.1 348.9,255.9 351,257.5 353.5,258.8 356.3,259.8 359.6,260.4 363.5,260.4 368,260 372.8,259.3 377.6,258.6 382.4,257.8 387.3,256.9 392.3,255.9 397.3,255"/><text class="cl" style="font-size:23.5px" text-anchor="middle" transform="translate(170.5,75.2) rotate(5)" y="8.5">0.4</text><text class="cl" style="font-size:23.5px" text-anchor="middle" transform="translate(283.1,52.0) rotate(-10)" y="8.5">0.2</text><text class="cl" style="font-size:23.5px" text-anchor="middle" transform="translate(307.4,81.8) rotate(5)" y="8.5">0.4</text><text class="cl" style="font-size:23.5px" text-anchor="middle" transform="translate(379.2,76.3) rotate(0)" y="8.5">0.2</text><text class="cl" style="font-size:23.5px" text-anchor="middle" transform="translate(261.0,112.7) rotate(60)" y="8.5">2</text><text class="cl" style="font-size:23.5px" text-anchor="middle" transform="translate(328.3,166.7) rotate(30)" y="8.5">0.2</text><text class="cl" style="font-size:23.5px" text-anchor="middle" transform="translate(289.7,207.6) rotate(-15)" y="8.5">0.4</text><text class="cl" style="font-size:23.5px" text-anchor="middle" transform="translate(322.0,259.5) rotate(-50)" y="8.5">0.6</text><text class="cl" style="font-size:23.5px" text-anchor="middle" transform="translate(210.2,276.0) rotate(30)" y="8.5">0.2</text></g>
<use href="#land"/>
<use href="#grid"/>
<path stroke="#1a0828" stroke-opacity="0.8" stroke-width="3.2" stroke-linecap="round" d="M224.1,21.3h0M188,36.6h0M209.2,36.2h0M234.6,37.1h0M202.4,42.2h0M195.3,49.2h0M231.2,51.5h0M159.2,51.1h0M159.5,66.9h0M179.1,68.8h0M167,76.8h0M160.5,83.7h0M177.8,83.7h0M162.3,88h0M206.6,83.3h0M227.5,83.3h0M252.3,79.4h0M249.8,86.8h0M248,94.3h0M167.5,97.6h0M212,101.7h0M245.2,104.5h0M182.8,111.6h0M196.8,111.6h0M278.7,65h0M278.7,90.5h0M341.7,40.3h0M352.7,39.9h0M324.7,48.6h0M317.9,63.5h0M345.8,63.8h0M327.8,92.7h0M303,101.4h0M297.1,114.4h0M312.9,115.7h0M278.2,115h0M311,128.7h0M332.4,128.7h0M296.4,129.9h0M303.9,148h0M301.4,156.1h0M327.8,147.7h0M345.5,148h0M316,174.1h0M239.3,196.5h0M265.2,196.5h0M291.5,196.5h0M317.5,196.5h0M357.3,196.5h0M291.5,220.9h0M239,245.1h0M265,245.3h0M278,245.3h0M291.6,245.3h0M318,245.3h0M356.8,244.7h0M254.8,293.3h0M278,293.1h0M304.6,293.1h0M320.8,293.1h0M356.8,293.3h0M278,341.2h0M305,341.2h0M337.6,341.2h0M356.8,341.2h0M298.1,390h0M318,390h0M337.6,390h0M356.8,390h0"/><path stroke="#0a0410" stroke-width="5.5" stroke-linecap="round" d="M235.7,36.5h2M317.4,389.5h2"/>
</g>
<use href="#frameG"/>
<text class="ax" text-anchor="end" x="-6" y="11.5">40°N</text>
<text class="ax" text-anchor="end" x="-6" y="108.5">38°N</text>
<text class="ax" text-anchor="end" x="-6" y="205.5">36°N</text>
<text class="ax" text-anchor="end" x="-6" y="302.5">34°N</text>
<text class="ax" text-anchor="end" x="-6" y="399.5">32°N</text>
<text class="ax" text-anchor="middle" x="3.1" y="472.3">115°E</text>
<text class="ax" text-anchor="middle" x="200.1" y="472.3">120°E</text>
<text class="ax" text-anchor="middle" x="397.1" y="472.3">125°E</text>
<text class="odv" transform="translate(537.6,434.6) rotate(-90)">Ocean Data View</text>
<path d="M551.9,3.4 L567.15,-4.0 L582.4,3.4 Z" fill="#f8b47c"/>
<path d="M551.9,437.7 L567.15,445.09999999999997 L582.4,437.7 Z" fill="#e870f8"/>
<rect x="551.9" y="2.9" width="30.5" height="435.3" fill="url(#cbg)"/>
<path d="M551.9,2.9 L567.15,-4.0 L582.4,2.9 V438.2 L567.15,445.09999999999997 L551.9,438.2 Z" fill="none" stroke="#4a4038" stroke-width="0.8"/>
<path d="M551.9,438.2h6.5M582.4,438.2h-6.5" stroke="#000" stroke-width="1.6"/>
<text class="ax" x="589.4" y="447.2">0</text>
<path d="M551.9,351.1h6.5M582.4,351.1h-6.5" stroke="#000" stroke-width="1.6"/>
<text class="ax" x="589.4" y="360.1">0.2</text>
<path d="M551.9,264.1h6.5M582.4,264.1h-6.5" stroke="#000" stroke-width="1.6"/>
<text class="ax" x="589.4" y="273.1">0.4</text>
<path d="M551.9,177.0h6.5M582.4,177.0h-6.5" stroke="#000" stroke-width="1.6"/>
<text class="ax" x="589.4" y="186.0">0.6</text>
<path d="M551.9,90.0h6.5M582.4,90.0h-6.5" stroke="#000" stroke-width="1.6"/>
<text class="ax" x="589.4" y="99.0">0.8</text>
<path d="M551.9,2.9h6.5M582.4,2.9h-6.5" stroke="#000" stroke-width="1.6"/>
<text class="ax" x="589.4" y="11.9">1</text>
</g>
<text class="pl" x="717.4" y="1736.8">H</text>
<text class="tt" x="888.2" y="1745.7">[</text><text class="tt" x="903.1" y="1745.7">P</text><text class="tt" x="927.1" y="1745.7">O</text><text class="tt" x="955.8000000000001" y="1760.9" style="font-size:19px">4</text><text class="tt" x="968.4000000000001" y="1736.2" style="font-size:19px">3-</text><text class="tt" x="986.2" y="1745.7">]</text><text class="tt" x="1015.0" y="1745.7" textLength="88.5" lengthAdjust="spacingAndGlyphs">µmol</text><text class="tt" x="1115.2" y="1745.7">L</text><text class="tt" x="1139.8" y="1732.2" style="font-size:19px">-1</text><text class="tt at" x="1156.2" y="1745.7">@</text><text class="tt" x="1333.9" y="1745.7" text-anchor="end">bottom</text>
</svg></body></html>
